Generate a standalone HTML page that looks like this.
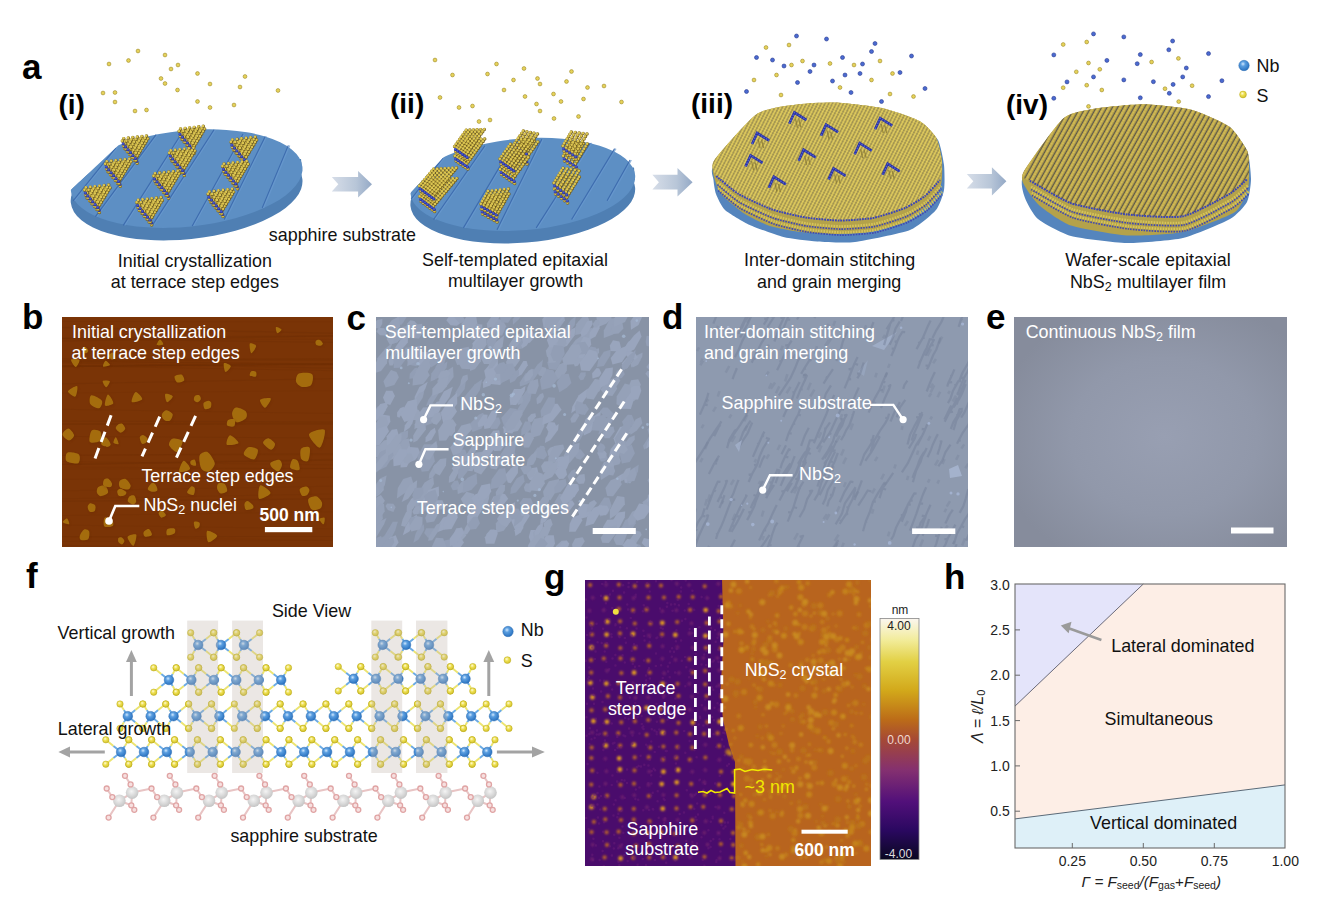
<!DOCTYPE html>
<html><head><meta charset="utf-8"><title>figure</title>
<style>html,body{margin:0;padding:0;background:#fff;width:1340px;height:910px;overflow:hidden}svg{display:block}text{font-family:"Liberation Sans",sans-serif}</style>
</head><body>
<svg width="1340" height="910" viewBox="0 0 1340 910" font-family="Liberation Sans"><defs>
<clipPath id="clipb"><rect x="62" y="317" width="271" height="230"/></clipPath>
<clipPath id="clipc"><rect x="376" y="317" width="273" height="230"/></clipPath>
<clipPath id="clipd"><rect x="696" y="317" width="272" height="230"/></clipPath>
<clipPath id="clipg"><rect x="585" y="580" width="286" height="286"/></clipPath>
<clipPath id="cliph"><rect x="1015" y="584" width="270" height="264"/></clipPath>
<filter id="soft" x="-20%" y="-20%" width="140%" height="140%"><feGaussianBlur stdDeviation="0.6"/></filter>
<filter id="soft2" x="-20%" y="-20%" width="140%" height="140%"><feGaussianBlur stdDeviation="1.0"/></filter>
<radialGradient id="eg" cx="0.55" cy="0.52" r="0.62">
<stop offset="0" stop-color="#989fb2"/><stop offset="0.55" stop-color="#9198aa"/><stop offset="1" stop-color="#868c9c"/>
</radialGradient><radialGradient id="nbg" cx="0.4" cy="0.35" r="0.65">
<stop offset="0" stop-color="#d0e8ff"/><stop offset="0.35" stop-color="#5a9ee0"/><stop offset="1" stop-color="#2a72c0"/>
</radialGradient>
<radialGradient id="sg" cx="0.4" cy="0.35" r="0.65">
<stop offset="0" stop-color="#fffbd8"/><stop offset="0.45" stop-color="#eee050"/><stop offset="1" stop-color="#d4c230"/>
</radialGradient>
<radialGradient id="alg" cx="0.45" cy="0.4" r="0.6">
<stop offset="0" stop-color="#f4f4f4"/><stop offset="0.6" stop-color="#d8d8d8"/><stop offset="1" stop-color="#c4c4c4"/>
</radialGradient>
<linearGradient id="cbar" x1="0" y1="0" x2="0" y2="1">
<stop offset="0" stop-color="#fbf6f0"/><stop offset="0.09" stop-color="#f2ec9a"/>
<stop offset="0.18" stop-color="#e2d044"/><stop offset="0.3" stop-color="#d2a81a"/>
<stop offset="0.42" stop-color="#bc6c18"/><stop offset="0.5" stop-color="#a64a34"/>
<stop offset="0.63" stop-color="#843070"/><stop offset="0.76" stop-color="#52107a"/>
<stop offset="0.88" stop-color="#2a0860"/><stop offset="1" stop-color="#0a0820"/>
</linearGradient>
<linearGradient id="arrowg" x1="0" y1="0" x2="1" y2="0">
<stop offset="0" stop-color="#d6dde8"/><stop offset="0.6" stop-color="#b8c6d8"/><stop offset="1" stop-color="#94a9c6"/>
</linearGradient>
<pattern id="film3" patternUnits="userSpaceOnUse" width="3.3" height="2.7" patternTransform="rotate(27)">
<rect width="3.3" height="2.7" fill="#6a6450"/>
<rect x="0.35" y="0" width="2.6" height="2.7" fill="#c4b04c"/>
<circle cx="1.65" cy="1.35" r="1.15" fill="#e0cc60"/>
</pattern>
<pattern id="film4" patternUnits="userSpaceOnUse" width="4.7" height="2.9" patternTransform="rotate(29)">
<rect width="4.7" height="2.9" fill="#4a4a50"/>
<rect x="0.8" y="0" width="3.7" height="2.9" fill="#b8a244"/>
<rect x="1.4" y="0.2" width="2.2" height="2.5" rx="1" fill="#d4be5a"/>
</pattern>
<pattern id="edgepat" patternUnits="userSpaceOnUse" width="3" height="4.2">
<rect width="3" height="4.2" fill="#b8a850"/>
<circle cx="1.5" cy="1.2" r="1.1" fill="#d8c860"/>
<circle cx="1.5" cy="3.2" r="0.9" fill="#4a54b8"/>
</pattern>
</defs>
<clipPath id="cd1"><path d="M29.3,229.1 L146.9,118.5 L146.9,0 L363.0,0 L363.0,300 L29.3,300Z"/></clipPath>
<g clip-path="url(#cd1)">
<ellipse cx="186.6" cy="191.1" rx="116.4" ry="48.1" transform="rotate(-5.8 186.6 191.1)" fill="#4f7fb3"/>
<rect x="70.8" y="170.6" width="231.6" height="12.5" fill="#4f7fb3" transform="rotate(-5.8 186.6 178.6)"/>
<ellipse cx="186.6" cy="178.6" rx="116.4" ry="48.1" transform="rotate(-5.8 186.6 178.6)" fill="#5d8fc4"/>
<line x1="74.39999999999999" y1="200.8" x2="117.3" y2="147.6" stroke="#6a9ad0" stroke-width="1.4" opacity="0.7"/>
<line x1="73.1" y1="200.8" x2="116" y2="147.6" stroke="#3a68ac" stroke-width="1.1" opacity="0.9"/>
<line x1="96.7" y1="216.7" x2="157.4" y2="134.6" stroke="#6a9ad0" stroke-width="1.4" opacity="0.7"/>
<line x1="95.4" y1="216.7" x2="156.1" y2="134.6" stroke="#3a68ac" stroke-width="1.1" opacity="0.9"/>
<line x1="124.6" y1="225.4" x2="183.9" y2="131.7" stroke="#6a9ad0" stroke-width="1.4" opacity="0.7"/>
<line x1="123.3" y1="225.4" x2="182.6" y2="131.7" stroke="#3a68ac" stroke-width="1.1" opacity="0.9"/>
<line x1="153.60000000000002" y1="225.4" x2="215.3" y2="129.8" stroke="#6a9ad0" stroke-width="1.4" opacity="0.7"/>
<line x1="152.3" y1="225.4" x2="214" y2="129.8" stroke="#3a68ac" stroke-width="1.1" opacity="0.9"/>
<line x1="193.5" y1="226" x2="244.3" y2="134" stroke="#6a9ad0" stroke-width="1.4" opacity="0.7"/>
<line x1="192.2" y1="226" x2="243" y2="134" stroke="#3a68ac" stroke-width="1.1" opacity="0.9"/>
<line x1="225.5" y1="219.5" x2="266.5" y2="136.5" stroke="#6a9ad0" stroke-width="1.4" opacity="0.7"/>
<line x1="224.2" y1="219.5" x2="265.2" y2="136.5" stroke="#3a68ac" stroke-width="1.1" opacity="0.9"/>
<line x1="263.5" y1="207.9" x2="289.6" y2="145.4" stroke="#6a9ad0" stroke-width="1.4" opacity="0.7"/>
<line x1="262.2" y1="207.9" x2="288.3" y2="145.4" stroke="#3a68ac" stroke-width="1.1" opacity="0.9"/>
</g>
<path d="M181.7 139.1h0M184.2 142.0h0M186.6 144.9h0M189.1 147.8h0M191.5 150.7h0M194.0 153.6h0" stroke="#7a6420" stroke-width="3.50" stroke-linecap="round" fill="none" />
<path d="M181.5 138.8h0M184.0 141.7h0M186.4 144.6h0M188.9 147.5h0M191.3 150.4h0M193.8 153.3h0" stroke="#d4be4c" stroke-width="2.60" stroke-linecap="round" fill="none" />
<path d="M180.5 134.1h0M181.9 131.8h0M183.0 137.0h0M184.7 134.1h0M186.5 131.2h0M185.4 139.9h0M186.8 137.6h0M188.2 135.3h0M189.6 133.0h0M191.0 130.7h0M187.9 142.8h0M189.4 140.3h0M190.9 137.7h0M192.5 135.2h0M194.0 132.7h0M195.5 130.2h0M190.3 145.7h0M191.7 143.4h0M193.1 141.1h0M194.5 138.8h0M195.9 136.5h0M197.3 134.2h0M198.7 131.9h0M200.1 129.6h0M192.8 148.6h0M194.3 146.2h0M195.8 143.7h0M197.2 141.3h0M198.7 138.9h0M200.2 136.4h0M201.7 134.0h0M203.1 131.5h0M204.6 129.1h0" stroke="#6e5a1c" stroke-width="3.50" stroke-linecap="round" fill="none" />
<path d="M180.2 133.8h0M181.7 131.4h0M182.7 136.7h0M184.5 133.8h0M186.2 130.9h0M185.2 139.6h0M186.6 137.2h0M188.0 134.9h0M189.3 132.6h0M190.7 130.3h0M187.6 142.5h0M189.2 139.9h0M190.7 137.4h0M192.2 134.9h0M193.7 132.3h0M195.3 129.8h0M190.1 145.4h0M191.5 143.1h0M192.9 140.8h0M194.3 138.5h0M195.6 136.2h0M197.0 133.9h0M198.4 131.6h0M199.8 129.3h0M192.6 148.3h0M194.0 145.8h0M195.5 143.4h0M197.0 140.9h0M198.5 138.5h0M199.9 136.1h0M201.4 133.6h0M202.9 131.2h0M204.4 128.8h0" stroke="#dcc652" stroke-width="2.60" stroke-linecap="round" fill="none" />
<path d="M181.4 137.1h0M183.9 140.0h0M186.3 142.9h0M188.8 145.8h0M191.2 148.7h0M193.7 151.6h0" stroke="#26309a" stroke-width="3.20" stroke-linecap="round" fill="none" />
<path d="M181.1 136.8h0M183.6 139.7h0M186.0 142.6h0M188.5 145.5h0M190.9 148.4h0M193.4 151.3h0" stroke="#4656cc" stroke-width="2.21" stroke-linecap="round" fill="none" />
<path d="M180.4 136.3h0M182.9 139.2h0M185.3 142.1h0M187.8 145.0h0M190.2 147.9h0M192.7 150.8h0" stroke="#7a6420" stroke-width="3.50" stroke-linecap="round" fill="none" />
<path d="M180.2 136.0h0M182.7 138.9h0M185.1 141.8h0M187.6 144.7h0M190.0 147.6h0M192.5 150.5h0" stroke="#d4be4c" stroke-width="2.60" stroke-linecap="round" fill="none" />
<path d="M179.2 131.3h0M180.6 129.0h0M181.7 134.2h0M183.4 131.3h0M185.2 128.4h0M184.1 137.1h0M185.5 134.8h0M186.9 132.5h0M188.3 130.2h0M189.7 127.9h0M186.6 140.0h0M188.1 137.5h0M189.6 134.9h0M191.2 132.4h0M192.7 129.9h0M194.2 127.4h0M189.0 142.9h0M190.4 140.6h0M191.8 138.3h0M193.2 136.0h0M194.6 133.7h0M196.0 131.4h0M197.4 129.1h0M198.8 126.8h0M191.5 145.8h0M193.0 143.4h0M194.4 140.9h0M195.9 138.5h0M197.4 136.1h0M198.9 133.6h0M200.4 131.2h0M201.8 128.7h0M203.3 126.3h0" stroke="#6e5a1c" stroke-width="3.50" stroke-linecap="round" fill="none" />
<path d="M178.9 131.0h0M180.4 128.6h0M181.4 133.9h0M183.2 131.0h0M184.9 128.1h0M183.9 136.8h0M185.3 134.4h0M186.7 132.1h0M188.0 129.8h0M189.4 127.5h0M186.3 139.7h0M187.9 137.1h0M189.4 134.6h0M190.9 132.1h0M192.4 129.5h0M194.0 127.0h0M188.8 142.6h0M190.2 140.3h0M191.6 138.0h0M193.0 135.7h0M194.3 133.4h0M195.7 131.1h0M197.1 128.8h0M198.5 126.5h0M191.2 145.5h0M192.7 143.0h0M194.2 140.6h0M195.7 138.1h0M197.2 135.7h0M198.6 133.3h0M200.1 130.8h0M201.6 128.4h0M203.1 126.0h0" stroke="#dcc652" stroke-width="2.60" stroke-linecap="round" fill="none" />
<path d="M180.1 134.3h0M182.6 137.2h0M185.0 140.1h0M187.5 143.0h0M189.9 145.9h0M192.4 148.8h0" stroke="#26309a" stroke-width="3.20" stroke-linecap="round" fill="none" />
<path d="M179.8 134.0h0M182.3 136.9h0M184.7 139.8h0M187.2 142.7h0M189.6 145.6h0M192.1 148.5h0" stroke="#4656cc" stroke-width="2.21" stroke-linecap="round" fill="none" />
<path d="M124.9 148.8h0M127.4 151.7h0M129.8 154.6h0M132.3 157.5h0M134.7 160.4h0M137.2 163.3h0" stroke="#7a6420" stroke-width="3.50" stroke-linecap="round" fill="none" />
<path d="M124.7 148.5h0M127.2 151.4h0M129.6 154.3h0M132.1 157.2h0M134.5 160.1h0M137.0 163.0h0" stroke="#d4be4c" stroke-width="2.60" stroke-linecap="round" fill="none" />
<path d="M123.7 143.8h0M125.1 141.5h0M126.2 146.7h0M127.9 143.8h0M129.7 140.9h0M128.6 149.6h0M130.0 147.3h0M131.4 145.0h0M132.8 142.7h0M134.2 140.4h0M131.1 152.5h0M132.6 150.0h0M134.1 147.4h0M135.7 144.9h0M137.2 142.4h0M138.7 139.9h0M133.5 155.4h0M134.9 153.1h0M136.3 150.8h0M137.7 148.5h0M139.1 146.2h0M140.5 143.9h0M141.9 141.6h0M143.3 139.3h0M136.0 158.3h0M137.5 155.9h0M138.9 153.4h0M140.4 151.0h0M141.9 148.6h0M143.4 146.1h0M144.9 143.7h0M146.3 141.2h0M147.8 138.8h0" stroke="#6e5a1c" stroke-width="3.50" stroke-linecap="round" fill="none" />
<path d="M123.4 143.5h0M124.9 141.1h0M125.9 146.4h0M127.7 143.5h0M129.4 140.6h0M128.4 149.3h0M129.8 146.9h0M131.2 144.6h0M132.5 142.3h0M133.9 140.0h0M130.8 152.2h0M132.4 149.6h0M133.9 147.1h0M135.4 144.6h0M136.9 142.0h0M138.5 139.5h0M133.3 155.1h0M134.7 152.8h0M136.1 150.5h0M137.5 148.2h0M138.8 145.9h0M140.2 143.6h0M141.6 141.3h0M143.0 139.0h0M135.8 158.0h0M137.2 155.5h0M138.7 153.1h0M140.2 150.6h0M141.7 148.2h0M143.1 145.8h0M144.6 143.3h0M146.1 140.9h0M147.6 138.5h0" stroke="#dcc652" stroke-width="2.60" stroke-linecap="round" fill="none" />
<path d="M124.6 146.8h0M127.1 149.7h0M129.5 152.6h0M132.0 155.5h0M134.4 158.4h0M136.9 161.3h0" stroke="#26309a" stroke-width="3.20" stroke-linecap="round" fill="none" />
<path d="M124.3 146.5h0M126.8 149.4h0M129.2 152.3h0M131.7 155.2h0M134.1 158.1h0M136.6 161.0h0" stroke="#4656cc" stroke-width="2.21" stroke-linecap="round" fill="none" />
<path d="M123.6 146.0h0M126.1 148.9h0M128.5 151.8h0M131.0 154.7h0M133.4 157.6h0M135.9 160.5h0" stroke="#7a6420" stroke-width="3.50" stroke-linecap="round" fill="none" />
<path d="M123.4 145.7h0M125.9 148.6h0M128.3 151.5h0M130.8 154.4h0M133.2 157.3h0M135.7 160.2h0" stroke="#d4be4c" stroke-width="2.60" stroke-linecap="round" fill="none" />
<path d="M122.4 141.0h0M123.8 138.7h0M124.9 143.9h0M126.6 141.0h0M128.4 138.1h0M127.3 146.8h0M128.7 144.5h0M130.1 142.2h0M131.5 139.9h0M132.9 137.6h0M129.8 149.7h0M131.3 147.2h0M132.8 144.6h0M134.4 142.1h0M135.9 139.6h0M137.4 137.1h0M132.2 152.6h0M133.6 150.3h0M135.0 148.0h0M136.4 145.7h0M137.8 143.4h0M139.2 141.1h0M140.6 138.8h0M142.0 136.5h0M134.7 155.5h0M136.2 153.1h0M137.6 150.6h0M139.1 148.2h0M140.6 145.8h0M142.1 143.3h0M143.6 140.9h0M145.0 138.4h0M146.5 136.0h0" stroke="#6e5a1c" stroke-width="3.50" stroke-linecap="round" fill="none" />
<path d="M122.1 140.7h0M123.6 138.3h0M124.6 143.6h0M126.4 140.7h0M128.1 137.8h0M127.1 146.5h0M128.5 144.1h0M129.9 141.8h0M131.2 139.5h0M132.6 137.2h0M129.5 149.3h0M131.1 146.8h0M132.6 144.3h0M134.1 141.8h0M135.6 139.2h0M137.2 136.7h0M132.0 152.2h0M133.4 150.0h0M134.8 147.7h0M136.2 145.4h0M137.5 143.1h0M138.9 140.8h0M140.3 138.5h0M141.7 136.2h0M134.4 155.2h0M135.9 152.7h0M137.4 150.3h0M138.9 147.8h0M140.3 145.4h0M141.8 143.0h0M143.3 140.5h0M144.8 138.1h0M146.2 135.7h0" stroke="#dcc652" stroke-width="2.60" stroke-linecap="round" fill="none" />
<path d="M123.3 144.0h0M125.8 146.9h0M128.2 149.8h0M130.7 152.7h0M133.1 155.6h0M135.6 158.5h0" stroke="#26309a" stroke-width="3.20" stroke-linecap="round" fill="none" />
<path d="M123.0 143.7h0M125.5 146.6h0M127.9 149.5h0M130.4 152.4h0M132.8 155.3h0M135.3 158.2h0" stroke="#4656cc" stroke-width="2.21" stroke-linecap="round" fill="none" />
<path d="M233.7 150.0h0M236.2 152.9h0M238.6 155.8h0M241.1 158.7h0M243.5 161.6h0M246.0 164.5h0" stroke="#7a6420" stroke-width="3.50" stroke-linecap="round" fill="none" />
<path d="M233.5 149.7h0M236.0 152.6h0M238.4 155.5h0M240.9 158.4h0M243.3 161.3h0M245.8 164.2h0" stroke="#d4be4c" stroke-width="2.60" stroke-linecap="round" fill="none" />
<path d="M232.5 145.0h0M233.9 142.7h0M235.0 147.9h0M236.7 145.0h0M238.5 142.1h0M237.4 150.8h0M238.8 148.5h0M240.2 146.2h0M241.6 143.9h0M243.0 141.6h0M239.9 153.7h0M241.4 151.2h0M242.9 148.6h0M244.5 146.1h0M246.0 143.6h0M247.5 141.1h0M242.3 156.6h0M243.7 154.3h0M245.1 152.0h0M246.5 149.7h0M247.9 147.4h0M249.3 145.1h0M250.7 142.8h0M252.1 140.5h0M244.8 159.5h0M246.3 157.1h0M247.8 154.6h0M249.2 152.2h0M250.7 149.8h0M252.2 147.3h0M253.7 144.9h0M255.1 142.4h0M256.6 140.0h0" stroke="#6e5a1c" stroke-width="3.50" stroke-linecap="round" fill="none" />
<path d="M232.2 144.7h0M233.7 142.3h0M234.7 147.6h0M236.5 144.7h0M238.2 141.8h0M237.2 150.5h0M238.6 148.1h0M240.0 145.8h0M241.3 143.5h0M242.7 141.2h0M239.6 153.3h0M241.2 150.8h0M242.7 148.3h0M244.2 145.8h0M245.7 143.2h0M247.3 140.7h0M242.1 156.2h0M243.5 154.0h0M244.9 151.7h0M246.3 149.4h0M247.6 147.1h0M249.0 144.8h0M250.4 142.5h0M251.8 140.2h0M244.6 159.2h0M246.0 156.7h0M247.5 154.3h0M249.0 151.8h0M250.5 149.4h0M251.9 147.0h0M253.4 144.5h0M254.9 142.1h0M256.4 139.7h0" stroke="#dcc652" stroke-width="2.60" stroke-linecap="round" fill="none" />
<path d="M233.4 148.0h0M235.9 150.9h0M238.3 153.8h0M240.8 156.7h0M243.2 159.6h0M245.7 162.5h0" stroke="#26309a" stroke-width="3.20" stroke-linecap="round" fill="none" />
<path d="M233.1 147.7h0M235.6 150.6h0M238.0 153.5h0M240.5 156.4h0M242.9 159.3h0M245.4 162.2h0" stroke="#4656cc" stroke-width="2.21" stroke-linecap="round" fill="none" />
<path d="M232.4 147.2h0M234.9 150.1h0M237.3 153.0h0M239.8 155.9h0M242.2 158.8h0M244.7 161.7h0" stroke="#7a6420" stroke-width="3.50" stroke-linecap="round" fill="none" />
<path d="M232.2 146.9h0M234.7 149.8h0M237.1 152.7h0M239.6 155.6h0M242.0 158.5h0M244.5 161.4h0" stroke="#d4be4c" stroke-width="2.60" stroke-linecap="round" fill="none" />
<path d="M231.2 142.2h0M232.6 139.9h0M233.7 145.1h0M235.4 142.2h0M237.2 139.3h0M236.1 148.0h0M237.5 145.7h0M238.9 143.4h0M240.3 141.1h0M241.7 138.8h0M238.6 150.9h0M240.1 148.4h0M241.6 145.8h0M243.2 143.3h0M244.7 140.8h0M246.2 138.3h0M241.0 153.8h0M242.4 151.5h0M243.8 149.2h0M245.2 146.9h0M246.6 144.6h0M248.0 142.3h0M249.4 140.0h0M250.8 137.7h0M243.5 156.7h0M245.0 154.3h0M246.4 151.8h0M247.9 149.4h0M249.4 146.9h0M250.9 144.5h0M252.4 142.1h0M253.8 139.6h0M255.3 137.2h0" stroke="#6e5a1c" stroke-width="3.50" stroke-linecap="round" fill="none" />
<path d="M230.9 141.8h0M232.4 139.5h0M233.4 144.8h0M235.2 141.9h0M236.9 139.0h0M235.9 147.7h0M237.3 145.3h0M238.7 143.0h0M240.0 140.7h0M241.4 138.4h0M238.3 150.5h0M239.9 148.0h0M241.4 145.5h0M242.9 143.0h0M244.4 140.4h0M246.0 137.9h0M240.8 153.4h0M242.2 151.2h0M243.6 148.9h0M245.0 146.6h0M246.3 144.3h0M247.7 142.0h0M249.1 139.7h0M250.5 137.4h0M243.2 156.3h0M244.7 153.9h0M246.2 151.5h0M247.7 149.0h0M249.2 146.6h0M250.6 144.2h0M252.1 141.7h0M253.6 139.3h0M255.1 136.8h0" stroke="#dcc652" stroke-width="2.60" stroke-linecap="round" fill="none" />
<path d="M232.1 145.2h0M234.6 148.1h0M237.0 151.0h0M239.5 153.9h0M241.9 156.8h0M244.4 159.7h0" stroke="#26309a" stroke-width="3.20" stroke-linecap="round" fill="none" />
<path d="M231.8 144.9h0M234.3 147.8h0M236.7 150.7h0M239.2 153.6h0M241.6 156.5h0M244.1 159.4h0" stroke="#4656cc" stroke-width="2.21" stroke-linecap="round" fill="none" />
<path d="M172.0 160.9h0M174.5 163.8h0M176.9 166.7h0M179.4 169.6h0M181.8 172.5h0M184.3 175.4h0" stroke="#7a6420" stroke-width="3.50" stroke-linecap="round" fill="none" />
<path d="M171.8 160.6h0M174.3 163.5h0M176.7 166.4h0M179.2 169.3h0M181.6 172.2h0M184.1 175.1h0" stroke="#d4be4c" stroke-width="2.60" stroke-linecap="round" fill="none" />
<path d="M170.8 155.9h0M172.2 153.6h0M173.3 158.8h0M175.0 155.9h0M176.8 153.0h0M175.7 161.7h0M177.1 159.4h0M178.5 157.1h0M179.9 154.8h0M181.3 152.5h0M178.2 164.6h0M179.7 162.1h0M181.2 159.5h0M182.8 157.0h0M184.3 154.5h0M185.8 152.0h0M180.6 167.5h0M182.0 165.2h0M183.4 162.9h0M184.8 160.6h0M186.2 158.3h0M187.6 156.0h0M189.0 153.7h0M190.4 151.4h0M183.1 170.4h0M184.6 168.0h0M186.1 165.5h0M187.5 163.1h0M189.0 160.7h0M190.5 158.2h0M192.0 155.8h0M193.4 153.3h0M194.9 150.9h0" stroke="#6e5a1c" stroke-width="3.50" stroke-linecap="round" fill="none" />
<path d="M170.6 155.6h0M172.0 153.2h0M173.0 158.5h0M174.8 155.6h0M176.5 152.7h0M175.5 161.4h0M176.9 159.0h0M178.3 156.7h0M179.6 154.4h0M181.0 152.1h0M177.9 164.2h0M179.5 161.7h0M181.0 159.2h0M182.5 156.7h0M184.0 154.1h0M185.6 151.6h0M180.4 167.2h0M181.8 164.9h0M183.2 162.6h0M184.6 160.3h0M185.9 158.0h0M187.3 155.7h0M188.7 153.4h0M190.1 151.1h0M182.9 170.1h0M184.3 167.6h0M185.8 165.2h0M187.3 162.7h0M188.8 160.3h0M190.2 157.9h0M191.7 155.4h0M193.2 153.0h0M194.7 150.6h0" stroke="#dcc652" stroke-width="2.60" stroke-linecap="round" fill="none" />
<path d="M171.7 158.9h0M174.2 161.8h0M176.6 164.7h0M179.1 167.6h0M181.5 170.5h0M184.0 173.4h0" stroke="#26309a" stroke-width="3.20" stroke-linecap="round" fill="none" />
<path d="M171.4 158.6h0M173.9 161.5h0M176.3 164.4h0M178.8 167.3h0M181.2 170.2h0M183.7 173.1h0" stroke="#4656cc" stroke-width="2.21" stroke-linecap="round" fill="none" />
<path d="M170.7 158.1h0M173.2 161.0h0M175.6 163.9h0M178.1 166.8h0M180.5 169.7h0M183.0 172.6h0" stroke="#7a6420" stroke-width="3.50" stroke-linecap="round" fill="none" />
<path d="M170.5 157.8h0M173.0 160.7h0M175.4 163.6h0M177.9 166.5h0M180.3 169.4h0M182.8 172.3h0" stroke="#d4be4c" stroke-width="2.60" stroke-linecap="round" fill="none" />
<path d="M169.5 153.1h0M170.9 150.8h0M172.0 156.0h0M173.7 153.1h0M175.5 150.2h0M174.4 158.9h0M175.8 156.6h0M177.2 154.3h0M178.6 152.0h0M180.0 149.7h0M176.9 161.8h0M178.4 159.3h0M179.9 156.7h0M181.5 154.2h0M183.0 151.7h0M184.5 149.2h0M179.3 164.7h0M180.7 162.4h0M182.1 160.1h0M183.5 157.8h0M184.9 155.5h0M186.3 153.2h0M187.7 150.9h0M189.1 148.6h0M181.8 167.6h0M183.3 165.2h0M184.8 162.7h0M186.2 160.3h0M187.7 157.8h0M189.2 155.4h0M190.7 153.0h0M192.1 150.5h0M193.6 148.1h0" stroke="#6e5a1c" stroke-width="3.50" stroke-linecap="round" fill="none" />
<path d="M169.2 152.8h0M170.7 150.4h0M171.7 155.7h0M173.5 152.8h0M175.2 149.9h0M174.2 158.6h0M175.6 156.2h0M177.0 153.9h0M178.3 151.6h0M179.7 149.3h0M176.6 161.4h0M178.2 158.9h0M179.7 156.4h0M181.2 153.9h0M182.7 151.3h0M184.3 148.8h0M179.1 164.3h0M180.5 162.1h0M181.9 159.8h0M183.3 157.5h0M184.6 155.2h0M186.0 152.9h0M187.4 150.6h0M188.8 148.3h0M181.6 167.2h0M183.0 164.8h0M184.5 162.4h0M186.0 159.9h0M187.5 157.5h0M188.9 155.1h0M190.4 152.6h0M191.9 150.2h0M193.4 147.8h0" stroke="#dcc652" stroke-width="2.60" stroke-linecap="round" fill="none" />
<path d="M170.4 156.1h0M172.9 159.0h0M175.3 161.9h0M177.8 164.8h0M180.2 167.7h0M182.7 170.6h0" stroke="#26309a" stroke-width="3.20" stroke-linecap="round" fill="none" />
<path d="M170.1 155.8h0M172.6 158.7h0M175.0 161.6h0M177.5 164.5h0M179.9 167.4h0M182.4 170.3h0" stroke="#4656cc" stroke-width="2.21" stroke-linecap="round" fill="none" />
<path d="M108.0 171.8h0M110.5 174.7h0M112.9 177.6h0M115.4 180.5h0M117.8 183.4h0M120.3 186.3h0" stroke="#7a6420" stroke-width="3.50" stroke-linecap="round" fill="none" />
<path d="M107.8 171.5h0M110.3 174.4h0M112.7 177.3h0M115.2 180.2h0M117.6 183.1h0M120.1 186.0h0" stroke="#d4be4c" stroke-width="2.60" stroke-linecap="round" fill="none" />
<path d="M106.8 166.8h0M108.2 164.5h0M109.3 169.7h0M111.0 166.8h0M112.8 163.9h0M111.7 172.6h0M113.1 170.3h0M114.5 168.0h0M115.9 165.7h0M117.3 163.4h0M114.2 175.5h0M115.7 173.0h0M117.2 170.4h0M118.8 167.9h0M120.3 165.4h0M121.8 162.9h0M116.6 178.4h0M118.0 176.1h0M119.4 173.8h0M120.8 171.5h0M122.2 169.2h0M123.6 166.9h0M125.0 164.6h0M126.4 162.3h0M119.1 181.3h0M120.6 178.9h0M122.0 176.4h0M123.5 174.0h0M125.0 171.6h0M126.5 169.1h0M128.0 166.7h0M129.4 164.2h0M130.9 161.8h0" stroke="#6e5a1c" stroke-width="3.50" stroke-linecap="round" fill="none" />
<path d="M106.5 166.5h0M108.0 164.1h0M109.0 169.4h0M110.8 166.5h0M112.5 163.6h0M111.5 172.3h0M112.9 169.9h0M114.3 167.6h0M115.6 165.3h0M117.0 163.0h0M113.9 175.2h0M115.5 172.6h0M117.0 170.1h0M118.5 167.6h0M120.0 165.0h0M121.6 162.5h0M116.4 178.1h0M117.8 175.8h0M119.2 173.5h0M120.6 171.2h0M121.9 168.9h0M123.3 166.6h0M124.7 164.3h0M126.1 162.0h0M118.8 181.0h0M120.3 178.5h0M121.8 176.1h0M123.3 173.6h0M124.8 171.2h0M126.2 168.8h0M127.7 166.3h0M129.2 163.9h0M130.7 161.5h0" stroke="#dcc652" stroke-width="2.60" stroke-linecap="round" fill="none" />
<path d="M107.7 169.8h0M110.2 172.7h0M112.6 175.6h0M115.1 178.5h0M117.5 181.4h0M120.0 184.3h0" stroke="#26309a" stroke-width="3.20" stroke-linecap="round" fill="none" />
<path d="M107.4 169.5h0M109.9 172.4h0M112.3 175.3h0M114.8 178.2h0M117.2 181.1h0M119.7 184.0h0" stroke="#4656cc" stroke-width="2.21" stroke-linecap="round" fill="none" />
<path d="M106.7 169.0h0M109.2 171.9h0M111.6 174.8h0M114.1 177.7h0M116.5 180.6h0M119.0 183.5h0" stroke="#7a6420" stroke-width="3.50" stroke-linecap="round" fill="none" />
<path d="M106.5 168.7h0M109.0 171.6h0M111.4 174.5h0M113.9 177.4h0M116.3 180.3h0M118.8 183.2h0" stroke="#d4be4c" stroke-width="2.60" stroke-linecap="round" fill="none" />
<path d="M105.5 164.0h0M106.9 161.7h0M108.0 166.9h0M109.7 164.0h0M111.5 161.1h0M110.4 169.8h0M111.8 167.5h0M113.2 165.2h0M114.6 162.9h0M116.0 160.6h0M112.9 172.7h0M114.4 170.2h0M115.9 167.6h0M117.5 165.1h0M119.0 162.6h0M120.5 160.1h0M115.3 175.6h0M116.7 173.3h0M118.1 171.0h0M119.5 168.7h0M120.9 166.4h0M122.3 164.1h0M123.7 161.8h0M125.1 159.5h0M117.8 178.5h0M119.3 176.1h0M120.8 173.6h0M122.2 171.2h0M123.7 168.8h0M125.2 166.3h0M126.6 163.9h0M128.1 161.4h0M129.6 159.0h0" stroke="#6e5a1c" stroke-width="3.50" stroke-linecap="round" fill="none" />
<path d="M105.2 163.7h0M106.7 161.3h0M107.7 166.6h0M109.5 163.7h0M111.2 160.8h0M110.2 169.5h0M111.6 167.1h0M113.0 164.8h0M114.3 162.5h0M115.7 160.2h0M112.6 172.3h0M114.2 169.8h0M115.7 167.3h0M117.2 164.8h0M118.7 162.2h0M120.3 159.7h0M115.1 175.2h0M116.5 173.0h0M117.9 170.7h0M119.3 168.4h0M120.6 166.1h0M122.0 163.8h0M123.4 161.5h0M124.8 159.2h0M117.5 178.2h0M119.0 175.7h0M120.5 173.3h0M122.0 170.8h0M123.4 168.4h0M124.9 166.0h0M126.4 163.5h0M127.9 161.1h0M129.3 158.7h0" stroke="#dcc652" stroke-width="2.60" stroke-linecap="round" fill="none" />
<path d="M106.4 167.0h0M108.9 169.9h0M111.3 172.8h0M113.8 175.7h0M116.2 178.6h0M118.7 181.5h0" stroke="#26309a" stroke-width="3.20" stroke-linecap="round" fill="none" />
<path d="M106.1 166.7h0M108.6 169.6h0M111.0 172.5h0M113.5 175.4h0M115.9 178.3h0M118.4 181.2h0" stroke="#4656cc" stroke-width="2.21" stroke-linecap="round" fill="none" />
<path d="M225.2 174.2h0M227.7 177.1h0M230.1 180.0h0M232.6 182.9h0M235.0 185.8h0M237.5 188.7h0" stroke="#7a6420" stroke-width="3.50" stroke-linecap="round" fill="none" />
<path d="M225.0 173.9h0M227.5 176.8h0M229.9 179.7h0M232.4 182.6h0M234.8 185.5h0M237.3 188.4h0" stroke="#d4be4c" stroke-width="2.60" stroke-linecap="round" fill="none" />
<path d="M224.0 169.2h0M225.4 166.9h0M226.5 172.1h0M228.2 169.2h0M230.0 166.3h0M228.9 175.0h0M230.3 172.7h0M231.7 170.4h0M233.1 168.1h0M234.5 165.8h0M231.4 177.9h0M232.9 175.4h0M234.4 172.8h0M236.0 170.3h0M237.5 167.8h0M239.0 165.3h0M233.8 180.8h0M235.2 178.5h0M236.6 176.2h0M238.0 173.9h0M239.4 171.6h0M240.8 169.3h0M242.2 167.0h0M243.6 164.7h0M236.3 183.7h0M237.8 181.3h0M239.2 178.8h0M240.7 176.4h0M242.2 174.0h0M243.7 171.5h0M245.2 169.1h0M246.6 166.6h0M248.1 164.2h0" stroke="#6e5a1c" stroke-width="3.50" stroke-linecap="round" fill="none" />
<path d="M223.8 168.9h0M225.2 166.5h0M226.2 171.8h0M228.0 168.9h0M229.7 166.0h0M228.7 174.7h0M230.1 172.3h0M231.5 170.0h0M232.8 167.7h0M234.2 165.4h0M231.1 177.6h0M232.7 175.0h0M234.2 172.5h0M235.7 170.0h0M237.2 167.4h0M238.8 164.9h0M233.6 180.5h0M235.0 178.2h0M236.4 175.9h0M237.8 173.6h0M239.1 171.3h0M240.5 169.0h0M241.9 166.7h0M243.3 164.4h0M236.1 183.4h0M237.5 180.9h0M239.0 178.5h0M240.5 176.0h0M242.0 173.6h0M243.4 171.2h0M244.9 168.7h0M246.4 166.3h0M247.9 163.9h0" stroke="#dcc652" stroke-width="2.60" stroke-linecap="round" fill="none" />
<path d="M224.9 172.2h0M227.4 175.1h0M229.8 178.0h0M232.3 180.9h0M234.7 183.8h0M237.2 186.7h0" stroke="#26309a" stroke-width="3.20" stroke-linecap="round" fill="none" />
<path d="M224.6 171.9h0M227.1 174.8h0M229.5 177.7h0M232.0 180.6h0M234.4 183.5h0M236.9 186.4h0" stroke="#4656cc" stroke-width="2.21" stroke-linecap="round" fill="none" />
<path d="M223.9 171.4h0M226.4 174.3h0M228.8 177.2h0M231.3 180.1h0M233.7 183.0h0M236.2 185.9h0" stroke="#7a6420" stroke-width="3.50" stroke-linecap="round" fill="none" />
<path d="M223.7 171.1h0M226.2 174.0h0M228.6 176.9h0M231.1 179.8h0M233.5 182.7h0M236.0 185.6h0" stroke="#d4be4c" stroke-width="2.60" stroke-linecap="round" fill="none" />
<path d="M222.7 166.4h0M224.1 164.1h0M225.2 169.3h0M226.9 166.4h0M228.7 163.5h0M227.6 172.2h0M229.0 169.9h0M230.4 167.6h0M231.8 165.3h0M233.2 163.0h0M230.1 175.1h0M231.6 172.6h0M233.1 170.0h0M234.7 167.5h0M236.2 165.0h0M237.7 162.5h0M232.5 178.0h0M233.9 175.7h0M235.3 173.4h0M236.7 171.1h0M238.1 168.8h0M239.5 166.5h0M240.9 164.2h0M242.3 161.9h0M235.0 180.9h0M236.5 178.5h0M237.9 176.0h0M239.4 173.6h0M240.9 171.2h0M242.4 168.7h0M243.9 166.3h0M245.3 163.8h0M246.8 161.4h0" stroke="#6e5a1c" stroke-width="3.50" stroke-linecap="round" fill="none" />
<path d="M222.4 166.1h0M223.9 163.7h0M224.9 169.0h0M226.7 166.1h0M228.4 163.2h0M227.4 171.9h0M228.8 169.5h0M230.2 167.2h0M231.5 164.9h0M232.9 162.6h0M229.8 174.8h0M231.4 172.2h0M232.9 169.7h0M234.4 167.2h0M235.9 164.6h0M237.5 162.1h0M232.3 177.7h0M233.7 175.4h0M235.1 173.1h0M236.5 170.8h0M237.8 168.5h0M239.2 166.2h0M240.6 163.9h0M242.0 161.6h0M234.8 180.6h0M236.2 178.1h0M237.7 175.7h0M239.2 173.2h0M240.7 170.8h0M242.1 168.4h0M243.6 165.9h0M245.1 163.5h0M246.6 161.1h0" stroke="#dcc652" stroke-width="2.60" stroke-linecap="round" fill="none" />
<path d="M223.6 169.4h0M226.1 172.3h0M228.5 175.2h0M231.0 178.1h0M233.4 181.0h0M235.9 183.9h0" stroke="#26309a" stroke-width="3.20" stroke-linecap="round" fill="none" />
<path d="M223.3 169.1h0M225.8 172.0h0M228.2 174.9h0M230.7 177.8h0M233.1 180.7h0M235.6 183.6h0" stroke="#4656cc" stroke-width="2.21" stroke-linecap="round" fill="none" />
<path d="M156.3 183.8h0M158.8 186.7h0M161.2 189.6h0M163.7 192.5h0M166.1 195.4h0M168.6 198.3h0" stroke="#7a6420" stroke-width="3.50" stroke-linecap="round" fill="none" />
<path d="M156.1 183.5h0M158.6 186.4h0M161.0 189.3h0M163.5 192.2h0M165.9 195.1h0M168.4 198.0h0" stroke="#d4be4c" stroke-width="2.60" stroke-linecap="round" fill="none" />
<path d="M155.1 178.8h0M156.5 176.5h0M157.6 181.7h0M159.3 178.8h0M161.1 175.9h0M160.0 184.6h0M161.4 182.3h0M162.8 180.0h0M164.2 177.7h0M165.6 175.4h0M162.5 187.5h0M164.0 185.0h0M165.5 182.4h0M167.1 179.9h0M168.6 177.4h0M170.1 174.9h0M164.9 190.4h0M166.3 188.1h0M167.7 185.8h0M169.1 183.5h0M170.5 181.2h0M171.9 178.9h0M173.3 176.6h0M174.7 174.3h0M167.4 193.3h0M168.9 190.9h0M170.4 188.4h0M171.8 186.0h0M173.3 183.6h0M174.8 181.1h0M176.2 178.7h0M177.7 176.2h0M179.2 173.8h0" stroke="#6e5a1c" stroke-width="3.50" stroke-linecap="round" fill="none" />
<path d="M154.8 178.5h0M156.3 176.1h0M157.3 181.4h0M159.1 178.5h0M160.8 175.6h0M159.8 184.3h0M161.2 181.9h0M162.6 179.6h0M163.9 177.3h0M165.3 175.0h0M162.2 187.2h0M163.8 184.6h0M165.3 182.1h0M166.8 179.6h0M168.3 177.0h0M169.9 174.5h0M164.7 190.1h0M166.1 187.8h0M167.5 185.5h0M168.9 183.2h0M170.2 180.9h0M171.6 178.6h0M173.0 176.3h0M174.4 174.0h0M167.2 193.0h0M168.6 190.5h0M170.1 188.1h0M171.6 185.6h0M173.1 183.2h0M174.5 180.8h0M176.0 178.3h0M177.5 175.9h0M179.0 173.5h0" stroke="#dcc652" stroke-width="2.60" stroke-linecap="round" fill="none" />
<path d="M156.0 181.8h0M158.5 184.7h0M160.9 187.6h0M163.4 190.5h0M165.8 193.4h0M168.3 196.3h0" stroke="#26309a" stroke-width="3.20" stroke-linecap="round" fill="none" />
<path d="M155.7 181.5h0M158.2 184.4h0M160.6 187.3h0M163.1 190.2h0M165.5 193.1h0M168.0 196.0h0" stroke="#4656cc" stroke-width="2.21" stroke-linecap="round" fill="none" />
<path d="M155.0 181.0h0M157.5 183.9h0M159.9 186.8h0M162.4 189.7h0M164.8 192.6h0M167.3 195.5h0" stroke="#7a6420" stroke-width="3.50" stroke-linecap="round" fill="none" />
<path d="M154.8 180.7h0M157.3 183.6h0M159.7 186.5h0M162.2 189.4h0M164.6 192.3h0M167.1 195.2h0" stroke="#d4be4c" stroke-width="2.60" stroke-linecap="round" fill="none" />
<path d="M153.8 176.0h0M155.2 173.7h0M156.3 178.9h0M158.0 176.0h0M159.8 173.1h0M158.7 181.8h0M160.1 179.5h0M161.5 177.2h0M162.9 174.9h0M164.3 172.6h0M161.2 184.7h0M162.7 182.2h0M164.2 179.6h0M165.8 177.1h0M167.3 174.6h0M168.8 172.1h0M163.6 187.6h0M165.0 185.3h0M166.4 183.0h0M167.8 180.7h0M169.2 178.4h0M170.6 176.1h0M172.0 173.8h0M173.4 171.5h0M166.1 190.5h0M167.6 188.1h0M169.1 185.6h0M170.5 183.2h0M172.0 180.8h0M173.5 178.3h0M174.9 175.9h0M176.4 173.4h0M177.9 171.0h0" stroke="#6e5a1c" stroke-width="3.50" stroke-linecap="round" fill="none" />
<path d="M153.5 175.7h0M155.0 173.3h0M156.0 178.6h0M157.8 175.7h0M159.5 172.8h0M158.5 181.5h0M159.9 179.1h0M161.3 176.8h0M162.6 174.5h0M164.0 172.2h0M160.9 184.3h0M162.5 181.8h0M164.0 179.3h0M165.5 176.8h0M167.0 174.2h0M168.6 171.7h0M163.4 187.2h0M164.8 185.0h0M166.2 182.7h0M167.6 180.4h0M168.9 178.1h0M170.3 175.8h0M171.7 173.5h0M173.1 171.2h0M165.8 190.2h0M167.3 187.7h0M168.8 185.3h0M170.3 182.8h0M171.8 180.4h0M173.2 178.0h0M174.7 175.5h0M176.2 173.1h0M177.7 170.7h0" stroke="#dcc652" stroke-width="2.60" stroke-linecap="round" fill="none" />
<path d="M154.7 179.0h0M157.2 181.9h0M159.6 184.8h0M162.1 187.7h0M164.5 190.6h0M167.0 193.5h0" stroke="#26309a" stroke-width="3.20" stroke-linecap="round" fill="none" />
<path d="M154.4 178.7h0M156.9 181.6h0M159.3 184.5h0M161.8 187.4h0M164.2 190.3h0M166.7 193.2h0" stroke="#4656cc" stroke-width="2.21" stroke-linecap="round" fill="none" />
<path d="M87.1 197.9h0M89.6 200.8h0M92.0 203.7h0M94.5 206.6h0M96.9 209.5h0M99.4 212.4h0" stroke="#7a6420" stroke-width="3.50" stroke-linecap="round" fill="none" />
<path d="M86.9 197.6h0M89.4 200.5h0M91.8 203.4h0M94.3 206.3h0M96.7 209.2h0M99.2 212.1h0" stroke="#d4be4c" stroke-width="2.60" stroke-linecap="round" fill="none" />
<path d="M85.9 192.9h0M87.3 190.6h0M88.4 195.8h0M90.1 192.9h0M91.9 190.0h0M90.8 198.7h0M92.2 196.4h0M93.6 194.1h0M95.0 191.8h0M96.4 189.5h0M93.3 201.6h0M94.8 199.1h0M96.3 196.5h0M97.9 194.0h0M99.4 191.5h0M100.9 189.0h0M95.7 204.5h0M97.1 202.2h0M98.5 199.9h0M99.9 197.6h0M101.3 195.3h0M102.7 193.0h0M104.1 190.7h0M105.5 188.4h0M98.2 207.4h0M99.7 205.0h0M101.2 202.5h0M102.6 200.1h0M104.1 197.7h0M105.6 195.2h0M107.0 192.8h0M108.5 190.3h0M110.0 187.9h0" stroke="#6e5a1c" stroke-width="3.50" stroke-linecap="round" fill="none" />
<path d="M85.7 192.6h0M87.1 190.2h0M88.1 195.5h0M89.9 192.6h0M91.6 189.7h0M90.6 198.4h0M92.0 196.0h0M93.4 193.7h0M94.7 191.4h0M96.1 189.1h0M93.0 201.2h0M94.6 198.7h0M96.1 196.2h0M97.6 193.7h0M99.1 191.1h0M100.7 188.6h0M95.5 204.2h0M96.9 201.9h0M98.3 199.6h0M99.7 197.3h0M101.0 195.0h0M102.4 192.7h0M103.8 190.4h0M105.2 188.1h0M98.0 207.1h0M99.4 204.6h0M100.9 202.2h0M102.4 199.7h0M103.8 197.3h0M105.3 194.9h0M106.8 192.4h0M108.3 190.0h0M109.8 187.6h0" stroke="#dcc652" stroke-width="2.60" stroke-linecap="round" fill="none" />
<path d="M86.8 195.9h0M89.3 198.8h0M91.7 201.7h0M94.2 204.6h0M96.6 207.5h0M99.1 210.4h0" stroke="#26309a" stroke-width="3.20" stroke-linecap="round" fill="none" />
<path d="M86.5 195.6h0M89.0 198.5h0M91.4 201.4h0M93.9 204.3h0M96.3 207.2h0M98.8 210.1h0" stroke="#4656cc" stroke-width="2.21" stroke-linecap="round" fill="none" />
<path d="M85.8 195.1h0M88.3 198.0h0M90.7 200.9h0M93.2 203.8h0M95.6 206.7h0M98.1 209.6h0" stroke="#7a6420" stroke-width="3.50" stroke-linecap="round" fill="none" />
<path d="M85.6 194.8h0M88.1 197.7h0M90.5 200.6h0M93.0 203.5h0M95.4 206.4h0M97.9 209.3h0" stroke="#d4be4c" stroke-width="2.60" stroke-linecap="round" fill="none" />
<path d="M84.6 190.1h0M86.0 187.8h0M87.1 193.0h0M88.8 190.1h0M90.6 187.2h0M89.5 195.9h0M90.9 193.6h0M92.3 191.3h0M93.7 189.0h0M95.1 186.7h0M92.0 198.8h0M93.5 196.3h0M95.0 193.7h0M96.6 191.2h0M98.1 188.7h0M99.6 186.2h0M94.4 201.7h0M95.8 199.4h0M97.2 197.1h0M98.6 194.8h0M100.0 192.5h0M101.4 190.2h0M102.8 187.9h0M104.2 185.6h0M96.9 204.6h0M98.4 202.2h0M99.9 199.7h0M101.3 197.3h0M102.8 194.8h0M104.3 192.4h0M105.8 190.0h0M107.2 187.5h0M108.7 185.1h0" stroke="#6e5a1c" stroke-width="3.50" stroke-linecap="round" fill="none" />
<path d="M84.4 189.8h0M85.8 187.4h0M86.8 192.7h0M88.6 189.8h0M90.3 186.9h0M89.3 195.6h0M90.7 193.2h0M92.1 190.9h0M93.4 188.6h0M94.8 186.3h0M91.7 198.4h0M93.3 195.9h0M94.8 193.4h0M96.3 190.9h0M97.8 188.3h0M99.4 185.8h0M94.2 201.3h0M95.6 199.1h0M97.0 196.8h0M98.4 194.5h0M99.7 192.2h0M101.1 189.9h0M102.5 187.6h0M103.9 185.3h0M96.7 204.2h0M98.1 201.8h0M99.6 199.4h0M101.1 196.9h0M102.6 194.5h0M104.0 192.1h0M105.5 189.6h0M107.0 187.2h0M108.5 184.8h0" stroke="#dcc652" stroke-width="2.60" stroke-linecap="round" fill="none" />
<path d="M85.5 193.1h0M88.0 196.0h0M90.4 198.9h0M92.9 201.8h0M95.3 204.7h0M97.8 207.6h0" stroke="#26309a" stroke-width="3.20" stroke-linecap="round" fill="none" />
<path d="M85.2 192.8h0M87.7 195.7h0M90.1 198.6h0M92.6 201.5h0M95.0 204.4h0M97.5 207.3h0" stroke="#4656cc" stroke-width="2.21" stroke-linecap="round" fill="none" />
<path d="M210.7 202.0h0M213.2 204.9h0M215.6 207.8h0M218.1 210.7h0M220.5 213.6h0M223.0 216.5h0" stroke="#7a6420" stroke-width="3.50" stroke-linecap="round" fill="none" />
<path d="M210.5 201.7h0M213.0 204.6h0M215.4 207.5h0M217.9 210.4h0M220.3 213.3h0M222.8 216.2h0" stroke="#d4be4c" stroke-width="2.60" stroke-linecap="round" fill="none" />
<path d="M209.5 197.0h0M210.9 194.7h0M212.0 199.9h0M213.7 197.0h0M215.5 194.1h0M214.4 202.8h0M215.8 200.5h0M217.2 198.2h0M218.6 195.9h0M220.0 193.6h0M216.9 205.7h0M218.4 203.2h0M219.9 200.6h0M221.5 198.1h0M223.0 195.6h0M224.5 193.1h0M219.3 208.6h0M220.7 206.3h0M222.1 204.0h0M223.5 201.7h0M224.9 199.4h0M226.3 197.1h0M227.7 194.8h0M229.1 192.5h0M221.8 211.5h0M223.3 209.1h0M224.8 206.6h0M226.2 204.2h0M227.7 201.8h0M229.2 199.3h0M230.7 196.9h0M232.1 194.4h0M233.6 192.0h0" stroke="#6e5a1c" stroke-width="3.50" stroke-linecap="round" fill="none" />
<path d="M209.2 196.7h0M210.7 194.3h0M211.7 199.6h0M213.5 196.7h0M215.2 193.8h0M214.2 202.5h0M215.6 200.1h0M217.0 197.8h0M218.3 195.5h0M219.7 193.2h0M216.6 205.3h0M218.2 202.8h0M219.7 200.3h0M221.2 197.8h0M222.7 195.2h0M224.3 192.7h0M219.1 208.2h0M220.5 206.0h0M221.9 203.7h0M223.3 201.4h0M224.6 199.1h0M226.0 196.8h0M227.4 194.5h0M228.8 192.2h0M221.6 211.2h0M223.0 208.7h0M224.5 206.3h0M226.0 203.8h0M227.5 201.4h0M228.9 199.0h0M230.4 196.5h0M231.9 194.1h0M233.4 191.7h0" stroke="#dcc652" stroke-width="2.60" stroke-linecap="round" fill="none" />
<path d="M210.4 200.0h0M212.9 202.9h0M215.3 205.8h0M217.8 208.7h0M220.2 211.6h0M222.7 214.5h0" stroke="#26309a" stroke-width="3.20" stroke-linecap="round" fill="none" />
<path d="M210.1 199.7h0M212.6 202.6h0M215.0 205.5h0M217.5 208.4h0M219.9 211.3h0M222.4 214.2h0" stroke="#4656cc" stroke-width="2.21" stroke-linecap="round" fill="none" />
<path d="M209.4 199.2h0M211.9 202.1h0M214.3 205.0h0M216.8 207.9h0M219.2 210.8h0M221.7 213.7h0" stroke="#7a6420" stroke-width="3.50" stroke-linecap="round" fill="none" />
<path d="M209.2 198.9h0M211.7 201.8h0M214.1 204.7h0M216.6 207.6h0M219.0 210.5h0M221.5 213.4h0" stroke="#d4be4c" stroke-width="2.60" stroke-linecap="round" fill="none" />
<path d="M208.2 194.2h0M209.6 191.9h0M210.7 197.1h0M212.4 194.2h0M214.2 191.3h0M213.1 200.0h0M214.5 197.7h0M215.9 195.4h0M217.3 193.1h0M218.7 190.8h0M215.6 202.9h0M217.1 200.4h0M218.6 197.8h0M220.2 195.3h0M221.7 192.8h0M223.2 190.3h0M218.0 205.8h0M219.4 203.5h0M220.8 201.2h0M222.2 198.9h0M223.6 196.6h0M225.0 194.3h0M226.4 192.0h0M227.8 189.7h0M220.5 208.7h0M222.0 206.3h0M223.4 203.8h0M224.9 201.4h0M226.4 198.9h0M227.9 196.5h0M229.4 194.1h0M230.8 191.6h0M232.3 189.2h0" stroke="#6e5a1c" stroke-width="3.50" stroke-linecap="round" fill="none" />
<path d="M207.9 193.8h0M209.4 191.5h0M210.4 196.8h0M212.2 193.9h0M213.9 191.0h0M212.9 199.7h0M214.3 197.3h0M215.7 195.0h0M217.0 192.7h0M218.4 190.4h0M215.3 202.5h0M216.9 200.0h0M218.4 197.5h0M219.9 195.0h0M221.4 192.4h0M223.0 189.9h0M217.8 205.4h0M219.2 203.2h0M220.6 200.9h0M222.0 198.6h0M223.3 196.3h0M224.7 194.0h0M226.1 191.7h0M227.5 189.4h0M220.2 208.3h0M221.7 205.9h0M223.2 203.5h0M224.7 201.0h0M226.2 198.6h0M227.6 196.2h0M229.1 193.7h0M230.6 191.3h0M232.1 188.8h0" stroke="#dcc652" stroke-width="2.60" stroke-linecap="round" fill="none" />
<path d="M209.1 197.2h0M211.6 200.1h0M214.0 203.0h0M216.5 205.9h0M218.9 208.8h0M221.4 211.7h0" stroke="#26309a" stroke-width="3.20" stroke-linecap="round" fill="none" />
<path d="M208.8 196.9h0M211.3 199.8h0M213.7 202.7h0M216.2 205.6h0M218.6 208.5h0M221.1 211.4h0" stroke="#4656cc" stroke-width="2.21" stroke-linecap="round" fill="none" />
<path d="M139.4 210.4h0M141.9 213.3h0M144.3 216.2h0M146.8 219.1h0M149.2 222.0h0M151.7 224.9h0" stroke="#7a6420" stroke-width="3.50" stroke-linecap="round" fill="none" />
<path d="M139.2 210.1h0M141.7 213.0h0M144.1 215.9h0M146.6 218.8h0M149.0 221.7h0M151.5 224.6h0" stroke="#d4be4c" stroke-width="2.60" stroke-linecap="round" fill="none" />
<path d="M138.2 205.4h0M139.6 203.1h0M140.7 208.3h0M142.4 205.4h0M144.2 202.5h0M143.1 211.2h0M144.5 208.9h0M145.9 206.6h0M147.3 204.3h0M148.7 202.0h0M145.6 214.1h0M147.1 211.6h0M148.6 209.0h0M150.2 206.5h0M151.7 204.0h0M153.2 201.5h0M148.0 217.0h0M149.4 214.7h0M150.8 212.4h0M152.2 210.1h0M153.6 207.8h0M155.0 205.5h0M156.4 203.2h0M157.8 200.9h0M150.5 219.9h0M152.0 217.5h0M153.4 215.0h0M154.9 212.6h0M156.4 210.2h0M157.9 207.7h0M159.4 205.3h0M160.8 202.8h0M162.3 200.4h0" stroke="#6e5a1c" stroke-width="3.50" stroke-linecap="round" fill="none" />
<path d="M137.9 205.1h0M139.4 202.7h0M140.4 208.0h0M142.2 205.1h0M143.9 202.2h0M142.9 210.9h0M144.3 208.5h0M145.7 206.2h0M147.0 203.9h0M148.4 201.6h0M145.3 213.8h0M146.9 211.2h0M148.4 208.7h0M149.9 206.2h0M151.4 203.6h0M153.0 201.1h0M147.8 216.7h0M149.2 214.4h0M150.6 212.1h0M152.0 209.8h0M153.3 207.5h0M154.7 205.2h0M156.1 202.9h0M157.5 200.6h0M150.2 219.6h0M151.7 217.1h0M153.2 214.7h0M154.7 212.2h0M156.2 209.8h0M157.6 207.4h0M159.1 204.9h0M160.6 202.5h0M162.1 200.1h0" stroke="#dcc652" stroke-width="2.60" stroke-linecap="round" fill="none" />
<path d="M139.1 208.4h0M141.6 211.3h0M144.0 214.2h0M146.5 217.1h0M148.9 220.0h0M151.4 222.9h0" stroke="#26309a" stroke-width="3.20" stroke-linecap="round" fill="none" />
<path d="M138.8 208.1h0M141.3 211.0h0M143.7 213.9h0M146.2 216.8h0M148.6 219.7h0M151.1 222.6h0" stroke="#4656cc" stroke-width="2.21" stroke-linecap="round" fill="none" />
<path d="M138.1 207.6h0M140.6 210.5h0M143.0 213.4h0M145.5 216.3h0M147.9 219.2h0M150.4 222.1h0" stroke="#7a6420" stroke-width="3.50" stroke-linecap="round" fill="none" />
<path d="M137.9 207.3h0M140.4 210.2h0M142.8 213.1h0M145.3 216.0h0M147.7 218.9h0M150.2 221.8h0" stroke="#d4be4c" stroke-width="2.60" stroke-linecap="round" fill="none" />
<path d="M136.9 202.6h0M138.3 200.3h0M139.4 205.5h0M141.1 202.6h0M142.9 199.7h0M141.8 208.4h0M143.2 206.1h0M144.6 203.8h0M146.0 201.5h0M147.4 199.2h0M144.3 211.3h0M145.8 208.8h0M147.3 206.2h0M148.9 203.7h0M150.4 201.2h0M151.9 198.7h0M146.7 214.2h0M148.1 211.9h0M149.5 209.6h0M150.9 207.3h0M152.3 205.0h0M153.7 202.7h0M155.1 200.4h0M156.5 198.1h0M149.2 217.1h0M150.7 214.7h0M152.1 212.2h0M153.6 209.8h0M155.1 207.3h0M156.6 204.9h0M158.1 202.5h0M159.5 200.0h0M161.0 197.6h0" stroke="#6e5a1c" stroke-width="3.50" stroke-linecap="round" fill="none" />
<path d="M136.6 202.2h0M138.1 199.9h0M139.1 205.2h0M140.9 202.3h0M142.6 199.4h0M141.6 208.1h0M143.0 205.7h0M144.4 203.4h0M145.7 201.1h0M147.1 198.8h0M144.0 210.9h0M145.6 208.4h0M147.1 205.9h0M148.6 203.4h0M150.1 200.8h0M151.7 198.3h0M146.5 213.8h0M147.9 211.6h0M149.3 209.3h0M150.7 207.0h0M152.0 204.7h0M153.4 202.4h0M154.8 200.1h0M156.2 197.8h0M148.9 216.8h0M150.4 214.3h0M151.9 211.9h0M153.4 209.4h0M154.8 207.0h0M156.3 204.6h0M157.8 202.1h0M159.3 199.7h0M160.8 197.2h0" stroke="#dcc652" stroke-width="2.60" stroke-linecap="round" fill="none" />
<path d="M137.8 205.6h0M140.3 208.5h0M142.7 211.4h0M145.2 214.3h0M147.6 217.2h0M150.1 220.1h0" stroke="#26309a" stroke-width="3.20" stroke-linecap="round" fill="none" />
<path d="M137.5 205.3h0M140.0 208.2h0M142.4 211.1h0M144.9 214.0h0M147.3 216.9h0M149.8 219.8h0" stroke="#4656cc" stroke-width="2.21" stroke-linecap="round" fill="none" />
<clipPath id="cd2"><path d="M368.4,238.4 L472.9,125.5 L472.9,0 L695.5,0 L695.5,300 L368.4,300Z"/></clipPath>
<g clip-path="url(#cd2)">
<ellipse cx="522.8" cy="196.9" rx="112.7" ry="45.8" transform="rotate(-4.6 522.8 196.9)" fill="#4f7fb3"/>
<rect x="410.7" y="176.4" width="224.3" height="12.5" fill="#4f7fb3" transform="rotate(-4.6 522.8 184.4)"/>
<ellipse cx="522.8" cy="184.4" rx="112.7" ry="45.8" transform="rotate(-4.6 522.8 184.4)" fill="#5d8fc4"/>
<line x1="412.5" y1="199" x2="444.2" y2="157.9" stroke="#6a9ad0" stroke-width="1.4" opacity="0.7"/>
<line x1="411.2" y1="199" x2="442.9" y2="157.9" stroke="#3a68ac" stroke-width="1.1" opacity="0.9"/>
<line x1="434.90000000000003" y1="219.5" x2="486.2" y2="145.8" stroke="#6a9ad0" stroke-width="1.4" opacity="0.7"/>
<line x1="433.6" y1="219.5" x2="484.9" y2="145.8" stroke="#3a68ac" stroke-width="1.1" opacity="0.9"/>
<line x1="464.7" y1="227.9" x2="515.0999999999999" y2="143" stroke="#6a9ad0" stroke-width="1.4" opacity="0.7"/>
<line x1="463.4" y1="227.9" x2="513.8" y2="143" stroke="#3a68ac" stroke-width="1.1" opacity="0.9"/>
<line x1="498.3" y1="229.7" x2="543.0999999999999" y2="139.3" stroke="#6a9ad0" stroke-width="1.4" opacity="0.7"/>
<line x1="497" y1="229.7" x2="541.8" y2="139.3" stroke="#3a68ac" stroke-width="1.1" opacity="0.9"/>
<line x1="537.5" y1="227.9" x2="591.5999999999999" y2="143" stroke="#6a9ad0" stroke-width="1.4" opacity="0.7"/>
<line x1="536.2" y1="227.9" x2="590.3" y2="143" stroke="#3a68ac" stroke-width="1.1" opacity="0.9"/>
<line x1="572.9" y1="219.5" x2="615.9" y2="148.6" stroke="#6a9ad0" stroke-width="1.4" opacity="0.7"/>
<line x1="571.6" y1="219.5" x2="614.6" y2="148.6" stroke="#3a68ac" stroke-width="1.1" opacity="0.9"/>
<line x1="608.4" y1="200.8" x2="631.3" y2="160" stroke="#6a9ad0" stroke-width="1.4" opacity="0.7"/>
<line x1="607.1" y1="200.8" x2="630" y2="160" stroke="#3a68ac" stroke-width="1.1" opacity="0.9"/>
</g>
<path d="M456.2 161.1h0M458.5 162.7h0M460.9 164.3h0M463.2 165.9h0M465.6 167.5h0M467.9 169.1h0" stroke="#7a6420" stroke-width="3.50" stroke-linecap="round" fill="none" />
<path d="M456.0 160.8h0M458.3 162.4h0M460.7 164.0h0M463.0 165.6h0M465.4 167.2h0M467.7 168.8h0" stroke="#d4be4c" stroke-width="2.60" stroke-linecap="round" fill="none" />
<path d="M455.0 156.1h0M456.7 153.8h0M458.3 151.5h0M460.0 149.1h0M461.7 146.8h0M463.4 144.5h0M465.0 142.2h0M466.7 139.8h0M457.3 157.7h0M459.0 155.4h0M460.6 153.2h0M462.2 150.9h0M463.8 148.7h0M465.4 146.4h0M467.1 144.2h0M468.7 141.9h0M470.3 139.7h0M459.7 159.3h0M461.3 157.1h0M462.8 154.9h0M464.4 152.7h0M466.0 150.5h0M467.6 148.3h0M469.2 146.1h0M470.7 143.9h0M472.3 141.7h0M473.9 139.5h0M462.0 160.9h0M463.7 158.5h0M465.5 156.1h0M467.2 153.7h0M468.9 151.3h0M470.6 149.0h0M472.3 146.6h0M474.1 144.2h0M475.8 141.8h0M477.5 139.4h0M464.4 162.5h0M466.0 160.2h0M467.7 157.8h0M469.4 155.5h0M471.1 153.2h0M472.7 150.9h0M474.4 148.6h0M476.1 146.2h0M477.8 143.9h0M479.4 141.6h0M481.1 139.2h0M466.7 164.1h0M468.3 161.8h0M470.0 159.6h0M471.6 157.3h0M473.2 155.0h0M474.9 152.7h0M476.5 150.5h0M478.2 148.2h0M479.8 145.9h0M481.4 143.6h0M483.1 141.4h0M484.7 139.1h0" stroke="#6e5a1c" stroke-width="3.50" stroke-linecap="round" fill="none" />
<path d="M454.8 155.8h0M456.4 153.4h0M458.1 151.1h0M459.8 148.8h0M461.4 146.5h0M463.1 144.1h0M464.8 141.8h0M466.4 139.5h0M457.1 157.3h0M458.7 155.1h0M460.3 152.8h0M461.9 150.6h0M463.6 148.3h0M465.2 146.1h0M466.8 143.8h0M468.4 141.6h0M470.0 139.3h0M459.4 158.9h0M461.0 156.8h0M462.6 154.6h0M464.2 152.4h0M465.8 150.2h0M467.3 148.0h0M468.9 145.8h0M470.5 143.6h0M472.1 141.4h0M473.7 139.2h0M461.8 160.6h0M463.5 158.2h0M465.2 155.8h0M466.9 153.4h0M468.6 151.0h0M470.4 148.6h0M472.1 146.2h0M473.8 143.8h0M475.5 141.4h0M477.2 139.1h0M464.1 162.2h0M465.8 159.8h0M467.5 157.5h0M469.1 155.2h0M470.8 152.8h0M472.5 150.5h0M474.2 148.2h0M475.8 145.9h0M477.5 143.6h0M479.2 141.2h0M480.9 138.9h0M466.4 163.8h0M468.1 161.5h0M469.7 159.2h0M471.4 156.9h0M473.0 154.7h0M474.6 152.4h0M476.3 150.1h0M477.9 147.8h0M479.5 145.6h0M481.2 143.3h0M482.8 141.0h0M484.4 138.8h0" stroke="#dcc652" stroke-width="2.60" stroke-linecap="round" fill="none" />
<path d="M455.9 159.1h0M458.2 160.7h0M460.6 162.3h0M462.9 163.9h0M465.3 165.5h0M467.6 167.1h0" stroke="#26309a" stroke-width="3.20" stroke-linecap="round" fill="none" />
<path d="M455.6 158.8h0M457.9 160.4h0M460.3 162.0h0M462.6 163.6h0M465.0 165.2h0M467.3 166.8h0" stroke="#4656cc" stroke-width="2.21" stroke-linecap="round" fill="none" />
<path d="M455.8 151.5h0M458.1 153.1h0M460.5 154.7h0M462.8 156.3h0M465.2 157.9h0M467.5 159.5h0" stroke="#7a6420" stroke-width="3.50" stroke-linecap="round" fill="none" />
<path d="M455.6 151.2h0M457.9 152.8h0M460.3 154.4h0M462.6 156.0h0M465.0 157.6h0M467.3 159.2h0" stroke="#d4be4c" stroke-width="2.60" stroke-linecap="round" fill="none" />
<path d="M454.6 146.5h0M456.3 144.2h0M457.9 141.9h0M459.6 139.5h0M461.3 137.2h0M463.0 134.9h0M464.6 132.6h0M466.3 130.2h0M456.9 148.1h0M458.6 145.8h0M460.2 143.6h0M461.8 141.3h0M463.4 139.1h0M465.0 136.8h0M466.7 134.6h0M468.3 132.3h0M469.9 130.1h0M459.3 149.7h0M460.9 147.5h0M462.4 145.3h0M464.0 143.1h0M465.6 140.9h0M467.2 138.7h0M468.8 136.5h0M470.3 134.3h0M471.9 132.1h0M473.5 129.9h0M461.6 151.3h0M463.3 148.9h0M465.1 146.5h0M466.8 144.1h0M468.5 141.7h0M470.2 139.4h0M471.9 137.0h0M473.7 134.6h0M475.4 132.2h0M477.1 129.8h0M464.0 152.9h0M465.6 150.6h0M467.3 148.2h0M469.0 145.9h0M470.7 143.6h0M472.3 141.3h0M474.0 139.0h0M475.7 136.6h0M477.4 134.3h0M479.0 132.0h0M480.7 129.7h0M466.3 154.5h0M467.9 152.2h0M469.6 150.0h0M471.2 147.7h0M472.8 145.4h0M474.5 143.1h0M476.1 140.9h0M477.8 138.6h0M479.4 136.3h0M481.0 134.0h0M482.7 131.8h0M484.3 129.5h0" stroke="#6e5a1c" stroke-width="3.50" stroke-linecap="round" fill="none" />
<path d="M454.4 146.2h0M456.0 143.8h0M457.7 141.5h0M459.4 139.2h0M461.0 136.9h0M462.7 134.5h0M464.4 132.2h0M466.1 129.9h0M456.7 147.8h0M458.3 145.5h0M459.9 143.2h0M461.6 141.0h0M463.2 138.8h0M464.8 136.5h0M466.4 134.2h0M468.0 132.0h0M469.6 129.8h0M459.0 149.3h0M460.6 147.2h0M462.2 145.0h0M463.8 142.8h0M465.4 140.6h0M466.9 138.4h0M468.5 136.2h0M470.1 134.0h0M471.7 131.8h0M473.3 129.6h0M461.4 151.0h0M463.1 148.6h0M464.8 146.2h0M466.5 143.8h0M468.2 141.4h0M470.0 139.0h0M471.7 136.6h0M473.4 134.2h0M475.1 131.8h0M476.9 129.5h0M463.7 152.6h0M465.4 150.2h0M467.1 147.9h0M468.7 145.6h0M470.4 143.2h0M472.1 140.9h0M473.8 138.6h0M475.4 136.3h0M477.1 134.0h0M478.8 131.6h0M480.5 129.3h0M466.1 154.2h0M467.7 151.9h0M469.3 149.6h0M471.0 147.3h0M472.6 145.1h0M474.2 142.8h0M475.9 140.5h0M477.5 138.2h0M479.1 136.0h0M480.8 133.7h0M482.4 131.4h0M484.1 129.2h0" stroke="#dcc652" stroke-width="2.60" stroke-linecap="round" fill="none" />
<path d="M455.5 149.5h0M457.8 151.1h0M460.2 152.7h0M462.5 154.3h0M464.9 155.9h0M467.2 157.5h0" stroke="#26309a" stroke-width="3.20" stroke-linecap="round" fill="none" />
<path d="M455.2 149.2h0M457.5 150.8h0M459.9 152.4h0M462.2 154.0h0M464.6 155.6h0M466.9 157.2h0" stroke="#4656cc" stroke-width="2.21" stroke-linecap="round" fill="none" />
<path d="M516.6 156.0h0M519.2 158.0h0M521.9 160.0h0M524.5 162.0h0M527.1 164.0h0" stroke="#7a6420" stroke-width="3.50" stroke-linecap="round" fill="none" />
<path d="M516.4 155.7h0M519.0 157.7h0M521.6 159.7h0M524.3 161.7h0M526.9 163.7h0" stroke="#d4be4c" stroke-width="2.60" stroke-linecap="round" fill="none" />
<path d="M515.4 151.0h0M517.1 148.6h0M518.8 146.2h0M520.4 143.9h0M522.1 141.5h0M523.8 139.1h0M518.0 153.0h0M519.9 150.4h0M521.7 147.7h0M523.6 145.1h0M525.5 142.5h0M527.3 139.8h0M520.6 155.0h0M522.4 152.6h0M524.0 150.2h0M525.8 147.8h0M527.5 145.4h0M529.1 143.0h0M530.9 140.6h0M523.3 157.0h0M524.9 154.8h0M526.4 152.5h0M528.0 150.3h0M529.6 148.0h0M531.2 145.8h0M532.8 143.5h0M534.4 141.3h0M525.9 159.0h0M527.6 156.6h0M529.3 154.1h0M531.0 151.7h0M532.8 149.3h0M534.5 146.9h0M536.2 144.4h0M537.9 142.0h0" stroke="#6e5a1c" stroke-width="3.50" stroke-linecap="round" fill="none" />
<path d="M515.1 150.7h0M516.8 148.3h0M518.5 145.9h0M520.2 143.5h0M521.9 141.1h0M523.5 138.8h0M517.8 152.7h0M519.6 150.0h0M521.5 147.4h0M523.4 144.7h0M525.2 142.1h0M527.1 139.5h0M520.4 154.7h0M522.1 152.2h0M523.8 149.8h0M525.5 147.4h0M527.2 145.0h0M528.9 142.6h0M530.6 140.2h0M523.0 156.7h0M524.6 154.4h0M526.2 152.2h0M527.8 149.9h0M529.4 147.7h0M531.0 145.4h0M532.5 143.2h0M534.1 140.9h0M525.6 158.7h0M527.4 156.2h0M529.1 153.8h0M530.8 151.4h0M532.5 148.9h0M534.2 146.5h0M535.9 144.1h0M537.6 141.7h0" stroke="#dcc652" stroke-width="2.60" stroke-linecap="round" fill="none" />
<path d="M516.3 154.0h0M518.9 156.0h0M521.5 158.0h0M524.2 160.0h0M526.8 162.0h0" stroke="#26309a" stroke-width="3.20" stroke-linecap="round" fill="none" />
<path d="M516.0 153.7h0M518.6 155.7h0M521.2 157.7h0M523.9 159.7h0M526.5 161.7h0" stroke="#4656cc" stroke-width="2.21" stroke-linecap="round" fill="none" />
<path d="M516.2 148.0h0M518.8 150.0h0M521.5 152.0h0M524.1 154.0h0M526.7 156.0h0" stroke="#7a6420" stroke-width="3.50" stroke-linecap="round" fill="none" />
<path d="M516.0 147.7h0M518.6 149.7h0M521.2 151.7h0M523.9 153.7h0M526.5 155.7h0" stroke="#d4be4c" stroke-width="2.60" stroke-linecap="round" fill="none" />
<path d="M515.0 143.0h0M516.7 140.6h0M518.4 138.2h0M520.0 135.9h0M521.7 133.5h0M523.4 131.1h0M517.6 145.0h0M519.5 142.4h0M521.3 139.7h0M523.2 137.1h0M525.1 134.5h0M526.9 131.8h0M520.2 147.0h0M522.0 144.6h0M523.6 142.2h0M525.4 139.8h0M527.1 137.4h0M528.8 135.0h0M530.5 132.6h0M522.9 149.0h0M524.5 146.8h0M526.0 144.5h0M527.6 142.3h0M529.2 140.0h0M530.8 137.8h0M532.4 135.5h0M534.0 133.3h0M525.5 151.0h0M527.2 148.6h0M528.9 146.1h0M530.6 143.7h0M532.4 141.3h0M534.1 138.9h0M535.8 136.4h0M537.5 134.0h0" stroke="#6e5a1c" stroke-width="3.50" stroke-linecap="round" fill="none" />
<path d="M514.8 142.7h0M516.4 140.3h0M518.1 137.9h0M519.8 135.5h0M521.5 133.1h0M523.1 130.8h0M517.4 144.7h0M519.2 142.0h0M521.1 139.4h0M523.0 136.7h0M524.8 134.1h0M526.7 131.5h0M520.0 146.7h0M521.7 144.2h0M523.4 141.8h0M525.1 139.4h0M526.8 137.0h0M528.5 134.6h0M530.2 132.2h0M522.6 148.7h0M524.2 146.4h0M525.8 144.2h0M527.4 141.9h0M529.0 139.7h0M530.6 137.4h0M532.1 135.2h0M533.7 132.9h0M525.2 150.7h0M527.0 148.2h0M528.7 145.8h0M530.4 143.4h0M532.1 140.9h0M533.8 138.5h0M535.5 136.1h0M537.2 133.7h0" stroke="#dcc652" stroke-width="2.60" stroke-linecap="round" fill="none" />
<path d="M515.9 146.0h0M518.5 148.0h0M521.1 150.0h0M523.8 152.0h0M526.4 154.0h0" stroke="#26309a" stroke-width="3.20" stroke-linecap="round" fill="none" />
<path d="M515.6 145.7h0M518.2 147.7h0M520.9 149.7h0M523.5 151.7h0M526.1 153.7h0" stroke="#4656cc" stroke-width="2.21" stroke-linecap="round" fill="none" />
<path d="M564.6 161.0h0M567.6 163.0h0M570.6 165.0h0M573.6 167.0h0M576.6 169.0h0" stroke="#7a6420" stroke-width="3.50" stroke-linecap="round" fill="none" />
<path d="M564.4 160.7h0M567.4 162.7h0M570.4 164.7h0M573.4 166.7h0M576.4 168.7h0" stroke="#d4be4c" stroke-width="2.60" stroke-linecap="round" fill="none" />
<path d="M563.4 156.0h0M564.8 153.7h0M566.2 151.3h0M567.6 149.0h0M569.0 146.7h0M570.4 144.3h0M571.8 142.0h0M566.4 158.0h0M567.9 155.4h0M569.5 152.8h0M571.0 150.2h0M572.6 147.7h0M574.1 145.1h0M575.7 142.5h0M569.4 160.0h0M570.9 157.6h0M572.3 155.1h0M573.8 152.7h0M575.2 150.3h0M576.7 147.9h0M578.1 145.4h0M579.6 143.0h0M572.4 162.0h0M574.0 159.4h0M575.6 156.7h0M577.2 154.1h0M578.7 151.4h0M580.3 148.8h0M581.9 146.1h0M583.5 143.5h0M575.4 164.0h0M576.9 161.5h0M578.4 159.0h0M579.9 156.5h0M581.4 154.0h0M582.9 151.5h0M584.4 149.0h0M585.9 146.5h0M587.4 144.0h0" stroke="#6e5a1c" stroke-width="3.50" stroke-linecap="round" fill="none" />
<path d="M563.1 155.7h0M564.5 153.3h0M565.9 151.0h0M567.3 148.7h0M568.8 146.3h0M570.1 144.0h0M571.5 141.7h0M566.1 157.7h0M567.7 155.1h0M569.2 152.5h0M570.8 149.9h0M572.3 147.3h0M573.9 144.7h0M575.4 142.2h0M569.1 159.7h0M570.6 157.2h0M572.1 154.8h0M573.5 152.4h0M575.0 149.9h0M576.4 147.5h0M577.9 145.1h0M579.4 142.7h0M572.1 161.7h0M573.7 159.0h0M575.3 156.4h0M576.9 153.7h0M578.5 151.1h0M580.1 148.4h0M581.7 145.8h0M583.2 143.2h0M575.1 163.7h0M576.6 161.2h0M578.1 158.7h0M579.6 156.2h0M581.1 153.7h0M582.6 151.2h0M584.1 148.7h0M585.6 146.2h0M587.1 143.7h0" stroke="#dcc652" stroke-width="2.60" stroke-linecap="round" fill="none" />
<path d="M564.3 159.0h0M567.3 161.0h0M570.3 163.0h0M573.3 165.0h0M576.3 167.0h0" stroke="#26309a" stroke-width="3.20" stroke-linecap="round" fill="none" />
<path d="M564.0 158.7h0M567.0 160.7h0M570.0 162.7h0M573.0 164.7h0M576.0 166.7h0" stroke="#4656cc" stroke-width="2.21" stroke-linecap="round" fill="none" />
<path d="M564.2 151.0h0M567.2 153.0h0M570.2 155.0h0M573.2 157.0h0M576.2 159.0h0" stroke="#7a6420" stroke-width="3.50" stroke-linecap="round" fill="none" />
<path d="M564.0 150.7h0M567.0 152.7h0M570.0 154.7h0M573.0 156.7h0M576.0 158.7h0" stroke="#d4be4c" stroke-width="2.60" stroke-linecap="round" fill="none" />
<path d="M563.0 146.0h0M564.4 143.7h0M565.8 141.3h0M567.2 139.0h0M568.6 136.7h0M570.0 134.3h0M571.4 132.0h0M566.0 148.0h0M567.5 145.4h0M569.1 142.8h0M570.6 140.2h0M572.2 137.7h0M573.8 135.1h0M575.3 132.5h0M569.0 150.0h0M570.5 147.6h0M571.9 145.1h0M573.4 142.7h0M574.8 140.3h0M576.3 137.9h0M577.7 135.4h0M579.2 133.0h0M572.0 152.0h0M573.6 149.4h0M575.2 146.7h0M576.8 144.1h0M578.3 141.4h0M579.9 138.8h0M581.5 136.1h0M583.1 133.5h0M575.0 154.0h0M576.5 151.5h0M578.0 149.0h0M579.5 146.5h0M581.0 144.0h0M582.5 141.5h0M584.0 139.0h0M585.5 136.5h0M587.0 134.0h0" stroke="#6e5a1c" stroke-width="3.50" stroke-linecap="round" fill="none" />
<path d="M562.8 145.7h0M564.1 143.3h0M565.5 141.0h0M567.0 138.7h0M568.4 136.3h0M569.8 134.0h0M571.1 131.7h0M565.8 147.7h0M567.3 145.1h0M568.9 142.5h0M570.4 139.9h0M571.9 137.3h0M573.5 134.7h0M575.0 132.2h0M568.8 149.7h0M570.2 147.2h0M571.7 144.8h0M573.1 142.4h0M574.6 139.9h0M576.0 137.5h0M577.5 135.1h0M579.0 132.7h0M571.8 151.7h0M573.3 149.0h0M574.9 146.4h0M576.5 143.7h0M578.1 141.1h0M579.7 138.4h0M581.3 135.8h0M582.9 133.2h0M574.8 153.7h0M576.2 151.2h0M577.8 148.7h0M579.2 146.2h0M580.8 143.7h0M582.2 141.2h0M583.8 138.7h0M585.2 136.2h0M586.8 133.7h0" stroke="#dcc652" stroke-width="2.60" stroke-linecap="round" fill="none" />
<path d="M563.9 149.0h0M566.9 151.0h0M569.9 153.0h0M572.9 155.0h0M575.9 157.0h0" stroke="#26309a" stroke-width="3.20" stroke-linecap="round" fill="none" />
<path d="M563.6 148.7h0M566.6 150.7h0M569.6 152.7h0M572.6 154.7h0M575.6 156.7h0" stroke="#4656cc" stroke-width="2.21" stroke-linecap="round" fill="none" />
<path d="M421.1 201.5h0M423.3 203.2h0M425.6 204.8h0M427.8 206.5h0M430.1 208.2h0M432.3 209.8h0M434.6 211.5h0" stroke="#7a6420" stroke-width="3.50" stroke-linecap="round" fill="none" />
<path d="M420.9 201.2h0M423.1 202.9h0M425.4 204.5h0M427.6 206.2h0M429.9 207.9h0M432.1 209.5h0M434.4 211.2h0" stroke="#d4be4c" stroke-width="2.60" stroke-linecap="round" fill="none" />
<path d="M419.9 196.5h0M421.7 194.4h0M423.4 192.3h0M425.2 190.2h0M426.9 188.1h0M428.7 186.0h0M430.5 183.9h0M432.2 181.8h0M434.0 179.7h0M422.1 198.2h0M423.9 196.1h0M425.6 194.0h0M427.4 191.9h0M429.1 189.9h0M430.9 187.8h0M432.6 185.7h0M434.3 183.6h0M436.1 181.6h0M437.8 179.5h0M424.4 199.8h0M426.3 197.6h0M428.2 195.3h0M430.1 193.0h0M432.1 190.7h0M434.0 188.4h0M435.9 186.1h0M437.8 183.9h0M439.7 181.6h0M441.6 179.3h0M426.6 201.5h0M428.5 199.3h0M430.4 197.0h0M432.3 194.8h0M434.2 192.5h0M436.0 190.3h0M437.9 188.1h0M439.8 185.8h0M441.7 183.6h0M443.6 181.3h0M445.4 179.1h0M428.9 203.2h0M430.8 201.0h0M432.6 198.8h0M434.5 196.5h0M436.3 194.3h0M438.2 192.1h0M440.0 189.9h0M441.9 187.7h0M443.7 185.5h0M445.6 183.3h0M447.4 181.1h0M449.3 178.9h0M431.1 204.8h0M433.0 202.7h0M434.8 200.5h0M436.6 198.3h0M438.5 196.1h0M440.3 193.9h0M442.1 191.8h0M443.9 189.6h0M445.8 187.4h0M447.6 185.2h0M449.4 183.1h0M451.3 180.9h0M453.1 178.7h0M433.4 206.5h0M435.2 204.3h0M437.0 202.2h0M438.8 200.0h0M440.6 197.9h0M442.4 195.7h0M444.2 193.6h0M446.1 191.4h0M447.9 189.3h0M449.7 187.1h0M451.5 185.0h0M453.3 182.8h0M455.1 180.7h0M456.9 178.5h0" stroke="#6e5a1c" stroke-width="3.50" stroke-linecap="round" fill="none" />
<path d="M419.6 196.2h0M421.4 194.1h0M423.2 192.0h0M424.9 189.8h0M426.7 187.8h0M428.5 185.7h0M430.2 183.5h0M432.0 181.4h0M433.8 179.3h0M421.9 197.8h0M423.6 195.7h0M425.4 193.7h0M427.1 191.6h0M428.9 189.5h0M430.6 187.4h0M432.3 185.4h0M434.1 183.3h0M435.8 181.2h0M437.6 179.2h0M424.1 199.5h0M426.1 197.2h0M428.0 194.9h0M429.9 192.6h0M431.8 190.4h0M433.7 188.1h0M435.6 185.8h0M437.6 183.5h0M439.5 181.2h0M441.4 179.0h0M426.4 201.2h0M428.3 198.9h0M430.2 196.7h0M432.0 194.4h0M433.9 192.2h0M435.8 190.0h0M437.7 187.7h0M439.6 185.5h0M441.4 183.2h0M443.3 181.0h0M445.2 178.8h0M428.6 202.8h0M430.5 200.6h0M432.4 198.4h0M434.2 196.2h0M436.1 194.0h0M437.9 191.8h0M439.8 189.6h0M441.6 187.4h0M443.5 185.2h0M445.3 183.0h0M447.2 180.8h0M449.0 178.5h0M430.9 204.5h0M432.7 202.3h0M434.6 200.1h0M436.4 198.0h0M438.2 195.8h0M440.0 193.6h0M441.9 191.4h0M443.7 189.2h0M445.5 187.1h0M447.3 184.9h0M449.2 182.7h0M451.0 180.5h0M452.8 178.4h0M433.1 206.2h0M435.0 204.0h0M436.8 201.8h0M438.6 199.7h0M440.4 197.5h0M442.2 195.4h0M444.0 193.2h0M445.8 191.1h0M447.6 188.9h0M449.4 186.8h0M451.2 184.6h0M453.0 182.5h0M454.8 180.3h0M456.6 178.2h0" stroke="#dcc652" stroke-width="2.60" stroke-linecap="round" fill="none" />
<path d="M420.8 199.5h0M423.0 201.2h0M425.3 202.8h0M427.5 204.5h0M429.8 206.2h0M432.0 207.8h0M434.3 209.5h0" stroke="#26309a" stroke-width="3.20" stroke-linecap="round" fill="none" />
<path d="M420.5 199.2h0M422.7 200.9h0M425.0 202.5h0M427.2 204.2h0M429.5 205.9h0M431.7 207.5h0M434.0 209.2h0" stroke="#4656cc" stroke-width="2.21" stroke-linecap="round" fill="none" />
<path d="M420.7 191.0h0M422.9 192.7h0M425.2 194.3h0M427.4 196.0h0M429.7 197.7h0M431.9 199.3h0M434.2 201.0h0" stroke="#7a6420" stroke-width="3.50" stroke-linecap="round" fill="none" />
<path d="M420.5 190.7h0M422.8 192.4h0M425.0 194.0h0M427.2 195.7h0M429.5 197.4h0M431.8 199.0h0M434.0 200.7h0" stroke="#d4be4c" stroke-width="2.60" stroke-linecap="round" fill="none" />
<path d="M419.5 186.0h0M421.3 183.9h0M423.0 181.8h0M424.8 179.7h0M426.6 177.6h0M428.3 175.5h0M430.1 173.4h0M431.8 171.3h0M433.6 169.2h0M421.8 187.7h0M423.5 185.6h0M425.2 183.5h0M427.0 181.4h0M428.7 179.4h0M430.5 177.3h0M432.2 175.2h0M433.9 173.1h0M435.7 171.1h0M437.4 169.0h0M424.0 189.3h0M425.9 187.1h0M427.8 184.8h0M429.7 182.5h0M431.7 180.2h0M433.6 177.9h0M435.5 175.6h0M437.4 173.4h0M439.3 171.1h0M441.2 168.8h0M426.2 191.0h0M428.1 188.8h0M430.0 186.5h0M431.9 184.3h0M433.8 182.0h0M435.6 179.8h0M437.5 177.6h0M439.4 175.3h0M441.3 173.1h0M443.2 170.8h0M445.1 168.6h0M428.5 192.7h0M430.4 190.5h0M432.2 188.3h0M434.1 186.0h0M435.9 183.8h0M437.8 181.6h0M439.6 179.4h0M441.5 177.2h0M443.3 175.0h0M445.2 172.8h0M447.0 170.6h0M448.9 168.4h0M430.8 194.3h0M432.6 192.2h0M434.4 190.0h0M436.2 187.8h0M438.1 185.6h0M439.9 183.4h0M441.7 181.3h0M443.5 179.1h0M445.4 176.9h0M447.2 174.7h0M449.0 172.6h0M450.9 170.4h0M452.7 168.2h0M433.0 196.0h0M434.8 193.8h0M436.6 191.7h0M438.4 189.5h0M440.2 187.4h0M442.0 185.2h0M443.8 183.1h0M445.7 180.9h0M447.5 178.8h0M449.3 176.6h0M451.1 174.5h0M452.9 172.3h0M454.7 170.2h0M456.5 168.0h0" stroke="#6e5a1c" stroke-width="3.50" stroke-linecap="round" fill="none" />
<path d="M419.2 185.7h0M421.0 183.6h0M422.8 181.5h0M424.5 179.3h0M426.3 177.2h0M428.1 175.2h0M429.8 173.0h0M431.6 170.9h0M433.4 168.8h0M421.5 187.3h0M423.2 185.2h0M425.0 183.2h0M426.7 181.1h0M428.5 179.0h0M430.2 176.9h0M431.9 174.9h0M433.7 172.8h0M435.4 170.7h0M437.2 168.7h0M423.8 189.0h0M425.7 186.7h0M427.6 184.4h0M429.5 182.1h0M431.4 179.9h0M433.3 177.6h0M435.2 175.3h0M437.2 173.0h0M439.1 170.7h0M441.0 168.5h0M426.0 190.7h0M427.9 188.4h0M429.8 186.2h0M431.6 183.9h0M433.5 181.7h0M435.4 179.5h0M437.3 177.2h0M439.2 175.0h0M441.0 172.7h0M442.9 170.5h0M444.8 168.2h0M428.2 192.3h0M430.1 190.1h0M432.0 187.9h0M433.8 185.7h0M435.7 183.5h0M437.5 181.3h0M439.4 179.1h0M441.2 176.9h0M443.1 174.7h0M444.9 172.5h0M446.8 170.3h0M448.6 168.0h0M430.5 194.0h0M432.3 191.8h0M434.2 189.6h0M436.0 187.5h0M437.8 185.3h0M439.6 183.1h0M441.5 180.9h0M443.3 178.7h0M445.1 176.6h0M446.9 174.4h0M448.8 172.2h0M450.6 170.0h0M452.4 167.9h0M432.8 195.7h0M434.6 193.5h0M436.4 191.3h0M438.2 189.2h0M440.0 187.0h0M441.8 184.9h0M443.6 182.7h0M445.4 180.6h0M447.2 178.4h0M449.0 176.3h0M450.8 174.1h0M452.6 172.0h0M454.4 169.8h0M456.2 167.7h0" stroke="#dcc652" stroke-width="2.60" stroke-linecap="round" fill="none" />
<path d="M420.4 189.0h0M422.6 190.7h0M424.9 192.3h0M427.1 194.0h0M429.4 195.7h0M431.6 197.3h0M433.9 199.0h0" stroke="#26309a" stroke-width="3.20" stroke-linecap="round" fill="none" />
<path d="M420.1 188.7h0M422.3 190.4h0M424.6 192.0h0M426.8 193.7h0M429.1 195.4h0M431.3 197.0h0M433.6 198.7h0" stroke="#4656cc" stroke-width="2.21" stroke-linecap="round" fill="none" />
<path d="M501.6 174.5h0M504.2 176.3h0M506.8 178.1h0M509.4 179.9h0M512.0 181.7h0M514.6 183.5h0" stroke="#7a6420" stroke-width="3.50" stroke-linecap="round" fill="none" />
<path d="M501.4 174.2h0M504.0 176.0h0M506.6 177.8h0M509.2 179.6h0M511.8 181.4h0M514.4 183.2h0" stroke="#d4be4c" stroke-width="2.60" stroke-linecap="round" fill="none" />
<path d="M500.4 169.5h0M502.1 167.1h0M503.9 164.6h0M505.6 162.2h0M507.4 159.7h0M509.1 157.2h0M510.9 154.8h0M503.0 171.3h0M504.6 169.0h0M506.3 166.7h0M507.9 164.5h0M509.5 162.2h0M511.1 159.9h0M512.8 157.6h0M514.4 155.3h0M505.6 173.1h0M507.4 170.6h0M509.1 168.2h0M510.9 165.7h0M512.6 163.3h0M514.4 160.8h0M516.1 158.3h0M517.9 155.9h0M508.2 174.9h0M509.8 172.6h0M511.5 170.3h0M513.1 168.0h0M514.8 165.7h0M516.4 163.4h0M518.1 161.0h0M519.8 158.7h0M521.4 156.4h0M510.8 176.7h0M512.6 174.2h0M514.3 171.8h0M516.1 169.3h0M517.8 166.8h0M519.6 164.4h0M521.4 161.9h0M523.1 159.4h0M524.9 157.0h0M513.4 178.5h0M515.1 176.2h0M516.7 173.8h0M518.4 171.5h0M520.1 169.2h0M521.7 166.8h0M523.4 164.5h0M525.1 162.2h0M526.7 159.8h0M528.4 157.5h0" stroke="#6e5a1c" stroke-width="3.50" stroke-linecap="round" fill="none" />
<path d="M500.1 169.2h0M501.9 166.7h0M503.6 164.2h0M505.4 161.8h0M507.1 159.4h0M508.9 156.9h0M510.6 154.5h0M502.8 171.0h0M504.4 168.7h0M506.0 166.4h0M507.6 164.1h0M509.3 161.8h0M510.9 159.6h0M512.5 157.3h0M514.1 155.0h0M505.3 172.8h0M507.1 170.3h0M508.9 167.8h0M510.6 165.4h0M512.4 162.9h0M514.1 160.4h0M515.9 158.0h0M517.6 155.5h0M507.9 174.6h0M509.6 172.2h0M511.2 169.9h0M512.9 167.6h0M514.5 165.3h0M516.2 163.0h0M517.9 160.7h0M519.5 158.4h0M521.1 156.1h0M510.5 176.3h0M512.3 173.9h0M514.1 171.4h0M515.8 168.9h0M517.6 166.5h0M519.4 164.0h0M521.1 161.5h0M522.9 159.1h0M524.6 156.6h0M513.1 178.2h0M514.8 175.8h0M516.5 173.5h0M518.1 171.2h0M519.8 168.8h0M521.5 166.5h0M523.1 164.2h0M524.8 161.8h0M526.5 159.5h0M528.1 157.2h0" stroke="#dcc652" stroke-width="2.60" stroke-linecap="round" fill="none" />
<path d="M501.3 172.5h0M503.9 174.3h0M506.5 176.1h0M509.1 177.9h0M511.7 179.7h0M514.3 181.5h0" stroke="#26309a" stroke-width="3.20" stroke-linecap="round" fill="none" />
<path d="M501.0 172.2h0M503.6 174.0h0M506.2 175.8h0M508.8 177.6h0M511.4 179.4h0M514.0 181.2h0" stroke="#4656cc" stroke-width="2.21" stroke-linecap="round" fill="none" />
<path d="M501.2 164.0h0M503.8 165.8h0M506.4 167.6h0M509.0 169.4h0M511.6 171.2h0M514.2 173.0h0" stroke="#7a6420" stroke-width="3.50" stroke-linecap="round" fill="none" />
<path d="M501.0 163.7h0M503.6 165.5h0M506.2 167.3h0M508.8 169.1h0M511.4 170.9h0M514.0 172.7h0" stroke="#d4be4c" stroke-width="2.60" stroke-linecap="round" fill="none" />
<path d="M500.0 159.0h0M501.8 156.6h0M503.5 154.1h0M505.2 151.7h0M507.0 149.2h0M508.8 146.8h0M510.5 144.3h0M502.6 160.8h0M504.2 158.5h0M505.9 156.2h0M507.5 154.0h0M509.1 151.7h0M510.7 149.4h0M512.4 147.1h0M514.0 144.8h0M505.2 162.6h0M507.0 160.1h0M508.7 157.7h0M510.5 155.2h0M512.2 152.8h0M514.0 150.3h0M515.7 147.8h0M517.5 145.4h0M507.8 164.4h0M509.4 162.1h0M511.1 159.8h0M512.8 157.5h0M514.4 155.2h0M516.0 152.9h0M517.7 150.5h0M519.4 148.2h0M521.0 145.9h0M510.4 166.2h0M512.2 163.7h0M513.9 161.3h0M515.7 158.8h0M517.5 156.3h0M519.2 153.9h0M521.0 151.4h0M522.7 148.9h0M524.5 146.5h0M513.0 168.0h0M514.7 165.7h0M516.3 163.3h0M518.0 161.0h0M519.7 158.7h0M521.3 156.3h0M523.0 154.0h0M524.7 151.7h0M526.3 149.3h0M528.0 147.0h0" stroke="#6e5a1c" stroke-width="3.50" stroke-linecap="round" fill="none" />
<path d="M499.8 158.7h0M501.5 156.2h0M503.2 153.8h0M505.0 151.3h0M506.8 148.9h0M508.5 146.4h0M510.2 144.0h0M502.4 160.5h0M504.0 158.2h0M505.6 155.9h0M507.2 153.6h0M508.9 151.3h0M510.5 149.1h0M512.1 146.8h0M513.8 144.5h0M504.9 162.2h0M506.7 159.8h0M508.5 157.3h0M510.2 154.9h0M512.0 152.4h0M513.7 149.9h0M515.5 147.5h0M517.2 145.0h0M507.6 164.1h0M509.2 161.7h0M510.9 159.4h0M512.5 157.1h0M514.1 154.8h0M515.8 152.5h0M517.5 150.2h0M519.1 147.9h0M520.8 145.6h0M510.1 165.8h0M511.9 163.4h0M513.7 160.9h0M515.4 158.4h0M517.2 156.0h0M519.0 153.5h0M520.7 151.0h0M522.5 148.6h0M524.2 146.1h0M512.8 167.7h0M514.4 165.3h0M516.1 163.0h0M517.8 160.7h0M519.4 158.3h0M521.1 156.0h0M522.8 153.7h0M524.4 151.3h0M526.1 149.0h0M527.8 146.7h0" stroke="#dcc652" stroke-width="2.60" stroke-linecap="round" fill="none" />
<path d="M500.9 162.0h0M503.5 163.8h0M506.1 165.6h0M508.7 167.4h0M511.3 169.2h0M513.9 171.0h0" stroke="#26309a" stroke-width="3.20" stroke-linecap="round" fill="none" />
<path d="M500.6 161.7h0M503.2 163.5h0M505.8 165.3h0M508.4 167.1h0M511.0 168.9h0M513.6 170.7h0" stroke="#4656cc" stroke-width="2.21" stroke-linecap="round" fill="none" />
<path d="M555.6 194.0h0M558.6 196.2h0M561.6 198.5h0M564.6 200.8h0M567.6 203.0h0" stroke="#7a6420" stroke-width="3.50" stroke-linecap="round" fill="none" />
<path d="M555.4 193.7h0M558.4 195.9h0M561.4 198.2h0M564.4 200.4h0M567.4 202.7h0" stroke="#d4be4c" stroke-width="2.60" stroke-linecap="round" fill="none" />
<path d="M554.4 189.0h0M555.9 186.6h0M557.4 184.1h0M559.0 181.7h0M560.5 179.2h0M562.0 176.8h0M563.5 174.3h0M557.4 191.2h0M558.8 188.9h0M560.3 186.6h0M561.7 184.3h0M563.2 181.9h0M564.6 179.6h0M566.0 177.3h0M567.5 175.0h0M560.4 193.5h0M562.0 190.9h0M563.6 188.4h0M565.1 185.8h0M566.7 183.3h0M568.3 180.8h0M569.9 178.2h0M571.4 175.7h0M563.4 195.8h0M564.9 193.3h0M566.4 190.9h0M567.9 188.5h0M569.4 186.0h0M570.9 183.6h0M572.4 181.2h0M573.9 178.8h0M575.4 176.3h0M566.4 198.0h0M567.8 195.7h0M569.3 193.3h0M570.7 191.0h0M572.2 188.7h0M573.6 186.3h0M575.1 184.0h0M576.5 181.7h0M578.0 179.3h0M579.4 177.0h0" stroke="#6e5a1c" stroke-width="3.50" stroke-linecap="round" fill="none" />
<path d="M554.1 188.7h0M555.7 186.2h0M557.2 183.8h0M558.7 181.3h0M560.2 178.9h0M561.7 176.4h0M563.2 174.0h0M557.1 190.9h0M558.6 188.6h0M560.0 186.2h0M561.5 183.9h0M562.9 181.6h0M564.3 179.3h0M565.8 176.9h0M567.2 174.6h0M560.1 193.2h0M561.7 190.6h0M563.3 188.1h0M564.9 185.5h0M566.5 183.0h0M568.0 180.4h0M569.6 177.9h0M571.2 175.3h0M563.1 195.4h0M564.7 193.0h0M566.2 190.5h0M567.7 188.1h0M569.2 185.7h0M570.7 183.3h0M572.2 180.8h0M573.7 178.4h0M575.2 176.0h0M566.1 197.7h0M567.6 195.3h0M569.0 193.0h0M570.5 190.7h0M571.9 188.3h0M573.4 186.0h0M574.8 183.7h0M576.3 181.3h0M577.7 179.0h0M579.1 176.7h0" stroke="#dcc652" stroke-width="2.60" stroke-linecap="round" fill="none" />
<path d="M555.3 192.0h0M558.3 194.2h0M561.3 196.5h0M564.3 198.8h0M567.3 201.0h0" stroke="#26309a" stroke-width="3.20" stroke-linecap="round" fill="none" />
<path d="M555.0 191.7h0M558.0 193.9h0M561.0 196.2h0M564.0 198.4h0M567.0 200.7h0" stroke="#4656cc" stroke-width="2.21" stroke-linecap="round" fill="none" />
<path d="M555.2 188.0h0M558.2 190.2h0M561.2 192.5h0M564.2 194.8h0M567.2 197.0h0" stroke="#7a6420" stroke-width="3.50" stroke-linecap="round" fill="none" />
<path d="M555.0 187.7h0M558.0 189.9h0M561.0 192.2h0M564.0 194.4h0M567.0 196.7h0" stroke="#d4be4c" stroke-width="2.60" stroke-linecap="round" fill="none" />
<path d="M554.0 183.0h0M555.5 180.6h0M557.0 178.1h0M558.5 175.7h0M560.1 173.2h0M561.6 170.8h0M563.1 168.3h0M557.0 185.2h0M558.4 182.9h0M559.9 180.6h0M561.3 178.3h0M562.8 175.9h0M564.2 173.6h0M565.6 171.3h0M567.1 169.0h0M560.0 187.5h0M561.6 184.9h0M563.2 182.4h0M564.7 179.8h0M566.3 177.3h0M567.9 174.8h0M569.5 172.2h0M571.0 169.7h0M563.0 189.8h0M564.5 187.3h0M566.0 184.9h0M567.5 182.5h0M569.0 180.0h0M570.5 177.6h0M572.0 175.2h0M573.5 172.8h0M575.0 170.3h0M566.0 192.0h0M567.4 189.7h0M568.9 187.3h0M570.3 185.0h0M571.8 182.7h0M573.2 180.3h0M574.7 178.0h0M576.1 175.7h0M577.6 173.3h0M579.0 171.0h0" stroke="#6e5a1c" stroke-width="3.50" stroke-linecap="round" fill="none" />
<path d="M553.8 182.7h0M555.3 180.2h0M556.8 177.8h0M558.3 175.3h0M559.8 172.9h0M561.3 170.4h0M562.9 168.0h0M556.8 184.9h0M558.2 182.6h0M559.6 180.2h0M561.1 177.9h0M562.5 175.6h0M563.9 173.3h0M565.4 170.9h0M566.8 168.6h0M559.8 187.2h0M561.3 184.6h0M562.9 182.1h0M564.5 179.5h0M566.1 177.0h0M567.6 174.4h0M569.2 171.9h0M570.8 169.3h0M562.8 189.4h0M564.3 187.0h0M565.8 184.5h0M567.3 182.1h0M568.8 179.7h0M570.3 177.3h0M571.8 174.8h0M573.3 172.4h0M574.8 170.0h0M565.8 191.7h0M567.2 189.3h0M568.6 187.0h0M570.1 184.7h0M571.5 182.3h0M573.0 180.0h0M574.4 177.7h0M575.9 175.3h0M577.3 173.0h0M578.8 170.7h0" stroke="#dcc652" stroke-width="2.60" stroke-linecap="round" fill="none" />
<path d="M554.9 186.0h0M557.9 188.2h0M560.9 190.5h0M563.9 192.8h0M566.9 195.0h0" stroke="#26309a" stroke-width="3.20" stroke-linecap="round" fill="none" />
<path d="M554.6 185.7h0M557.6 187.9h0M560.6 190.2h0M563.6 192.4h0M566.6 194.7h0" stroke="#4656cc" stroke-width="2.21" stroke-linecap="round" fill="none" />
<path d="M482.6 214.0h0M485.5 215.6h0M488.4 217.2h0M491.3 218.8h0M494.2 220.4h0M497.1 222.0h0" stroke="#7a6420" stroke-width="3.50" stroke-linecap="round" fill="none" />
<path d="M482.4 213.7h0M485.3 215.3h0M488.2 216.9h0M491.1 218.5h0M494.0 220.1h0M496.9 221.7h0" stroke="#d4be4c" stroke-width="2.60" stroke-linecap="round" fill="none" />
<path d="M481.4 209.0h0M482.8 206.5h0M484.3 203.9h0M485.7 201.4h0M487.1 198.9h0M488.5 196.3h0M484.3 210.6h0M485.7 208.1h0M487.1 205.7h0M488.5 203.2h0M489.8 200.8h0M491.2 198.3h0M492.6 195.9h0M487.2 212.2h0M488.6 209.8h0M489.9 207.4h0M491.3 205.0h0M492.6 202.6h0M494.0 200.2h0M495.3 197.8h0M496.7 195.4h0M490.1 213.8h0M491.4 211.4h0M492.8 209.1h0M494.1 206.7h0M495.4 204.4h0M496.8 202.0h0M498.1 199.7h0M499.4 197.3h0M500.8 194.9h0M493.0 215.4h0M494.5 212.8h0M496.0 210.2h0M497.4 207.6h0M498.9 204.9h0M500.4 202.3h0M501.9 199.7h0M503.4 197.1h0M504.8 194.5h0M495.9 217.0h0M497.3 214.4h0M498.8 211.9h0M500.2 209.3h0M501.7 206.8h0M503.1 204.2h0M504.6 201.7h0M506.0 199.1h0M507.5 196.6h0M508.9 194.0h0" stroke="#6e5a1c" stroke-width="3.50" stroke-linecap="round" fill="none" />
<path d="M481.1 208.7h0M482.6 206.1h0M484.0 203.6h0M485.4 201.1h0M486.9 198.5h0M488.3 196.0h0M484.0 210.2h0M485.4 207.8h0M486.8 205.3h0M488.2 202.9h0M489.6 200.4h0M491.0 198.0h0M492.4 195.5h0M486.9 211.8h0M488.3 209.5h0M489.7 207.1h0M491.0 204.7h0M492.4 202.3h0M493.7 199.9h0M495.1 197.5h0M496.4 195.1h0M489.8 213.5h0M491.2 211.1h0M492.5 208.7h0M493.8 206.4h0M495.2 204.0h0M496.5 201.7h0M497.8 199.3h0M499.2 196.9h0M500.5 194.6h0M492.8 215.1h0M494.2 212.4h0M495.7 209.8h0M497.2 207.2h0M498.7 204.6h0M500.1 202.0h0M501.6 199.4h0M503.1 196.7h0M504.6 194.1h0M495.6 216.7h0M497.1 214.1h0M498.5 211.5h0M500.0 209.0h0M501.4 206.4h0M502.9 203.9h0M504.3 201.3h0M505.8 198.8h0M507.2 196.2h0M508.6 193.7h0" stroke="#dcc652" stroke-width="2.60" stroke-linecap="round" fill="none" />
<path d="M482.3 212.0h0M485.2 213.6h0M488.1 215.2h0M491.0 216.8h0M493.9 218.4h0M496.8 220.0h0" stroke="#26309a" stroke-width="3.20" stroke-linecap="round" fill="none" />
<path d="M482.0 211.7h0M484.9 213.3h0M487.8 214.9h0M490.7 216.5h0M493.6 218.1h0M496.5 219.7h0" stroke="#4656cc" stroke-width="2.21" stroke-linecap="round" fill="none" />
<path d="M482.2 209.0h0M485.1 210.6h0M488.0 212.2h0M490.9 213.8h0M493.8 215.4h0M496.7 217.0h0" stroke="#7a6420" stroke-width="3.50" stroke-linecap="round" fill="none" />
<path d="M482.0 208.7h0M484.9 210.3h0M487.8 211.9h0M490.7 213.5h0M493.6 215.1h0M496.5 216.7h0" stroke="#d4be4c" stroke-width="2.60" stroke-linecap="round" fill="none" />
<path d="M481.0 204.0h0M482.4 201.5h0M483.9 198.9h0M485.3 196.4h0M486.7 193.9h0M488.1 191.3h0M483.9 205.6h0M485.3 203.1h0M486.7 200.7h0M488.1 198.2h0M489.4 195.8h0M490.8 193.3h0M492.2 190.9h0M486.8 207.2h0M488.2 204.8h0M489.5 202.4h0M490.9 200.0h0M492.2 197.6h0M493.6 195.2h0M494.9 192.8h0M496.3 190.4h0M489.7 208.8h0M491.0 206.4h0M492.4 204.1h0M493.7 201.7h0M495.0 199.4h0M496.4 197.0h0M497.7 194.7h0M499.0 192.3h0M500.4 189.9h0M492.6 210.4h0M494.1 207.8h0M495.6 205.2h0M497.0 202.6h0M498.5 199.9h0M500.0 197.3h0M501.5 194.7h0M503.0 192.1h0M504.4 189.5h0M495.5 212.0h0M496.9 209.4h0M498.4 206.9h0M499.8 204.3h0M501.3 201.8h0M502.7 199.2h0M504.2 196.7h0M505.6 194.1h0M507.1 191.6h0M508.5 189.0h0" stroke="#6e5a1c" stroke-width="3.50" stroke-linecap="round" fill="none" />
<path d="M480.8 203.7h0M482.2 201.1h0M483.6 198.6h0M485.0 196.1h0M486.5 193.5h0M487.9 191.0h0M483.6 205.2h0M485.0 202.8h0M486.4 200.3h0M487.8 197.9h0M489.2 195.4h0M490.6 193.0h0M492.0 190.5h0M486.6 206.8h0M487.9 204.5h0M489.3 202.1h0M490.6 199.7h0M492.0 197.3h0M493.3 194.9h0M494.7 192.5h0M496.0 190.1h0M489.4 208.5h0M490.8 206.1h0M492.1 203.7h0M493.4 201.4h0M494.8 199.0h0M496.1 196.7h0M497.4 194.3h0M498.8 191.9h0M500.1 189.6h0M492.4 210.1h0M493.8 207.4h0M495.3 204.8h0M496.8 202.2h0M498.3 199.6h0M499.7 197.0h0M501.2 194.4h0M502.7 191.7h0M504.2 189.1h0M495.2 211.7h0M496.7 209.1h0M498.1 206.5h0M499.6 204.0h0M501.0 201.4h0M502.5 198.9h0M503.9 196.3h0M505.4 193.8h0M506.8 191.2h0M508.2 188.7h0" stroke="#dcc652" stroke-width="2.60" stroke-linecap="round" fill="none" />
<path d="M481.9 207.0h0M484.8 208.6h0M487.7 210.2h0M490.6 211.8h0M493.5 213.4h0M496.4 215.0h0" stroke="#26309a" stroke-width="3.20" stroke-linecap="round" fill="none" />
<path d="M481.6 206.7h0M484.5 208.3h0M487.4 209.9h0M490.3 211.5h0M493.2 213.1h0M496.1 214.7h0" stroke="#4656cc" stroke-width="2.21" stroke-linecap="round" fill="none" />
<path d="M714.0,165.0 C718.4,158.8 748.6,123.7 757.0,118.0 C765.4,112.3 790.1,109.2 798.0,108.0 C805.9,106.8 827.6,105.7 836.0,106.0 C844.4,106.3 873.6,109.2 882.0,111.0 C890.4,112.8 914.4,121.1 920.0,124.0 C925.6,126.9 935.6,135.9 938.0,140.0 C940.4,144.1 943.4,160.0 944.0,165.0 C944.6,170.0 944.8,185.5 944.0,190.0 C943.2,194.5 939.4,206.0 936.0,210.0 C932.6,214.0 918.1,226.8 910.0,230.0 C901.9,233.2 864.3,240.8 855.0,242.0 C845.7,243.2 824.2,242.0 817.0,241.5 C809.8,241.0 790.1,238.7 783.4,237.0 C776.7,235.3 755.6,227.7 749.8,225.0 C744.0,222.3 728.4,213.1 725.0,210.0 C721.6,206.9 717.1,197.0 716.0,194.0 C714.9,191.0 713.7,182.9 713.5,180.0 C713.3,177.1 709.6,171.2 714.0,165.0Z" fill="#5585bd"/>
<path d="M714.3,160.3 C718.5,153.7 748.8,119.3 757.2,113.7 C765.6,108.1 790.5,105.4 798.3,104.3 C806.1,103.2 827.2,102.1 835.6,102.5 C844.0,102.9 873.8,106.2 882.2,108.1 C890.6,110.0 914.2,118.1 919.6,121.1 C925.0,124.1 934.1,134.0 936.3,137.9 C938.5,141.8 941.4,155.9 941.9,160.3 C942.4,164.7 942.3,178.0 941.5,182.0 C940.7,186.0 937.6,196.0 934.0,200.0 C930.4,204.0 911.4,218.8 905.0,222.0 C898.6,225.2 877.0,230.8 870.0,232.0 C863.0,233.2 842.0,234.0 835.0,234.0 C828.0,234.0 806.5,232.8 800.0,232.0 C793.5,231.2 775.5,227.8 770.0,226.0 C764.5,224.2 749.8,217.1 745.0,214.0 C740.2,210.9 725.0,198.4 722.0,195.0 C719.0,191.6 715.8,183.5 715.0,180.0 C714.2,176.5 710.1,166.9 714.3,160.3Z" fill="#b4a24a"/>
<path d="M716.2,176.0 C718.4,177.8 733.0,190.7 738.6,194.0 C744.2,197.3 765.5,207.2 772.2,209.5 C778.9,211.8 799.0,216.4 805.7,217.5 C812.4,218.6 832.6,220.4 839.3,220.5 C846.0,220.6 866.3,219.2 872.9,218.0 C879.5,216.8 899.8,210.2 905.0,208.0 C910.2,205.8 921.5,198.8 925.0,196.0 C928.5,193.2 938.5,181.6 940.0,180.0" transform="translate(2,12)" fill="none" stroke="#d6c45a" stroke-width="2.6" stroke-dasharray="1.6 1.1"/>
<path d="M716.2,176.0 C718.4,177.8 733.0,190.7 738.6,194.0 C744.2,197.3 765.5,207.2 772.2,209.5 C778.9,211.8 799.0,216.4 805.7,217.5 C812.4,218.6 832.6,220.4 839.3,220.5 C846.0,220.6 866.3,219.2 872.9,218.0 C879.5,216.8 899.8,210.2 905.0,208.0 C910.2,205.8 921.5,198.8 925.0,196.0 C928.5,193.2 938.5,181.6 940.0,180.0" transform="translate(2,14.6)" fill="none" stroke="#4048b0" stroke-width="1.7" stroke-dasharray="1.6 1.1"/>
<path d="M716.2,176.0 C718.4,177.8 733.0,190.7 738.6,194.0 C744.2,197.3 765.5,207.2 772.2,209.5 C778.9,211.8 799.0,216.4 805.7,217.5 C812.4,218.6 832.6,220.4 839.3,220.5 C846.0,220.6 866.3,219.2 872.9,218.0 C879.5,216.8 899.8,210.2 905.0,208.0 C910.2,205.8 921.5,198.8 925.0,196.0 C928.5,193.2 938.5,181.6 940.0,180.0" transform="translate(1.2,6)" fill="none" stroke="#d6c45a" stroke-width="2.6" stroke-dasharray="1.6 1.1"/>
<path d="M716.2,176.0 C718.4,177.8 733.0,190.7 738.6,194.0 C744.2,197.3 765.5,207.2 772.2,209.5 C778.9,211.8 799.0,216.4 805.7,217.5 C812.4,218.6 832.6,220.4 839.3,220.5 C846.0,220.6 866.3,219.2 872.9,218.0 C879.5,216.8 899.8,210.2 905.0,208.0 C910.2,205.8 921.5,198.8 925.0,196.0 C928.5,193.2 938.5,181.6 940.0,180.0" transform="translate(1.2,8.6)" fill="none" stroke="#4048b0" stroke-width="1.7" stroke-dasharray="1.6 1.1"/>
<path d="M714.3,160.3 C718.4,154.1 748.8,119.3 757.2,113.7 C765.6,108.1 790.5,105.4 798.3,104.3 C806.1,103.2 827.2,102.1 835.6,102.5 C844.0,102.9 873.8,106.2 882.2,108.1 C890.6,110.0 914.2,118.1 919.6,121.1 C925.0,124.1 934.1,134.0 936.3,137.9 C938.5,141.8 941.5,156.1 941.9,160.3 C942.3,164.5 941.7,176.4 940.0,180.0 C938.3,183.6 928.5,193.2 925.0,196.0 C921.5,198.8 910.2,205.8 905.0,208.0 C899.8,210.2 879.5,216.8 872.9,218.0 C866.3,219.2 846.0,220.6 839.3,220.5 C832.6,220.4 812.4,218.6 805.7,217.5 C799.0,216.4 778.9,211.8 772.2,209.5 C765.5,207.2 744.2,197.3 738.6,194.0 C733.0,190.7 718.6,179.4 716.2,176.0 C713.8,172.6 710.2,166.5 714.3,160.3Z" fill="url(#film3)"/>
<path d="M716.2,176.0 C718.4,177.8 733.0,190.7 738.6,194.0 C744.2,197.3 765.5,207.2 772.2,209.5 C778.9,211.8 799.0,216.4 805.7,217.5 C812.4,218.6 832.6,220.4 839.3,220.5 C846.0,220.6 866.3,219.2 872.9,218.0 C879.5,216.8 899.8,210.2 905.0,208.0 C910.2,205.8 921.5,198.8 925.0,196.0 C928.5,193.2 938.5,181.6 940.0,180.0" fill="none" stroke="#3a44b8" stroke-width="2" stroke-dasharray="1.8 0.9"/>
<path d="M795.4,118.5 L797.4,127.5 M798.9,119.5 L800.9,127.5" stroke="#8a7a30" stroke-width="1.2" opacity="0.8"/>
<path d="M789.4,123.5 L794.4,112.5 L806.4,120.0" fill="none" stroke="#2a32a0" stroke-width="2.7"/>
<path d="M789.4,123.5 L794.4,112.5 L806.4,120.0" fill="none" stroke="#5060d0" stroke-width="1.4" stroke-dasharray="1.6 1.2"/>
<path d="M827.1,130.6 L829.1,139.6 M830.6,131.6 L832.6,139.6" stroke="#8a7a30" stroke-width="1.2" opacity="0.8"/>
<path d="M821.1,135.6 L826.1,124.6 L838.1,132.1" fill="none" stroke="#2a32a0" stroke-width="2.7"/>
<path d="M821.1,135.6 L826.1,124.6 L838.1,132.1" fill="none" stroke="#5060d0" stroke-width="1.4" stroke-dasharray="1.6 1.2"/>
<path d="M758.1,139.0 L760.1,148.0 M761.6,140.0 L763.6,148.0" stroke="#8a7a30" stroke-width="1.2" opacity="0.8"/>
<path d="M752.1,144.0 L757.1,133.0 L769.1,140.5" fill="none" stroke="#2a32a0" stroke-width="2.7"/>
<path d="M752.1,144.0 L757.1,133.0 L769.1,140.5" fill="none" stroke="#5060d0" stroke-width="1.4" stroke-dasharray="1.6 1.2"/>
<path d="M881.2,124.1 L883.2,133.1 M884.7,125.1 L886.7,133.1" stroke="#8a7a30" stroke-width="1.2" opacity="0.8"/>
<path d="M875.2,129.1 L880.2,118.1 L892.2,125.6" fill="none" stroke="#2a32a0" stroke-width="2.7"/>
<path d="M875.2,129.1 L880.2,118.1 L892.2,125.6" fill="none" stroke="#5060d0" stroke-width="1.4" stroke-dasharray="1.6 1.2"/>
<path d="M860.7,149.2 L862.7,158.2 M864.2,150.2 L866.2,158.2" stroke="#8a7a30" stroke-width="1.2" opacity="0.8"/>
<path d="M854.7,154.2 L859.7,143.2 L871.7,150.7" fill="none" stroke="#2a32a0" stroke-width="2.7"/>
<path d="M854.7,154.2 L859.7,143.2 L871.7,150.7" fill="none" stroke="#5060d0" stroke-width="1.4" stroke-dasharray="1.6 1.2"/>
<path d="M804.7,155.8 L806.7,164.8 M808.2,156.8 L810.2,164.8" stroke="#8a7a30" stroke-width="1.2" opacity="0.8"/>
<path d="M798.7,160.8 L803.7,149.8 L815.7,157.3" fill="none" stroke="#2a32a0" stroke-width="2.7"/>
<path d="M798.7,160.8 L803.7,149.8 L815.7,157.3" fill="none" stroke="#5060d0" stroke-width="1.4" stroke-dasharray="1.6 1.2"/>
<path d="M751.6,161.4 L753.6,170.4 M755.1,162.4 L757.1,170.4" stroke="#8a7a30" stroke-width="1.2" opacity="0.8"/>
<path d="M745.6,166.4 L750.6,155.4 L762.6,162.9" fill="none" stroke="#2a32a0" stroke-width="2.7"/>
<path d="M745.6,166.4 L750.6,155.4 L762.6,162.9" fill="none" stroke="#5060d0" stroke-width="1.4" stroke-dasharray="1.6 1.2"/>
<path d="M774.9,182.8 L776.9,191.8 M778.4,183.8 L780.4,191.8" stroke="#8a7a30" stroke-width="1.2" opacity="0.8"/>
<path d="M768.9,187.8 L773.9,176.8 L785.9,184.3" fill="none" stroke="#2a32a0" stroke-width="2.7"/>
<path d="M768.9,187.8 L773.9,176.8 L785.9,184.3" fill="none" stroke="#5060d0" stroke-width="1.4" stroke-dasharray="1.6 1.2"/>
<path d="M834.6,174.4 L836.6,183.4 M838.1,175.4 L840.1,183.4" stroke="#8a7a30" stroke-width="1.2" opacity="0.8"/>
<path d="M828.6,179.4 L833.6,168.4 L845.6,175.9" fill="none" stroke="#2a32a0" stroke-width="2.7"/>
<path d="M828.6,179.4 L833.6,168.4 L845.6,175.9" fill="none" stroke="#5060d0" stroke-width="1.4" stroke-dasharray="1.6 1.2"/>
<path d="M888.7,169.8 L890.7,178.8 M892.2,170.8 L894.2,178.8" stroke="#8a7a30" stroke-width="1.2" opacity="0.8"/>
<path d="M882.7,174.8 L887.7,163.8 L899.7,171.3" fill="none" stroke="#2a32a0" stroke-width="2.7"/>
<path d="M882.7,174.8 L887.7,163.8 L899.7,171.3" fill="none" stroke="#5060d0" stroke-width="1.4" stroke-dasharray="1.6 1.2"/>
<path d="M1023.4,175.0 C1027.2,167.3 1055.9,127.4 1063.5,121.0 C1071.1,114.6 1090.8,112.4 1099.0,111.0 C1107.2,109.6 1136.3,106.8 1145.6,107.0 C1154.9,107.2 1183.8,110.8 1192.2,113.0 C1200.6,115.2 1224.1,125.2 1229.6,129.0 C1235.1,132.8 1245.2,146.0 1247.3,151.0 C1249.4,156.0 1251.0,173.9 1251.0,179.0 C1251.0,184.1 1249.1,198.0 1247.0,202.0 C1244.9,206.0 1236.4,215.4 1230.0,219.0 C1223.6,222.6 1193.2,235.6 1182.9,238.0 C1172.6,240.4 1138.1,243.2 1126.9,243.0 C1115.7,242.8 1079.9,238.4 1071.0,236.0 C1062.1,233.6 1042.6,222.8 1038.0,219.0 C1033.4,215.2 1026.5,202.4 1025.0,198.0 C1023.5,193.6 1019.5,182.7 1023.4,175.0Z" fill="#5585bd"/>
<path d="M1023.4,172.4 C1027.2,165.4 1055.9,124.7 1063.5,118.3 C1071.1,111.9 1090.8,109.5 1099.0,108.1 C1107.2,106.7 1136.3,104.1 1145.6,104.3 C1154.9,104.5 1183.8,107.7 1192.2,109.9 C1200.6,112.1 1224.1,122.6 1229.6,126.7 C1235.1,130.8 1245.3,146.7 1247.3,151.0 C1249.2,155.3 1249.0,165.9 1249.1,169.6 C1249.2,173.3 1249.4,183.8 1248.0,188.0 C1246.6,192.2 1241.5,207.6 1235.0,212.0 C1228.5,216.4 1193.7,229.7 1182.9,232.0 C1172.1,234.3 1138.1,236.1 1126.9,235.5 C1115.7,234.9 1079.7,228.5 1071.0,225.6 C1062.3,222.7 1044.5,209.8 1040.0,206.0 C1035.5,202.2 1027.7,191.4 1026.0,188.0 C1024.3,184.6 1019.6,179.4 1023.4,172.4Z" fill="#b4a24a"/>
<path d="M1029.9,180.8 C1034.0,183.0 1061.3,199.8 1071.0,203.2 C1080.7,206.6 1115.7,213.1 1126.9,214.4 C1138.1,215.7 1172.6,218.4 1182.9,216.3 C1193.2,214.2 1223.2,197.6 1229.6,193.9 C1236.0,190.2 1245.5,180.5 1247.3,179.0" transform="translate(2,12)" fill="none" stroke="#d6c45a" stroke-width="2.6" stroke-dasharray="1.6 1.1"/>
<path d="M1029.9,180.8 C1034.0,183.0 1061.3,199.8 1071.0,203.2 C1080.7,206.6 1115.7,213.1 1126.9,214.4 C1138.1,215.7 1172.6,218.4 1182.9,216.3 C1193.2,214.2 1223.2,197.6 1229.6,193.9 C1236.0,190.2 1245.5,180.5 1247.3,179.0" transform="translate(2,14.6)" fill="none" stroke="#4048b0" stroke-width="1.7" stroke-dasharray="1.6 1.1"/>
<path d="M1029.9,180.8 C1034.0,183.0 1061.3,199.8 1071.0,203.2 C1080.7,206.6 1115.7,213.1 1126.9,214.4 C1138.1,215.7 1172.6,218.4 1182.9,216.3 C1193.2,214.2 1223.2,197.6 1229.6,193.9 C1236.0,190.2 1245.5,180.5 1247.3,179.0" transform="translate(1.2,6)" fill="none" stroke="#d6c45a" stroke-width="2.6" stroke-dasharray="1.6 1.1"/>
<path d="M1029.9,180.8 C1034.0,183.0 1061.3,199.8 1071.0,203.2 C1080.7,206.6 1115.7,213.1 1126.9,214.4 C1138.1,215.7 1172.6,218.4 1182.9,216.3 C1193.2,214.2 1223.2,197.6 1229.6,193.9 C1236.0,190.2 1245.5,180.5 1247.3,179.0" transform="translate(1.2,8.6)" fill="none" stroke="#4048b0" stroke-width="1.7" stroke-dasharray="1.6 1.1"/>
<path d="M1023.4,172.4 C1026.8,166.2 1055.9,124.7 1063.5,118.3 C1071.1,111.9 1090.8,109.5 1099.0,108.1 C1107.2,106.7 1136.3,104.1 1145.6,104.3 C1154.9,104.5 1183.8,107.7 1192.2,109.9 C1200.6,112.1 1224.1,122.6 1229.6,126.7 C1235.1,130.8 1245.3,146.7 1247.3,151.0 C1249.2,155.3 1249.1,166.8 1249.1,169.6 C1249.1,172.4 1249.2,176.6 1247.3,179.0 C1245.3,181.4 1236.0,190.2 1229.6,193.9 C1223.2,197.6 1193.2,214.2 1182.9,216.3 C1172.6,218.4 1138.1,215.7 1126.9,214.4 C1115.7,213.1 1080.7,206.6 1071.0,203.2 C1061.3,199.8 1034.7,183.9 1029.9,180.8 C1025.1,177.7 1020.0,178.7 1023.4,172.4Z" fill="url(#film4)"/>
<path d="M1029.9,180.8 C1034.0,183.0 1061.3,199.8 1071.0,203.2 C1080.7,206.6 1115.7,213.1 1126.9,214.4 C1138.1,215.7 1172.6,218.4 1182.9,216.3 C1193.2,214.2 1223.2,197.6 1229.6,193.9 C1236.0,190.2 1245.5,180.5 1247.3,179.0" fill="none" stroke="#3a44b8" stroke-width="2" stroke-dasharray="1.8 0.9"/>
<circle cx="109" cy="64" r="1.9" fill="#e6d25a" stroke="#9c8a2a" stroke-width="0.6"/>
<circle cx="128.5" cy="60.5" r="1.9" fill="#e6d25a" stroke="#9c8a2a" stroke-width="0.6"/>
<circle cx="138" cy="51" r="1.9" fill="#e6d25a" stroke="#9c8a2a" stroke-width="0.6"/>
<circle cx="165" cy="55" r="1.9" fill="#e6d25a" stroke="#9c8a2a" stroke-width="0.6"/>
<circle cx="171" cy="69" r="1.9" fill="#e6d25a" stroke="#9c8a2a" stroke-width="0.6"/>
<circle cx="178" cy="65" r="1.9" fill="#e6d25a" stroke="#9c8a2a" stroke-width="0.6"/>
<circle cx="161" cy="78.5" r="1.9" fill="#e6d25a" stroke="#9c8a2a" stroke-width="0.6"/>
<circle cx="165" cy="83.5" r="1.9" fill="#e6d25a" stroke="#9c8a2a" stroke-width="0.6"/>
<circle cx="197.5" cy="73.5" r="1.9" fill="#e6d25a" stroke="#9c8a2a" stroke-width="0.6"/>
<circle cx="210" cy="84" r="1.9" fill="#e6d25a" stroke="#9c8a2a" stroke-width="0.6"/>
<circle cx="245" cy="76.5" r="1.9" fill="#e6d25a" stroke="#9c8a2a" stroke-width="0.6"/>
<circle cx="240" cy="87" r="1.9" fill="#e6d25a" stroke="#9c8a2a" stroke-width="0.6"/>
<circle cx="278" cy="90.5" r="1.9" fill="#e6d25a" stroke="#9c8a2a" stroke-width="0.6"/>
<circle cx="177.5" cy="90" r="1.9" fill="#e6d25a" stroke="#9c8a2a" stroke-width="0.6"/>
<circle cx="103" cy="93" r="1.9" fill="#e6d25a" stroke="#9c8a2a" stroke-width="0.6"/>
<circle cx="115" cy="92.5" r="1.9" fill="#e6d25a" stroke="#9c8a2a" stroke-width="0.6"/>
<circle cx="115" cy="102" r="1.9" fill="#e6d25a" stroke="#9c8a2a" stroke-width="0.6"/>
<circle cx="135" cy="111" r="1.9" fill="#e6d25a" stroke="#9c8a2a" stroke-width="0.6"/>
<circle cx="146.5" cy="110" r="1.9" fill="#e6d25a" stroke="#9c8a2a" stroke-width="0.6"/>
<circle cx="197.5" cy="101.5" r="1.9" fill="#e6d25a" stroke="#9c8a2a" stroke-width="0.6"/>
<circle cx="210" cy="107.5" r="1.9" fill="#e6d25a" stroke="#9c8a2a" stroke-width="0.6"/>
<circle cx="234" cy="105" r="1.9" fill="#e6d25a" stroke="#9c8a2a" stroke-width="0.6"/>
<circle cx="435" cy="60" r="1.9" fill="#e6d25a" stroke="#9c8a2a" stroke-width="0.6"/>
<circle cx="452.5" cy="75" r="1.9" fill="#e6d25a" stroke="#9c8a2a" stroke-width="0.6"/>
<circle cx="487.5" cy="74" r="1.9" fill="#e6d25a" stroke="#9c8a2a" stroke-width="0.6"/>
<circle cx="496.5" cy="64" r="1.9" fill="#e6d25a" stroke="#9c8a2a" stroke-width="0.6"/>
<circle cx="524" cy="68.5" r="1.9" fill="#e6d25a" stroke="#9c8a2a" stroke-width="0.6"/>
<circle cx="537.5" cy="78.5" r="1.9" fill="#e6d25a" stroke="#9c8a2a" stroke-width="0.6"/>
<circle cx="513.5" cy="80" r="1.9" fill="#e6d25a" stroke="#9c8a2a" stroke-width="0.6"/>
<circle cx="504" cy="90" r="1.9" fill="#e6d25a" stroke="#9c8a2a" stroke-width="0.6"/>
<circle cx="540" cy="84" r="1.9" fill="#e6d25a" stroke="#9c8a2a" stroke-width="0.6"/>
<circle cx="571.5" cy="71.5" r="1.9" fill="#e6d25a" stroke="#9c8a2a" stroke-width="0.6"/>
<circle cx="566.5" cy="81.5" r="1.9" fill="#e6d25a" stroke="#9c8a2a" stroke-width="0.6"/>
<circle cx="587.5" cy="87.5" r="1.9" fill="#e6d25a" stroke="#9c8a2a" stroke-width="0.6"/>
<circle cx="604" cy="86" r="1.9" fill="#e6d25a" stroke="#9c8a2a" stroke-width="0.6"/>
<circle cx="553.5" cy="94" r="1.9" fill="#e6d25a" stroke="#9c8a2a" stroke-width="0.6"/>
<circle cx="561" cy="101.5" r="1.9" fill="#e6d25a" stroke="#9c8a2a" stroke-width="0.6"/>
<circle cx="583.5" cy="99" r="1.9" fill="#e6d25a" stroke="#9c8a2a" stroke-width="0.6"/>
<circle cx="621.5" cy="102" r="1.9" fill="#e6d25a" stroke="#9c8a2a" stroke-width="0.6"/>
<circle cx="525" cy="96.5" r="1.9" fill="#e6d25a" stroke="#9c8a2a" stroke-width="0.6"/>
<circle cx="536.5" cy="104" r="1.9" fill="#e6d25a" stroke="#9c8a2a" stroke-width="0.6"/>
<circle cx="540" cy="111" r="1.9" fill="#e6d25a" stroke="#9c8a2a" stroke-width="0.6"/>
<circle cx="554" cy="118.5" r="1.9" fill="#e6d25a" stroke="#9c8a2a" stroke-width="0.6"/>
<circle cx="578.5" cy="116.5" r="1.9" fill="#e6d25a" stroke="#9c8a2a" stroke-width="0.6"/>
<circle cx="440" cy="97.5" r="1.9" fill="#e6d25a" stroke="#9c8a2a" stroke-width="0.6"/>
<circle cx="459" cy="107.5" r="1.9" fill="#e6d25a" stroke="#9c8a2a" stroke-width="0.6"/>
<circle cx="472.5" cy="106" r="1.9" fill="#e6d25a" stroke="#9c8a2a" stroke-width="0.6"/>
<circle cx="479" cy="121.5" r="1.9" fill="#e6d25a" stroke="#9c8a2a" stroke-width="0.6"/>
<circle cx="490" cy="120" r="1.9" fill="#e6d25a" stroke="#9c8a2a" stroke-width="0.6"/>
<circle cx="796.5" cy="36" r="2.0" fill="#4a6ad0" stroke="#2a3a90" stroke-width="0.6"/>
<circle cx="826.5" cy="39" r="2.0" fill="#4a6ad0" stroke="#2a3a90" stroke-width="0.6"/>
<circle cx="875" cy="43.5" r="2.0" fill="#4a6ad0" stroke="#2a3a90" stroke-width="0.6"/>
<circle cx="766" cy="47.5" r="1.9" fill="#e6d25a" stroke="#9c8a2a" stroke-width="0.6"/>
<circle cx="789" cy="45" r="1.9" fill="#e6d25a" stroke="#9c8a2a" stroke-width="0.6"/>
<circle cx="756.5" cy="57.5" r="2.0" fill="#4a6ad0" stroke="#2a3a90" stroke-width="0.6"/>
<circle cx="772.5" cy="60" r="2.0" fill="#4a6ad0" stroke="#2a3a90" stroke-width="0.6"/>
<circle cx="784" cy="66" r="2.0" fill="#4a6ad0" stroke="#2a3a90" stroke-width="0.6"/>
<circle cx="791.5" cy="65" r="1.9" fill="#e6d25a" stroke="#9c8a2a" stroke-width="0.6"/>
<circle cx="802.5" cy="61" r="1.9" fill="#e6d25a" stroke="#9c8a2a" stroke-width="0.6"/>
<circle cx="814" cy="65" r="2.0" fill="#4a6ad0" stroke="#2a3a90" stroke-width="0.6"/>
<circle cx="810" cy="71.5" r="2.0" fill="#4a6ad0" stroke="#2a3a90" stroke-width="0.6"/>
<circle cx="830" cy="63.5" r="1.9" fill="#e6d25a" stroke="#9c8a2a" stroke-width="0.6"/>
<circle cx="842.5" cy="57.5" r="2.0" fill="#4a6ad0" stroke="#2a3a90" stroke-width="0.6"/>
<circle cx="854" cy="65" r="1.9" fill="#e6d25a" stroke="#9c8a2a" stroke-width="0.6"/>
<circle cx="862.5" cy="64" r="2.0" fill="#4a6ad0" stroke="#2a3a90" stroke-width="0.6"/>
<circle cx="871.5" cy="51.5" r="2.0" fill="#4a6ad0" stroke="#2a3a90" stroke-width="0.6"/>
<circle cx="880" cy="61" r="1.9" fill="#e6d25a" stroke="#9c8a2a" stroke-width="0.6"/>
<circle cx="911.5" cy="56" r="2.0" fill="#4a6ad0" stroke="#2a3a90" stroke-width="0.6"/>
<circle cx="892.5" cy="73.5" r="1.9" fill="#e6d25a" stroke="#9c8a2a" stroke-width="0.6"/>
<circle cx="900" cy="72.5" r="2.0" fill="#4a6ad0" stroke="#2a3a90" stroke-width="0.6"/>
<circle cx="776.5" cy="75" r="1.9" fill="#e6d25a" stroke="#9c8a2a" stroke-width="0.6"/>
<circle cx="754" cy="80" r="1.9" fill="#e6d25a" stroke="#9c8a2a" stroke-width="0.6"/>
<circle cx="797.5" cy="82.5" r="2.0" fill="#4a6ad0" stroke="#2a3a90" stroke-width="0.6"/>
<circle cx="832.5" cy="81" r="2.0" fill="#4a6ad0" stroke="#2a3a90" stroke-width="0.6"/>
<circle cx="845" cy="75" r="2.0" fill="#4a6ad0" stroke="#2a3a90" stroke-width="0.6"/>
<circle cx="860" cy="73.5" r="2.0" fill="#4a6ad0" stroke="#2a3a90" stroke-width="0.6"/>
<circle cx="871.5" cy="80" r="1.9" fill="#e6d25a" stroke="#9c8a2a" stroke-width="0.6"/>
<circle cx="840" cy="87.5" r="1.9" fill="#e6d25a" stroke="#9c8a2a" stroke-width="0.6"/>
<circle cx="851" cy="92.5" r="2.0" fill="#4a6ad0" stroke="#2a3a90" stroke-width="0.6"/>
<circle cx="746.5" cy="91.5" r="2.0" fill="#4a6ad0" stroke="#2a3a90" stroke-width="0.6"/>
<circle cx="781" cy="95" r="1.9" fill="#e6d25a" stroke="#9c8a2a" stroke-width="0.6"/>
<circle cx="913.5" cy="96.5" r="1.9" fill="#e6d25a" stroke="#9c8a2a" stroke-width="0.6"/>
<circle cx="890" cy="94" r="1.9" fill="#e6d25a" stroke="#9c8a2a" stroke-width="0.6"/>
<circle cx="925" cy="88.5" r="2.0" fill="#4a6ad0" stroke="#2a3a90" stroke-width="0.6"/>
<circle cx="881.5" cy="101.5" r="2.0" fill="#4a6ad0" stroke="#2a3a90" stroke-width="0.6"/>
<circle cx="1093.5" cy="33.9" r="2.0" fill="#4a6ad0" stroke="#2a3a90" stroke-width="0.6"/>
<circle cx="1123.8" cy="36.9" r="2.0" fill="#4a6ad0" stroke="#2a3a90" stroke-width="0.6"/>
<circle cx="1172.6" cy="41" r="2.0" fill="#4a6ad0" stroke="#2a3a90" stroke-width="0.6"/>
<circle cx="1063.2" cy="44.5" r="1.9" fill="#e6d25a" stroke="#9c8a2a" stroke-width="0.6"/>
<circle cx="1086.7" cy="42" r="1.9" fill="#e6d25a" stroke="#9c8a2a" stroke-width="0.6"/>
<circle cx="1053.8" cy="54.9" r="2.0" fill="#4a6ad0" stroke="#2a3a90" stroke-width="0.6"/>
<circle cx="1140.3" cy="54.6" r="2.0" fill="#4a6ad0" stroke="#2a3a90" stroke-width="0.6"/>
<circle cx="1168.8" cy="49.8" r="2.0" fill="#4a6ad0" stroke="#2a3a90" stroke-width="0.6"/>
<circle cx="1208.5" cy="53.6" r="2.0" fill="#4a6ad0" stroke="#2a3a90" stroke-width="0.6"/>
<circle cx="1178.4" cy="58.4" r="1.9" fill="#e6d25a" stroke="#9c8a2a" stroke-width="0.6"/>
<circle cx="1088.5" cy="63" r="1.9" fill="#e6d25a" stroke="#9c8a2a" stroke-width="0.6"/>
<circle cx="1106.9" cy="60.4" r="2.0" fill="#4a6ad0" stroke="#2a3a90" stroke-width="0.6"/>
<circle cx="1137.2" cy="63.7" r="2.0" fill="#4a6ad0" stroke="#2a3a90" stroke-width="0.6"/>
<circle cx="1151.6" cy="62" r="1.9" fill="#e6d25a" stroke="#9c8a2a" stroke-width="0.6"/>
<circle cx="1186.3" cy="68" r="2.0" fill="#4a6ad0" stroke="#2a3a90" stroke-width="0.6"/>
<circle cx="1076.3" cy="71.8" r="1.9" fill="#e6d25a" stroke="#9c8a2a" stroke-width="0.6"/>
<circle cx="1099.8" cy="69.3" r="1.9" fill="#e6d25a" stroke="#9c8a2a" stroke-width="0.6"/>
<circle cx="1093.5" cy="76.9" r="2.0" fill="#4a6ad0" stroke="#2a3a90" stroke-width="0.6"/>
<circle cx="1123.8" cy="79.9" r="2.0" fill="#4a6ad0" stroke="#2a3a90" stroke-width="0.6"/>
<circle cx="1067" cy="81.9" r="2.0" fill="#4a6ad0" stroke="#2a3a90" stroke-width="0.6"/>
<circle cx="1153.4" cy="81.7" r="2.0" fill="#4a6ad0" stroke="#2a3a90" stroke-width="0.6"/>
<circle cx="1182.7" cy="76.9" r="2.0" fill="#4a6ad0" stroke="#2a3a90" stroke-width="0.6"/>
<circle cx="1221.9" cy="80.7" r="2.0" fill="#4a6ad0" stroke="#2a3a90" stroke-width="0.6"/>
<circle cx="1063.2" cy="87.7" r="1.9" fill="#e6d25a" stroke="#9c8a2a" stroke-width="0.6"/>
<circle cx="1086.7" cy="85.2" r="1.9" fill="#e6d25a" stroke="#9c8a2a" stroke-width="0.6"/>
<circle cx="1101.8" cy="90" r="1.9" fill="#e6d25a" stroke="#9c8a2a" stroke-width="0.6"/>
<circle cx="1165" cy="88.7" r="1.9" fill="#e6d25a" stroke="#9c8a2a" stroke-width="0.6"/>
<circle cx="1173.1" cy="84.4" r="2.0" fill="#4a6ad0" stroke="#2a3a90" stroke-width="0.6"/>
<circle cx="1192.1" cy="85.7" r="1.9" fill="#e6d25a" stroke="#9c8a2a" stroke-width="0.6"/>
<circle cx="1169.3" cy="93.3" r="2.0" fill="#4a6ad0" stroke="#2a3a90" stroke-width="0.6"/>
<circle cx="1053.8" cy="98.3" r="2.0" fill="#4a6ad0" stroke="#2a3a90" stroke-width="0.6"/>
<circle cx="1140.3" cy="97.8" r="2.0" fill="#4a6ad0" stroke="#2a3a90" stroke-width="0.6"/>
<circle cx="1208.5" cy="96.6" r="2.0" fill="#4a6ad0" stroke="#2a3a90" stroke-width="0.6"/>
<circle cx="1088.5" cy="106.4" r="1.9" fill="#e6d25a" stroke="#9c8a2a" stroke-width="0.6"/>
<circle cx="1178.7" cy="101.6" r="1.9" fill="#e6d25a" stroke="#9c8a2a" stroke-width="0.6"/>
<path d="M331.8,177.1 L358.1,177.1 L358.1,171.0 L372.0,184.3 L358.1,197.6 L358.1,191.5 L331.8,191.5 L338.3,184.3Z" fill="url(#arrowg)"/>
<path d="M652.4,174.8 L677.5,174.8 L677.5,167.9 L692.6,182.2 L677.5,196.5 L677.5,189.6 L652.4,189.6 L658.9,182.2Z" fill="url(#arrowg)"/>
<path d="M966.8,174.1 L991.9,174.1 L991.9,167.2 L1006.4,181.3 L991.9,195.4 L991.9,188.5 L966.8,188.5 L973.3,181.3Z" fill="url(#arrowg)"/>
<rect x="62" y="317" width="271" height="230" fill="#7a3406"/>
<rect x="376" y="317" width="273" height="230" fill="#8a97ad"/>
<rect x="696" y="317" width="272" height="230" fill="#8e9bb1"/>
<rect x="1014" y="317" width="273" height="230" fill="url(#eg)"/>
<rect x="880" y="618.4" width="39" height="241" fill="url(#cbar)" stroke="#888" stroke-width="0.8"/>
<g clip-path="url(#clipb)">
<line x1="62" y1="421.1" x2="333" y2="421.9" stroke="#6e2e04" stroke-width="1.4" opacity="0.35"/>
<line x1="62" y1="424.2" x2="333" y2="424.3" stroke="#6e2e04" stroke-width="1.1" opacity="0.35"/>
<line x1="62" y1="360.1" x2="333" y2="360.2" stroke="#6e2e04" stroke-width="1.1" opacity="0.35"/>
<line x1="62" y1="498.8" x2="333" y2="493.9" stroke="#6e2e04" stroke-width="0.8" opacity="0.35"/>
<line x1="62" y1="338.7" x2="333" y2="342.4" stroke="#6e2e04" stroke-width="1.2" opacity="0.35"/>
<line x1="62" y1="327.5" x2="333" y2="333.3" stroke="#6e2e04" stroke-width="1.5" opacity="0.35"/>
<line x1="62" y1="467.1" x2="333" y2="468.5" stroke="#6e2e04" stroke-width="0.7" opacity="0.35"/>
<line x1="62" y1="321.4" x2="333" y2="321.8" stroke="#6e2e04" stroke-width="0.6" opacity="0.35"/>
<line x1="62" y1="361.4" x2="333" y2="358.3" stroke="#6e2e04" stroke-width="0.5" opacity="0.35"/>
<line x1="62" y1="423.8" x2="333" y2="423.1" stroke="#6e2e04" stroke-width="1.3" opacity="0.35"/>
<line x1="62" y1="436.4" x2="333" y2="438.0" stroke="#6e2e04" stroke-width="1.0" opacity="0.35"/>
<line x1="62" y1="469.0" x2="333" y2="468.5" stroke="#6e2e04" stroke-width="0.8" opacity="0.35"/>
<line x1="62" y1="545.5" x2="333" y2="551.4" stroke="#6e2e04" stroke-width="1.3" opacity="0.35"/>
<line x1="62" y1="479.4" x2="333" y2="477.2" stroke="#6e2e04" stroke-width="0.7" opacity="0.35"/>
<line x1="62" y1="383.9" x2="333" y2="378.7" stroke="#6e2e04" stroke-width="1.3" opacity="0.35"/>
<line x1="62" y1="409.3" x2="333" y2="413.5" stroke="#6e2e04" stroke-width="0.9" opacity="0.35"/>
<line x1="62" y1="536.4" x2="333" y2="540.6" stroke="#6e2e04" stroke-width="0.5" opacity="0.35"/>
<line x1="62" y1="365.8" x2="333" y2="370.7" stroke="#6e2e04" stroke-width="1.0" opacity="0.35"/>
<line x1="62" y1="541.5" x2="333" y2="540.3" stroke="#6e2e04" stroke-width="0.6" opacity="0.35"/>
<line x1="62" y1="461.5" x2="333" y2="464.9" stroke="#6e2e04" stroke-width="0.8" opacity="0.35"/>
<line x1="62" y1="337.9" x2="333" y2="335.9" stroke="#6e2e04" stroke-width="1.5" opacity="0.35"/>
<line x1="62" y1="490.8" x2="333" y2="486.2" stroke="#6e2e04" stroke-width="0.7" opacity="0.35"/>
<line x1="62" y1="341.0" x2="333" y2="335.8" stroke="#6e2e04" stroke-width="1.3" opacity="0.35"/>
<line x1="62" y1="358.5" x2="333" y2="359.2" stroke="#6e2e04" stroke-width="0.9" opacity="0.35"/>
<line x1="62" y1="361.5" x2="333" y2="364.3" stroke="#6e2e04" stroke-width="0.6" opacity="0.35"/>
<line x1="62" y1="464.8" x2="333" y2="460.2" stroke="#6e2e04" stroke-width="0.9" opacity="0.35"/>
<line x1="62" y1="366.5" x2="333" y2="363.8" stroke="#6e2e04" stroke-width="1.5" opacity="0.35"/>
<line x1="62" y1="501.2" x2="333" y2="498.8" stroke="#6e2e04" stroke-width="1.4" opacity="0.35"/>
<line x1="62" y1="366.0" x2="333" y2="364.8" stroke="#6e2e04" stroke-width="1.4" opacity="0.35"/>
<line x1="62" y1="464.3" x2="333" y2="459.5" stroke="#6e2e04" stroke-width="1.5" opacity="0.35"/>
<line x1="62" y1="366.6" x2="333" y2="363.7" stroke="#6e2e04" stroke-width="1.3" opacity="0.35"/>
<line x1="62" y1="393.0" x2="333" y2="390.6" stroke="#6e2e04" stroke-width="0.6" opacity="0.35"/>
<line x1="62" y1="338.5" x2="333" y2="339.5" stroke="#6e2e04" stroke-width="0.7" opacity="0.35"/>
<line x1="62" y1="455.1" x2="333" y2="453.6" stroke="#6e2e04" stroke-width="1.0" opacity="0.35"/>
<line x1="62" y1="536.7" x2="333" y2="536.5" stroke="#6e2e04" stroke-width="1.1" opacity="0.35"/>
<line x1="62" y1="515.6" x2="333" y2="511.8" stroke="#6e2e04" stroke-width="0.7" opacity="0.35"/>
<line x1="62" y1="525.1" x2="333" y2="528.9" stroke="#6e2e04" stroke-width="0.7" opacity="0.35"/>
<line x1="62" y1="361.3" x2="333" y2="364.1" stroke="#6e2e04" stroke-width="1.4" opacity="0.35"/>
<line x1="62" y1="362.8" x2="333" y2="368.2" stroke="#6e2e04" stroke-width="1.4" opacity="0.35"/>
<line x1="62" y1="455.6" x2="333" y2="454.7" stroke="#6e2e04" stroke-width="0.6" opacity="0.35"/>
<path d="M68.0,391.3 C68.2,389.8 76.0,385.3 77.1,386.0 C78.2,386.8 76.7,395.8 75.4,396.6 C74.0,397.4 67.7,392.9 68.0,391.3Z" fill="#5e2602" opacity="0.3" transform="translate(0.8,1)" filter="url(#soft2)"/>
<path d="M68.0,391.3 C68.2,389.8 76.0,385.3 77.1,386.0 C78.2,386.8 76.7,395.8 75.4,396.6 C74.0,397.4 67.7,392.9 68.0,391.3Z" fill="#a46c0e" filter="url(#soft)"/>
<path d="M101.9,400.7 C103.1,402.7 100.9,407.8 99.1,408.3 C97.4,408.7 91.5,405.9 90.3,403.9 C89.1,401.9 89.6,395.7 91.3,395.3 C93.1,394.8 100.8,398.8 101.9,400.7Z" fill="#5e2602" opacity="0.3" transform="translate(0.8,1)" filter="url(#soft2)"/>
<path d="M101.9,400.7 C103.1,402.7 100.9,407.8 99.1,408.3 C97.4,408.7 91.5,405.9 90.3,403.9 C89.1,401.9 89.6,395.7 91.3,395.3 C93.1,394.8 100.8,398.8 101.9,400.7Z" fill="#a46c0e" filter="url(#soft)"/>
<path d="M113.3,403.3 C112.9,404.9 105.8,406.8 105.0,405.5 C104.2,404.2 106.7,394.9 107.9,394.6 C109.2,394.3 113.8,401.7 113.3,403.3Z" fill="#5e2602" opacity="0.3" transform="translate(0.8,1)" filter="url(#soft2)"/>
<path d="M113.3,403.3 C112.9,404.9 105.8,406.8 105.0,405.5 C104.2,404.2 106.7,394.9 107.9,394.6 C109.2,394.3 113.8,401.7 113.3,403.3Z" fill="#a46c0e" filter="url(#soft)"/>
<path d="M131.8,402.0 C130.8,400.9 134.1,392.4 135.7,392.0 C137.2,391.6 142.8,397.7 142.2,399.2 C141.6,400.7 132.8,403.0 131.8,402.0Z" fill="#5e2602" opacity="0.3" transform="translate(0.8,1)" filter="url(#soft2)"/>
<path d="M131.8,402.0 C130.8,400.9 134.1,392.4 135.7,392.0 C137.2,391.6 142.8,397.7 142.2,399.2 C141.6,400.7 132.8,403.0 131.8,402.0Z" fill="#a46c0e" filter="url(#soft)"/>
<path d="M109.8,381.3 C110.3,382.2 107.2,387.4 106.2,387.3 C105.1,387.3 102.1,382.0 102.7,381.1 C103.2,380.2 109.3,380.4 109.8,381.3Z" fill="#5e2602" opacity="0.3" transform="translate(0.8,1)" filter="url(#soft2)"/>
<path d="M109.8,381.3 C110.3,382.2 107.2,387.4 106.2,387.3 C105.1,387.3 102.1,382.0 102.7,381.1 C103.2,380.2 109.3,380.4 109.8,381.3Z" fill="#a46c0e" filter="url(#soft)"/>
<path d="M105.6,360.7 C106.6,360.5 110.4,364.2 110.0,365.1 C109.6,366.0 103.7,367.2 103.1,366.5 C102.4,365.8 104.5,360.9 105.6,360.7Z" fill="#5e2602" opacity="0.3" transform="translate(0.8,1)" filter="url(#soft2)"/>
<path d="M105.6,360.7 C106.6,360.5 110.4,364.2 110.0,365.1 C109.6,366.0 103.7,367.2 103.1,366.5 C102.4,365.8 104.5,360.9 105.6,360.7Z" fill="#a46c0e" filter="url(#soft)"/>
<path d="M181.5,374.6 C182.9,375.2 184.8,379.2 184.2,380.4 C183.5,381.5 178.6,383.0 177.2,382.4 C175.7,381.7 174.0,377.3 174.6,376.2 C175.3,375.0 180.1,373.9 181.5,374.6Z" fill="#5e2602" opacity="0.3" transform="translate(0.8,1)" filter="url(#soft2)"/>
<path d="M181.5,374.6 C182.9,375.2 184.8,379.2 184.2,380.4 C183.5,381.5 178.6,383.0 177.2,382.4 C175.7,381.7 174.0,377.3 174.6,376.2 C175.3,375.0 180.1,373.9 181.5,374.6Z" fill="#a46c0e" filter="url(#soft)"/>
<path d="M165.3,394.0 C166.2,393.1 172.6,395.1 172.8,396.3 C173.1,397.5 168.2,402.5 167.1,402.2 C165.9,401.8 164.4,394.9 165.3,394.0Z" fill="#5e2602" opacity="0.3" transform="translate(0.8,1)" filter="url(#soft2)"/>
<path d="M165.3,394.0 C166.2,393.1 172.6,395.1 172.8,396.3 C173.1,397.5 168.2,402.5 167.1,402.2 C165.9,401.8 164.4,394.9 165.3,394.0Z" fill="#a46c0e" filter="url(#soft)"/>
<path d="M166.1,410.2 C167.8,410.0 172.0,412.5 172.6,414.1 C173.2,415.6 171.3,419.6 170.1,420.5 C168.8,421.5 165.7,421.1 164.5,420.2 C163.2,419.4 161.5,416.4 161.8,414.9 C162.0,413.4 164.5,410.3 166.1,410.2Z" fill="#5e2602" opacity="0.3" transform="translate(0.8,1)" filter="url(#soft2)"/>
<path d="M166.1,410.2 C167.8,410.0 172.0,412.5 172.6,414.1 C173.2,415.6 171.3,419.6 170.1,420.5 C168.8,421.5 165.7,421.1 164.5,420.2 C163.2,419.4 161.5,416.4 161.8,414.9 C162.0,413.4 164.5,410.3 166.1,410.2Z" fill="#a46c0e" filter="url(#soft)"/>
<path d="M182.5,441.5 C183.1,443.4 179.0,451.4 177.0,451.9 C175.0,452.5 169.8,447.3 169.1,445.3 C168.5,443.3 170.5,439.3 172.5,438.7 C174.5,438.1 181.8,439.5 182.5,441.5Z" fill="#5e2602" opacity="0.3" transform="translate(0.8,1)" filter="url(#soft2)"/>
<path d="M182.5,441.5 C183.1,443.4 179.0,451.4 177.0,451.9 C175.0,452.5 169.8,447.3 169.1,445.3 C168.5,443.3 170.5,439.3 172.5,438.7 C174.5,438.1 181.8,439.5 182.5,441.5Z" fill="#a46c0e" filter="url(#soft)"/>
<path d="M68.3,428.5 C70.1,428.6 74.0,433.4 74.1,435.2 C74.2,437.0 70.7,440.5 69.0,440.4 C67.2,440.3 62.6,436.2 62.5,434.4 C62.4,432.6 66.6,428.4 68.3,428.5Z" fill="#5e2602" opacity="0.3" transform="translate(0.8,1)" filter="url(#soft2)"/>
<path d="M68.3,428.5 C70.1,428.6 74.0,433.4 74.1,435.2 C74.2,437.0 70.7,440.5 69.0,440.4 C67.2,440.3 62.6,436.2 62.5,434.4 C62.4,432.6 66.6,428.4 68.3,428.5Z" fill="#a46c0e" filter="url(#soft)"/>
<path d="M100.4,431.6 C101.6,433.1 101.7,439.2 100.2,440.8 C98.6,442.4 91.1,443.6 89.9,442.1 C88.6,440.5 90.1,432.0 91.7,430.4 C93.2,428.8 99.1,430.0 100.4,431.6Z" fill="#5e2602" opacity="0.3" transform="translate(0.8,1)" filter="url(#soft2)"/>
<path d="M100.4,431.6 C101.6,433.1 101.7,439.2 100.2,440.8 C98.6,442.4 91.1,443.6 89.9,442.1 C88.6,440.5 90.1,432.0 91.7,430.4 C93.2,428.8 99.1,430.0 100.4,431.6Z" fill="#a46c0e" filter="url(#soft)"/>
<path d="M106.9,437.9 C108.0,438.8 110.6,443.0 110.7,444.4 C110.7,445.7 108.4,446.9 107.0,446.9 C105.6,446.9 101.9,445.6 101.3,444.3 C100.7,443.0 102.3,439.4 103.2,438.4 C104.0,437.5 105.8,437.0 106.9,437.9Z" fill="#5e2602" opacity="0.3" transform="translate(0.8,1)" filter="url(#soft2)"/>
<path d="M106.9,437.9 C108.0,438.8 110.6,443.0 110.7,444.4 C110.7,445.7 108.4,446.9 107.0,446.9 C105.6,446.9 101.9,445.6 101.3,444.3 C100.7,443.0 102.3,439.4 103.2,438.4 C104.0,437.5 105.8,437.0 106.9,437.9Z" fill="#a46c0e" filter="url(#soft)"/>
<path d="M125.2,428.8 C124.9,430.1 122.1,432.8 120.7,432.7 C119.3,432.7 116.0,429.6 115.8,428.3 C115.5,427.0 117.9,424.7 118.9,424.1 C120.0,423.4 121.6,423.2 122.5,423.9 C123.5,424.6 125.5,427.5 125.2,428.8Z" fill="#5e2602" opacity="0.3" transform="translate(0.8,1)" filter="url(#soft2)"/>
<path d="M125.2,428.8 C124.9,430.1 122.1,432.8 120.7,432.7 C119.3,432.7 116.0,429.6 115.8,428.3 C115.5,427.0 117.9,424.7 118.9,424.1 C120.0,423.4 121.6,423.2 122.5,423.9 C123.5,424.6 125.5,427.5 125.2,428.8Z" fill="#a46c0e" filter="url(#soft)"/>
<path d="M115.8,437.2 C116.6,437.4 119.0,443.1 118.6,444.0 C118.3,444.8 113.9,443.8 113.5,442.8 C113.0,441.8 115.0,437.0 115.8,437.2Z" fill="#5e2602" opacity="0.3" transform="translate(0.8,1)" filter="url(#soft2)"/>
<path d="M115.8,437.2 C116.6,437.4 119.0,443.1 118.6,444.0 C118.3,444.8 113.9,443.8 113.5,442.8 C113.0,441.8 115.0,437.0 115.8,437.2Z" fill="#a46c0e" filter="url(#soft)"/>
<path d="M147.6,438.7 C148.0,439.9 146.7,442.0 145.8,442.8 C144.9,443.5 142.7,444.4 141.8,443.6 C140.9,442.7 139.6,438.6 139.8,437.3 C140.0,436.0 142.0,434.7 143.1,434.9 C144.3,435.1 147.2,437.5 147.6,438.7Z" fill="#5e2602" opacity="0.3" transform="translate(0.8,1)" filter="url(#soft2)"/>
<path d="M147.6,438.7 C148.0,439.9 146.7,442.0 145.8,442.8 C144.9,443.5 142.7,444.4 141.8,443.6 C140.9,442.7 139.6,438.6 139.8,437.3 C140.0,436.0 142.0,434.7 143.1,434.9 C144.3,435.1 147.2,437.5 147.6,438.7Z" fill="#a46c0e" filter="url(#soft)"/>
<path d="M66.7,461.3 C65.0,459.8 65.5,453.8 67.3,452.8 C69.1,451.7 77.2,452.9 78.9,454.5 C80.5,456.0 80.1,462.1 78.3,463.2 C76.4,464.2 68.3,462.9 66.7,461.3Z" fill="#5e2602" opacity="0.3" transform="translate(0.8,1)" filter="url(#soft2)"/>
<path d="M66.7,461.3 C65.0,459.8 65.5,453.8 67.3,452.8 C69.1,451.7 77.2,452.9 78.9,454.5 C80.5,456.0 80.1,462.1 78.3,463.2 C76.4,464.2 68.3,462.9 66.7,461.3Z" fill="#a46c0e" filter="url(#soft)"/>
<path d="M179.3,471.8 C178.3,470.5 182.0,461.2 183.6,460.8 C185.2,460.3 190.7,467.3 190.0,468.9 C189.3,470.6 180.2,473.0 179.3,471.8Z" fill="#5e2602" opacity="0.3" transform="translate(0.8,1)" filter="url(#soft2)"/>
<path d="M179.3,471.8 C178.3,470.5 182.0,461.2 183.6,460.8 C185.2,460.3 190.7,467.3 190.0,468.9 C189.3,470.6 180.2,473.0 179.3,471.8Z" fill="#a46c0e" filter="url(#soft)"/>
<path d="M196.0,465.5 C195.5,466.3 192.0,465.3 191.2,464.7 C190.3,464.0 190.0,461.9 190.5,461.2 C191.0,460.4 193.9,459.0 194.7,459.7 C195.5,460.3 196.6,464.8 196.0,465.5Z" fill="#5e2602" opacity="0.3" transform="translate(0.8,1)" filter="url(#soft2)"/>
<path d="M196.0,465.5 C195.5,466.3 192.0,465.3 191.2,464.7 C190.3,464.0 190.0,461.9 190.5,461.2 C191.0,460.4 193.9,459.0 194.7,459.7 C195.5,460.3 196.6,464.8 196.0,465.5Z" fill="#a46c0e" filter="url(#soft)"/>
<path d="M100.7,496.2 C99.0,496.1 97.3,494.0 96.9,492.6 C96.5,491.2 97.0,487.9 98.3,486.9 C99.5,485.9 103.8,484.9 105.3,485.8 C106.7,486.7 108.7,491.3 108.0,492.8 C107.4,494.4 102.4,496.2 100.7,496.2Z" fill="#5e2602" opacity="0.3" transform="translate(0.8,1)" filter="url(#soft2)"/>
<path d="M100.7,496.2 C99.0,496.1 97.3,494.0 96.9,492.6 C96.5,491.2 97.0,487.9 98.3,486.9 C99.5,485.9 103.8,484.9 105.3,485.8 C106.7,486.7 108.7,491.3 108.0,492.8 C107.4,494.4 102.4,496.2 100.7,496.2Z" fill="#a46c0e" filter="url(#soft)"/>
<path d="M108.5,478.7 C109.7,479.4 111.8,482.5 112.0,483.8 C112.3,485.1 111.6,486.9 110.3,487.1 C109.1,487.4 104.4,486.7 103.5,485.6 C102.5,484.4 103.3,480.5 104.1,479.5 C104.8,478.5 107.3,478.1 108.5,478.7Z" fill="#5e2602" opacity="0.3" transform="translate(0.8,1)" filter="url(#soft2)"/>
<path d="M108.5,478.7 C109.7,479.4 111.8,482.5 112.0,483.8 C112.3,485.1 111.6,486.9 110.3,487.1 C109.1,487.4 104.4,486.7 103.5,485.6 C102.5,484.4 103.3,480.5 104.1,479.5 C104.8,478.5 107.3,478.1 108.5,478.7Z" fill="#a46c0e" filter="url(#soft)"/>
<path d="M119.5,481.2 C120.4,479.9 123.9,478.3 125.6,478.9 C127.2,479.5 130.2,483.6 130.6,485.2 C131.0,486.8 129.8,489.1 128.2,489.5 C126.6,489.8 121.4,488.7 120.1,487.4 C118.7,486.2 118.7,482.5 119.5,481.2Z" fill="#5e2602" opacity="0.3" transform="translate(0.8,1)" filter="url(#soft2)"/>
<path d="M119.5,481.2 C120.4,479.9 123.9,478.3 125.6,478.9 C127.2,479.5 130.2,483.6 130.6,485.2 C131.0,486.8 129.8,489.1 128.2,489.5 C126.6,489.8 121.4,488.7 120.1,487.4 C118.7,486.2 118.7,482.5 119.5,481.2Z" fill="#a46c0e" filter="url(#soft)"/>
<path d="M126.3,492.2 C126.8,493.2 125.3,495.1 124.2,495.6 C123.1,496.1 119.8,496.5 118.8,495.8 C117.7,495.1 117.0,492.1 117.3,491.0 C117.5,489.9 119.4,488.5 120.7,488.7 C122.1,488.9 125.8,491.2 126.3,492.2Z" fill="#5e2602" opacity="0.3" transform="translate(0.8,1)" filter="url(#soft2)"/>
<path d="M126.3,492.2 C126.8,493.2 125.3,495.1 124.2,495.6 C123.1,496.1 119.8,496.5 118.8,495.8 C117.7,495.1 117.0,492.1 117.3,491.0 C117.5,489.9 119.4,488.5 120.7,488.7 C122.1,488.9 125.8,491.2 126.3,492.2Z" fill="#a46c0e" filter="url(#soft)"/>
<path d="M136.2,501.5 C136.0,502.8 134.3,504.4 133.0,504.4 C131.7,504.4 128.3,502.5 127.8,501.3 C127.2,500.0 128.6,497.1 129.6,496.2 C130.5,495.4 133.2,494.7 134.2,495.5 C135.2,496.2 136.4,500.1 136.2,501.5Z" fill="#5e2602" opacity="0.3" transform="translate(0.8,1)" filter="url(#soft2)"/>
<path d="M136.2,501.5 C136.0,502.8 134.3,504.4 133.0,504.4 C131.7,504.4 128.3,502.5 127.8,501.3 C127.2,500.0 128.6,497.1 129.6,496.2 C130.5,495.4 133.2,494.7 134.2,495.5 C135.2,496.2 136.4,500.1 136.2,501.5Z" fill="#a46c0e" filter="url(#soft)"/>
<path d="M152.4,491.8 C150.9,491.6 147.9,490.2 147.8,488.9 C147.7,487.6 150.5,483.9 151.6,483.3 C152.7,482.6 154.4,483.3 155.3,484.3 C156.2,485.4 157.9,489.1 157.4,490.3 C157.0,491.4 153.8,492.0 152.4,491.8Z" fill="#5e2602" opacity="0.3" transform="translate(0.8,1)" filter="url(#soft2)"/>
<path d="M152.4,491.8 C150.9,491.6 147.9,490.2 147.8,488.9 C147.7,487.6 150.5,483.9 151.6,483.3 C152.7,482.6 154.4,483.3 155.3,484.3 C156.2,485.4 157.9,489.1 157.4,490.3 C157.0,491.4 153.8,492.0 152.4,491.8Z" fill="#a46c0e" filter="url(#soft)"/>
<path d="M191.3,486.5 C192.5,485.9 194.5,487.2 194.8,488.5 C195.1,489.8 194.6,494.3 193.5,494.9 C192.3,495.5 187.5,493.7 187.2,492.4 C186.9,491.2 190.2,487.0 191.3,486.5Z" fill="#5e2602" opacity="0.3" transform="translate(0.8,1)" filter="url(#soft2)"/>
<path d="M191.3,486.5 C192.5,485.9 194.5,487.2 194.8,488.5 C195.1,489.8 194.6,494.3 193.5,494.9 C192.3,495.5 187.5,493.7 187.2,492.4 C186.9,491.2 190.2,487.0 191.3,486.5Z" fill="#a46c0e" filter="url(#soft)"/>
<path d="M90.1,503.3 C91.2,503.1 94.5,504.2 95.2,505.4 C95.9,506.6 95.5,510.1 94.7,511.1 C93.9,512.0 90.9,512.4 89.8,511.8 C88.7,511.2 87.6,508.1 87.7,506.8 C87.7,505.6 89.0,503.5 90.1,503.3Z" fill="#5e2602" opacity="0.3" transform="translate(0.8,1)" filter="url(#soft2)"/>
<path d="M90.1,503.3 C91.2,503.1 94.5,504.2 95.2,505.4 C95.9,506.6 95.5,510.1 94.7,511.1 C93.9,512.0 90.9,512.4 89.8,511.8 C88.7,511.2 87.6,508.1 87.7,506.8 C87.7,505.6 89.0,503.5 90.1,503.3Z" fill="#a46c0e" filter="url(#soft)"/>
<path d="M111.5,518.8 C112.8,520.0 114.1,524.6 113.0,525.8 C112.0,526.9 105.7,527.6 104.4,526.4 C103.2,525.2 103.5,518.9 104.6,517.7 C105.6,516.6 110.3,517.6 111.5,518.8Z" fill="#5e2602" opacity="0.3" transform="translate(0.8,1)" filter="url(#soft2)"/>
<path d="M111.5,518.8 C112.8,520.0 114.1,524.6 113.0,525.8 C112.0,526.9 105.7,527.6 104.4,526.4 C103.2,525.2 103.5,518.9 104.6,517.7 C105.6,516.6 110.3,517.6 111.5,518.8Z" fill="#a46c0e" filter="url(#soft)"/>
<path d="M89.1,531.2 C89.7,532.6 89.5,537.6 88.3,538.9 C87.1,540.3 82.4,540.5 81.1,540.1 C79.9,539.6 79.3,537.5 79.8,535.9 C80.2,534.3 82.7,530.2 84.1,529.5 C85.5,528.8 88.5,529.8 89.1,531.2Z" fill="#5e2602" opacity="0.3" transform="translate(0.8,1)" filter="url(#soft2)"/>
<path d="M89.1,531.2 C89.7,532.6 89.5,537.6 88.3,538.9 C87.1,540.3 82.4,540.5 81.1,540.1 C79.9,539.6 79.3,537.5 79.8,535.9 C80.2,534.3 82.7,530.2 84.1,529.5 C85.5,528.8 88.5,529.8 89.1,531.2Z" fill="#a46c0e" filter="url(#soft)"/>
<path d="M62.8,522.2 C62.5,521.4 66.1,518.3 67.0,518.6 C68.0,518.9 69.8,523.7 69.2,524.2 C68.6,524.7 63.1,523.0 62.8,522.2Z" fill="#5e2602" opacity="0.3" transform="translate(0.8,1)" filter="url(#soft2)"/>
<path d="M62.8,522.2 C62.5,521.4 66.1,518.3 67.0,518.6 C68.0,518.9 69.8,523.7 69.2,524.2 C68.6,524.7 63.1,523.0 62.8,522.2Z" fill="#a46c0e" filter="url(#soft)"/>
<path d="M133.3,545.9 C132.0,546.2 127.1,538.6 127.5,537.0 C128.0,535.3 135.4,533.4 136.3,534.8 C137.1,536.1 134.6,545.5 133.3,545.9Z" fill="#5e2602" opacity="0.3" transform="translate(0.8,1)" filter="url(#soft2)"/>
<path d="M133.3,545.9 C132.0,546.2 127.1,538.6 127.5,537.0 C128.0,535.3 135.4,533.4 136.3,534.8 C137.1,536.1 134.6,545.5 133.3,545.9Z" fill="#a46c0e" filter="url(#soft)"/>
<path d="M148.8,529.1 C150.1,529.5 152.4,533.9 151.9,535.1 C151.3,536.2 146.3,537.1 145.1,536.7 C143.8,536.2 143.0,533.3 143.6,532.2 C144.1,531.1 147.6,528.6 148.8,529.1Z" fill="#5e2602" opacity="0.3" transform="translate(0.8,1)" filter="url(#soft2)"/>
<path d="M148.8,529.1 C150.1,529.5 152.4,533.9 151.9,535.1 C151.3,536.2 146.3,537.1 145.1,536.7 C143.8,536.2 143.0,533.3 143.6,532.2 C144.1,531.1 147.6,528.6 148.8,529.1Z" fill="#a46c0e" filter="url(#soft)"/>
<path d="M174.6,528.7 C175.7,529.3 175.5,532.4 174.4,533.4 C173.3,534.3 168.2,535.8 167.2,535.2 C166.1,534.5 166.2,530.2 167.3,529.2 C168.4,528.2 173.6,528.0 174.6,528.7Z" fill="#5e2602" opacity="0.3" transform="translate(0.8,1)" filter="url(#soft2)"/>
<path d="M174.6,528.7 C175.7,529.3 175.5,532.4 174.4,533.4 C173.3,534.3 168.2,535.8 167.2,535.2 C166.1,534.5 166.2,530.2 167.3,529.2 C168.4,528.2 173.6,528.0 174.6,528.7Z" fill="#a46c0e" filter="url(#soft)"/>
<path d="M118.4,542.1 C117.9,541.2 117.9,538.8 118.4,538.1 C118.9,537.4 120.8,537.0 121.7,537.4 C122.6,537.8 124.4,539.8 124.4,540.9 C124.4,541.9 122.9,544.2 122.0,544.4 C121.1,544.6 119.0,543.1 118.4,542.1Z" fill="#5e2602" opacity="0.3" transform="translate(0.8,1)" filter="url(#soft2)"/>
<path d="M118.4,542.1 C117.9,541.2 117.9,538.8 118.4,538.1 C118.9,537.4 120.8,537.0 121.7,537.4 C122.6,537.8 124.4,539.8 124.4,540.9 C124.4,541.9 122.9,544.2 122.0,544.4 C121.1,544.6 119.0,543.1 118.4,542.1Z" fill="#a46c0e" filter="url(#soft)"/>
<path d="M199.1,527.1 C198.5,528.0 196.1,529.2 195.4,528.4 C194.6,527.7 193.4,522.8 194.0,521.9 C194.6,521.0 198.6,521.7 199.4,522.5 C200.2,523.3 199.7,526.2 199.1,527.1Z" fill="#5e2602" opacity="0.3" transform="translate(0.8,1)" filter="url(#soft2)"/>
<path d="M199.1,527.1 C198.5,528.0 196.1,529.2 195.4,528.4 C194.6,527.7 193.4,522.8 194.0,521.9 C194.6,521.0 198.6,521.7 199.4,522.5 C200.2,523.3 199.7,526.2 199.1,527.1Z" fill="#a46c0e" filter="url(#soft)"/>
<path d="M158.6,513.2 C158.6,512.1 160.6,510.2 161.7,510.5 C162.8,510.8 166.0,514.0 165.9,515.1 C165.9,516.1 162.6,518.0 161.5,517.7 C160.4,517.4 158.5,514.3 158.6,513.2Z" fill="#5e2602" opacity="0.3" transform="translate(0.8,1)" filter="url(#soft2)"/>
<path d="M158.6,513.2 C158.6,512.1 160.6,510.2 161.7,510.5 C162.8,510.8 166.0,514.0 165.9,515.1 C165.9,516.1 162.6,518.0 161.5,517.7 C160.4,517.4 158.5,514.3 158.6,513.2Z" fill="#a46c0e" filter="url(#soft)"/>
<path d="M312.1,374.2 C313.9,375.9 312.7,383.1 311.2,385.0 C309.7,386.9 304.4,387.4 302.1,386.9 C299.9,386.4 296.6,383.7 296.1,381.7 C295.6,379.7 296.5,374.8 298.9,373.6 C301.3,372.5 310.3,372.5 312.1,374.2Z" fill="#5e2602" opacity="0.3" transform="translate(0.8,1)" filter="url(#soft2)"/>
<path d="M312.1,374.2 C313.9,375.9 312.7,383.1 311.2,385.0 C309.7,386.9 304.4,387.4 302.1,386.9 C299.9,386.4 296.6,383.7 296.1,381.7 C295.6,379.7 296.5,374.8 298.9,373.6 C301.3,372.5 310.3,372.5 312.1,374.2Z" fill="#a46c0e" filter="url(#soft)"/>
<path d="M265.0,407.7 C263.4,408.0 259.2,401.2 260.1,399.8 C261.0,398.4 270.0,397.2 270.8,398.4 C271.5,399.6 266.6,407.5 265.0,407.7Z" fill="#5e2602" opacity="0.3" transform="translate(0.8,1)" filter="url(#soft2)"/>
<path d="M265.0,407.7 C263.4,408.0 259.2,401.2 260.1,399.8 C261.0,398.4 270.0,397.2 270.8,398.4 C271.5,399.6 266.6,407.5 265.0,407.7Z" fill="#a46c0e" filter="url(#soft)"/>
<path d="M232.1,414.0 C232.0,411.8 233.9,408.0 236.0,407.6 C238.0,407.2 244.2,409.8 245.7,411.3 C247.2,412.9 247.4,416.5 246.0,418.2 C244.6,419.8 238.5,422.9 236.4,422.3 C234.3,421.7 232.1,416.2 232.1,414.0Z" fill="#5e2602" opacity="0.3" transform="translate(0.8,1)" filter="url(#soft2)"/>
<path d="M232.1,414.0 C232.0,411.8 233.9,408.0 236.0,407.6 C238.0,407.2 244.2,409.8 245.7,411.3 C247.2,412.9 247.4,416.5 246.0,418.2 C244.6,419.8 238.5,422.9 236.4,422.3 C234.3,421.7 232.1,416.2 232.1,414.0Z" fill="#a46c0e" filter="url(#soft)"/>
<path d="M228.1,420.1 C229.2,419.1 233.7,418.6 234.6,419.5 C235.6,420.5 235.2,425.4 234.1,426.3 C233.0,427.2 228.2,426.6 227.3,425.6 C226.4,424.7 227.0,421.0 228.1,420.1Z" fill="#5e2602" opacity="0.3" transform="translate(0.8,1)" filter="url(#soft2)"/>
<path d="M228.1,420.1 C229.2,419.1 233.7,418.6 234.6,419.5 C235.6,420.5 235.2,425.4 234.1,426.3 C233.0,427.2 228.2,426.6 227.3,425.6 C226.4,424.7 227.0,421.0 228.1,420.1Z" fill="#a46c0e" filter="url(#soft)"/>
<path d="M223.9,363.2 C224.7,362.3 230.7,364.8 230.9,366.1 C231.1,367.4 226.6,372.4 225.5,372.0 C224.5,371.6 223.1,364.1 223.9,363.2Z" fill="#5e2602" opacity="0.3" transform="translate(0.8,1)" filter="url(#soft2)"/>
<path d="M223.9,363.2 C224.7,362.3 230.7,364.8 230.9,366.1 C231.1,367.4 226.6,372.4 225.5,372.0 C224.5,371.6 223.1,364.1 223.9,363.2Z" fill="#a46c0e" filter="url(#soft)"/>
<path d="M249.9,375.8 C249.2,375.1 250.2,372.0 251.1,371.4 C252.0,370.8 255.2,371.1 255.9,371.8 C256.6,372.6 256.8,375.8 255.9,376.4 C255.0,377.0 250.6,376.6 249.9,375.8Z" fill="#5e2602" opacity="0.3" transform="translate(0.8,1)" filter="url(#soft2)"/>
<path d="M249.9,375.8 C249.2,375.1 250.2,372.0 251.1,371.4 C252.0,370.8 255.2,371.1 255.9,371.8 C256.6,372.6 256.8,375.8 255.9,376.4 C255.0,377.0 250.6,376.6 249.9,375.8Z" fill="#a46c0e" filter="url(#soft)"/>
<path d="M204.8,408.9 C203.7,408.2 203.1,404.3 203.6,403.0 C204.2,401.8 207.3,400.7 208.5,400.7 C209.6,400.6 210.9,401.8 211.2,402.8 C211.5,403.9 211.4,406.8 210.5,407.8 C209.5,408.7 205.8,409.6 204.8,408.9Z" fill="#5e2602" opacity="0.3" transform="translate(0.8,1)" filter="url(#soft2)"/>
<path d="M204.8,408.9 C203.7,408.2 203.1,404.3 203.6,403.0 C204.2,401.8 207.3,400.7 208.5,400.7 C209.6,400.6 210.9,401.8 211.2,402.8 C211.5,403.9 211.4,406.8 210.5,407.8 C209.5,408.7 205.8,409.6 204.8,408.9Z" fill="#a46c0e" filter="url(#soft)"/>
<path d="M200.8,399.3 C200.5,400.4 198.3,402.2 197.3,402.3 C196.2,402.4 194.3,401.1 194.0,400.1 C193.6,399.1 194.1,396.7 194.9,395.9 C195.7,395.2 198.4,394.8 199.3,395.3 C200.2,395.8 201.1,398.3 200.8,399.3Z" fill="#5e2602" opacity="0.3" transform="translate(0.8,1)" filter="url(#soft2)"/>
<path d="M200.8,399.3 C200.5,400.4 198.3,402.2 197.3,402.3 C196.2,402.4 194.3,401.1 194.0,400.1 C193.6,399.1 194.1,396.7 194.9,395.9 C195.7,395.2 198.4,394.8 199.3,395.3 C200.2,395.8 201.1,398.3 200.8,399.3Z" fill="#a46c0e" filter="url(#soft)"/>
<path d="M309.0,434.2 C309.7,431.5 323.0,427.7 324.6,429.7 C326.2,431.7 322.2,446.9 319.9,447.6 C317.5,448.3 308.3,436.9 309.0,434.2Z" fill="#5e2602" opacity="0.3" transform="translate(0.8,1)" filter="url(#soft2)"/>
<path d="M309.0,434.2 C309.7,431.5 323.0,427.7 324.6,429.7 C326.2,431.7 322.2,446.9 319.9,447.6 C317.5,448.3 308.3,436.9 309.0,434.2Z" fill="#a46c0e" filter="url(#soft)"/>
<path d="M238.5,443.0 C238.0,444.4 228.1,445.8 226.8,444.7 C225.5,443.5 228.2,435.6 229.9,435.3 C231.7,435.1 238.9,441.6 238.5,443.0Z" fill="#5e2602" opacity="0.3" transform="translate(0.8,1)" filter="url(#soft2)"/>
<path d="M238.5,443.0 C238.0,444.4 228.1,445.8 226.8,444.7 C225.5,443.5 228.2,435.6 229.9,435.3 C231.7,435.1 238.9,441.6 238.5,443.0Z" fill="#a46c0e" filter="url(#soft)"/>
<path d="M248.4,447.3 C250.5,446.6 256.9,447.9 257.8,449.7 C258.6,451.6 256.2,458.7 254.1,459.4 C252.0,460.1 244.8,456.3 243.9,454.5 C243.0,452.7 246.3,448.0 248.4,447.3Z" fill="#5e2602" opacity="0.3" transform="translate(0.8,1)" filter="url(#soft2)"/>
<path d="M248.4,447.3 C250.5,446.6 256.9,447.9 257.8,449.7 C258.6,451.6 256.2,458.7 254.1,459.4 C252.0,460.1 244.8,456.3 243.9,454.5 C243.0,452.7 246.3,448.0 248.4,447.3Z" fill="#a46c0e" filter="url(#soft)"/>
<path d="M271.1,449.7 C269.3,449.6 263.5,444.6 263.1,442.9 C262.7,441.2 266.5,438.1 268.3,438.2 C270.0,438.3 274.6,442.0 275.0,443.7 C275.4,445.5 272.9,449.9 271.1,449.7Z" fill="#5e2602" opacity="0.3" transform="translate(0.8,1)" filter="url(#soft2)"/>
<path d="M271.1,449.7 C269.3,449.6 263.5,444.6 263.1,442.9 C262.7,441.2 266.5,438.1 268.3,438.2 C270.0,438.3 274.6,442.0 275.0,443.7 C275.4,445.5 272.9,449.9 271.1,449.7Z" fill="#a46c0e" filter="url(#soft)"/>
<path d="M301.1,448.7 C302.3,447.0 308.5,445.8 309.6,447.7 C310.7,449.5 309.4,459.1 308.1,460.8 C306.9,462.5 302.4,460.8 301.3,459.0 C300.3,457.1 299.8,450.4 301.1,448.7Z" fill="#5e2602" opacity="0.3" transform="translate(0.8,1)" filter="url(#soft2)"/>
<path d="M301.1,448.7 C302.3,447.0 308.5,445.8 309.6,447.7 C310.7,449.5 309.4,459.1 308.1,460.8 C306.9,462.5 302.4,460.8 301.3,459.0 C300.3,457.1 299.8,450.4 301.1,448.7Z" fill="#a46c0e" filter="url(#soft)"/>
<path d="M296.2,470.2 C294.8,470.0 290.7,469.2 290.2,467.6 C289.6,466.0 291.3,460.4 292.4,459.4 C293.6,458.3 296.5,459.3 297.6,460.7 C298.7,462.1 299.9,467.5 299.7,469.0 C299.4,470.4 297.6,470.4 296.2,470.2Z" fill="#5e2602" opacity="0.3" transform="translate(0.8,1)" filter="url(#soft2)"/>
<path d="M296.2,470.2 C294.8,470.0 290.7,469.2 290.2,467.6 C289.6,466.0 291.3,460.4 292.4,459.4 C293.6,458.3 296.5,459.3 297.6,460.7 C298.7,462.1 299.9,467.5 299.7,469.0 C299.4,470.4 297.6,470.4 296.2,470.2Z" fill="#a46c0e" filter="url(#soft)"/>
<path d="M278.5,471.3 C276.9,471.7 272.9,468.5 271.7,467.2 C270.5,465.8 269.6,463.6 270.7,462.5 C271.8,461.4 277.5,459.4 279.2,459.7 C280.9,460.1 282.1,463.1 282.0,464.8 C281.9,466.5 280.0,471.0 278.5,471.3Z" fill="#5e2602" opacity="0.3" transform="translate(0.8,1)" filter="url(#soft2)"/>
<path d="M278.5,471.3 C276.9,471.7 272.9,468.5 271.7,467.2 C270.5,465.8 269.6,463.6 270.7,462.5 C271.8,461.4 277.5,459.4 279.2,459.7 C280.9,460.1 282.1,463.1 282.0,464.8 C281.9,466.5 280.0,471.0 278.5,471.3Z" fill="#a46c0e" filter="url(#soft)"/>
<path d="M201.4,468.7 C199.9,466.3 198.7,458.0 199.6,455.5 C200.6,453.1 205.5,451.0 207.8,452.2 C210.0,453.4 214.5,460.4 214.8,463.3 C215.0,466.2 211.2,470.5 209.2,471.4 C207.2,472.2 202.8,471.0 201.4,468.7Z" fill="#5e2602" opacity="0.3" transform="translate(0.8,1)" filter="url(#soft2)"/>
<path d="M201.4,468.7 C199.9,466.3 198.7,458.0 199.6,455.5 C200.6,453.1 205.5,451.0 207.8,452.2 C210.0,453.4 214.5,460.4 214.8,463.3 C215.0,466.2 211.2,470.5 209.2,471.4 C207.2,472.2 202.8,471.0 201.4,468.7Z" fill="#a46c0e" filter="url(#soft)"/>
<path d="M224.7,484.0 C226.0,485.1 227.7,489.7 227.1,491.1 C226.5,492.6 222.2,494.0 220.7,493.5 C219.1,493.1 217.4,489.8 217.1,488.3 C216.8,486.7 217.3,484.0 218.4,483.4 C219.6,482.8 223.3,482.8 224.7,484.0Z" fill="#5e2602" opacity="0.3" transform="translate(0.8,1)" filter="url(#soft2)"/>
<path d="M224.7,484.0 C226.0,485.1 227.7,489.7 227.1,491.1 C226.5,492.6 222.2,494.0 220.7,493.5 C219.1,493.1 217.4,489.8 217.1,488.3 C216.8,486.7 217.3,484.0 218.4,483.4 C219.6,482.8 223.3,482.8 224.7,484.0Z" fill="#a46c0e" filter="url(#soft)"/>
<path d="M260.2,485.4 C261.9,484.5 270.8,491.1 270.6,493.1 C270.4,495.1 260.6,500.0 259.1,498.8 C257.5,497.6 258.5,486.2 260.2,485.4Z" fill="#5e2602" opacity="0.3" transform="translate(0.8,1)" filter="url(#soft2)"/>
<path d="M260.2,485.4 C261.9,484.5 270.8,491.1 270.6,493.1 C270.4,495.1 260.6,500.0 259.1,498.8 C257.5,497.6 258.5,486.2 260.2,485.4Z" fill="#a46c0e" filter="url(#soft)"/>
<path d="M302.1,495.7 C301.0,494.9 299.1,490.5 299.8,489.1 C300.4,487.7 304.9,486.3 306.4,486.5 C307.8,486.6 309.3,488.9 309.4,490.1 C309.6,491.4 308.2,494.1 307.1,494.9 C306.0,495.7 303.2,496.6 302.1,495.7Z" fill="#5e2602" opacity="0.3" transform="translate(0.8,1)" filter="url(#soft2)"/>
<path d="M302.1,495.7 C301.0,494.9 299.1,490.5 299.8,489.1 C300.4,487.7 304.9,486.3 306.4,486.5 C307.8,486.6 309.3,488.9 309.4,490.1 C309.6,491.4 308.2,494.1 307.1,494.9 C306.0,495.7 303.2,496.6 302.1,495.7Z" fill="#a46c0e" filter="url(#soft)"/>
<path d="M322.0,502.4 C322.5,504.2 321.9,507.4 320.3,508.5 C318.8,509.5 313.6,510.9 311.8,509.5 C309.9,508.2 307.5,501.4 308.2,499.4 C309.0,497.4 314.6,496.0 316.7,496.4 C318.7,496.9 321.4,500.6 322.0,502.4Z" fill="#5e2602" opacity="0.3" transform="translate(0.8,1)" filter="url(#soft2)"/>
<path d="M322.0,502.4 C322.5,504.2 321.9,507.4 320.3,508.5 C318.8,509.5 313.6,510.9 311.8,509.5 C309.9,508.2 307.5,501.4 308.2,499.4 C309.0,497.4 314.6,496.0 316.7,496.4 C318.7,496.9 321.4,500.6 322.0,502.4Z" fill="#a46c0e" filter="url(#soft)"/>
<path d="M244.5,503.9 C244.8,502.6 246.3,500.9 247.5,501.1 C248.8,501.3 252.3,504.3 253.1,505.4 C253.8,506.5 253.7,507.9 252.7,508.6 C251.6,509.3 247.4,510.6 246.1,509.9 C244.9,509.2 244.3,505.2 244.5,503.9Z" fill="#5e2602" opacity="0.3" transform="translate(0.8,1)" filter="url(#soft2)"/>
<path d="M244.5,503.9 C244.8,502.6 246.3,500.9 247.5,501.1 C248.8,501.3 252.3,504.3 253.1,505.4 C253.8,506.5 253.7,507.9 252.7,508.6 C251.6,509.3 247.4,510.6 246.1,509.9 C244.9,509.2 244.3,505.2 244.5,503.9Z" fill="#a46c0e" filter="url(#soft)"/>
<path d="M207.1,530.9 C208.4,529.9 217.0,534.1 217.2,535.8 C217.4,537.5 210.1,543.0 208.5,542.2 C207.0,541.5 205.8,531.9 207.1,530.9Z" fill="#5e2602" opacity="0.3" transform="translate(0.8,1)" filter="url(#soft2)"/>
<path d="M207.1,530.9 C208.4,529.9 217.0,534.1 217.2,535.8 C217.4,537.5 210.1,543.0 208.5,542.2 C207.0,541.5 205.8,531.9 207.1,530.9Z" fill="#a46c0e" filter="url(#soft)"/>
<path d="M324.6,517.9 C325.2,518.7 324.3,524.1 323.5,524.3 C322.7,524.5 319.3,520.1 319.5,519.2 C319.7,518.2 324.0,517.1 324.6,517.9Z" fill="#5e2602" opacity="0.3" transform="translate(0.8,1)" filter="url(#soft2)"/>
<path d="M324.6,517.9 C325.2,518.7 324.3,524.1 323.5,524.3 C322.7,524.5 319.3,520.1 319.5,519.2 C319.7,518.2 324.0,517.1 324.6,517.9Z" fill="#a46c0e" filter="url(#soft)"/>
<path d="M81.8,349.4 C81.6,348.4 83.7,346.6 84.7,346.7 C85.7,346.8 88.1,349.4 88.3,350.4 C88.5,351.4 87.0,353.5 86.0,353.3 C85.0,353.2 81.9,350.4 81.8,349.4Z" fill="#5e2602" opacity="0.3" transform="translate(0.8,1)" filter="url(#soft2)"/>
<path d="M81.8,349.4 C81.6,348.4 83.7,346.6 84.7,346.7 C85.7,346.8 88.1,349.4 88.3,350.4 C88.5,351.4 87.0,353.5 86.0,353.3 C85.0,353.2 81.9,350.4 81.8,349.4Z" fill="#a46c0e" filter="url(#soft)"/>
<path d="M160.0,339.6 C160.9,339.5 163.8,343.8 163.3,344.6 C162.8,345.4 157.3,345.8 156.8,345.1 C156.3,344.3 159.0,339.7 160.0,339.6Z" fill="#5e2602" opacity="0.3" transform="translate(0.8,1)" filter="url(#soft2)"/>
<path d="M160.0,339.6 C160.9,339.5 163.8,343.8 163.3,344.6 C162.8,345.4 157.3,345.8 156.8,345.1 C156.3,344.3 159.0,339.7 160.0,339.6Z" fill="#a46c0e" filter="url(#soft)"/>
<path d="M79.4,360.0 C80.1,361.1 77.0,366.9 75.8,366.9 C74.5,366.9 70.5,360.8 71.1,359.7 C71.6,358.7 78.7,358.9 79.4,360.0Z" fill="#5e2602" opacity="0.3" transform="translate(0.8,1)" filter="url(#soft2)"/>
<path d="M79.4,360.0 C80.1,361.1 77.0,366.9 75.8,366.9 C74.5,366.9 70.5,360.8 71.1,359.7 C71.6,358.7 78.7,358.9 79.4,360.0Z" fill="#a46c0e" filter="url(#soft)"/>
<path d="M114.4,354.0 C114.8,355.0 115.1,357.9 114.6,358.7 C114.0,359.4 111.9,359.7 111.0,359.2 C110.1,358.7 108.6,356.6 108.8,355.6 C109.0,354.6 111.2,352.8 112.1,352.5 C112.9,352.3 114.0,353.1 114.4,354.0Z" fill="#5e2602" opacity="0.3" transform="translate(0.8,1)" filter="url(#soft2)"/>
<path d="M114.4,354.0 C114.8,355.0 115.1,357.9 114.6,358.7 C114.0,359.4 111.9,359.7 111.0,359.2 C110.1,358.7 108.6,356.6 108.8,355.6 C109.0,354.6 111.2,352.8 112.1,352.5 C112.9,352.3 114.0,353.1 114.4,354.0Z" fill="#a46c0e" filter="url(#soft)"/>
<path d="M251.3,353.2 C250.4,352.9 249.0,344.6 249.8,343.5 C250.5,342.4 255.9,344.4 256.1,345.9 C256.3,347.3 252.3,353.6 251.3,353.2Z" fill="#5e2602" opacity="0.3" transform="translate(0.8,1)" filter="url(#soft2)"/>
<path d="M251.3,353.2 C250.4,352.9 249.0,344.6 249.8,343.5 C250.5,342.4 255.9,344.4 256.1,345.9 C256.3,347.3 252.3,353.6 251.3,353.2Z" fill="#a46c0e" filter="url(#soft)"/>
<path d="M277.3,333.2 C276.5,332.9 275.3,327.6 276.0,327.0 C276.6,326.5 281.3,328.6 281.5,329.5 C281.7,330.4 278.1,333.6 277.3,333.2Z" fill="#5e2602" opacity="0.3" transform="translate(0.8,1)" filter="url(#soft2)"/>
<path d="M277.3,333.2 C276.5,332.9 275.3,327.6 276.0,327.0 C276.6,326.5 281.3,328.6 281.5,329.5 C281.7,330.4 278.1,333.6 277.3,333.2Z" fill="#a46c0e" filter="url(#soft)"/>
<path d="M320.6,345.7 C319.6,345.9 317.0,345.5 316.2,344.8 C315.5,344.1 315.2,341.7 315.8,340.9 C316.3,340.2 318.6,339.5 319.7,339.9 C320.7,340.2 322.8,342.7 322.9,343.5 C323.1,344.4 321.6,345.5 320.6,345.7Z" fill="#5e2602" opacity="0.3" transform="translate(0.8,1)" filter="url(#soft2)"/>
<path d="M320.6,345.7 C319.6,345.9 317.0,345.5 316.2,344.8 C315.5,344.1 315.2,341.7 315.8,340.9 C316.3,340.2 318.6,339.5 319.7,339.9 C320.7,340.2 322.8,342.7 322.9,343.5 C323.1,344.4 321.6,345.5 320.6,345.7Z" fill="#a46c0e" filter="url(#soft)"/>
</g>
<line x1="111.1" y1="415.3" x2="94.4" y2="460.1" stroke="#fff" stroke-width="3" stroke-dasharray="11 6.5"/>
<line x1="159.7" y1="416.7" x2="142" y2="456.4" stroke="#fff" stroke-width="3" stroke-dasharray="11 6.5"/>
<line x1="195.6" y1="415.9" x2="175.8" y2="459.1" stroke="#fff" stroke-width="3" stroke-dasharray="11 6.5"/>
<path d="M109,521 L115.3,506 L139.3,506" fill="none" stroke="#fff" stroke-width="2.6"/>
<circle cx="109" cy="521" r="3.8" fill="#fff"/>
<g clip-path="url(#clipc)">
<rect x="376" y="317" width="273" height="230" fill="#8893a6"/>
<g filter="url(#soft)">
<path d="M559.1,479.1 L559.4,486.0 L550.5,500.2 L544.1,497.7 L543.0,491.6 L548.9,481.2Z" fill="#95a1b8"/>
<path d="M585.5,403.9 L588.9,409.1 L584.9,414.9 L578.2,413.4 L574.3,408.2 L578.5,405.3Z" fill="#929eb5"/>
<path d="M655.8,432.4 L654.2,440.7 L649.2,446.7 L644.2,449.5 L643.0,445.7 L649.4,436.0Z" fill="#929eb5"/>
<path d="M392.4,390.7 L395.0,396.0 L390.2,405.1 L385.5,403.5 L383.0,397.4 L386.1,390.8Z" fill="#99a5bd"/>
<path d="M392.5,342.8 L388.4,354.1 L383.1,362.2 L376.9,364.7 L377.2,358.2 L385.6,348.2Z" fill="#95a1b8"/>
<path d="M434.8,427.7 L435.9,431.9 L431.4,440.1 L425.5,442.2 L425.6,437.4 L430.7,430.5Z" fill="#99a5bd"/>
<path d="M383.2,484.2 L383.8,490.0 L379.1,495.1 L374.8,497.7 L375.0,490.7 L379.6,484.0Z" fill="#97a3ba"/>
<path d="M504.1,335.4 L502.6,346.2 L495.8,354.8 L488.9,357.8 L489.5,351.9 L495.1,342.4Z" fill="#97a3ba"/>
<path d="M556.2,424.5 L555.5,431.4 L551.2,437.8 L547.0,438.5 L547.9,432.7 L552.1,427.1Z" fill="#99a5bd"/>
<path d="M451.8,538.9 L454.5,547.9 L447.7,555.7 L441.8,556.4 L438.0,548.8 L444.3,540.4Z" fill="#929eb5"/>
<path d="M589.6,504.6 L591.7,512.7 L586.6,517.3 L580.2,518.8 L577.4,509.2 L581.8,503.4Z" fill="#99a5bd"/>
<path d="M425.4,490.4 L426.8,499.1 L420.4,505.5 L415.3,507.9 L413.8,499.9 L419.0,491.5Z" fill="#95a1b8"/>
<path d="M658.7,540.3 L662.9,547.8 L659.4,552.6 L652.9,551.2 L648.9,547.4 L652.6,541.8Z" fill="#929eb5"/>
<path d="M625.2,511.5 L624.8,517.2 L619.1,528.3 L613.0,528.8 L611.1,523.6 L617.6,512.5Z" fill="#99a5bd"/>
<path d="M418.1,447.7 L420.4,453.5 L414.9,460.2 L405.4,463.5 L402.7,457.4 L410.3,447.0Z" fill="#99a5bd"/>
<path d="M658.5,421.6 L660.6,428.1 L654.2,437.1 L649.7,436.9 L647.4,429.6 L652.9,423.9Z" fill="#95a1b8"/>
<path d="M411.2,453.5 L411.2,457.7 L406.8,467.0 L400.6,467.4 L400.5,463.4 L406.1,455.0Z" fill="#99a5bd"/>
<path d="M525.0,509.6 L529.8,515.7 L521.3,529.1 L515.1,529.9 L511.1,520.4 L517.8,513.4Z" fill="#99a5bd"/>
<path d="M575.5,327.5 L574.7,335.2 L566.9,346.0 L561.5,347.6 L562.8,341.0 L570.1,329.7Z" fill="#99a5bd"/>
<path d="M616.8,318.3 L619.0,326.9 L613.1,334.4 L603.8,338.1 L603.8,330.6 L610.1,318.6Z" fill="#95a1b8"/>
<path d="M585.7,372.3 L585.6,375.3 L583.4,379.7 L580.4,380.2 L578.4,376.7 L580.8,372.6Z" fill="#929eb5"/>
<path d="M577.9,413.0 L579.3,415.4 L575.2,422.2 L571.5,422.7 L570.3,419.0 L574.2,413.4Z" fill="#95a1b8"/>
<path d="M465.1,449.5 L467.7,456.4 L463.4,463.6 L455.0,462.9 L454.3,456.0 L459.0,449.4Z" fill="#929eb5"/>
<path d="M523.6,339.4 L525.2,344.1 L522.5,348.5 L517.4,349.3 L515.4,344.5 L519.5,338.6Z" fill="#929eb5"/>
<path d="M408.1,430.6 L407.9,437.0 L401.1,445.1 L395.2,446.7 L394.4,442.6 L400.0,432.8Z" fill="#929eb5"/>
<path d="M470.7,451.5 L472.6,458.6 L468.1,465.3 L462.1,466.1 L460.8,460.2 L465.4,454.9Z" fill="#95a1b8"/>
<path d="M429.2,352.1 L431.2,358.3 L425.2,368.3 L419.6,366.8 L415.8,360.8 L419.3,352.0Z" fill="#99a5bd"/>
<path d="M417.4,367.4 L417.9,371.8 L413.7,378.2 L409.3,378.8 L409.8,373.8 L414.6,368.3Z" fill="#929eb5"/>
<path d="M459.1,465.9 L459.6,470.3 L454.1,481.0 L448.8,482.8 L449.1,476.8 L455.9,466.0Z" fill="#97a3ba"/>
<path d="M599.0,348.3 L599.1,352.2 L595.5,358.5 L592.4,358.8 L590.9,354.6 L594.8,349.2Z" fill="#95a1b8"/>
<path d="M442.3,500.2 L444.4,504.8 L442.2,509.2 L435.7,509.7 L433.0,503.5 L435.8,500.3Z" fill="#99a5bd"/>
<path d="M431.6,354.5 L431.9,364.5 L424.5,377.9 L417.8,378.6 L415.3,371.3 L423.7,360.6Z" fill="#95a1b8"/>
<path d="M638.2,379.2 L640.9,384.7 L636.3,394.1 L631.1,392.4 L628.2,387.8 L631.1,380.3Z" fill="#97a3ba"/>
<path d="M455.2,424.3 L455.0,431.3 L451.6,436.1 L446.4,434.5 L442.6,431.1 L447.1,426.1Z" fill="#97a3ba"/>
<path d="M614.1,459.4 L614.0,468.5 L608.9,475.1 L601.0,479.9 L599.7,470.9 L603.9,462.1Z" fill="#95a1b8"/>
<path d="M382.4,319.1 L382.2,324.1 L379.6,328.4 L375.6,328.3 L372.6,324.3 L377.1,320.0Z" fill="#97a3ba"/>
<path d="M558.8,337.3 L558.9,344.0 L552.8,353.1 L547.1,357.3 L545.8,350.7 L552.6,340.8Z" fill="#97a3ba"/>
<path d="M607.5,407.4 L613.8,414.1 L609.8,417.6 L604.3,416.8 L599.8,411.2 L603.3,407.5Z" fill="#929eb5"/>
<path d="M609.1,497.8 L611.6,505.8 L607.5,514.1 L600.1,516.6 L597.5,507.4 L604.2,497.6Z" fill="#929eb5"/>
<path d="M513.5,416.1 L514.1,420.7 L507.6,431.4 L503.6,433.6 L503.6,426.9 L508.7,419.2Z" fill="#99a5bd"/>
<path d="M505.1,494.2 L508.2,498.7 L500.9,508.0 L494.9,507.9 L493.8,502.5 L499.1,492.5Z" fill="#99a5bd"/>
<path d="M462.0,527.8 L466.3,535.6 L460.3,541.9 L453.8,540.8 L453.4,534.7 L456.2,528.2Z" fill="#97a3ba"/>
<path d="M474.1,494.1 L476.7,501.5 L473.3,507.3 L465.3,507.5 L460.8,499.1 L466.5,491.8Z" fill="#97a3ba"/>
<path d="M632.1,356.1 L632.6,360.7 L627.3,368.0 L623.8,369.8 L621.9,363.2 L626.9,357.7Z" fill="#99a5bd"/>
<path d="M513.5,448.0 L515.4,454.0 L512.4,459.1 L506.2,460.9 L505.2,455.9 L507.3,450.3Z" fill="#929eb5"/>
<path d="M587.1,320.6 L588.7,327.6 L582.0,333.7 L575.1,334.9 L575.2,327.4 L578.5,321.4Z" fill="#95a1b8"/>
<path d="M473.2,391.1 L473.2,399.4 L466.5,409.1 L459.9,411.2 L461.3,400.6 L467.8,392.8Z" fill="#929eb5"/>
<path d="M483.2,412.8 L485.7,420.8 L481.6,428.5 L472.5,432.0 L469.8,424.0 L478.8,414.8Z" fill="#929eb5"/>
<path d="M380.9,495.0 L384.9,500.7 L374.6,516.6 L369.1,516.6 L364.7,510.2 L372.0,499.7Z" fill="#97a3ba"/>
<path d="M496.8,361.3 L498.2,365.4 L491.2,374.9 L486.6,376.2 L485.9,373.1 L491.0,364.6Z" fill="#929eb5"/>
<path d="M610.5,310.9 L611.5,318.4 L606.2,323.8 L598.7,326.7 L596.3,317.4 L602.9,311.0Z" fill="#97a3ba"/>
<path d="M489.8,492.0 L489.0,498.5 L487.3,504.3 L478.7,507.2 L477.0,498.5 L481.5,491.8Z" fill="#97a3ba"/>
<path d="M637.2,336.9 L635.5,343.6 L629.6,353.8 L622.2,358.3 L622.3,351.5 L628.3,341.7Z" fill="#99a5bd"/>
<path d="M384.3,405.7 L386.2,410.0 L382.6,414.7 L377.3,415.8 L374.0,411.6 L377.4,406.4Z" fill="#929eb5"/>
<path d="M472.1,358.1 L472.9,363.0 L470.0,369.2 L461.7,368.8 L458.9,363.5 L465.7,357.5Z" fill="#95a1b8"/>
<path d="M531.1,483.8 L533.1,488.2 L530.2,492.6 L525.0,491.2 L523.8,487.6 L526.0,483.2Z" fill="#95a1b8"/>
<path d="M535.4,413.2 L535.9,416.2 L532.4,421.4 L528.5,422.9 L527.6,418.0 L531.3,414.1Z" fill="#97a3ba"/>
<path d="M531.6,393.0 L530.3,400.2 L522.7,412.9 L516.8,416.3 L517.0,410.2 L523.3,399.4Z" fill="#929eb5"/>
<path d="M453.0,366.7 L453.6,376.9 L447.0,385.7 L439.6,389.9 L437.3,380.8 L444.2,372.4Z" fill="#95a1b8"/>
<path d="M635.2,392.5 L636.8,397.6 L634.4,401.0 L628.5,402.2 L626.2,397.5 L629.5,392.1Z" fill="#95a1b8"/>
<path d="M580.8,449.5 L585.1,455.0 L580.5,459.7 L576.5,458.4 L572.9,453.7 L574.6,448.6Z" fill="#929eb5"/>
<path d="M523.6,521.5 L523.3,528.1 L520.7,532.4 L515.5,535.9 L514.5,530.2 L518.7,524.6Z" fill="#99a5bd"/>
<path d="M425.3,421.5 L425.9,429.4 L417.2,440.8 L413.3,442.4 L413.2,435.4 L419.0,425.4Z" fill="#97a3ba"/>
<path d="M452.8,386.7 L449.7,396.9 L443.6,405.6 L438.6,409.3 L439.4,399.5 L443.9,391.6Z" fill="#99a5bd"/>
<path d="M427.7,381.7 L425.4,388.4 L419.6,399.2 L414.7,400.6 L414.7,396.7 L419.4,387.1Z" fill="#99a5bd"/>
<path d="M403.7,406.8 L404.5,409.4 L399.4,417.7 L397.1,416.7 L397.1,412.4 L400.1,408.3Z" fill="#99a5bd"/>
<path d="M501.4,370.0 L506.0,376.7 L500.1,384.9 L490.8,384.0 L489.2,376.5 L493.6,371.9Z" fill="#99a5bd"/>
<path d="M464.1,435.7 L465.9,443.1 L460.2,452.7 L453.1,455.5 L450.1,447.6 L459.1,436.3Z" fill="#97a3ba"/>
<path d="M412.4,347.3 L414.1,351.3 L411.6,356.4 L406.3,356.8 L403.3,353.5 L405.6,347.8Z" fill="#929eb5"/>
<path d="M544.7,416.8 L544.3,426.4 L540.0,435.2 L531.6,437.7 L530.3,427.9 L534.2,419.0Z" fill="#95a1b8"/>
<path d="M374.7,532.7 L377.4,539.8 L373.9,545.0 L365.8,545.2 L362.7,537.9 L366.5,532.8Z" fill="#95a1b8"/>
<path d="M529.9,421.6 L531.8,428.1 L527.9,432.2 L521.1,435.8 L521.4,429.5 L525.1,421.4Z" fill="#929eb5"/>
<path d="M640.8,356.3 L640.4,360.2 L638.1,364.7 L632.6,367.5 L632.7,361.8 L637.4,356.1Z" fill="#95a1b8"/>
<path d="M414.3,321.1 L419.3,326.6 L416.1,330.7 L411.3,330.8 L406.6,323.9 L410.3,320.2Z" fill="#97a3ba"/>
<path d="M382.2,513.3 L382.9,518.5 L376.4,529.2 L369.5,535.6 L368.3,529.8 L376.5,518.2Z" fill="#95a1b8"/>
<path d="M632.8,472.0 L634.6,475.5 L630.3,483.2 L624.8,482.8 L623.7,477.1 L628.9,471.2Z" fill="#99a5bd"/>
<path d="M615.5,519.5 L616.9,525.6 L610.4,536.8 L604.4,537.8 L603.0,526.9 L607.3,519.8Z" fill="#99a5bd"/>
<path d="M478.5,340.4 L478.7,344.2 L475.0,351.8 L471.0,351.9 L472.2,346.9 L474.4,343.7Z" fill="#95a1b8"/>
<path d="M587.9,388.5 L587.6,395.6 L579.4,407.3 L571.2,413.3 L572.4,406.5 L578.8,395.2Z" fill="#99a5bd"/>
<path d="M439.3,463.7 L439.8,467.8 L432.5,477.8 L428.7,478.7 L429.4,473.8 L434.7,464.5Z" fill="#95a1b8"/>
<path d="M385.6,428.0 L386.8,433.8 L382.2,441.0 L378.0,441.7 L374.6,437.7 L380.4,430.5Z" fill="#929eb5"/>
<path d="M557.6,403.8 L561.6,409.8 L552.5,421.1 L542.2,424.9 L543.5,413.7 L552.2,404.1Z" fill="#99a5bd"/>
<path d="M613.5,426.5 L614.6,431.5 L609.5,438.3 L604.8,438.3 L601.6,433.8 L606.4,427.6Z" fill="#95a1b8"/>
<path d="M427.1,408.4 L424.5,417.8 L421.3,423.7 L414.5,429.2 L414.8,424.3 L420.7,414.5Z" fill="#99a5bd"/>
<path d="M620.4,450.9 L619.0,458.2 L612.0,468.6 L605.7,472.4 L609.4,461.8 L616.6,450.9Z" fill="#97a3ba"/>
<path d="M417.4,494.2 L418.7,500.0 L412.9,509.0 L406.6,513.7 L406.9,505.7 L411.1,499.0Z" fill="#97a3ba"/>
<path d="M567.0,361.6 L566.8,370.4 L563.1,376.8 L556.2,379.9 L554.3,373.6 L558.9,364.6Z" fill="#95a1b8"/>
<path d="M640.4,544.9 L642.6,549.6 L639.3,554.8 L633.2,558.0 L631.6,551.0 L637.3,544.0Z" fill="#929eb5"/>
<path d="M599.2,368.4 L601.4,373.2 L599.1,376.5 L592.5,378.5 L592.1,373.2 L596.7,368.0Z" fill="#99a5bd"/>
<path d="M566.0,328.2 L570.5,335.3 L565.1,340.8 L558.6,341.3 L557.5,335.4 L562.6,327.7Z" fill="#929eb5"/>
<path d="M467.4,454.9 L470.9,459.4 L463.9,470.1 L456.3,473.9 L453.0,468.2 L461.2,456.4Z" fill="#97a3ba"/>
<path d="M433.8,528.3 L436.2,533.3 L432.1,538.6 L428.0,537.8 L424.2,533.0 L426.2,528.3Z" fill="#929eb5"/>
<path d="M540.5,528.7 L542.0,531.9 L533.2,546.2 L526.4,550.3 L529.1,543.4 L536.6,531.1Z" fill="#95a1b8"/>
<path d="M553.5,504.5 L552.3,511.8 L545.1,521.9 L540.2,524.1 L540.8,519.3 L548.7,505.3Z" fill="#99a5bd"/>
<path d="M502.7,365.4 L504.0,373.3 L499.3,380.7 L492.2,380.9 L491.7,377.0 L497.6,367.7Z" fill="#97a3ba"/>
<path d="M483.8,451.6 L484.0,459.4 L479.2,466.5 L471.7,466.9 L470.6,460.3 L475.2,452.8Z" fill="#97a3ba"/>
<path d="M600.8,411.3 L600.0,419.8 L590.2,432.4 L583.7,435.6 L584.1,427.7 L593.4,416.4Z" fill="#99a5bd"/>
<path d="M575.2,469.3 L576.0,475.1 L573.6,478.0 L569.6,480.9 L567.6,476.3 L571.6,470.6Z" fill="#929eb5"/>
<path d="M582.6,537.3 L584.8,541.2 L578.8,550.7 L573.6,552.1 L572.0,544.6 L575.1,538.6Z" fill="#97a3ba"/>
<path d="M502.7,320.1 L506.1,326.3 L502.2,335.4 L494.7,335.5 L489.6,329.9 L496.7,318.8Z" fill="#95a1b8"/>
<path d="M554.7,422.5 L556.8,427.6 L555.0,432.1 L548.7,432.3 L546.2,427.4 L548.7,422.1Z" fill="#99a5bd"/>
<path d="M486.6,330.6 L488.3,335.1 L481.2,346.2 L473.5,349.9 L472.4,343.4 L482.1,331.3Z" fill="#99a5bd"/>
<path d="M499.2,430.3 L500.0,434.3 L495.1,441.8 L490.1,443.9 L488.8,436.7 L493.2,430.8Z" fill="#99a5bd"/>
<path d="M523.9,395.0 L525.5,397.5 L521.9,403.2 L518.1,405.1 L516.7,402.1 L520.8,396.8Z" fill="#95a1b8"/>
<path d="M553.8,535.2 L555.0,543.4 L551.8,549.9 L542.2,553.2 L540.6,546.0 L546.2,535.2Z" fill="#99a5bd"/>
<path d="M430.4,407.0 L433.1,414.1 L422.4,428.8 L415.1,428.0 L415.6,418.3 L423.1,407.6Z" fill="#97a3ba"/>
<path d="M396.5,372.0 L398.9,377.3 L394.3,385.1 L385.6,387.6 L383.4,381.3 L391.0,369.9Z" fill="#95a1b8"/>
<path d="M475.5,312.6 L477.3,323.2 L473.2,330.8 L463.3,332.4 L461.3,323.9 L466.8,315.9Z" fill="#97a3ba"/>
<path d="M496.2,367.2 L494.6,378.6 L490.1,385.4 L483.2,388.1 L482.9,382.2 L489.6,371.2Z" fill="#99a5bd"/>
<path d="M595.7,347.6 L597.5,351.7 L594.7,356.2 L588.6,356.3 L586.8,351.6 L590.7,346.5Z" fill="#929eb5"/>
<path d="M601.7,505.1 L598.9,514.9 L593.7,523.8 L585.4,526.2 L587.5,515.5 L593.7,507.8Z" fill="#99a5bd"/>
<path d="M583.5,334.2 L582.0,341.5 L576.2,352.8 L568.9,355.2 L569.3,348.3 L575.5,340.1Z" fill="#95a1b8"/>
<path d="M397.6,329.9 L401.8,334.5 L397.6,342.2 L389.8,344.7 L386.7,338.9 L393.9,329.1Z" fill="#97a3ba"/>
<path d="M543.9,446.0 L545.3,448.4 L541.1,455.1 L538.1,454.4 L537.3,450.4 L540.1,445.7Z" fill="#929eb5"/>
<path d="M592.6,327.7 L592.8,333.9 L587.0,341.7 L583.0,343.0 L581.8,338.1 L587.3,329.0Z" fill="#95a1b8"/>
<path d="M563.5,456.2 L563.7,459.9 L559.8,468.1 L553.9,469.5 L554.3,463.1 L557.7,457.2Z" fill="#99a5bd"/>
<path d="M411.2,476.5 L413.3,483.6 L405.7,492.5 L396.9,498.4 L397.8,488.0 L403.3,479.0Z" fill="#95a1b8"/>
<path d="M575.7,316.5 L574.8,325.0 L567.9,334.5 L560.4,341.3 L560.7,334.7 L570.8,320.1Z" fill="#929eb5"/>
<path d="M386.9,402.5 L387.7,406.4 L382.0,416.4 L373.4,423.0 L373.2,413.5 L380.2,404.1Z" fill="#99a5bd"/>
<path d="M537.0,467.2 L538.6,473.8 L534.2,480.7 L529.6,479.9 L525.9,473.3 L528.6,468.8Z" fill="#99a5bd"/>
<path d="M623.4,473.3 L622.5,478.5 L618.9,485.6 L614.3,486.3 L613.7,480.4 L617.4,476.7Z" fill="#99a5bd"/>
<path d="M557.0,307.1 L561.3,310.8 L551.0,324.5 L543.7,328.2 L542.2,319.6 L550.6,307.3Z" fill="#97a3ba"/>
<path d="M481.5,501.1 L482.8,508.4 L476.1,519.5 L467.0,523.8 L467.3,516.3 L473.1,506.7Z" fill="#99a5bd"/>
<path d="M653.3,337.0 L657.8,341.7 L652.6,347.4 L646.4,345.8 L645.7,341.5 L646.7,335.8Z" fill="#929eb5"/>
<path d="M559.8,351.4 L562.7,358.3 L556.3,369.9 L548.9,369.0 L547.3,362.3 L555.0,352.8Z" fill="#929eb5"/>
<path d="M604.5,414.6 L607.4,421.1 L602.2,430.9 L591.6,430.2 L593.2,421.2 L595.3,416.7Z" fill="#929eb5"/>
<path d="M534.0,369.3 L535.6,373.8 L534.0,377.4 L529.2,379.2 L527.0,373.7 L531.0,368.7Z" fill="#929eb5"/>
<path d="M557.0,334.8 L561.7,342.8 L558.8,347.2 L549.5,347.4 L546.9,339.9 L549.4,334.8Z" fill="#99a5bd"/>
<path d="M549.7,372.1 L552.8,376.3 L546.9,386.1 L542.0,384.9 L540.4,379.4 L543.8,373.7Z" fill="#99a5bd"/>
<path d="M522.2,309.3 L521.9,315.3 L518.9,319.3 L513.0,324.8 L512.8,319.2 L519.2,310.6Z" fill="#929eb5"/>
<path d="M447.4,361.5 L446.6,367.4 L440.5,376.5 L434.3,379.7 L433.1,377.4 L441.2,365.4Z" fill="#929eb5"/>
<path d="M661.8,353.1 L660.6,361.2 L656.2,367.2 L649.0,369.7 L646.4,367.0 L656.0,353.2Z" fill="#95a1b8"/>
<path d="M530.9,498.2 L533.0,503.3 L530.0,508.4 L522.8,507.0 L519.4,503.4 L523.2,497.9Z" fill="#929eb5"/>
<path d="M499.0,417.5 L500.6,423.0 L497.2,428.7 L491.0,429.0 L487.4,421.2 L490.2,417.6Z" fill="#929eb5"/>
<path d="M477.1,514.9 L476.1,521.0 L467.1,534.3 L463.0,534.9 L465.1,527.7 L470.2,519.2Z" fill="#97a3ba"/>
<path d="M642.6,352.4 L642.2,357.1 L637.2,364.1 L631.4,367.5 L630.6,363.8 L637.1,355.2Z" fill="#95a1b8"/>
<path d="M482.5,493.2 L485.1,498.7 L480.5,508.1 L475.2,505.8 L471.5,498.2 L475.9,493.9Z" fill="#99a5bd"/>
<path d="M663.7,429.5 L663.6,436.9 L657.2,444.8 L651.3,449.0 L650.4,439.5 L656.4,431.3Z" fill="#95a1b8"/>
<path d="M578.5,484.9 L578.4,489.8 L574.6,497.0 L569.6,497.9 L569.6,495.0 L572.9,487.7Z" fill="#99a5bd"/>
<path d="M532.6,370.4 L533.0,375.7 L527.2,384.2 L519.9,386.6 L519.7,382.6 L525.4,373.5Z" fill="#929eb5"/>
<path d="M417.1,480.2 L416.7,487.3 L408.2,498.8 L401.7,502.1 L405.4,491.8 L409.3,485.6Z" fill="#97a3ba"/>
<path d="M446.4,458.2 L445.9,465.4 L439.7,475.4 L434.8,473.0 L432.9,466.9 L440.2,459.0Z" fill="#97a3ba"/>
<path d="M634.7,435.2 L634.7,439.7 L629.7,446.1 L626.2,447.7 L624.7,443.7 L628.9,437.8Z" fill="#95a1b8"/>
<path d="M583.7,350.1 L584.9,356.1 L577.8,365.7 L574.8,366.4 L572.8,360.8 L577.6,353.9Z" fill="#97a3ba"/>
<path d="M497.8,360.4 L498.2,369.5 L492.5,379.7 L486.2,380.2 L484.2,370.7 L490.5,363.2Z" fill="#99a5bd"/>
<path d="M436.6,406.3 L436.3,414.6 L432.1,423.2 L425.0,426.1 L423.4,420.9 L431.7,407.9Z" fill="#929eb5"/>
<path d="M457.8,480.5 L459.6,485.0 L457.2,489.7 L452.8,490.2 L450.6,486.1 L454.2,480.9Z" fill="#929eb5"/>
<path d="M495.5,333.2 L497.6,338.2 L492.5,348.3 L487.9,348.2 L486.6,340.4 L489.5,336.4Z" fill="#929eb5"/>
<path d="M418.6,409.9 L422.3,415.2 L418.4,420.0 L412.7,420.1 L408.4,414.9 L412.8,407.9Z" fill="#97a3ba"/>
<path d="M610.6,349.8 L610.3,355.6 L603.8,366.0 L596.9,367.1 L598.4,359.8 L603.9,351.7Z" fill="#929eb5"/>
<path d="M473.8,460.8 L476.4,463.8 L472.3,471.3 L466.3,470.6 L466.5,464.2 L468.6,461.4Z" fill="#97a3ba"/>
<path d="M468.2,479.9 L469.5,485.6 L463.8,491.7 L457.8,494.0 L457.2,487.5 L462.0,481.2Z" fill="#95a1b8"/>
<path d="M538.0,530.0 L542.2,537.8 L538.6,543.6 L530.6,541.8 L528.8,537.1 L530.7,530.0Z" fill="#99a5bd"/>
<path d="M563.3,313.4 L565.0,320.3 L557.8,330.2 L548.4,336.8 L548.1,326.7 L554.7,314.5Z" fill="#97a3ba"/>
<path d="M542.8,527.5 L543.1,532.6 L540.5,538.0 L534.1,538.1 L533.3,532.6 L537.0,528.5Z" fill="#95a1b8"/>
<path d="M582.4,402.8 L586.4,407.4 L582.4,414.7 L576.0,413.0 L574.6,406.6 L576.8,401.1Z" fill="#929eb5"/>
<path d="M408.5,440.3 L410.9,450.6 L403.8,456.9 L396.5,460.5 L396.0,450.3 L403.0,443.4Z" fill="#99a5bd"/>
<path d="M408.0,334.2 L407.8,342.6 L400.6,350.7 L393.9,356.0 L395.5,347.1 L401.5,338.4Z" fill="#99a5bd"/>
<path d="M634.6,352.6 L637.9,357.4 L635.0,359.7 L628.3,358.6 L626.0,353.9 L627.7,350.0Z" fill="#99a5bd"/>
<path d="M396.6,351.6 L396.7,358.8 L392.6,365.5 L389.5,365.4 L388.5,361.1 L391.8,353.0Z" fill="#97a3ba"/>
<path d="M657.3,346.7 L659.7,350.5 L656.2,355.9 L650.6,359.2 L649.4,352.0 L653.8,347.7Z" fill="#95a1b8"/>
<path d="M563.4,344.2 L563.0,352.0 L555.1,362.4 L548.6,363.1 L547.9,356.0 L556.9,342.6Z" fill="#97a3ba"/>
<path d="M526.6,361.1 L527.8,365.3 L521.7,374.4 L514.9,378.2 L515.2,373.9 L523.4,360.9Z" fill="#99a5bd"/>
<path d="M534.2,383.8 L532.7,391.4 L527.4,398.7 L523.3,400.4 L522.2,396.6 L528.6,387.6Z" fill="#929eb5"/>
<path d="M437.7,507.5 L439.0,512.2 L434.1,521.5 L426.6,522.7 L425.2,517.9 L430.5,506.6Z" fill="#95a1b8"/>
<path d="M623.4,436.3 L623.2,443.7 L615.7,454.1 L608.5,459.1 L610.7,449.0 L617.4,441.1Z" fill="#99a5bd"/>
<path d="M572.3,500.5 L574.7,504.0 L567.7,512.9 L562.5,513.8 L560.0,508.5 L564.9,500.2Z" fill="#99a5bd"/>
<path d="M566.3,307.9 L567.0,313.9 L560.5,322.4 L557.2,323.7 L556.1,318.4 L563.1,308.9Z" fill="#99a5bd"/>
<path d="M482.2,379.3 L479.7,390.6 L475.0,397.2 L466.8,403.6 L467.8,392.7 L474.9,384.3Z" fill="#929eb5"/>
<path d="M490.3,483.6 L491.2,491.5 L487.2,497.7 L479.9,501.7 L477.2,494.0 L481.4,485.2Z" fill="#99a5bd"/>
<path d="M579.5,442.8 L578.9,451.8 L570.0,462.4 L564.9,464.7 L563.9,455.2 L568.8,445.8Z" fill="#95a1b8"/>
<path d="M505.1,468.2 L507.3,479.8 L500.7,487.0 L490.3,489.3 L491.7,479.3 L499.3,468.8Z" fill="#929eb5"/>
<path d="M411.6,454.1 L413.5,458.9 L408.7,463.6 L404.6,462.9 L403.0,459.8 L407.9,453.8Z" fill="#97a3ba"/>
<path d="M613.0,379.6 L617.2,388.4 L612.4,395.9 L604.8,395.1 L600.6,389.4 L607.8,379.5Z" fill="#95a1b8"/>
<path d="M587.7,315.9 L590.5,324.1 L584.0,332.9 L579.4,331.1 L575.9,324.6 L582.8,316.5Z" fill="#95a1b8"/>
<path d="M631.8,415.1 L634.7,421.6 L632.0,425.9 L624.5,427.6 L622.0,421.7 L627.8,414.7Z" fill="#929eb5"/>
<path d="M650.7,539.6 L653.3,544.9 L651.3,548.9 L645.1,546.6 L641.7,543.0 L643.9,537.9Z" fill="#99a5bd"/>
<path d="M386.6,475.5 L384.9,484.9 L380.7,492.2 L371.8,497.9 L370.5,492.1 L380.0,478.4Z" fill="#95a1b8"/>
<path d="M439.1,386.3 L438.9,393.0 L432.4,403.4 L426.1,406.0 L428.5,399.4 L435.3,390.1Z" fill="#929eb5"/>
<path d="M400.5,443.5 L401.4,447.1 L395.7,457.5 L388.7,461.1 L391.3,452.3 L396.1,444.7Z" fill="#97a3ba"/>
<path d="M426.9,501.4 L428.3,507.9 L422.5,513.0 L418.0,513.9 L417.1,507.2 L419.8,503.3Z" fill="#929eb5"/>
<path d="M384.0,503.8 L384.7,511.2 L378.0,521.8 L373.5,522.8 L371.4,515.0 L380.1,503.7Z" fill="#95a1b8"/>
<path d="M406.9,326.0 L407.3,330.6 L401.5,339.2 L393.3,343.8 L394.1,336.2 L402.2,327.1Z" fill="#95a1b8"/>
<path d="M498.4,409.0 L495.7,419.1 L489.8,427.9 L484.4,428.9 L483.7,424.4 L491.7,410.9Z" fill="#99a5bd"/>
<path d="M545.7,367.8 L548.8,373.1 L546.7,377.4 L539.1,375.6 L536.9,371.4 L539.8,366.2Z" fill="#95a1b8"/>
<path d="M622.9,369.5 L624.8,374.3 L621.7,378.0 L616.4,378.9 L615.2,374.2 L617.0,370.4Z" fill="#929eb5"/>
<path d="M393.3,503.7 L395.6,507.0 L393.4,512.1 L387.8,510.1 L385.5,506.1 L387.2,503.4Z" fill="#95a1b8"/>
<path d="M389.7,415.7 L390.4,421.7 L383.2,432.8 L377.6,433.1 L374.9,425.6 L381.8,414.4Z" fill="#99a5bd"/>
<path d="M605.6,452.9 L607.8,458.8 L604.1,461.5 L600.8,461.5 L598.7,457.0 L602.3,453.7Z" fill="#929eb5"/>
<path d="M543.0,393.1 L544.0,396.8 L540.8,402.4 L537.0,404.3 L536.4,398.8 L539.8,394.2Z" fill="#95a1b8"/>
<path d="M616.9,525.2 L616.8,532.7 L608.8,543.1 L602.3,542.8 L600.6,537.8 L608.9,526.8Z" fill="#97a3ba"/>
<path d="M484.2,460.1 L488.1,465.2 L481.1,474.4 L474.4,471.8 L472.7,465.4 L477.4,458.6Z" fill="#97a3ba"/>
<path d="M628.0,425.2 L630.0,432.8 L621.7,444.1 L615.1,443.0 L613.6,438.2 L620.0,426.9Z" fill="#99a5bd"/>
<path d="M553.6,446.6 L556.2,452.9 L553.7,455.7 L548.3,455.7 L547.4,451.0 L550.0,447.7Z" fill="#97a3ba"/>
<path d="M634.2,514.8 L635.9,523.3 L630.9,531.3 L622.2,535.0 L621.3,528.2 L625.1,520.2Z" fill="#929eb5"/>
<path d="M498.8,495.9 L500.4,501.9 L498.1,505.7 L491.6,506.3 L491.4,500.8 L493.5,496.5Z" fill="#97a3ba"/>
<path d="M447.8,351.1 L447.8,355.6 L439.8,368.7 L433.6,375.1 L435.6,366.8 L442.6,355.6Z" fill="#929eb5"/>
<path d="M505.1,485.1 L504.8,490.6 L501.0,495.9 L496.1,499.4 L495.8,492.0 L500.3,485.1Z" fill="#95a1b8"/>
<path d="M509.9,510.6 L511.6,519.5 L503.7,530.8 L496.2,532.8 L495.8,523.6 L502.8,514.7Z" fill="#95a1b8"/>
<path d="M389.2,439.3 L393.9,449.0 L387.5,455.0 L380.4,453.6 L377.6,447.2 L383.8,440.5Z" fill="#97a3ba"/>
<path d="M532.4,433.0 L533.9,438.2 L529.1,447.6 L524.2,447.5 L521.6,440.7 L526.0,431.9Z" fill="#95a1b8"/>
<path d="M436.6,493.9 L437.5,499.6 L434.4,504.5 L429.0,504.7 L424.1,497.7 L425.7,492.6Z" fill="#95a1b8"/>
<path d="M565.0,337.1 L566.6,343.3 L564.1,347.4 L558.3,346.2 L557.3,342.6 L559.4,338.3Z" fill="#95a1b8"/>
<path d="M516.6,440.2 L515.0,450.8 L506.2,463.6 L500.8,465.7 L498.6,457.4 L508.1,442.7Z" fill="#929eb5"/>
<path d="M638.7,464.7 L638.0,471.6 L633.0,480.5 L626.9,483.7 L628.1,477.2 L632.4,468.7Z" fill="#929eb5"/>
<path d="M594.2,500.1 L597.0,503.0 L591.1,510.9 L586.5,512.5 L587.8,506.2 L589.7,502.2Z" fill="#97a3ba"/>
<path d="M437.9,404.2 L440.7,408.8 L436.6,416.2 L427.7,417.7 L427.4,412.8 L431.4,403.3Z" fill="#99a5bd"/>
<path d="M658.9,473.6 L661.9,479.6 L658.2,487.3 L651.7,488.1 L647.5,480.3 L653.6,471.7Z" fill="#95a1b8"/>
<path d="M603.7,379.3 L603.0,385.2 L599.6,391.2 L595.4,392.7 L593.6,388.9 L599.2,381.5Z" fill="#95a1b8"/>
<path d="M403.8,351.6 L405.8,359.3 L399.5,367.7 L393.8,368.0 L393.4,358.9 L397.9,352.7Z" fill="#929eb5"/>
<path d="M382.4,422.3 L381.3,427.2 L372.1,440.9 L366.6,445.9 L369.6,438.1 L377.3,425.1Z" fill="#95a1b8"/>
<path d="M498.0,354.7 L498.1,360.3 L492.4,368.1 L488.7,368.7 L489.1,362.7 L494.9,354.6Z" fill="#95a1b8"/>
<path d="M412.0,509.8 L411.4,516.9 L405.2,526.8 L401.1,525.8 L402.6,519.4 L406.0,512.3Z" fill="#97a3ba"/>
<path d="M454.1,406.6 L457.0,411.6 L448.9,423.1 L443.7,424.6 L441.0,414.6 L445.5,409.3Z" fill="#99a5bd"/>
<path d="M422.1,323.8 L422.9,332.8 L419.0,338.5 L411.3,337.9 L407.8,335.1 L412.5,325.3Z" fill="#95a1b8"/>
<path d="M495.2,434.5 L495.1,437.6 L493.4,442.0 L489.5,442.6 L488.5,438.7 L490.2,435.5Z" fill="#929eb5"/>
<path d="M563.2,444.4 L564.3,448.4 L555.0,462.3 L547.9,464.9 L548.4,457.4 L553.9,446.1Z" fill="#95a1b8"/>
<path d="M468.7,346.8 L471.3,355.4 L465.2,363.7 L457.1,365.1 L454.1,357.1 L460.4,348.6Z" fill="#95a1b8"/>
<path d="M448.7,516.0 L451.0,520.4 L444.9,529.3 L437.3,532.3 L436.8,527.2 L443.2,517.4Z" fill="#99a5bd"/>
<path d="M599.5,325.1 L599.6,328.2 L595.5,336.6 L589.0,340.1 L589.7,332.8 L594.4,326.1Z" fill="#99a5bd"/>
<path d="M433.2,477.0 L434.0,483.9 L426.5,497.3 L418.3,501.7 L419.9,490.4 L424.4,482.7Z" fill="#95a1b8"/>
<path d="M569.1,455.0 L569.3,462.5 L566.6,468.7 L560.0,469.8 L557.6,466.3 L561.7,457.3Z" fill="#99a5bd"/>
<path d="M630.3,425.8 L631.7,428.7 L625.9,437.3 L621.7,439.2 L621.7,431.9 L626.6,427.1Z" fill="#929eb5"/>
<path d="M618.4,477.3 L621.9,484.2 L613.1,496.2 L607.2,496.1 L605.4,487.9 L610.7,480.2Z" fill="#95a1b8"/>
<path d="M438.8,486.5 L439.0,495.6 L430.8,506.6 L425.2,504.9 L422.3,501.3 L428.5,489.9Z" fill="#99a5bd"/>
<path d="M416.9,514.5 L416.4,522.3 L409.1,531.8 L402.8,535.2 L405.7,525.9 L410.1,519.2Z" fill="#99a5bd"/>
<path d="M580.1,514.5 L582.3,520.6 L575.5,531.8 L569.1,531.7 L569.7,524.1 L572.6,517.6Z" fill="#99a5bd"/>
<path d="M632.0,395.6 L633.5,400.4 L630.9,409.1 L621.1,408.8 L619.1,402.4 L623.5,394.7Z" fill="#99a5bd"/>
<path d="M592.1,320.6 L592.6,324.0 L587.1,333.8 L581.6,337.5 L580.6,332.2 L587.1,321.3Z" fill="#99a5bd"/>
<path d="M604.8,450.9 L606.8,453.6 L605.3,457.9 L600.1,458.7 L597.2,452.9 L599.5,449.0Z" fill="#97a3ba"/>
<path d="M632.2,420.2 L629.9,430.0 L621.8,440.6 L616.3,443.9 L614.8,438.3 L625.2,422.3Z" fill="#929eb5"/>
<path d="M470.0,423.2 L472.2,429.0 L464.2,438.1 L454.9,443.0 L455.8,434.2 L461.3,425.5Z" fill="#97a3ba"/>
<path d="M520.1,333.8 L521.3,340.7 L513.6,350.2 L510.6,350.0 L508.6,345.4 L514.9,335.7Z" fill="#97a3ba"/>
<path d="M544.9,449.6 L547.5,455.2 L543.7,459.5 L536.0,457.5 L534.0,452.6 L537.8,447.2Z" fill="#929eb5"/>
<path d="M543.0,521.9 L542.8,527.4 L538.1,535.7 L534.6,537.4 L534.3,531.9 L538.0,526.1Z" fill="#99a5bd"/>
<path d="M631.7,444.7 L634.9,453.3 L629.7,462.1 L621.9,463.4 L619.5,453.6 L624.5,447.6Z" fill="#929eb5"/>
<path d="M555.0,397.8 L554.7,404.8 L550.3,413.1 L541.2,417.1 L540.5,410.8 L548.3,397.2Z" fill="#929eb5"/>
<path d="M460.6,312.0 L465.1,320.6 L461.0,323.3 L454.5,322.1 L451.9,319.1 L455.9,310.9Z" fill="#95a1b8"/>
<path d="M386.1,416.5 L388.7,424.3 L384.4,429.5 L378.2,431.5 L374.7,426.6 L379.3,416.6Z" fill="#97a3ba"/>
<path d="M423.1,487.4 L423.4,493.0 L420.1,498.3 L413.8,500.5 L412.3,495.5 L414.7,488.1Z" fill="#929eb5"/>
<path d="M566.5,540.6 L569.0,544.9 L565.4,551.4 L557.2,552.8 L555.8,546.2 L561.7,540.8Z" fill="#97a3ba"/>
<path d="M625.3,526.5 L627.2,533.8 L622.6,545.2 L616.1,544.8 L613.4,538.7 L620.1,527.8Z" fill="#95a1b8"/>
<path d="M543.9,532.8 L545.3,542.4 L539.6,550.9 L529.8,554.2 L528.1,545.6 L535.8,535.1Z" fill="#97a3ba"/>
<path d="M639.3,508.4 L639.4,514.7 L633.8,524.3 L628.8,525.4 L627.5,519.8 L632.1,511.8Z" fill="#95a1b8"/>
<path d="M654.9,370.9 L658.4,375.5 L655.5,381.5 L649.7,378.9 L645.4,373.7 L647.4,370.9Z" fill="#95a1b8"/>
<path d="M634.7,467.8 L636.7,474.8 L634.4,481.1 L627.3,481.4 L625.7,476.8 L630.2,470.2Z" fill="#95a1b8"/>
<path d="M639.9,386.1 L641.3,390.8 L638.1,399.4 L629.9,399.7 L626.3,391.3 L633.8,385.7Z" fill="#99a5bd"/>
<path d="M384.3,328.2 L386.8,332.7 L385.3,335.6 L380.1,335.2 L376.3,331.5 L378.8,327.7Z" fill="#97a3ba"/>
<path d="M501.5,437.1 L505.5,444.6 L500.6,450.8 L494.4,451.1 L490.4,446.8 L495.1,439.4Z" fill="#99a5bd"/>
<path d="M440.7,523.3 L438.0,531.7 L432.2,540.3 L428.1,540.7 L429.0,536.5 L436.6,524.5Z" fill="#95a1b8"/>
<path d="M499.4,312.4 L499.8,316.7 L493.4,326.3 L487.3,328.2 L486.8,323.6 L493.9,312.9Z" fill="#97a3ba"/>
<path d="M443.1,538.3 L446.9,548.1 L438.9,555.0 L432.2,557.4 L429.9,551.0 L436.0,537.8Z" fill="#95a1b8"/>
<path d="M635.7,350.1 L634.3,357.6 L627.5,368.1 L622.7,370.3 L621.6,365.5 L629.1,355.5Z" fill="#929eb5"/>
<path d="M640.8,417.1 L642.4,423.2 L636.8,430.5 L630.6,434.8 L629.2,429.9 L635.8,419.2Z" fill="#95a1b8"/>
<path d="M544.1,539.1 L547.8,543.8 L541.1,551.9 L537.0,551.9 L534.9,546.0 L540.7,538.1Z" fill="#929eb5"/>
<path d="M499.9,457.1 L500.6,462.4 L496.5,469.5 L490.6,468.4 L489.1,464.4 L493.7,457.2Z" fill="#95a1b8"/>
<path d="M424.8,365.8 L429.7,375.3 L423.2,384.0 L412.5,385.6 L413.0,377.6 L419.7,365.3Z" fill="#95a1b8"/>
<path d="M465.8,381.2 L464.7,389.0 L458.9,396.6 L455.0,397.8 L455.6,392.2 L460.6,384.1Z" fill="#929eb5"/>
<path d="M543.0,359.8 L541.5,368.7 L532.3,381.4 L527.6,383.5 L529.3,376.2 L537.6,364.6Z" fill="#929eb5"/>
<path d="M447.0,369.8 L450.5,372.9 L445.7,381.6 L439.1,380.5 L438.1,377.1 L440.8,371.6Z" fill="#97a3ba"/>
<path d="M500.2,494.2 L500.2,498.4 L493.2,508.5 L488.7,511.9 L488.9,505.8 L494.8,496.0Z" fill="#929eb5"/>
<path d="M515.1,502.3 L514.9,507.8 L512.0,514.5 L505.6,516.3 L504.7,511.4 L509.1,505.0Z" fill="#99a5bd"/>
<path d="M552.0,460.9 L555.2,465.6 L549.5,472.9 L543.2,472.3 L541.0,466.1 L544.4,461.5Z" fill="#97a3ba"/>
<path d="M519.4,418.5 L522.3,423.7 L517.8,431.1 L509.6,432.4 L510.0,427.0 L514.4,418.6Z" fill="#97a3ba"/>
<path d="M389.7,448.1 L389.8,454.5 L382.6,466.5 L376.4,467.3 L374.2,461.4 L380.6,451.4Z" fill="#929eb5"/>
<path d="M386.5,517.9 L384.1,524.3 L375.7,538.3 L370.6,541.3 L371.3,533.5 L380.7,521.1Z" fill="#95a1b8"/>
<path d="M431.7,444.2 L432.2,451.1 L425.2,462.4 L417.7,463.7 L417.5,455.9 L424.1,444.2Z" fill="#929eb5"/>
<path d="M494.3,529.5 L496.3,533.1 L493.2,539.7 L487.9,540.3 L486.3,534.3 L490.7,529.7Z" fill="#99a5bd"/>
<path d="M435.3,489.4 L438.1,498.0 L433.7,503.8 L426.7,507.0 L424.0,496.2 L428.5,492.0Z" fill="#929eb5"/>
<path d="M566.6,540.4 L569.3,543.4 L561.1,555.3 L557.9,554.8 L557.1,549.4 L561.8,542.5Z" fill="#99a5bd"/>
<path d="M590.4,338.2 L591.2,344.4 L583.0,358.5 L575.5,357.2 L574.9,351.2 L583.7,336.8Z" fill="#99a5bd"/>
<path d="M518.8,369.7 L519.1,374.6 L514.9,380.8 L510.2,383.1 L509.3,378.0 L514.6,371.3Z" fill="#929eb5"/>
<path d="M532.8,333.1 L531.9,337.6 L526.7,345.4 L522.4,348.2 L521.1,345.6 L527.7,335.7Z" fill="#99a5bd"/>
<path d="M433.3,453.8 L434.9,461.2 L428.6,471.0 L421.8,471.8 L420.1,466.9 L426.1,457.9Z" fill="#929eb5"/>
<path d="M585.1,341.8 L589.9,349.4 L585.2,354.1 L576.9,354.7 L574.5,347.9 L577.3,342.7Z" fill="#929eb5"/>
<path d="M496.9,530.0 L497.7,533.7 L494.3,543.7 L485.9,543.8 L484.9,537.2 L490.1,529.7Z" fill="#99a5bd"/>
<path d="M392.3,448.8 L393.5,455.2 L386.3,466.7 L379.5,469.9 L380.0,461.2 L387.3,451.3Z" fill="#929eb5"/>
<path d="M467.5,374.4 L468.0,379.4 L464.6,383.1 L460.1,386.4 L461.0,380.0 L462.9,376.1Z" fill="#95a1b8"/>
<path d="M415.0,414.3 L412.4,423.2 L409.6,427.8 L403.8,432.0 L404.9,425.2 L410.4,417.4Z" fill="#99a5bd"/>
<path d="M397.8,521.7 L395.3,530.2 L391.4,537.9 L384.7,540.7 L384.0,536.4 L392.8,521.8Z" fill="#929eb5"/>
<path d="M412.5,324.1 L414.9,329.8 L410.6,336.9 L406.4,335.8 L404.0,329.8 L407.2,324.5Z" fill="#95a1b8"/>
<path d="M457.0,512.9 L457.7,517.5 L451.6,529.0 L443.8,529.7 L443.5,523.3 L448.1,514.0Z" fill="#99a5bd"/>
<path d="M512.9,423.1 L514.7,429.4 L512.3,433.4 L506.7,432.8 L502.6,427.6 L506.5,422.7Z" fill="#99a5bd"/>
<path d="M436.3,441.0 L437.5,447.1 L429.9,459.7 L426.0,459.5 L424.0,454.6 L431.6,444.9Z" fill="#97a3ba"/>
<path d="M440.5,412.2 L441.4,419.0 L436.7,424.8 L433.1,423.7 L430.8,420.4 L434.8,413.5Z" fill="#97a3ba"/>
<path d="M408.8,438.5 L409.5,444.4 L406.7,449.5 L401.9,450.8 L400.7,444.0 L403.0,439.8Z" fill="#95a1b8"/>
<path d="M530.8,466.2 L532.7,471.6 L529.0,474.0 L523.9,474.2 L520.2,467.8 L524.2,465.6Z" fill="#95a1b8"/>
<path d="M507.1,512.4 L512.4,519.0 L506.6,527.0 L500.6,524.4 L496.9,519.0 L501.7,511.9Z" fill="#97a3ba"/>
<path d="M618.0,376.7 L620.4,380.5 L613.7,390.6 L608.0,391.5 L607.1,385.2 L611.5,378.9Z" fill="#95a1b8"/>
<path d="M630.2,544.6 L630.7,548.5 L624.4,557.7 L621.4,557.8 L621.0,551.6 L626.2,544.7Z" fill="#97a3ba"/>
<path d="M639.6,330.6 L641.5,336.4 L634.2,349.5 L627.7,352.4 L626.3,345.2 L634.0,335.6Z" fill="#99a5bd"/>
<path d="M624.4,497.0 L624.9,504.2 L616.4,514.8 L609.8,518.9 L609.8,510.0 L617.2,496.1Z" fill="#97a3ba"/>
<path d="M477.1,442.6 L476.4,449.9 L473.4,455.0 L467.5,459.7 L465.6,456.0 L473.4,444.1Z" fill="#95a1b8"/>
<path d="M439.5,354.9 L441.3,357.0 L436.5,364.1 L430.9,367.6 L429.4,362.1 L435.1,353.3Z" fill="#929eb5"/>
<path d="M477.4,517.1 L480.0,523.2 L476.1,528.9 L470.9,529.6 L467.4,525.1 L473.4,516.8Z" fill="#929eb5"/>
<path d="M630.4,385.1 L630.9,392.5 L620.8,406.3 L616.5,404.3 L616.7,396.4 L624.8,383.4Z" fill="#95a1b8"/>
<path d="M406.2,449.6 L406.8,454.2 L400.3,465.0 L393.6,466.2 L393.2,459.0 L399.4,449.1Z" fill="#99a5bd"/>
<path d="M494.5,443.7 L494.0,449.0 L487.9,457.7 L483.2,460.0 L481.1,453.6 L487.2,445.5Z" fill="#99a5bd"/>
<path d="M482.0,355.2 L480.9,361.3 L475.1,369.1 L470.0,370.9 L469.9,363.6 L476.0,356.1Z" fill="#95a1b8"/>
<path d="M619.2,323.5 L620.2,326.9 L615.9,333.2 L611.3,333.9 L610.6,328.9 L613.9,323.3Z" fill="#95a1b8"/>
<path d="M550.8,518.8 L552.7,524.4 L549.5,529.0 L544.9,529.2 L543.4,523.5 L547.1,520.0Z" fill="#97a3ba"/>
<path d="M584.5,474.0 L585.2,480.0 L583.9,483.5 L578.9,484.0 L575.4,480.0 L579.3,474.7Z" fill="#97a3ba"/>
<path d="M596.5,351.5 L598.5,358.5 L589.6,371.0 L581.2,370.5 L579.6,362.6 L589.2,349.6Z" fill="#99a5bd"/>
<path d="M482.3,324.5 L482.3,328.0 L475.3,340.0 L470.9,339.3 L470.5,334.8 L476.8,324.2Z" fill="#97a3ba"/>
<path d="M655.8,496.5 L657.7,502.0 L652.0,512.2 L646.4,511.5 L642.3,502.2 L647.1,498.5Z" fill="#95a1b8"/>
<path d="M420.3,352.4 L421.8,355.8 L416.6,366.2 L409.0,364.8 L406.3,358.8 L411.5,350.2Z" fill="#929eb5"/>
<path d="M405.4,313.0 L406.8,316.7 L401.9,324.4 L396.3,325.6 L394.4,322.1 L400.5,312.3Z" fill="#929eb5"/>
<path d="M453.9,317.0 L460.0,323.5 L456.8,325.8 L450.6,325.2 L446.3,320.2 L449.3,316.0Z" fill="#99a5bd"/>
<path d="M568.6,373.8 L571.4,382.9 L567.1,387.6 L559.4,392.3 L556.6,382.5 L561.7,374.5Z" fill="#929eb5"/>
<path d="M607.2,505.8 L609.2,509.8 L606.0,515.3 L599.8,515.2 L596.5,508.9 L599.4,505.2Z" fill="#99a5bd"/>
<path d="M614.9,413.0 L613.3,419.9 L608.0,428.6 L598.2,434.6 L601.0,426.6 L606.5,417.7Z" fill="#929eb5"/>
<path d="M600.1,379.7 L600.7,388.0 L593.7,399.5 L586.5,398.4 L586.2,391.5 L594.9,378.9Z" fill="#97a3ba"/>
<path d="M558.7,424.0 L558.0,429.9 L550.5,439.9 L544.9,443.0 L545.5,438.0 L551.8,428.6Z" fill="#99a5bd"/>
<path d="M379.9,445.8 L380.9,450.7 L377.7,457.0 L369.9,457.4 L368.9,451.4 L371.4,446.3Z" fill="#97a3ba"/>
<path d="M460.7,537.6 L464.0,542.6 L459.4,548.7 L454.1,549.4 L450.8,542.6 L456.6,537.3Z" fill="#99a5bd"/>
<path d="M399.0,316.5 L400.1,326.2 L394.8,332.9 L389.4,335.3 L387.4,326.6 L391.7,320.2Z" fill="#95a1b8"/>
<path d="M630.8,467.4 L629.3,474.0 L626.0,478.8 L621.3,481.2 L621.6,476.0 L626.3,468.7Z" fill="#97a3ba"/>
<path d="M523.4,516.0 L523.6,520.0 L520.4,527.0 L515.5,528.1 L516.0,523.2 L518.6,519.0Z" fill="#99a5bd"/>
<path d="M585.7,425.8 L586.3,429.0 L579.4,440.9 L572.7,444.4 L573.7,438.7 L580.3,428.2Z" fill="#929eb5"/>
<path d="M532.7,369.2 L533.1,374.9 L529.7,380.0 L524.7,381.9 L524.3,377.1 L528.8,370.4Z" fill="#97a3ba"/>
<path d="M520.9,389.1 L522.8,393.4 L518.0,402.5 L510.4,405.3 L509.6,397.7 L514.1,389.1Z" fill="#99a5bd"/>
<path d="M542.6,473.8 L544.9,483.4 L539.6,491.2 L529.5,490.3 L529.2,483.5 L536.5,471.7Z" fill="#97a3ba"/>
<path d="M537.8,378.9 L538.7,385.7 L535.7,393.9 L527.7,393.5 L527.2,388.0 L530.5,381.1Z" fill="#95a1b8"/>
<path d="M604.1,444.7 L605.4,447.4 L603.0,452.4 L598.4,452.4 L596.9,447.5 L600.5,443.1Z" fill="#929eb5"/>
<path d="M461.5,527.5 L463.8,533.3 L458.0,541.8 L449.9,546.5 L449.8,538.5 L457.0,528.8Z" fill="#99a5bd"/>
<path d="M476.6,473.2 L477.2,483.6 L471.3,490.0 L462.7,493.1 L463.4,482.8 L467.6,477.8Z" fill="#929eb5"/>
<path d="M622.0,321.1 L623.5,328.5 L618.6,333.5 L612.5,334.1 L611.4,326.5 L615.9,319.4Z" fill="#95a1b8"/>
<path d="M619.4,341.5 L620.9,347.2 L619.1,351.6 L610.6,350.9 L609.9,345.5 L613.0,340.3Z" fill="#99a5bd"/>
<path d="M488.3,353.4 L493.5,358.3 L489.8,364.0 L484.0,363.9 L479.9,356.3 L482.4,351.6Z" fill="#97a3ba"/>
<path d="M462.6,459.7 L466.2,467.1 L461.2,472.4 L456.0,473.4 L451.7,468.4 L456.5,462.4Z" fill="#97a3ba"/>
<path d="M663.1,382.6 L667.3,387.3 L663.1,392.2 L657.3,393.2 L653.2,386.3 L655.4,380.3Z" fill="#99a5bd"/>
<path d="M532.6,331.0 L534.4,337.8 L529.8,342.8 L523.5,343.1 L521.3,337.1 L525.3,329.5Z" fill="#99a5bd"/>
<path d="M424.2,391.5 L422.7,397.8 L416.7,407.1 L410.9,411.2 L413.4,402.0 L419.3,392.8Z" fill="#95a1b8"/>
<path d="M565.6,479.1 L566.7,484.8 L560.4,491.9 L554.8,493.4 L554.3,487.4 L559.3,480.4Z" fill="#929eb5"/>
<path d="M536.9,450.7 L536.0,459.5 L533.4,464.4 L526.4,466.7 L527.6,459.4 L531.2,454.9Z" fill="#95a1b8"/>
<path d="M445.8,357.2 L443.9,365.3 L435.0,379.8 L430.5,381.6 L431.4,373.3 L439.4,363.0Z" fill="#929eb5"/>
<path d="M419.5,505.3 L420.2,509.5 L418.2,514.0 L413.8,514.6 L412.4,511.8 L414.6,507.4Z" fill="#97a3ba"/>
<path d="M535.6,468.4 L535.1,473.5 L532.7,476.8 L528.1,478.5 L527.0,473.9 L531.9,468.8Z" fill="#97a3ba"/>
<path d="M565.4,494.7 L569.6,501.7 L566.0,505.6 L559.4,507.6 L554.2,502.6 L559.5,493.8Z" fill="#929eb5"/>
<path d="M618.7,456.1 L620.8,460.8 L619.4,464.3 L614.0,465.4 L611.7,460.1 L614.9,455.7Z" fill="#95a1b8"/>
<path d="M386.6,425.8 L389.0,431.2 L379.2,445.6 L371.9,446.2 L369.8,439.8 L377.1,428.7Z" fill="#99a5bd"/>
<path d="M423.8,524.2 L424.2,529.7 L418.6,539.4 L413.4,542.7 L415.5,533.9 L418.1,528.8Z" fill="#929eb5"/>
<path d="M550.2,525.5 L550.3,529.4 L547.3,536.2 L540.9,537.2 L539.7,533.8 L543.3,526.8Z" fill="#97a3ba"/>
<path d="M565.5,467.4 L567.1,474.7 L563.6,478.7 L559.0,479.0 L554.2,472.0 L559.1,466.4Z" fill="#99a5bd"/>
<path d="M381.0,535.9 L384.4,542.9 L380.4,547.8 L373.0,548.6 L371.4,544.4 L376.2,538.0Z" fill="#929eb5"/>
<path d="M523.4,474.4 L524.6,481.4 L516.0,492.6 L510.3,494.1 L510.9,487.9 L516.6,478.4Z" fill="#929eb5"/>
<path d="M516.7,408.9 L517.8,415.6 L514.0,424.2 L504.8,428.5 L501.2,418.0 L510.1,408.0Z" fill="#929eb5"/>
<path d="M469.4,459.8 L469.9,468.2 L461.7,478.7 L458.0,478.6 L458.2,470.2 L464.8,461.5Z" fill="#929eb5"/>
<path d="M557.9,460.7 L556.4,471.0 L552.1,477.1 L542.4,481.6 L542.1,476.3 L550.8,464.6Z" fill="#97a3ba"/>
<path d="M525.5,385.9 L524.5,391.8 L516.2,405.0 L512.3,404.9 L512.9,397.7 L518.3,390.6Z" fill="#99a5bd"/>
<path d="M395.7,535.3 L398.6,542.5 L393.7,549.4 L387.1,551.6 L386.2,542.3 L389.2,538.1Z" fill="#99a5bd"/>
<path d="M643.0,308.2 L642.5,316.0 L638.5,325.1 L631.0,329.7 L630.5,321.0 L638.2,310.4Z" fill="#99a5bd"/>
<path d="M416.7,516.8 L418.3,520.2 L413.8,524.9 L409.8,525.2 L408.9,520.3 L411.2,517.1Z" fill="#929eb5"/>
<path d="M419.5,345.7 L422.2,349.4 L415.6,362.1 L407.1,366.3 L408.8,354.4 L413.4,346.8Z" fill="#95a1b8"/>
<path d="M612.9,367.5 L612.4,374.9 L607.8,384.1 L599.9,388.1 L599.3,378.5 L605.7,368.6Z" fill="#99a5bd"/>
<path d="M517.1,353.1 L520.0,359.9 L515.3,366.4 L507.2,369.6 L506.1,361.8 L511.4,352.0Z" fill="#97a3ba"/>
<path d="M509.2,307.4 L514.6,313.1 L508.1,322.8 L501.6,322.6 L499.5,315.4 L502.4,309.1Z" fill="#929eb5"/>
<path d="M629.9,305.8 L631.3,309.9 L625.0,322.0 L613.9,327.0 L614.2,318.5 L624.1,303.9Z" fill="#97a3ba"/>
<path d="M422.6,517.3 L422.4,524.6 L419.7,529.4 L411.3,531.6 L409.4,526.2 L416.1,516.1Z" fill="#97a3ba"/>
<path d="M625.5,440.7 L626.2,445.1 L622.7,449.6 L618.9,451.5 L618.9,445.9 L621.5,441.9Z" fill="#95a1b8"/>
<path d="M374.1,320.6 L376.1,326.1 L373.1,333.8 L365.4,332.7 L363.9,327.9 L368.5,318.9Z" fill="#99a5bd"/>
<path d="M518.6,508.7 L521.5,514.3 L516.4,519.9 L510.9,518.4 L507.3,511.5 L510.7,508.2Z" fill="#929eb5"/>
<path d="M656.3,488.3 L658.0,493.2 L652.2,500.2 L646.9,502.1 L648.1,495.3 L651.9,490.0Z" fill="#99a5bd"/>
<path d="M486.0,336.3 L486.7,344.4 L479.4,355.2 L473.4,355.4 L470.7,350.7 L478.4,339.0Z" fill="#97a3ba"/>
<path d="M522.5,409.7 L522.5,414.8 L513.9,429.1 L506.1,431.7 L505.1,424.3 L513.8,411.3Z" fill="#95a1b8"/>
<path d="M391.4,531.3 L387.9,542.6 L380.8,552.6 L375.1,554.5 L376.7,545.5 L381.2,538.1Z" fill="#929eb5"/>
<path d="M628.1,345.6 L626.4,355.1 L622.0,361.9 L612.5,364.4 L610.7,357.9 L617.7,349.3Z" fill="#99a5bd"/>
<path d="M577.5,484.1 L579.1,489.9 L571.6,499.7 L563.8,505.4 L560.0,498.1 L568.0,483.8Z" fill="#99a5bd"/>
<path d="M397.0,428.9 L399.3,437.7 L393.4,444.3 L386.7,444.9 L386.7,436.3 L391.9,429.7Z" fill="#99a5bd"/>
<path d="M442.2,400.2 L443.6,402.9 L437.1,411.5 L434.1,412.2 L432.9,406.6 L436.7,401.9Z" fill="#99a5bd"/>
<path d="M457.1,392.6 L457.2,403.7 L448.7,415.6 L442.7,418.5 L440.8,412.4 L449.2,400.0Z" fill="#99a5bd"/>
<path d="M563.5,346.2 L564.7,353.9 L560.7,360.6 L553.5,361.0 L550.6,354.5 L553.8,345.1Z" fill="#929eb5"/>
<path d="M388.0,355.2 L386.9,363.3 L381.1,371.0 L375.9,372.7 L374.8,364.7 L378.3,358.3Z" fill="#97a3ba"/>
<path d="M598.6,319.6 L599.8,322.9 L597.1,327.6 L593.9,327.6 L592.7,323.9 L595.5,320.1Z" fill="#95a1b8"/>
<path d="M512.8,363.6 L515.6,371.1 L510.5,378.6 L500.6,383.5 L500.2,373.9 L505.3,364.0Z" fill="#929eb5"/>
<path d="M401.6,433.3 L401.4,440.3 L393.7,451.9 L386.1,456.9 L385.7,449.5 L395.8,435.3Z" fill="#97a3ba"/>
<path d="M646.3,504.4 L651.4,508.6 L644.3,518.6 L637.2,520.7 L632.8,515.3 L639.1,503.4Z" fill="#99a5bd"/>
<path d="M640.3,531.8 L641.7,534.7 L635.6,544.1 L631.0,545.5 L628.8,541.2 L636.1,530.4Z" fill="#97a3ba"/>
<path d="M633.8,539.8 L637.9,545.6 L632.4,550.8 L627.6,550.6 L622.3,545.3 L627.3,539.0Z" fill="#99a5bd"/>
<path d="M591.9,416.4 L592.9,421.1 L587.4,430.6 L580.7,434.5 L580.8,428.1 L585.2,420.9Z" fill="#97a3ba"/>
<path d="M452.8,419.2 L456.6,424.7 L446.1,440.5 L439.2,440.8 L438.1,430.2 L444.7,420.5Z" fill="#97a3ba"/>
<path d="M378.0,512.7 L378.3,518.6 L373.5,524.9 L368.8,527.8 L368.6,523.6 L373.0,515.7Z" fill="#95a1b8"/>
<path d="M553.2,370.3 L557.9,378.6 L551.4,387.2 L541.6,389.9 L540.1,381.0 L546.9,369.0Z" fill="#929eb5"/>
<path d="M593.1,415.5 L595.2,419.5 L590.5,425.2 L585.7,425.7 L585.0,420.0 L588.6,415.4Z" fill="#97a3ba"/>
<path d="M579.2,344.2 L581.7,351.6 L573.8,364.2 L564.0,365.0 L562.1,359.0 L571.9,344.8Z" fill="#97a3ba"/>
<path d="M487.6,414.8 L487.1,420.2 L484.4,425.2 L478.4,427.2 L477.6,422.9 L483.4,414.6Z" fill="#99a5bd"/>
<path d="M529.8,503.7 L527.3,509.7 L521.4,521.1 L513.8,526.8 L514.6,520.4 L522.9,507.1Z" fill="#929eb5"/>
<path d="M559.6,309.9 L562.6,316.2 L554.9,326.4 L545.0,328.4 L545.1,320.6 L551.0,309.3Z" fill="#95a1b8"/>
<path d="M613.7,466.9 L615.2,471.0 L613.2,475.5 L607.9,474.8 L606.7,472.2 L608.9,466.6Z" fill="#95a1b8"/>
<path d="M388.3,450.9 L387.9,459.7 L380.8,468.7 L373.7,474.6 L373.8,467.0 L381.1,457.0Z" fill="#97a3ba"/>
<path d="M624.9,444.6 L628.0,449.7 L623.8,454.0 L620.3,453.0 L617.6,449.3 L620.0,445.0Z" fill="#97a3ba"/>
<path d="M448.7,376.2 L446.9,386.2 L442.2,392.1 L432.3,396.1 L432.4,388.5 L440.9,379.0Z" fill="#97a3ba"/>
<path d="M393.4,537.3 L394.2,542.5 L385.5,556.3 L376.7,561.1 L379.2,550.8 L386.1,540.3Z" fill="#929eb5"/>
<path d="M518.0,463.2 L517.9,473.0 L510.8,483.2 L507.7,482.4 L505.6,474.5 L511.0,468.3Z" fill="#99a5bd"/>
<path d="M527.7,507.8 L530.0,511.3 L525.8,515.5 L521.6,516.1 L520.8,513.2 L525.5,506.4Z" fill="#99a5bd"/>
<path d="M662.9,424.3 L662.6,429.4 L653.8,443.5 L646.0,448.7 L647.3,442.5 L657.4,426.8Z" fill="#99a5bd"/>
<path d="M504.0,361.9 L507.7,367.7 L503.0,373.5 L496.5,373.9 L493.8,369.3 L499.3,363.2Z" fill="#929eb5"/>
<path d="M375.6,484.0 L380.1,491.2 L377.1,494.8 L370.2,494.3 L366.1,487.3 L370.0,482.2Z" fill="#97a3ba"/>
<path d="M416.7,399.0 L417.4,410.4 L412.8,419.2 L404.4,422.0 L400.3,414.3 L407.8,401.2Z" fill="#99a5bd"/>
<path d="M548.8,495.5 L549.1,501.0 L543.8,510.4 L538.5,509.6 L536.4,506.6 L542.5,497.3Z" fill="#95a1b8"/>
</g>
<circle cx="462.3" cy="479.4" r="1.8" fill="#a6bad6" opacity="0.7"/>
<circle cx="391.3" cy="507.4" r="0.8" fill="#a6bad6" opacity="0.7"/>
<circle cx="475.8" cy="418.0" r="1.6" fill="#a6bad6" opacity="0.7"/>
<circle cx="443.3" cy="491.6" r="0.8" fill="#a6bad6" opacity="0.7"/>
<circle cx="490.1" cy="347.4" r="1.5" fill="#a6bad6" opacity="0.7"/>
<circle cx="598.1" cy="358.3" r="0.9" fill="#a6bad6" opacity="0.7"/>
<circle cx="534.9" cy="495.4" r="1.6" fill="#a6bad6" opacity="0.7"/>
<circle cx="495.4" cy="379.1" r="1.7" fill="#a6bad6" opacity="0.7"/>
<circle cx="483.3" cy="394.7" r="1.7" fill="#a6bad6" opacity="0.7"/>
<circle cx="517.8" cy="500.6" r="1.1" fill="#a6bad6" opacity="0.7"/>
<circle cx="401.2" cy="367.9" r="1.4" fill="#a6bad6" opacity="0.7"/>
<circle cx="554.1" cy="504.8" r="1.1" fill="#a6bad6" opacity="0.7"/>
<circle cx="642.8" cy="427.6" r="1.3" fill="#a6bad6" opacity="0.7"/>
<circle cx="646.2" cy="529.3" r="0.9" fill="#a6bad6" opacity="0.7"/>
<circle cx="380.7" cy="480.6" r="1.5" fill="#a6bad6" opacity="0.7"/>
<circle cx="647.5" cy="424.5" r="1.4" fill="#a6bad6" opacity="0.7"/>
<circle cx="486.3" cy="382.3" r="0.8" fill="#a6bad6" opacity="0.7"/>
<circle cx="555.8" cy="458.3" r="1.0" fill="#a6bad6" opacity="0.7"/>
<circle cx="408.8" cy="383.3" r="1.0" fill="#a6bad6" opacity="0.7"/>
<circle cx="579.9" cy="501.3" r="1.3" fill="#a6bad6" opacity="0.7"/>
<circle cx="623.7" cy="336.3" r="1.8" fill="#a6bad6" opacity="0.7"/>
<circle cx="411.0" cy="440.1" r="1.7" fill="#a6bad6" opacity="0.7"/>
<circle cx="513.4" cy="394.0" r="1.6" fill="#a6bad6" opacity="0.7"/>
<circle cx="564.6" cy="414.4" r="1.5" fill="#a6bad6" opacity="0.7"/>
<circle cx="636.8" cy="320.6" r="1.3" fill="#a6bad6" opacity="0.7"/>
<circle cx="511.6" cy="395.4" r="2.0" fill="#a6bad6" opacity="0.7"/>
<circle cx="554.1" cy="385.9" r="1.8" fill="#a6bad6" opacity="0.7"/>
<circle cx="418.0" cy="363.8" r="1.8" fill="#a6bad6" opacity="0.7"/>
<circle cx="539.4" cy="489.4" r="1.5" fill="#a6bad6" opacity="0.7"/>
<circle cx="617.4" cy="478.7" r="1.3" fill="#a6bad6" opacity="0.7"/>
</g>
<line x1="621.6" y1="369.2" x2="564.8" y2="455.8" stroke="#fff" stroke-width="3" stroke-dasharray="8.5 4.5"/>
<line x1="624.2" y1="401.5" x2="567.3" y2="488.1" stroke="#fff" stroke-width="3" stroke-dasharray="8.5 4.5"/>
<line x1="626.8" y1="433.3" x2="569.9" y2="520.4" stroke="#fff" stroke-width="3" stroke-dasharray="8.5 4.5"/>
<path d="M423.6,419.6 L430.5,405.4 L453,405.4" fill="none" stroke="#fff" stroke-width="2.4"/>
<circle cx="423.6" cy="419.6" r="3.6" fill="#fff"/>
<path d="M418.9,464.3 L425.4,449.3 L448.6,449.3" fill="none" stroke="#fff" stroke-width="2.4"/>
<circle cx="418.9" cy="464.3" r="3.6" fill="#fff"/>
<g clip-path="url(#clipd)">
<rect x="696" y="317" width="272" height="230" fill="#8e9aaf"/>
<path d="M872,346 L897,332 L884,350Z" fill="#a2b0ca" opacity="0.8"/>
<path d="M858,372 L868,360 L864,376Z" fill="#9aa8c2" opacity="0.7"/>
<path d="M822.0 405.3L824.0 400.2l-0.3 0.5m0.3 -0.5L825.8 393.8L831.0 385.4M961.1 417.6L964.3 412.7L968.8 402.2L971.2 395.6l-1.7 0.7m1.7 -0.7M896.8 417.4L899.8 407.7l-1.3 -0.9m1.3 0.9L905.3 399.8M945.3 523.5L947.2 519.7L949.1 515.2l0.6 1.2m-0.6 -1.2L952.3 510.6l0.3 -1.0m-0.3 1.0M714.2 436.2L717.5 429.6L719.4 425.3l0.9 1.4m-0.9 -1.4L721.2 421.2M732.6 379.1L734.3 374.4L736.6 369.0l-1.1 0.7m1.1 -0.7M858.2 505.7L864.1 496.5L867.7 490.5l3.6 0.9m-3.6 -0.9M798.0 463.9L801.8 457.5L805.4 452.0M719.4 508.0L722.2 501.6L724.5 495.2M708.9 474.0L714.2 463.5l2.9 -0.1m-2.9 0.1L719.1 455.6M763.8 324.6L767.0 319.4l-2.8 -0.9m2.8 0.9L769.5 312.3l-3.9 1.0m3.9 -1.0L772.2 306.6l3.7 0.9m-3.7 -0.9M774.4 341.5L777.1 334.4L779.2 327.6l1.7 0.9m-1.7 -0.9L783.9 317.6l-3.6 0.3m3.6 -0.3L785.9 312.6l2.2 -0.4m-2.2 0.4L788.1 309.1M849.4 409.1L852.7 401.4l-3.5 0.6m3.5 -0.6L856.1 393.4L858.8 387.5M916.9 531.4L919.2 527.5l-3.2 0.2m3.2 -0.2L920.5 523.2L925.8 515.4l-0.3 -0.1m0.3 0.1L930.5 504.7M759.3 467.6L762.5 459.3L764.9 455.4M741.7 328.2L745.3 320.0L750.7 312.0l-1.4 0.2m1.4 -0.2L754.7 305.5l-0.2 -0.7m0.2 0.7L758.8 295.2M726.9 554.2L729.5 550.1L735.0 539.6M823.2 442.5L829.3 433.3l2.1 0.7m-2.1 -0.7L831.3 429.7L836.2 419.1L841.0 409.0l3.0 0.6m-3.0 -0.6M884.1 345.1L886.9 335.0L890.1 324.3M952.2 553.9L954.1 550.1L956.7 544.1M944.4 419.5L947.1 413.9L950.8 406.3l-0.8 -0.2m0.8 0.2M738.6 448.0L741.3 442.9L747.6 433.3L752.2 422.5M881.0 408.2L882.7 403.9L884.7 398.5L889.1 389.1L890.3 385.2l-2.2 1.5m2.2 -1.5M779.7 334.9L782.6 330.4L787.1 319.3l3.1 0.3m-3.1 -0.3L788.9 314.6l-1.8 -0.2m1.8 0.2L792.6 308.6M937.5 454.7L939.4 448.5l0.2 0.9m-0.2 -0.9L941.4 441.4l-1.7 0.3m1.7 -0.3M826.5 560.5L828.7 554.3l0.8 0.4m-0.8 -0.4L835.2 544.8l2.2 0.7m-2.2 -0.7L837.8 540.8l0.3 1.3m-0.3 -1.3M751.7 362.7L753.4 359.0l2.2 -0.1m-2.2 0.1L756.6 352.8L761.5 342.8L764.5 338.2l0.7 1.2m-0.7 -1.2L767.6 332.9M839.8 502.2L844.5 491.8L850.6 481.7l2.8 0.5m-2.8 -0.5M747.1 520.1L751.7 511.6l-3.4 1.1m3.4 -1.1L754.3 506.2L756.3 500.0L760.0 491.1M953.5 407.4L959.5 398.6L961.8 394.0L965.7 384.1M836.0 436.6L838.4 431.0L842.2 425.5l-3.5 0.3m3.5 -0.3L844.2 419.3l-3.9 0.2m3.9 -0.2L846.6 414.9l-2.6 0.6m2.6 -0.6M956.8 404.5L958.7 398.2L960.2 394.2l-3.6 -1.0m3.6 1.0L964.0 384.2l0.5 0.8m-0.5 -0.8L965.6 379.9M958.6 326.8L961.1 319.1l1.3 1.2m-1.3 -1.2L963.9 312.9L965.1 308.8l-0.3 -0.3m0.3 0.3M917.3 445.2L919.4 441.2L923.6 432.9l-1.0 1.5m1.0 -1.5M919.9 439.1L922.4 435.3L925.1 429.4l-3.4 -0.4m3.4 0.4L927.3 424.2M824.2 464.0L827.8 458.8l0.6 -0.5m-0.6 0.5L831.9 450.9l3.8 -0.5m-3.8 0.5L836.5 440.8M731.0 498.2L733.5 493.2L736.1 485.9L738.5 479.8M822.1 459.6L827.9 450.8L833.0 441.3L834.4 436.2L839.5 425.4L843.8 418.7M890.5 421.5L894.8 411.5l0.5 -0.3m-0.5 0.3L899.9 402.1M941.9 550.3L945.4 544.6L947.7 538.5l-3.3 1.0m3.3 -1.0L953.3 528.6l0.5 -0.2m-0.5 0.2L955.4 524.6M777.1 370.2L781.7 360.7l-2.3 1.1m2.3 -1.1L786.1 350.6l2.2 1.2m-2.2 -1.2L788.8 344.9l-3.6 0.8m3.6 -0.8L791.7 340.5M717.5 501.9L720.2 496.6l1.7 1.4m-1.7 -1.4L724.5 487.6L727.0 480.8l-2.0 0.7m2.0 -0.7M762.7 559.1L766.5 549.9l-0.4 -0.7m0.4 0.7L768.4 545.4l3.2 -0.2m-3.2 0.2L770.3 539.9l0.4 0.6m-0.4 -0.6M720.7 312.1L725.1 301.4L728.2 293.7l-0.4 0.7m0.4 -0.7L731.3 287.7l-2.3 0.5m2.3 -0.5L733.6 280.8l0.5 1.0m-0.5 -1.0L735.1 277.0M868.7 412.6L872.2 403.6L875.7 396.6l1.2 -0.6m-1.2 0.6L879.6 389.8l3.1 0.4m-3.1 -0.4L883.0 381.3l2.3 1.2m-2.3 -1.2L887.2 372.2M959.1 381.2L962.6 372.5L968.1 363.2L971.5 354.2l2.9 0.7m-2.9 -0.7M901.7 521.7L905.7 512.1L907.7 504.9l3.2 -0.5m-3.2 0.5L910.1 500.8l2.6 -0.5m-2.6 0.5L914.3 493.3l2.3 0.4m-2.3 -0.4M766.1 498.3L768.2 494.3l-2.8 -0.2m2.8 0.2L770.3 490.7L773.6 485.8l-4.0 0.6m4.0 -0.6M889.7 344.8L893.4 336.3L895.4 328.9L899.8 321.4M767.4 327.4L770.1 323.0l-1.0 -0.5m1.0 0.5L774.3 316.5l-3.5 -0.1m3.5 0.1L779.2 305.9l0.0 0.1m-0.0 -0.1M750.7 508.3L752.9 503.0L756.8 495.9l-3.4 -0.9m3.4 0.9L758.3 491.8L759.6 487.4L763.0 481.0M879.6 498.3L882.4 488.6l3.7 0.9m-3.7 -0.9L886.8 482.3L893.2 472.8M782.5 475.1L786.5 468.9L790.4 463.4M734.9 357.1L738.4 350.5L742.1 341.4L746.7 332.8L748.9 329.3l-0.9 -0.1m0.9 0.1M800.9 470.2L803.6 463.4L805.3 458.0L807.7 452.6l3.2 1.4m-3.2 -1.4L809.5 448.4l0.6 -0.5m-0.6 0.5M748.6 482.0L752.1 474.0l-3.5 0.9m3.5 -0.9L757.2 464.6l-3.2 0.6m3.2 -0.6L759.6 456.4L763.0 448.5L768.9 438.8l-3.0 -1.0m3.0 1.0M932.7 552.8L936.4 543.4L938.3 536.5l-3.2 -0.9m3.2 0.9L941.8 526.8M917.8 368.6L920.2 362.0l-1.4 -0.8m1.4 0.8L924.5 351.9L926.8 347.7L930.1 338.4M901.9 472.4L907.7 463.4L910.2 457.9L914.1 449.4L915.9 445.4L920.7 437.8M713.3 323.6L717.6 313.0L721.4 305.5M857.3 378.3L860.3 373.3l-3.3 0.4m3.3 -0.4L863.7 362.5M814.3 318.1L816.7 314.6L819.0 308.5l1.9 1.2m-1.9 -1.2M695.0 462.7L700.5 454.1L705.8 445.6L710.4 437.9L716.4 428.8L721.4 421.7M957.3 395.2L959.8 388.3l1.5 -0.1m-1.5 0.1L961.6 383.7L963.9 377.8l-2.8 0.1m2.8 -0.1L967.4 372.0L969.3 367.8l0.3 1.1m-0.3 -1.1M797.0 319.5L801.5 311.8l3.1 0.9m-3.1 -0.9L805.9 302.7l2.2 1.4m-2.2 -1.4M780.5 468.4L781.8 463.8l-0.0 0.6m0.0 -0.6L785.1 456.6l3.3 0.8m-3.3 -0.8L788.9 449.3l1.8 0.8m-1.8 -0.8M727.8 443.8L733.7 434.4L740.2 424.8L746.1 415.3L747.4 411.3L750.4 406.4M841.0 440.1L843.8 435.5L846.2 430.1L849.3 425.5L852.9 415.1l-1.3 0.1m1.3 -0.1L854.1 411.0M966.2 540.8L968.6 534.9L970.8 531.5M716.0 539.0L717.6 533.8l-1.4 1.0m1.4 -1.0L721.1 526.6L723.7 520.4L727.8 509.4L731.5 499.9l3.7 -0.2m-3.7 0.2M731.5 532.0L737.1 522.1l0.6 0.4m-0.6 -0.4L740.2 516.2l-3.3 0.1m3.3 -0.1L743.9 508.8M814.3 500.4L818.2 493.8L821.1 483.2L825.8 472.4L830.1 461.4l2.8 0.5m-2.8 -0.5L835.0 451.7M860.1 465.6L862.7 458.9L864.2 454.5L868.4 448.2L871.2 443.7L873.7 435.0M908.8 448.5L914.8 438.5l-2.1 0.9m2.1 -0.9L916.2 433.9M932.5 337.9L935.7 331.4L941.6 321.6L945.1 313.1L946.7 308.5l-2.0 -0.4m2.0 0.4L948.0 303.8M836.3 361.0L840.5 350.2L842.8 341.6L845.3 335.4l-0.6 1.4m0.6 -1.4L847.6 330.8l0.9 1.1m-0.9 -1.1M781.5 454.2L784.0 449.2L786.0 445.2M801.1 445.9L804.7 435.8L808.8 427.7M794.8 488.1L797.2 481.1L799.9 472.1L803.6 464.9L805.4 460.0l-0.9 0.8m0.9 -0.8M824.5 458.4L828.2 452.4L832.7 445.6M953.5 430.2L956.5 420.1L962.4 410.0M727.1 448.1L729.5 439.4l-0.6 1.3m0.6 -1.3L734.9 430.5l2.2 -0.9m-2.2 0.9M922.5 535.7L927.2 525.1L929.1 519.0M769.8 543.5L772.4 533.8L775.1 526.4L777.5 522.7M791.0 492.8L796.0 485.1L798.5 478.8l-3.2 0.0m3.2 -0.0L802.0 469.0l-2.0 0.4m2.0 -0.4L805.8 462.5l-3.6 -0.8m3.6 0.8M911.5 550.8L915.4 539.7L919.6 532.8L922.0 527.3L923.5 522.1L925.6 516.5l-3.9 -0.8m3.9 0.8M796.5 473.1L799.6 465.1L801.0 459.8L806.8 450.5L809.9 440.3l3.9 0.1m-3.9 -0.1M796.9 398.7L800.6 389.2l2.1 0.1m-2.1 -0.1L804.7 380.6l0.4 0.8m-0.4 -0.8L806.8 375.7l-3.9 -0.9m3.9 0.9M801.2 373.9L803.9 369.0l2.0 -0.7m-2.0 0.7L809.2 360.7l2.3 -0.8m-2.3 0.8L811.1 354.4M740.1 337.5L743.0 332.4L748.0 323.3l-0.0 0.4m0.0 -0.4L752.3 313.4M912.5 477.8L914.0 474.0L917.4 466.3L919.0 461.3l2.6 1.1m-2.6 -1.1L920.8 457.4L924.2 451.8M752.9 560.5L758.5 551.9l1.2 -0.5m-1.2 0.5L760.9 547.7l-3.1 1.5m3.1 -1.5L764.6 542.4L769.6 534.8M779.5 500.5L784.6 490.8l-3.3 0.7m3.3 -0.7L789.5 483.2L795.8 474.0L799.3 464.4l-1.0 -0.8m1.0 0.8M752.9 456.9L756.9 447.8L759.0 443.2l-1.5 1.1m1.5 -1.1L762.3 435.6l1.5 1.0m-1.5 -1.0L764.4 431.6M787.7 521.7L791.3 512.6l-3.2 -0.5m3.2 0.5L793.5 507.2l3.6 0.8m-3.6 -0.8L796.4 497.7l1.2 0.4m-1.2 -0.4L799.6 487.9l0.5 1.4m-0.5 -1.4L803.5 481.5M822.7 504.6L825.3 499.1L827.8 489.8L833.9 479.9M799.5 517.3L804.2 509.0L807.2 499.2L812.2 490.7l-3.2 0.6m3.2 -0.6M947.9 403.1L950.5 398.7L953.0 390.7L956.3 384.9l-2.0 0.3m2.0 -0.3L958.3 381.1l2.8 -0.1m-2.8 0.1M792.1 558.9L795.4 553.4L797.9 546.2l2.0 0.4m-2.0 -0.4L803.0 535.9l-3.4 1.0m3.4 -1.0M910.2 316.2L914.7 307.8l-1.0 0.5m1.0 -0.5L917.7 300.5l-0.3 -0.0m0.3 0.0L921.3 289.9M819.6 495.1L824.7 485.2L828.3 478.2l-3.3 -0.2m3.3 0.2L830.6 470.0l3.1 1.0m-3.1 -1.0L834.9 461.0L837.8 452.8M693.0 534.6L695.0 529.2l2.4 1.0m-2.4 -1.0L698.0 522.1l0.4 -0.7m-0.4 0.7L702.3 515.9l3.2 0.5m-3.2 -0.5L704.6 508.3M839.7 524.0L842.2 519.9l-2.3 1.3m2.3 -1.3L846.6 513.5l1.3 1.3m-1.3 -1.3L848.5 507.1l-2.0 0.8m2.0 -0.8L852.5 499.3l0.2 -0.4m-0.2 0.4L855.5 488.5M866.3 338.4L870.2 330.8l-1.7 0.9m1.7 -0.9L873.5 322.0M926.7 391.5L929.7 383.6L931.6 379.0L934.9 372.0M911.6 440.7L913.6 434.2L917.6 425.6L920.4 418.4L922.1 414.8l-3.4 -0.9m3.4 0.9M901.0 321.0L905.4 310.5L911.8 300.8l0.3 0.3m-0.3 -0.3M854.4 500.0L858.2 490.1l0.1 0.7m-0.1 -0.7L861.9 480.3M912.9 482.3L916.1 470.7l1.0 0.2m-1.0 -0.2L920.7 461.6L921.9 457.3l-0.2 1.0m0.2 -1.0L924.7 452.3L926.7 448.1M766.8 493.8L769.8 488.9L772.1 482.6l-2.6 -0.1m2.6 0.1L773.6 478.5L775.3 474.5L777.3 470.0M891.1 539.6L893.4 535.9L896.0 527.8L898.9 522.0L902.8 515.2l-2.0 -0.1m2.0 0.1L906.8 506.9l0.8 1.3m-0.8 -1.3M959.6 512.8L963.3 506.4L965.8 498.3L968.3 489.1M907.5 444.5L910.2 434.4L914.0 426.9l1.0 0.5m-1.0 -0.5L916.1 423.0l3.2 1.0m-3.2 -1.0L919.1 417.5l-3.0 -0.4m3.0 0.4L922.3 412.2M706.5 509.6L710.4 499.4l0.2 0.9m-0.2 -0.9L713.9 490.2l1.9 1.2m-1.9 -1.2L717.8 481.6l2.7 0.3m-2.7 -0.3M886.5 329.2L892.5 320.0l1.9 0.8m-1.9 -0.8L897.2 310.2L902.4 300.8l-3.6 0.3m3.6 -0.3M870.7 451.8L874.1 440.9l-3.7 -0.7m3.7 0.7L879.9 430.9L885.1 423.4L887.7 418.5l-2.4 -1.0m2.4 1.0L888.9 414.3l0.1 -0.7m-0.1 0.7M827.2 506.5L828.8 500.7L832.3 495.3l-2.3 -0.7m2.3 0.7L834.9 486.8M909.9 530.6L913.2 522.2L916.4 513.6L919.7 503.7l3.4 -0.0m-3.4 0.0L922.7 495.0l1.0 0.7m-1.0 -0.7L926.2 487.3M813.9 443.3L818.2 432.5L821.7 424.4L826.2 414.6l-0.8 -0.2m0.8 0.2L829.9 404.5L834.3 395.0M699.9 414.6L704.4 404.5l3.3 0.5m-3.3 -0.5L707.2 397.5L708.4 392.9M903.2 388.8L904.5 384.8L907.4 380.6M947.2 386.6L948.4 382.7l3.8 -0.5m-3.8 0.5L951.8 375.6l-1.6 0.5m1.6 -0.5L954.4 369.4M823.5 383.6L827.1 377.9l-1.3 -0.8m1.3 0.8L833.0 369.2M835.6 524.4L839.4 518.0L841.9 513.7L844.9 503.3L849.6 496.3L855.6 487.1M926.9 369.4L929.1 365.4l-3.6 0.2m3.6 -0.2L933.2 355.0L936.2 349.8L940.2 338.5l-0.0 0.7m0.0 -0.7M863.0 531.2L865.8 521.5l0.6 1.4m-0.6 -1.4L869.7 512.2L873.1 501.7l2.7 -0.2m-2.7 0.2L878.3 492.6L884.5 482.6M738.3 334.0L742.4 324.4L747.3 314.5M957.0 443.8L958.8 440.2l1.9 0.7m-1.9 -0.7L962.2 433.7l-0.3 -0.9m0.3 0.9L968.5 424.3L971.9 416.3l-0.5 -0.0m0.5 0.0M780.6 485.9L785.2 475.2l2.1 -0.5m-2.1 0.5L790.4 467.1L794.7 456.1M759.1 540.6L764.0 530.3l2.2 0.0m-2.2 -0.0L768.1 523.7L772.4 513.9L776.7 504.9M786.0 441.1L788.7 433.0l3.0 0.7m-3.0 -0.7L793.2 424.1l2.0 -0.6m-2.0 0.6L796.0 418.4L798.3 414.5l2.6 1.0m-2.6 -1.0L801.6 404.2M950.8 429.0L953.4 422.1L957.8 415.2l-1.6 -0.1m1.6 0.1L959.6 409.1l3.2 -0.2m-3.2 0.2M944.7 421.8L949.3 412.5l3.7 -0.8m-3.7 0.8L952.9 406.7L957.0 398.6l2.4 -0.5m-2.4 0.5M775.6 483.2L777.7 477.0L779.5 470.3l-3.3 -0.6m3.3 0.6M953.0 544.0L955.0 540.2L957.0 533.7L961.2 526.2l3.0 0.9m-3.0 -0.9L965.0 519.1L968.9 513.4l3.7 1.2m-3.7 -1.2M817.4 486.7L819.7 479.6L823.7 468.6l0.8 -0.3m-0.8 0.3L826.0 461.9M927.5 457.2L931.0 449.7L932.6 445.0L935.4 438.9l-0.1 -0.6m0.1 0.6L937.9 434.1M891.3 356.0L894.7 348.3l-3.0 0.3m3.0 -0.3L897.4 341.1l-2.8 0.7m2.8 -0.7L899.3 336.9L902.4 331.8l2.8 0.4m-2.8 -0.4M694.9 547.1L697.2 540.4l-2.1 -0.4m2.1 0.4L699.1 535.4L704.0 524.8L707.0 519.3L708.1 515.5l-2.0 0.4m2.0 -0.4M916.5 349.1L920.2 342.4l-2.1 0.7m2.1 -0.7L922.7 338.2l1.9 -0.8m-1.9 0.8L927.0 328.1L930.6 320.4M925.2 355.7L930.7 345.3l3.0 -0.2m-3.0 0.2L933.9 340.0l-3.5 -0.9m3.5 0.9M938.3 466.4L942.4 460.3L945.4 452.4l-0.9 0.1m0.9 -0.1L950.5 444.7M844.6 388.4L848.3 379.4l2.8 -0.4m-2.8 0.4L852.5 368.4l-3.9 1.0m3.9 -1.0L854.5 363.5l3.5 1.3m-3.5 -1.3L857.6 357.0M816.9 448.8L822.4 439.7L825.7 428.7l-1.6 -0.1m1.6 0.1L830.0 422.4M729.2 531.8L731.7 525.8l3.2 0.2m-3.2 -0.2L734.8 519.0l-1.9 1.4m1.9 -1.4L739.0 509.4l0.9 1.2m-0.9 -1.2L741.0 505.7L746.6 495.7l-1.6 -0.2m1.6 0.2M739.5 442.2L743.0 432.6L745.3 428.3L750.6 420.7M865.3 460.8L871.1 452.4L874.1 447.1L879.5 437.3l-1.6 -1.0m1.6 1.0M778.9 395.5L784.6 386.8L790.4 378.2l0.7 -0.1m-0.7 0.1L795.0 368.3L798.0 360.7l0.6 -0.1m-0.6 0.1L801.5 354.3M783.3 417.0L786.1 410.7l0.6 -1.0m-0.6 1.0L791.0 402.4l0.4 0.6m-0.4 -0.6L794.5 392.1l-2.1 0.3m2.1 -0.3L799.6 382.0M786.9 491.4L789.4 487.0L791.5 483.5l0.2 -0.7m-0.2 0.7" stroke="#76829a" stroke-width="2.3" opacity="0.5" fill="none" stroke-linejoin="round" filter="url(#soft)"/>
<path d="M765.7 376.1l3.1 -4.6M762.7 358.0l2.6 -6.0M803.3 378.0l2.7 -4.5M930.4 419.4l1.6 -2.9M729.2 418.0l2.2 -3.5M792.7 358.4l2.8 -4.2M731.8 442.0l3.2 -6.0M946.7 506.7l3.3 -5.5M716.3 329.6l1.7 -3.8M781.0 350.3l1.7 -4.5M700.3 365.2l2.9 -4.6M705.1 505.6l1.9 -6.4M836.0 442.3l3.9 -6.7M969.7 317.3l3.2 -6.9M884.6 484.9l1.0 -3.1M713.1 411.7l2.8 -4.9M883.0 338.3l2.1 -3.3M967.0 551.8l3.6 -6.3M948.1 393.8l1.8 -2.8M761.8 516.7l1.7 -6.1M942.5 463.9l2.0 -4.9M937.5 397.2l2.7 -5.5M744.2 421.4l3.2 -6.7M840.6 419.1l1.5 -4.9M815.8 409.5l2.0 -3.4M758.7 484.2l1.7 -3.2M786.5 393.3l4.0 -6.4M850.6 429.9l2.3 -6.4M832.2 469.4l1.6 -3.2M818.8 452.3l2.7 -6.7M725.7 372.7l3.6 -6.7M953.5 544.2l1.4 -3.1M794.2 539.6l3.7 -6.4M741.3 408.4l3.4 -6.2M843.8 487.1l2.0 -4.8M904.8 525.9l3.2 -4.9M794.1 493.4l3.5 -6.7M872.0 493.4l2.9 -4.9M834.3 549.2l3.4 -6.7M807.0 473.8l2.0 -4.4M956.1 459.9l2.5 -4.9M841.1 455.6l2.7 -6.4M930.7 392.4l3.5 -7.2M917.0 454.9l1.2 -4.4M817.6 480.2l2.7 -4.3M834.7 541.0l3.9 -6.4M707.7 501.4l2.3 -6.9M888.1 367.9l1.5 -4.0M730.8 484.9l3.1 -5.1M907.0 480.1l1.2 -4.3M706.4 402.1l2.0 -2.9M945.0 529.6l2.7 -4.0M882.4 392.9l2.2 -7.4M732.5 520.3l2.8 -6.5M969.9 518.3l1.2 -3.1M700.3 462.1l2.3 -3.9M825.7 329.3l3.1 -5.5M911.5 314.0l2.1 -3.2M846.8 330.5l1.5 -4.1M928.0 440.7l2.3 -4.5M937.4 483.6l1.7 -3.6M930.5 388.0l2.4 -4.4M770.9 388.8l4.2 -6.2M933.1 363.3l2.9 -4.3M700.9 363.0l1.4 -4.3M754.6 462.4l1.6 -3.2M836.4 512.7l3.1 -6.3M928.9 396.9l2.3 -3.7M874.0 404.9l1.4 -3.1M927.9 482.6l1.7 -3.4M843.2 463.9l3.0 -6.3M826.9 344.9l4.3 -6.3M854.6 497.2l3.9 -5.7M962.1 545.4l3.0 -7.2M721.8 503.7l1.4 -3.1M762.3 539.9l1.6 -3.9M851.2 403.1l0.8 -3.0M717.8 396.6l1.7 -5.5M697.1 351.2l2.0 -3.8M818.5 438.0l2.8 -5.8M745.1 430.7l2.1 -5.0M920.2 546.4l2.8 -7.0M944.5 512.3l1.7 -3.6M872.0 513.6l1.4 -4.6M767.4 348.2l1.5 -3.6M766.3 458.8l2.8 -4.4M716.4 461.9l1.2 -3.3M746.8 322.7l2.4 -5.3M864.5 329.5l1.7 -4.3M707.2 550.2l2.0 -4.3M965.3 468.3l2.9 -4.7M825.1 346.0l3.7 -6.1M807.7 390.1l3.1 -7.3M973.6 462.4l1.9 -3.7M938.8 343.5l3.4 -6.9M927.4 355.9l3.6 -6.8M972.1 425.8l4.4 -6.5M810.3 396.5l4.1 -6.8M785.1 381.5l2.3 -7.3M961.4 448.6l2.8 -4.2M875.3 377.3l1.4 -4.4M833.3 325.8l1.8 -4.9M705.0 449.3l2.8 -7.3M901.6 429.8l1.0 -3.6M768.9 388.7l2.6 -5.6M885.4 377.2l1.4 -4.1M777.5 450.0l2.6 -5.3M881.2 479.4l2.8 -5.6M894.3 468.5l1.4 -4.1M952.6 401.5l3.4 -5.8M841.3 549.1l2.4 -6.3M874.9 461.1l2.5 -4.2M823.5 519.3l3.4 -5.2M814.9 353.8l2.1 -7.6M826.4 519.8l3.1 -5.7M888.0 536.3l1.4 -4.7M935.0 465.5l3.2 -5.7M701.6 428.2l2.0 -3.7M694.1 514.8l1.8 -6.4M775.9 393.3l3.4 -6.9" stroke="#76829a" stroke-width="2.6" opacity="0.35" fill="none" filter="url(#soft)"/>
<circle cx="823.6" cy="521.9" r="1.0" fill="#a8b8d8" opacity="0.75"/>
<circle cx="829.2" cy="437.2" r="1.0" fill="#a8b8d8" opacity="0.75"/>
<circle cx="706.2" cy="361.1" r="0.9" fill="#a8b8d8" opacity="0.75"/>
<circle cx="951.0" cy="493.0" r="1.5" fill="#a8b8d8" opacity="0.75"/>
<circle cx="741.7" cy="505.2" r="0.8" fill="#a8b8d8" opacity="0.75"/>
<circle cx="728.2" cy="327.2" r="1.3" fill="#a8b8d8" opacity="0.75"/>
<circle cx="747.3" cy="503.7" r="1.1" fill="#a8b8d8" opacity="0.75"/>
<circle cx="707.8" cy="524.1" r="1.9" fill="#a8b8d8" opacity="0.75"/>
<circle cx="772.2" cy="521.5" r="1.9" fill="#a8b8d8" opacity="0.75"/>
<circle cx="731.2" cy="499.6" r="1.7" fill="#a8b8d8" opacity="0.75"/>
<circle cx="835.9" cy="513.0" r="1.4" fill="#a8b8d8" opacity="0.75"/>
<circle cx="962.6" cy="324.0" r="1.6" fill="#a8b8d8" opacity="0.75"/>
<circle cx="768.3" cy="442.8" r="1.0" fill="#a8b8d8" opacity="0.75"/>
<circle cx="958.0" cy="493.9" r="1.7" fill="#a8b8d8" opacity="0.75"/>
<circle cx="752.8" cy="524.6" r="1.8" fill="#a8b8d8" opacity="0.75"/>
<circle cx="928.9" cy="423.4" r="1.4" fill="#a8b8d8" opacity="0.75"/>
<circle cx="837.7" cy="415.5" r="1.9" fill="#a8b8d8" opacity="0.75"/>
<circle cx="854.6" cy="544.5" r="1.2" fill="#a8b8d8" opacity="0.75"/>
<circle cx="781.2" cy="420.7" r="1.0" fill="#a8b8d8" opacity="0.75"/>
<circle cx="766.4" cy="375.4" r="0.9" fill="#a8b8d8" opacity="0.75"/>
<circle cx="901.1" cy="327.8" r="1.3" fill="#a8b8d8" opacity="0.75"/>
<circle cx="889.7" cy="542.9" r="1.9" fill="#a8b8d8" opacity="0.75"/>
<path d="M949,469 L958,465 L962,476 L950,478Z" fill="#a4b2cc"/>
<path d="M735,445 L742,440 L739,452Z" fill="#a4b2cc" opacity="0.8"/>
</g>
<path d="M870,404.9 L893.3,404.9 L903.1,419.6" fill="none" stroke="#fff" stroke-width="2.4"/>
<circle cx="903.1" cy="419.6" r="3.6" fill="#fff"/>
<path d="M762.7,490.1 L769.9,475.2 L792.6,475.2" fill="none" stroke="#fff" stroke-width="2.4"/>
<circle cx="762.7" cy="490.1" r="3.6" fill="#fff"/>
<line x1="125.0" y1="775.8" x2="130.6" y2="784.4" stroke="#e8c4c4" stroke-width="2"/>
<line x1="130.6" y1="784.4" x2="132.1" y2="792.6" stroke="#e8c4c4" stroke-width="2"/>
<line x1="106.7" y1="788.5" x2="112.3" y2="797.1" stroke="#e8c4c4" stroke-width="2"/>
<line x1="112.3" y1="797.1" x2="119.4" y2="800.8" stroke="#e8c4c4" stroke-width="2"/>
<line x1="119.4" y1="800.8" x2="132.1" y2="792.6" stroke="#e8c4c4" stroke-width="2"/>
<line x1="119.4" y1="800.8" x2="108.6" y2="817.6" stroke="#e8c4c4" stroke-width="2"/>
<line x1="132.1" y1="792.6" x2="131.3" y2="805.3" stroke="#e8c4c4" stroke-width="2"/>
<line x1="131.3" y1="805.3" x2="134.3" y2="809.8" stroke="#e8c4c4" stroke-width="2"/>
<line x1="119.4" y1="800.8" x2="131.3" y2="805.3" stroke="#e8c4c4" stroke-width="2"/>
<line x1="132.1" y1="792.6" x2="151.5" y2="788.5" stroke="#e8c4c4" stroke-width="2"/>
<circle cx="119.4" cy="800.8" r="6.3" fill="url(#alg)"/>
<circle cx="132.1" cy="792.6" r="6.3" fill="url(#alg)"/>
<circle cx="125.0" cy="775.8" r="2.5" fill="#f6e0e0" stroke="#e0a4a4" stroke-width="1.3"/>
<circle cx="130.6" cy="784.4" r="2.5" fill="#f6e0e0" stroke="#e0a4a4" stroke-width="1.3"/>
<circle cx="106.7" cy="788.5" r="2.5" fill="#f6e0e0" stroke="#e0a4a4" stroke-width="1.3"/>
<circle cx="112.3" cy="797.1" r="2.5" fill="#f6e0e0" stroke="#e0a4a4" stroke-width="1.3"/>
<circle cx="131.3" cy="805.3" r="2.5" fill="#f6e0e0" stroke="#e0a4a4" stroke-width="1.3"/>
<circle cx="134.3" cy="809.8" r="2.5" fill="#f6e0e0" stroke="#e0a4a4" stroke-width="1.3"/>
<circle cx="108.6" cy="817.6" r="2.5" fill="#f6e0e0" stroke="#e0a4a4" stroke-width="1.3"/>
<line x1="169.8" y1="775.8" x2="175.4" y2="784.4" stroke="#e8c4c4" stroke-width="2"/>
<line x1="175.4" y1="784.4" x2="176.9" y2="792.6" stroke="#e8c4c4" stroke-width="2"/>
<line x1="151.5" y1="788.5" x2="157.1" y2="797.1" stroke="#e8c4c4" stroke-width="2"/>
<line x1="157.1" y1="797.1" x2="164.2" y2="800.8" stroke="#e8c4c4" stroke-width="2"/>
<line x1="164.2" y1="800.8" x2="176.9" y2="792.6" stroke="#e8c4c4" stroke-width="2"/>
<line x1="164.2" y1="800.8" x2="153.4" y2="817.6" stroke="#e8c4c4" stroke-width="2"/>
<line x1="176.9" y1="792.6" x2="176.1" y2="805.3" stroke="#e8c4c4" stroke-width="2"/>
<line x1="176.1" y1="805.3" x2="179.1" y2="809.8" stroke="#e8c4c4" stroke-width="2"/>
<line x1="164.2" y1="800.8" x2="176.1" y2="805.3" stroke="#e8c4c4" stroke-width="2"/>
<line x1="176.9" y1="792.6" x2="196.3" y2="788.5" stroke="#e8c4c4" stroke-width="2"/>
<circle cx="164.2" cy="800.8" r="6.3" fill="url(#alg)"/>
<circle cx="176.9" cy="792.6" r="6.3" fill="url(#alg)"/>
<circle cx="169.8" cy="775.8" r="2.5" fill="#f6e0e0" stroke="#e0a4a4" stroke-width="1.3"/>
<circle cx="175.4" cy="784.4" r="2.5" fill="#f6e0e0" stroke="#e0a4a4" stroke-width="1.3"/>
<circle cx="151.5" cy="788.5" r="2.5" fill="#f6e0e0" stroke="#e0a4a4" stroke-width="1.3"/>
<circle cx="157.1" cy="797.1" r="2.5" fill="#f6e0e0" stroke="#e0a4a4" stroke-width="1.3"/>
<circle cx="176.1" cy="805.3" r="2.5" fill="#f6e0e0" stroke="#e0a4a4" stroke-width="1.3"/>
<circle cx="179.1" cy="809.8" r="2.5" fill="#f6e0e0" stroke="#e0a4a4" stroke-width="1.3"/>
<circle cx="153.4" cy="817.6" r="2.5" fill="#f6e0e0" stroke="#e0a4a4" stroke-width="1.3"/>
<line x1="214.6" y1="775.8" x2="220.2" y2="784.4" stroke="#e8c4c4" stroke-width="2"/>
<line x1="220.2" y1="784.4" x2="221.7" y2="792.6" stroke="#e8c4c4" stroke-width="2"/>
<line x1="196.3" y1="788.5" x2="201.9" y2="797.1" stroke="#e8c4c4" stroke-width="2"/>
<line x1="201.9" y1="797.1" x2="209.0" y2="800.8" stroke="#e8c4c4" stroke-width="2"/>
<line x1="209.0" y1="800.8" x2="221.7" y2="792.6" stroke="#e8c4c4" stroke-width="2"/>
<line x1="209.0" y1="800.8" x2="198.2" y2="817.6" stroke="#e8c4c4" stroke-width="2"/>
<line x1="221.7" y1="792.6" x2="220.9" y2="805.3" stroke="#e8c4c4" stroke-width="2"/>
<line x1="220.9" y1="805.3" x2="223.9" y2="809.8" stroke="#e8c4c4" stroke-width="2"/>
<line x1="209.0" y1="800.8" x2="220.9" y2="805.3" stroke="#e8c4c4" stroke-width="2"/>
<line x1="221.7" y1="792.6" x2="241.1" y2="788.5" stroke="#e8c4c4" stroke-width="2"/>
<circle cx="209.0" cy="800.8" r="6.3" fill="url(#alg)"/>
<circle cx="221.7" cy="792.6" r="6.3" fill="url(#alg)"/>
<circle cx="214.6" cy="775.8" r="2.5" fill="#f6e0e0" stroke="#e0a4a4" stroke-width="1.3"/>
<circle cx="220.2" cy="784.4" r="2.5" fill="#f6e0e0" stroke="#e0a4a4" stroke-width="1.3"/>
<circle cx="196.3" cy="788.5" r="2.5" fill="#f6e0e0" stroke="#e0a4a4" stroke-width="1.3"/>
<circle cx="201.9" cy="797.1" r="2.5" fill="#f6e0e0" stroke="#e0a4a4" stroke-width="1.3"/>
<circle cx="220.9" cy="805.3" r="2.5" fill="#f6e0e0" stroke="#e0a4a4" stroke-width="1.3"/>
<circle cx="223.9" cy="809.8" r="2.5" fill="#f6e0e0" stroke="#e0a4a4" stroke-width="1.3"/>
<circle cx="198.2" cy="817.6" r="2.5" fill="#f6e0e0" stroke="#e0a4a4" stroke-width="1.3"/>
<line x1="259.4" y1="775.8" x2="265.0" y2="784.4" stroke="#e8c4c4" stroke-width="2"/>
<line x1="265.0" y1="784.4" x2="266.5" y2="792.6" stroke="#e8c4c4" stroke-width="2"/>
<line x1="241.1" y1="788.5" x2="246.7" y2="797.1" stroke="#e8c4c4" stroke-width="2"/>
<line x1="246.7" y1="797.1" x2="253.8" y2="800.8" stroke="#e8c4c4" stroke-width="2"/>
<line x1="253.8" y1="800.8" x2="266.5" y2="792.6" stroke="#e8c4c4" stroke-width="2"/>
<line x1="253.8" y1="800.8" x2="243.0" y2="817.6" stroke="#e8c4c4" stroke-width="2"/>
<line x1="266.5" y1="792.6" x2="265.7" y2="805.3" stroke="#e8c4c4" stroke-width="2"/>
<line x1="265.7" y1="805.3" x2="268.7" y2="809.8" stroke="#e8c4c4" stroke-width="2"/>
<line x1="253.8" y1="800.8" x2="265.7" y2="805.3" stroke="#e8c4c4" stroke-width="2"/>
<line x1="266.5" y1="792.6" x2="285.9" y2="788.5" stroke="#e8c4c4" stroke-width="2"/>
<circle cx="253.8" cy="800.8" r="6.3" fill="url(#alg)"/>
<circle cx="266.5" cy="792.6" r="6.3" fill="url(#alg)"/>
<circle cx="259.4" cy="775.8" r="2.5" fill="#f6e0e0" stroke="#e0a4a4" stroke-width="1.3"/>
<circle cx="265.0" cy="784.4" r="2.5" fill="#f6e0e0" stroke="#e0a4a4" stroke-width="1.3"/>
<circle cx="241.1" cy="788.5" r="2.5" fill="#f6e0e0" stroke="#e0a4a4" stroke-width="1.3"/>
<circle cx="246.7" cy="797.1" r="2.5" fill="#f6e0e0" stroke="#e0a4a4" stroke-width="1.3"/>
<circle cx="265.7" cy="805.3" r="2.5" fill="#f6e0e0" stroke="#e0a4a4" stroke-width="1.3"/>
<circle cx="268.7" cy="809.8" r="2.5" fill="#f6e0e0" stroke="#e0a4a4" stroke-width="1.3"/>
<circle cx="243.0" cy="817.6" r="2.5" fill="#f6e0e0" stroke="#e0a4a4" stroke-width="1.3"/>
<line x1="304.2" y1="775.8" x2="309.8" y2="784.4" stroke="#e8c4c4" stroke-width="2"/>
<line x1="309.8" y1="784.4" x2="311.3" y2="792.6" stroke="#e8c4c4" stroke-width="2"/>
<line x1="285.9" y1="788.5" x2="291.5" y2="797.1" stroke="#e8c4c4" stroke-width="2"/>
<line x1="291.5" y1="797.1" x2="298.6" y2="800.8" stroke="#e8c4c4" stroke-width="2"/>
<line x1="298.6" y1="800.8" x2="311.3" y2="792.6" stroke="#e8c4c4" stroke-width="2"/>
<line x1="298.6" y1="800.8" x2="287.8" y2="817.6" stroke="#e8c4c4" stroke-width="2"/>
<line x1="311.3" y1="792.6" x2="310.5" y2="805.3" stroke="#e8c4c4" stroke-width="2"/>
<line x1="310.5" y1="805.3" x2="313.5" y2="809.8" stroke="#e8c4c4" stroke-width="2"/>
<line x1="298.6" y1="800.8" x2="310.5" y2="805.3" stroke="#e8c4c4" stroke-width="2"/>
<line x1="311.3" y1="792.6" x2="330.7" y2="788.5" stroke="#e8c4c4" stroke-width="2"/>
<circle cx="298.6" cy="800.8" r="6.3" fill="url(#alg)"/>
<circle cx="311.3" cy="792.6" r="6.3" fill="url(#alg)"/>
<circle cx="304.2" cy="775.8" r="2.5" fill="#f6e0e0" stroke="#e0a4a4" stroke-width="1.3"/>
<circle cx="309.8" cy="784.4" r="2.5" fill="#f6e0e0" stroke="#e0a4a4" stroke-width="1.3"/>
<circle cx="285.9" cy="788.5" r="2.5" fill="#f6e0e0" stroke="#e0a4a4" stroke-width="1.3"/>
<circle cx="291.5" cy="797.1" r="2.5" fill="#f6e0e0" stroke="#e0a4a4" stroke-width="1.3"/>
<circle cx="310.5" cy="805.3" r="2.5" fill="#f6e0e0" stroke="#e0a4a4" stroke-width="1.3"/>
<circle cx="313.5" cy="809.8" r="2.5" fill="#f6e0e0" stroke="#e0a4a4" stroke-width="1.3"/>
<circle cx="287.8" cy="817.6" r="2.5" fill="#f6e0e0" stroke="#e0a4a4" stroke-width="1.3"/>
<line x1="349.0" y1="775.8" x2="354.6" y2="784.4" stroke="#e8c4c4" stroke-width="2"/>
<line x1="354.6" y1="784.4" x2="356.1" y2="792.6" stroke="#e8c4c4" stroke-width="2"/>
<line x1="330.7" y1="788.5" x2="336.3" y2="797.1" stroke="#e8c4c4" stroke-width="2"/>
<line x1="336.3" y1="797.1" x2="343.4" y2="800.8" stroke="#e8c4c4" stroke-width="2"/>
<line x1="343.4" y1="800.8" x2="356.1" y2="792.6" stroke="#e8c4c4" stroke-width="2"/>
<line x1="343.4" y1="800.8" x2="332.6" y2="817.6" stroke="#e8c4c4" stroke-width="2"/>
<line x1="356.1" y1="792.6" x2="355.3" y2="805.3" stroke="#e8c4c4" stroke-width="2"/>
<line x1="355.3" y1="805.3" x2="358.3" y2="809.8" stroke="#e8c4c4" stroke-width="2"/>
<line x1="343.4" y1="800.8" x2="355.3" y2="805.3" stroke="#e8c4c4" stroke-width="2"/>
<line x1="356.1" y1="792.6" x2="375.5" y2="788.5" stroke="#e8c4c4" stroke-width="2"/>
<circle cx="343.4" cy="800.8" r="6.3" fill="url(#alg)"/>
<circle cx="356.1" cy="792.6" r="6.3" fill="url(#alg)"/>
<circle cx="349.0" cy="775.8" r="2.5" fill="#f6e0e0" stroke="#e0a4a4" stroke-width="1.3"/>
<circle cx="354.6" cy="784.4" r="2.5" fill="#f6e0e0" stroke="#e0a4a4" stroke-width="1.3"/>
<circle cx="330.7" cy="788.5" r="2.5" fill="#f6e0e0" stroke="#e0a4a4" stroke-width="1.3"/>
<circle cx="336.3" cy="797.1" r="2.5" fill="#f6e0e0" stroke="#e0a4a4" stroke-width="1.3"/>
<circle cx="355.3" cy="805.3" r="2.5" fill="#f6e0e0" stroke="#e0a4a4" stroke-width="1.3"/>
<circle cx="358.3" cy="809.8" r="2.5" fill="#f6e0e0" stroke="#e0a4a4" stroke-width="1.3"/>
<circle cx="332.6" cy="817.6" r="2.5" fill="#f6e0e0" stroke="#e0a4a4" stroke-width="1.3"/>
<line x1="393.8" y1="775.8" x2="399.4" y2="784.4" stroke="#e8c4c4" stroke-width="2"/>
<line x1="399.4" y1="784.4" x2="400.9" y2="792.6" stroke="#e8c4c4" stroke-width="2"/>
<line x1="375.5" y1="788.5" x2="381.1" y2="797.1" stroke="#e8c4c4" stroke-width="2"/>
<line x1="381.1" y1="797.1" x2="388.2" y2="800.8" stroke="#e8c4c4" stroke-width="2"/>
<line x1="388.2" y1="800.8" x2="400.9" y2="792.6" stroke="#e8c4c4" stroke-width="2"/>
<line x1="388.2" y1="800.8" x2="377.4" y2="817.6" stroke="#e8c4c4" stroke-width="2"/>
<line x1="400.9" y1="792.6" x2="400.1" y2="805.3" stroke="#e8c4c4" stroke-width="2"/>
<line x1="400.1" y1="805.3" x2="403.1" y2="809.8" stroke="#e8c4c4" stroke-width="2"/>
<line x1="388.2" y1="800.8" x2="400.1" y2="805.3" stroke="#e8c4c4" stroke-width="2"/>
<line x1="400.9" y1="792.6" x2="420.3" y2="788.5" stroke="#e8c4c4" stroke-width="2"/>
<circle cx="388.2" cy="800.8" r="6.3" fill="url(#alg)"/>
<circle cx="400.9" cy="792.6" r="6.3" fill="url(#alg)"/>
<circle cx="393.8" cy="775.8" r="2.5" fill="#f6e0e0" stroke="#e0a4a4" stroke-width="1.3"/>
<circle cx="399.4" cy="784.4" r="2.5" fill="#f6e0e0" stroke="#e0a4a4" stroke-width="1.3"/>
<circle cx="375.5" cy="788.5" r="2.5" fill="#f6e0e0" stroke="#e0a4a4" stroke-width="1.3"/>
<circle cx="381.1" cy="797.1" r="2.5" fill="#f6e0e0" stroke="#e0a4a4" stroke-width="1.3"/>
<circle cx="400.1" cy="805.3" r="2.5" fill="#f6e0e0" stroke="#e0a4a4" stroke-width="1.3"/>
<circle cx="403.1" cy="809.8" r="2.5" fill="#f6e0e0" stroke="#e0a4a4" stroke-width="1.3"/>
<circle cx="377.4" cy="817.6" r="2.5" fill="#f6e0e0" stroke="#e0a4a4" stroke-width="1.3"/>
<line x1="438.6" y1="775.8" x2="444.2" y2="784.4" stroke="#e8c4c4" stroke-width="2"/>
<line x1="444.2" y1="784.4" x2="445.7" y2="792.6" stroke="#e8c4c4" stroke-width="2"/>
<line x1="420.3" y1="788.5" x2="425.9" y2="797.1" stroke="#e8c4c4" stroke-width="2"/>
<line x1="425.9" y1="797.1" x2="433.0" y2="800.8" stroke="#e8c4c4" stroke-width="2"/>
<line x1="433.0" y1="800.8" x2="445.7" y2="792.6" stroke="#e8c4c4" stroke-width="2"/>
<line x1="433.0" y1="800.8" x2="422.2" y2="817.6" stroke="#e8c4c4" stroke-width="2"/>
<line x1="445.7" y1="792.6" x2="444.9" y2="805.3" stroke="#e8c4c4" stroke-width="2"/>
<line x1="444.9" y1="805.3" x2="447.9" y2="809.8" stroke="#e8c4c4" stroke-width="2"/>
<line x1="433.0" y1="800.8" x2="444.9" y2="805.3" stroke="#e8c4c4" stroke-width="2"/>
<line x1="445.7" y1="792.6" x2="465.1" y2="788.5" stroke="#e8c4c4" stroke-width="2"/>
<circle cx="433.0" cy="800.8" r="6.3" fill="url(#alg)"/>
<circle cx="445.7" cy="792.6" r="6.3" fill="url(#alg)"/>
<circle cx="438.6" cy="775.8" r="2.5" fill="#f6e0e0" stroke="#e0a4a4" stroke-width="1.3"/>
<circle cx="444.2" cy="784.4" r="2.5" fill="#f6e0e0" stroke="#e0a4a4" stroke-width="1.3"/>
<circle cx="420.3" cy="788.5" r="2.5" fill="#f6e0e0" stroke="#e0a4a4" stroke-width="1.3"/>
<circle cx="425.9" cy="797.1" r="2.5" fill="#f6e0e0" stroke="#e0a4a4" stroke-width="1.3"/>
<circle cx="444.9" cy="805.3" r="2.5" fill="#f6e0e0" stroke="#e0a4a4" stroke-width="1.3"/>
<circle cx="447.9" cy="809.8" r="2.5" fill="#f6e0e0" stroke="#e0a4a4" stroke-width="1.3"/>
<circle cx="422.2" cy="817.6" r="2.5" fill="#f6e0e0" stroke="#e0a4a4" stroke-width="1.3"/>
<line x1="483.4" y1="775.8" x2="489.0" y2="784.4" stroke="#e8c4c4" stroke-width="2"/>
<line x1="489.0" y1="784.4" x2="490.5" y2="792.6" stroke="#e8c4c4" stroke-width="2"/>
<line x1="465.1" y1="788.5" x2="470.7" y2="797.1" stroke="#e8c4c4" stroke-width="2"/>
<line x1="470.7" y1="797.1" x2="477.8" y2="800.8" stroke="#e8c4c4" stroke-width="2"/>
<line x1="477.8" y1="800.8" x2="490.5" y2="792.6" stroke="#e8c4c4" stroke-width="2"/>
<line x1="477.8" y1="800.8" x2="467.0" y2="817.6" stroke="#e8c4c4" stroke-width="2"/>
<line x1="490.5" y1="792.6" x2="489.7" y2="805.3" stroke="#e8c4c4" stroke-width="2"/>
<line x1="489.7" y1="805.3" x2="492.7" y2="809.8" stroke="#e8c4c4" stroke-width="2"/>
<line x1="477.8" y1="800.8" x2="489.7" y2="805.3" stroke="#e8c4c4" stroke-width="2"/>
<circle cx="477.8" cy="800.8" r="6.3" fill="url(#alg)"/>
<circle cx="490.5" cy="792.6" r="6.3" fill="url(#alg)"/>
<circle cx="483.4" cy="775.8" r="2.5" fill="#f6e0e0" stroke="#e0a4a4" stroke-width="1.3"/>
<circle cx="489.0" cy="784.4" r="2.5" fill="#f6e0e0" stroke="#e0a4a4" stroke-width="1.3"/>
<circle cx="465.1" cy="788.5" r="2.5" fill="#f6e0e0" stroke="#e0a4a4" stroke-width="1.3"/>
<circle cx="470.7" cy="797.1" r="2.5" fill="#f6e0e0" stroke="#e0a4a4" stroke-width="1.3"/>
<circle cx="489.7" cy="805.3" r="2.5" fill="#f6e0e0" stroke="#e0a4a4" stroke-width="1.3"/>
<circle cx="492.7" cy="809.8" r="2.5" fill="#f6e0e0" stroke="#e0a4a4" stroke-width="1.3"/>
<circle cx="467.0" cy="817.6" r="2.5" fill="#f6e0e0" stroke="#e0a4a4" stroke-width="1.3"/>
<line x1="121.1" y1="752.0" x2="113.4" y2="745.9" stroke="#6aaae4" stroke-width="1.9"/>
<line x1="113.4" y1="745.9" x2="105.8" y2="739.8" stroke="#ece470" stroke-width="1.9"/>
<line x1="121.1" y1="752.0" x2="113.4" y2="758.1" stroke="#6aaae4" stroke-width="1.9"/>
<line x1="113.4" y1="758.1" x2="105.8" y2="764.2" stroke="#ece470" stroke-width="1.9"/>
<line x1="121.1" y1="752.0" x2="124.9" y2="745.9" stroke="#6aaae4" stroke-width="1.9"/>
<line x1="124.9" y1="745.9" x2="128.8" y2="739.8" stroke="#ece470" stroke-width="1.9"/>
<line x1="121.1" y1="752.0" x2="124.9" y2="758.1" stroke="#6aaae4" stroke-width="1.9"/>
<line x1="124.9" y1="758.1" x2="128.8" y2="764.2" stroke="#ece470" stroke-width="1.9"/>
<line x1="144.0" y1="752.0" x2="136.3" y2="745.9" stroke="#6aaae4" stroke-width="1.9"/>
<line x1="136.3" y1="745.9" x2="128.7" y2="739.8" stroke="#ece470" stroke-width="1.9"/>
<line x1="144.0" y1="752.0" x2="136.3" y2="758.1" stroke="#6aaae4" stroke-width="1.9"/>
<line x1="136.3" y1="758.1" x2="128.7" y2="764.2" stroke="#ece470" stroke-width="1.9"/>
<line x1="144.0" y1="752.0" x2="147.8" y2="745.9" stroke="#6aaae4" stroke-width="1.9"/>
<line x1="147.8" y1="745.9" x2="151.7" y2="739.8" stroke="#ece470" stroke-width="1.9"/>
<line x1="144.0" y1="752.0" x2="147.8" y2="758.1" stroke="#6aaae4" stroke-width="1.9"/>
<line x1="147.8" y1="758.1" x2="151.7" y2="764.2" stroke="#ece470" stroke-width="1.9"/>
<line x1="166.9" y1="752.0" x2="159.2" y2="745.9" stroke="#6aaae4" stroke-width="1.9"/>
<line x1="159.2" y1="745.9" x2="151.6" y2="739.8" stroke="#ece470" stroke-width="1.9"/>
<line x1="166.9" y1="752.0" x2="159.2" y2="758.1" stroke="#6aaae4" stroke-width="1.9"/>
<line x1="159.2" y1="758.1" x2="151.6" y2="764.2" stroke="#ece470" stroke-width="1.9"/>
<line x1="166.9" y1="752.0" x2="170.7" y2="745.9" stroke="#6aaae4" stroke-width="1.9"/>
<line x1="170.7" y1="745.9" x2="174.6" y2="739.8" stroke="#ece470" stroke-width="1.9"/>
<line x1="166.9" y1="752.0" x2="170.7" y2="758.1" stroke="#6aaae4" stroke-width="1.9"/>
<line x1="170.7" y1="758.1" x2="174.6" y2="764.2" stroke="#ece470" stroke-width="1.9"/>
<line x1="189.8" y1="752.0" x2="182.1" y2="745.9" stroke="#6aaae4" stroke-width="1.9"/>
<line x1="182.1" y1="745.9" x2="174.5" y2="739.8" stroke="#ece470" stroke-width="1.9"/>
<line x1="189.8" y1="752.0" x2="182.1" y2="758.1" stroke="#6aaae4" stroke-width="1.9"/>
<line x1="182.1" y1="758.1" x2="174.5" y2="764.2" stroke="#ece470" stroke-width="1.9"/>
<line x1="189.8" y1="752.0" x2="193.6" y2="745.9" stroke="#6aaae4" stroke-width="1.9"/>
<line x1="193.6" y1="745.9" x2="197.5" y2="739.8" stroke="#ece470" stroke-width="1.9"/>
<line x1="189.8" y1="752.0" x2="193.6" y2="758.1" stroke="#6aaae4" stroke-width="1.9"/>
<line x1="193.6" y1="758.1" x2="197.5" y2="764.2" stroke="#ece470" stroke-width="1.9"/>
<line x1="212.7" y1="752.0" x2="205.0" y2="745.9" stroke="#6aaae4" stroke-width="1.9"/>
<line x1="205.0" y1="745.9" x2="197.4" y2="739.8" stroke="#ece470" stroke-width="1.9"/>
<line x1="212.7" y1="752.0" x2="205.0" y2="758.1" stroke="#6aaae4" stroke-width="1.9"/>
<line x1="205.0" y1="758.1" x2="197.4" y2="764.2" stroke="#ece470" stroke-width="1.9"/>
<line x1="212.7" y1="752.0" x2="216.5" y2="745.9" stroke="#6aaae4" stroke-width="1.9"/>
<line x1="216.5" y1="745.9" x2="220.4" y2="739.8" stroke="#ece470" stroke-width="1.9"/>
<line x1="212.7" y1="752.0" x2="216.5" y2="758.1" stroke="#6aaae4" stroke-width="1.9"/>
<line x1="216.5" y1="758.1" x2="220.4" y2="764.2" stroke="#ece470" stroke-width="1.9"/>
<line x1="235.6" y1="752.0" x2="227.9" y2="745.9" stroke="#6aaae4" stroke-width="1.9"/>
<line x1="227.9" y1="745.9" x2="220.2" y2="739.8" stroke="#ece470" stroke-width="1.9"/>
<line x1="235.6" y1="752.0" x2="227.9" y2="758.1" stroke="#6aaae4" stroke-width="1.9"/>
<line x1="227.9" y1="758.1" x2="220.2" y2="764.2" stroke="#ece470" stroke-width="1.9"/>
<line x1="235.6" y1="752.0" x2="239.4" y2="745.9" stroke="#6aaae4" stroke-width="1.9"/>
<line x1="239.4" y1="745.9" x2="243.2" y2="739.8" stroke="#ece470" stroke-width="1.9"/>
<line x1="235.6" y1="752.0" x2="239.4" y2="758.1" stroke="#6aaae4" stroke-width="1.9"/>
<line x1="239.4" y1="758.1" x2="243.2" y2="764.2" stroke="#ece470" stroke-width="1.9"/>
<line x1="258.4" y1="752.0" x2="250.8" y2="745.9" stroke="#6aaae4" stroke-width="1.9"/>
<line x1="250.8" y1="745.9" x2="243.1" y2="739.8" stroke="#ece470" stroke-width="1.9"/>
<line x1="258.4" y1="752.0" x2="250.8" y2="758.1" stroke="#6aaae4" stroke-width="1.9"/>
<line x1="250.8" y1="758.1" x2="243.1" y2="764.2" stroke="#ece470" stroke-width="1.9"/>
<line x1="258.4" y1="752.0" x2="262.3" y2="745.9" stroke="#6aaae4" stroke-width="1.9"/>
<line x1="262.3" y1="745.9" x2="266.1" y2="739.8" stroke="#ece470" stroke-width="1.9"/>
<line x1="258.4" y1="752.0" x2="262.3" y2="758.1" stroke="#6aaae4" stroke-width="1.9"/>
<line x1="262.3" y1="758.1" x2="266.1" y2="764.2" stroke="#ece470" stroke-width="1.9"/>
<line x1="281.3" y1="752.0" x2="273.7" y2="745.9" stroke="#6aaae4" stroke-width="1.9"/>
<line x1="273.7" y1="745.9" x2="266.0" y2="739.8" stroke="#ece470" stroke-width="1.9"/>
<line x1="281.3" y1="752.0" x2="273.7" y2="758.1" stroke="#6aaae4" stroke-width="1.9"/>
<line x1="273.7" y1="758.1" x2="266.0" y2="764.2" stroke="#ece470" stroke-width="1.9"/>
<line x1="281.3" y1="752.0" x2="285.2" y2="745.9" stroke="#6aaae4" stroke-width="1.9"/>
<line x1="285.2" y1="745.9" x2="289.0" y2="739.8" stroke="#ece470" stroke-width="1.9"/>
<line x1="281.3" y1="752.0" x2="285.2" y2="758.1" stroke="#6aaae4" stroke-width="1.9"/>
<line x1="285.2" y1="758.1" x2="289.0" y2="764.2" stroke="#ece470" stroke-width="1.9"/>
<line x1="304.2" y1="752.0" x2="296.6" y2="745.9" stroke="#6aaae4" stroke-width="1.9"/>
<line x1="296.6" y1="745.9" x2="288.9" y2="739.8" stroke="#ece470" stroke-width="1.9"/>
<line x1="304.2" y1="752.0" x2="296.6" y2="758.1" stroke="#6aaae4" stroke-width="1.9"/>
<line x1="296.6" y1="758.1" x2="288.9" y2="764.2" stroke="#ece470" stroke-width="1.9"/>
<line x1="304.2" y1="752.0" x2="308.1" y2="745.9" stroke="#6aaae4" stroke-width="1.9"/>
<line x1="308.1" y1="745.9" x2="311.9" y2="739.8" stroke="#ece470" stroke-width="1.9"/>
<line x1="304.2" y1="752.0" x2="308.1" y2="758.1" stroke="#6aaae4" stroke-width="1.9"/>
<line x1="308.1" y1="758.1" x2="311.9" y2="764.2" stroke="#ece470" stroke-width="1.9"/>
<line x1="327.1" y1="752.0" x2="319.5" y2="745.9" stroke="#6aaae4" stroke-width="1.9"/>
<line x1="319.5" y1="745.9" x2="311.8" y2="739.8" stroke="#ece470" stroke-width="1.9"/>
<line x1="327.1" y1="752.0" x2="319.5" y2="758.1" stroke="#6aaae4" stroke-width="1.9"/>
<line x1="319.5" y1="758.1" x2="311.8" y2="764.2" stroke="#ece470" stroke-width="1.9"/>
<line x1="327.1" y1="752.0" x2="331.0" y2="745.9" stroke="#6aaae4" stroke-width="1.9"/>
<line x1="331.0" y1="745.9" x2="334.8" y2="739.8" stroke="#ece470" stroke-width="1.9"/>
<line x1="327.1" y1="752.0" x2="331.0" y2="758.1" stroke="#6aaae4" stroke-width="1.9"/>
<line x1="331.0" y1="758.1" x2="334.8" y2="764.2" stroke="#ece470" stroke-width="1.9"/>
<line x1="350.0" y1="752.0" x2="342.4" y2="745.9" stroke="#6aaae4" stroke-width="1.9"/>
<line x1="342.4" y1="745.9" x2="334.7" y2="739.8" stroke="#ece470" stroke-width="1.9"/>
<line x1="350.0" y1="752.0" x2="342.4" y2="758.1" stroke="#6aaae4" stroke-width="1.9"/>
<line x1="342.4" y1="758.1" x2="334.7" y2="764.2" stroke="#ece470" stroke-width="1.9"/>
<line x1="350.0" y1="752.0" x2="353.9" y2="745.9" stroke="#6aaae4" stroke-width="1.9"/>
<line x1="353.9" y1="745.9" x2="357.7" y2="739.8" stroke="#ece470" stroke-width="1.9"/>
<line x1="350.0" y1="752.0" x2="353.9" y2="758.1" stroke="#6aaae4" stroke-width="1.9"/>
<line x1="353.9" y1="758.1" x2="357.7" y2="764.2" stroke="#ece470" stroke-width="1.9"/>
<line x1="372.9" y1="752.0" x2="365.2" y2="745.9" stroke="#6aaae4" stroke-width="1.9"/>
<line x1="365.2" y1="745.9" x2="357.6" y2="739.8" stroke="#ece470" stroke-width="1.9"/>
<line x1="372.9" y1="752.0" x2="365.2" y2="758.1" stroke="#6aaae4" stroke-width="1.9"/>
<line x1="365.2" y1="758.1" x2="357.6" y2="764.2" stroke="#ece470" stroke-width="1.9"/>
<line x1="372.9" y1="752.0" x2="376.7" y2="745.9" stroke="#6aaae4" stroke-width="1.9"/>
<line x1="376.7" y1="745.9" x2="380.6" y2="739.8" stroke="#ece470" stroke-width="1.9"/>
<line x1="372.9" y1="752.0" x2="376.7" y2="758.1" stroke="#6aaae4" stroke-width="1.9"/>
<line x1="376.7" y1="758.1" x2="380.6" y2="764.2" stroke="#ece470" stroke-width="1.9"/>
<line x1="395.8" y1="752.0" x2="388.1" y2="745.9" stroke="#6aaae4" stroke-width="1.9"/>
<line x1="388.1" y1="745.9" x2="380.5" y2="739.8" stroke="#ece470" stroke-width="1.9"/>
<line x1="395.8" y1="752.0" x2="388.1" y2="758.1" stroke="#6aaae4" stroke-width="1.9"/>
<line x1="388.1" y1="758.1" x2="380.5" y2="764.2" stroke="#ece470" stroke-width="1.9"/>
<line x1="395.8" y1="752.0" x2="399.6" y2="745.9" stroke="#6aaae4" stroke-width="1.9"/>
<line x1="399.6" y1="745.9" x2="403.5" y2="739.8" stroke="#ece470" stroke-width="1.9"/>
<line x1="395.8" y1="752.0" x2="399.6" y2="758.1" stroke="#6aaae4" stroke-width="1.9"/>
<line x1="399.6" y1="758.1" x2="403.5" y2="764.2" stroke="#ece470" stroke-width="1.9"/>
<line x1="418.7" y1="752.0" x2="411.0" y2="745.9" stroke="#6aaae4" stroke-width="1.9"/>
<line x1="411.0" y1="745.9" x2="403.4" y2="739.8" stroke="#ece470" stroke-width="1.9"/>
<line x1="418.7" y1="752.0" x2="411.0" y2="758.1" stroke="#6aaae4" stroke-width="1.9"/>
<line x1="411.0" y1="758.1" x2="403.4" y2="764.2" stroke="#ece470" stroke-width="1.9"/>
<line x1="418.7" y1="752.0" x2="422.5" y2="745.9" stroke="#6aaae4" stroke-width="1.9"/>
<line x1="422.5" y1="745.9" x2="426.4" y2="739.8" stroke="#ece470" stroke-width="1.9"/>
<line x1="418.7" y1="752.0" x2="422.5" y2="758.1" stroke="#6aaae4" stroke-width="1.9"/>
<line x1="422.5" y1="758.1" x2="426.4" y2="764.2" stroke="#ece470" stroke-width="1.9"/>
<line x1="441.6" y1="752.0" x2="433.9" y2="745.9" stroke="#6aaae4" stroke-width="1.9"/>
<line x1="433.9" y1="745.9" x2="426.3" y2="739.8" stroke="#ece470" stroke-width="1.9"/>
<line x1="441.6" y1="752.0" x2="433.9" y2="758.1" stroke="#6aaae4" stroke-width="1.9"/>
<line x1="433.9" y1="758.1" x2="426.3" y2="764.2" stroke="#ece470" stroke-width="1.9"/>
<line x1="441.6" y1="752.0" x2="445.4" y2="745.9" stroke="#6aaae4" stroke-width="1.9"/>
<line x1="445.4" y1="745.9" x2="449.3" y2="739.8" stroke="#ece470" stroke-width="1.9"/>
<line x1="441.6" y1="752.0" x2="445.4" y2="758.1" stroke="#6aaae4" stroke-width="1.9"/>
<line x1="445.4" y1="758.1" x2="449.3" y2="764.2" stroke="#ece470" stroke-width="1.9"/>
<line x1="464.5" y1="752.0" x2="456.8" y2="745.9" stroke="#6aaae4" stroke-width="1.9"/>
<line x1="456.8" y1="745.9" x2="449.2" y2="739.8" stroke="#ece470" stroke-width="1.9"/>
<line x1="464.5" y1="752.0" x2="456.8" y2="758.1" stroke="#6aaae4" stroke-width="1.9"/>
<line x1="456.8" y1="758.1" x2="449.2" y2="764.2" stroke="#ece470" stroke-width="1.9"/>
<line x1="464.5" y1="752.0" x2="468.3" y2="745.9" stroke="#6aaae4" stroke-width="1.9"/>
<line x1="468.3" y1="745.9" x2="472.2" y2="739.8" stroke="#ece470" stroke-width="1.9"/>
<line x1="464.5" y1="752.0" x2="468.3" y2="758.1" stroke="#6aaae4" stroke-width="1.9"/>
<line x1="468.3" y1="758.1" x2="472.2" y2="764.2" stroke="#ece470" stroke-width="1.9"/>
<line x1="487.3" y1="752.0" x2="479.7" y2="745.9" stroke="#6aaae4" stroke-width="1.9"/>
<line x1="479.7" y1="745.9" x2="472.0" y2="739.8" stroke="#ece470" stroke-width="1.9"/>
<line x1="487.3" y1="752.0" x2="479.7" y2="758.1" stroke="#6aaae4" stroke-width="1.9"/>
<line x1="479.7" y1="758.1" x2="472.0" y2="764.2" stroke="#ece470" stroke-width="1.9"/>
<line x1="487.3" y1="752.0" x2="491.2" y2="745.9" stroke="#6aaae4" stroke-width="1.9"/>
<line x1="491.2" y1="745.9" x2="495.0" y2="739.8" stroke="#ece470" stroke-width="1.9"/>
<line x1="487.3" y1="752.0" x2="491.2" y2="758.1" stroke="#6aaae4" stroke-width="1.9"/>
<line x1="491.2" y1="758.1" x2="495.0" y2="764.2" stroke="#ece470" stroke-width="1.9"/>
<circle cx="105.8" cy="739.8" r="3.2" fill="url(#sg)" stroke="#b8a818" stroke-width="0.5"/>
<circle cx="105.8" cy="764.2" r="3.2" fill="url(#sg)" stroke="#b8a818" stroke-width="0.5"/>
<circle cx="128.7" cy="739.8" r="3.2" fill="url(#sg)" stroke="#b8a818" stroke-width="0.5"/>
<circle cx="128.7" cy="764.2" r="3.2" fill="url(#sg)" stroke="#b8a818" stroke-width="0.5"/>
<circle cx="128.8" cy="739.8" r="3.2" fill="url(#sg)" stroke="#b8a818" stroke-width="0.5"/>
<circle cx="128.8" cy="764.2" r="3.2" fill="url(#sg)" stroke="#b8a818" stroke-width="0.5"/>
<circle cx="151.6" cy="739.8" r="3.2" fill="url(#sg)" stroke="#b8a818" stroke-width="0.5"/>
<circle cx="151.6" cy="764.2" r="3.2" fill="url(#sg)" stroke="#b8a818" stroke-width="0.5"/>
<circle cx="151.7" cy="739.8" r="3.2" fill="url(#sg)" stroke="#b8a818" stroke-width="0.5"/>
<circle cx="151.7" cy="764.2" r="3.2" fill="url(#sg)" stroke="#b8a818" stroke-width="0.5"/>
<circle cx="174.5" cy="739.8" r="3.2" fill="url(#sg)" stroke="#b8a818" stroke-width="0.5"/>
<circle cx="174.5" cy="764.2" r="3.2" fill="url(#sg)" stroke="#b8a818" stroke-width="0.5"/>
<circle cx="174.6" cy="739.8" r="3.2" fill="url(#sg)" stroke="#b8a818" stroke-width="0.5"/>
<circle cx="174.6" cy="764.2" r="3.2" fill="url(#sg)" stroke="#b8a818" stroke-width="0.5"/>
<circle cx="197.4" cy="739.8" r="3.2" fill="url(#sg)" stroke="#b8a818" stroke-width="0.5"/>
<circle cx="197.4" cy="764.2" r="3.2" fill="url(#sg)" stroke="#b8a818" stroke-width="0.5"/>
<circle cx="197.5" cy="739.8" r="3.2" fill="url(#sg)" stroke="#b8a818" stroke-width="0.5"/>
<circle cx="197.5" cy="764.2" r="3.2" fill="url(#sg)" stroke="#b8a818" stroke-width="0.5"/>
<circle cx="220.2" cy="739.8" r="3.2" fill="url(#sg)" stroke="#b8a818" stroke-width="0.5"/>
<circle cx="220.2" cy="764.2" r="3.2" fill="url(#sg)" stroke="#b8a818" stroke-width="0.5"/>
<circle cx="220.4" cy="739.8" r="3.2" fill="url(#sg)" stroke="#b8a818" stroke-width="0.5"/>
<circle cx="220.4" cy="764.2" r="3.2" fill="url(#sg)" stroke="#b8a818" stroke-width="0.5"/>
<circle cx="243.1" cy="739.8" r="3.2" fill="url(#sg)" stroke="#b8a818" stroke-width="0.5"/>
<circle cx="243.1" cy="764.2" r="3.2" fill="url(#sg)" stroke="#b8a818" stroke-width="0.5"/>
<circle cx="243.2" cy="739.8" r="3.2" fill="url(#sg)" stroke="#b8a818" stroke-width="0.5"/>
<circle cx="243.2" cy="764.2" r="3.2" fill="url(#sg)" stroke="#b8a818" stroke-width="0.5"/>
<circle cx="266.0" cy="739.8" r="3.2" fill="url(#sg)" stroke="#b8a818" stroke-width="0.5"/>
<circle cx="266.0" cy="764.2" r="3.2" fill="url(#sg)" stroke="#b8a818" stroke-width="0.5"/>
<circle cx="266.1" cy="739.8" r="3.2" fill="url(#sg)" stroke="#b8a818" stroke-width="0.5"/>
<circle cx="266.1" cy="764.2" r="3.2" fill="url(#sg)" stroke="#b8a818" stroke-width="0.5"/>
<circle cx="288.9" cy="739.8" r="3.2" fill="url(#sg)" stroke="#b8a818" stroke-width="0.5"/>
<circle cx="288.9" cy="764.2" r="3.2" fill="url(#sg)" stroke="#b8a818" stroke-width="0.5"/>
<circle cx="289.0" cy="739.8" r="3.2" fill="url(#sg)" stroke="#b8a818" stroke-width="0.5"/>
<circle cx="289.0" cy="764.2" r="3.2" fill="url(#sg)" stroke="#b8a818" stroke-width="0.5"/>
<circle cx="311.8" cy="739.8" r="3.2" fill="url(#sg)" stroke="#b8a818" stroke-width="0.5"/>
<circle cx="311.8" cy="764.2" r="3.2" fill="url(#sg)" stroke="#b8a818" stroke-width="0.5"/>
<circle cx="311.9" cy="739.8" r="3.2" fill="url(#sg)" stroke="#b8a818" stroke-width="0.5"/>
<circle cx="311.9" cy="764.2" r="3.2" fill="url(#sg)" stroke="#b8a818" stroke-width="0.5"/>
<circle cx="334.7" cy="739.8" r="3.2" fill="url(#sg)" stroke="#b8a818" stroke-width="0.5"/>
<circle cx="334.7" cy="764.2" r="3.2" fill="url(#sg)" stroke="#b8a818" stroke-width="0.5"/>
<circle cx="334.8" cy="739.8" r="3.2" fill="url(#sg)" stroke="#b8a818" stroke-width="0.5"/>
<circle cx="334.8" cy="764.2" r="3.2" fill="url(#sg)" stroke="#b8a818" stroke-width="0.5"/>
<circle cx="357.6" cy="739.8" r="3.2" fill="url(#sg)" stroke="#b8a818" stroke-width="0.5"/>
<circle cx="357.6" cy="764.2" r="3.2" fill="url(#sg)" stroke="#b8a818" stroke-width="0.5"/>
<circle cx="357.7" cy="739.8" r="3.2" fill="url(#sg)" stroke="#b8a818" stroke-width="0.5"/>
<circle cx="357.7" cy="764.2" r="3.2" fill="url(#sg)" stroke="#b8a818" stroke-width="0.5"/>
<circle cx="380.5" cy="739.8" r="3.2" fill="url(#sg)" stroke="#b8a818" stroke-width="0.5"/>
<circle cx="380.5" cy="764.2" r="3.2" fill="url(#sg)" stroke="#b8a818" stroke-width="0.5"/>
<circle cx="380.6" cy="739.8" r="3.2" fill="url(#sg)" stroke="#b8a818" stroke-width="0.5"/>
<circle cx="380.6" cy="764.2" r="3.2" fill="url(#sg)" stroke="#b8a818" stroke-width="0.5"/>
<circle cx="403.4" cy="739.8" r="3.2" fill="url(#sg)" stroke="#b8a818" stroke-width="0.5"/>
<circle cx="403.4" cy="764.2" r="3.2" fill="url(#sg)" stroke="#b8a818" stroke-width="0.5"/>
<circle cx="403.5" cy="739.8" r="3.2" fill="url(#sg)" stroke="#b8a818" stroke-width="0.5"/>
<circle cx="403.5" cy="764.2" r="3.2" fill="url(#sg)" stroke="#b8a818" stroke-width="0.5"/>
<circle cx="426.3" cy="739.8" r="3.2" fill="url(#sg)" stroke="#b8a818" stroke-width="0.5"/>
<circle cx="426.3" cy="764.2" r="3.2" fill="url(#sg)" stroke="#b8a818" stroke-width="0.5"/>
<circle cx="426.4" cy="739.8" r="3.2" fill="url(#sg)" stroke="#b8a818" stroke-width="0.5"/>
<circle cx="426.4" cy="764.2" r="3.2" fill="url(#sg)" stroke="#b8a818" stroke-width="0.5"/>
<circle cx="449.2" cy="739.8" r="3.2" fill="url(#sg)" stroke="#b8a818" stroke-width="0.5"/>
<circle cx="449.2" cy="764.2" r="3.2" fill="url(#sg)" stroke="#b8a818" stroke-width="0.5"/>
<circle cx="449.3" cy="739.8" r="3.2" fill="url(#sg)" stroke="#b8a818" stroke-width="0.5"/>
<circle cx="449.3" cy="764.2" r="3.2" fill="url(#sg)" stroke="#b8a818" stroke-width="0.5"/>
<circle cx="472.0" cy="739.8" r="3.2" fill="url(#sg)" stroke="#b8a818" stroke-width="0.5"/>
<circle cx="472.0" cy="764.2" r="3.2" fill="url(#sg)" stroke="#b8a818" stroke-width="0.5"/>
<circle cx="472.2" cy="739.8" r="3.2" fill="url(#sg)" stroke="#b8a818" stroke-width="0.5"/>
<circle cx="472.2" cy="764.2" r="3.2" fill="url(#sg)" stroke="#b8a818" stroke-width="0.5"/>
<circle cx="495.0" cy="739.8" r="3.2" fill="url(#sg)" stroke="#b8a818" stroke-width="0.5"/>
<circle cx="495.0" cy="764.2" r="3.2" fill="url(#sg)" stroke="#b8a818" stroke-width="0.5"/>
<circle cx="121.1" cy="752.0" r="4.8" fill="url(#nbg)" stroke="#2a6ab0" stroke-width="0.5"/>
<circle cx="144.0" cy="752.0" r="4.8" fill="url(#nbg)" stroke="#2a6ab0" stroke-width="0.5"/>
<circle cx="166.9" cy="752.0" r="4.8" fill="url(#nbg)" stroke="#2a6ab0" stroke-width="0.5"/>
<circle cx="189.8" cy="752.0" r="4.8" fill="url(#nbg)" stroke="#2a6ab0" stroke-width="0.5"/>
<circle cx="212.7" cy="752.0" r="4.8" fill="url(#nbg)" stroke="#2a6ab0" stroke-width="0.5"/>
<circle cx="235.6" cy="752.0" r="4.8" fill="url(#nbg)" stroke="#2a6ab0" stroke-width="0.5"/>
<circle cx="258.4" cy="752.0" r="4.8" fill="url(#nbg)" stroke="#2a6ab0" stroke-width="0.5"/>
<circle cx="281.3" cy="752.0" r="4.8" fill="url(#nbg)" stroke="#2a6ab0" stroke-width="0.5"/>
<circle cx="304.2" cy="752.0" r="4.8" fill="url(#nbg)" stroke="#2a6ab0" stroke-width="0.5"/>
<circle cx="327.1" cy="752.0" r="4.8" fill="url(#nbg)" stroke="#2a6ab0" stroke-width="0.5"/>
<circle cx="350.0" cy="752.0" r="4.8" fill="url(#nbg)" stroke="#2a6ab0" stroke-width="0.5"/>
<circle cx="372.9" cy="752.0" r="4.8" fill="url(#nbg)" stroke="#2a6ab0" stroke-width="0.5"/>
<circle cx="395.8" cy="752.0" r="4.8" fill="url(#nbg)" stroke="#2a6ab0" stroke-width="0.5"/>
<circle cx="418.7" cy="752.0" r="4.8" fill="url(#nbg)" stroke="#2a6ab0" stroke-width="0.5"/>
<circle cx="441.6" cy="752.0" r="4.8" fill="url(#nbg)" stroke="#2a6ab0" stroke-width="0.5"/>
<circle cx="464.5" cy="752.0" r="4.8" fill="url(#nbg)" stroke="#2a6ab0" stroke-width="0.5"/>
<circle cx="487.3" cy="752.0" r="4.8" fill="url(#nbg)" stroke="#2a6ab0" stroke-width="0.5"/>
<line x1="127.8" y1="716.2" x2="123.9" y2="710.1" stroke="#6aaae4" stroke-width="1.9"/>
<line x1="123.9" y1="710.1" x2="120.0" y2="704.0" stroke="#ece470" stroke-width="1.9"/>
<line x1="127.8" y1="716.2" x2="123.9" y2="722.3" stroke="#6aaae4" stroke-width="1.9"/>
<line x1="123.9" y1="722.3" x2="120.0" y2="728.4" stroke="#ece470" stroke-width="1.9"/>
<line x1="127.8" y1="716.2" x2="135.3" y2="710.1" stroke="#6aaae4" stroke-width="1.9"/>
<line x1="135.3" y1="710.1" x2="142.8" y2="704.0" stroke="#ece470" stroke-width="1.9"/>
<line x1="127.8" y1="716.2" x2="135.3" y2="722.3" stroke="#6aaae4" stroke-width="1.9"/>
<line x1="135.3" y1="722.3" x2="142.8" y2="728.4" stroke="#ece470" stroke-width="1.9"/>
<line x1="150.7" y1="716.2" x2="146.8" y2="710.1" stroke="#6aaae4" stroke-width="1.9"/>
<line x1="146.8" y1="710.1" x2="142.9" y2="704.0" stroke="#ece470" stroke-width="1.9"/>
<line x1="150.7" y1="716.2" x2="146.8" y2="722.3" stroke="#6aaae4" stroke-width="1.9"/>
<line x1="146.8" y1="722.3" x2="142.9" y2="728.4" stroke="#ece470" stroke-width="1.9"/>
<line x1="150.7" y1="716.2" x2="158.2" y2="710.1" stroke="#6aaae4" stroke-width="1.9"/>
<line x1="158.2" y1="710.1" x2="165.7" y2="704.0" stroke="#ece470" stroke-width="1.9"/>
<line x1="150.7" y1="716.2" x2="158.2" y2="722.3" stroke="#6aaae4" stroke-width="1.9"/>
<line x1="158.2" y1="722.3" x2="165.7" y2="728.4" stroke="#ece470" stroke-width="1.9"/>
<line x1="173.6" y1="716.2" x2="169.7" y2="710.1" stroke="#6aaae4" stroke-width="1.9"/>
<line x1="169.7" y1="710.1" x2="165.8" y2="704.0" stroke="#ece470" stroke-width="1.9"/>
<line x1="173.6" y1="716.2" x2="169.7" y2="722.3" stroke="#6aaae4" stroke-width="1.9"/>
<line x1="169.7" y1="722.3" x2="165.8" y2="728.4" stroke="#ece470" stroke-width="1.9"/>
<line x1="173.6" y1="716.2" x2="181.1" y2="710.1" stroke="#6aaae4" stroke-width="1.9"/>
<line x1="181.1" y1="710.1" x2="188.6" y2="704.0" stroke="#ece470" stroke-width="1.9"/>
<line x1="173.6" y1="716.2" x2="181.1" y2="722.3" stroke="#6aaae4" stroke-width="1.9"/>
<line x1="181.1" y1="722.3" x2="188.6" y2="728.4" stroke="#ece470" stroke-width="1.9"/>
<line x1="196.5" y1="716.2" x2="192.6" y2="710.1" stroke="#6aaae4" stroke-width="1.9"/>
<line x1="192.6" y1="710.1" x2="188.7" y2="704.0" stroke="#ece470" stroke-width="1.9"/>
<line x1="196.5" y1="716.2" x2="192.6" y2="722.3" stroke="#6aaae4" stroke-width="1.9"/>
<line x1="192.6" y1="722.3" x2="188.7" y2="728.4" stroke="#ece470" stroke-width="1.9"/>
<line x1="196.5" y1="716.2" x2="204.0" y2="710.1" stroke="#6aaae4" stroke-width="1.9"/>
<line x1="204.0" y1="710.1" x2="211.5" y2="704.0" stroke="#ece470" stroke-width="1.9"/>
<line x1="196.5" y1="716.2" x2="204.0" y2="722.3" stroke="#6aaae4" stroke-width="1.9"/>
<line x1="204.0" y1="722.3" x2="211.5" y2="728.4" stroke="#ece470" stroke-width="1.9"/>
<line x1="219.4" y1="716.2" x2="215.5" y2="710.1" stroke="#6aaae4" stroke-width="1.9"/>
<line x1="215.5" y1="710.1" x2="211.6" y2="704.0" stroke="#ece470" stroke-width="1.9"/>
<line x1="219.4" y1="716.2" x2="215.5" y2="722.3" stroke="#6aaae4" stroke-width="1.9"/>
<line x1="215.5" y1="722.3" x2="211.6" y2="728.4" stroke="#ece470" stroke-width="1.9"/>
<line x1="219.4" y1="716.2" x2="226.9" y2="710.1" stroke="#6aaae4" stroke-width="1.9"/>
<line x1="226.9" y1="710.1" x2="234.4" y2="704.0" stroke="#ece470" stroke-width="1.9"/>
<line x1="219.4" y1="716.2" x2="226.9" y2="722.3" stroke="#6aaae4" stroke-width="1.9"/>
<line x1="226.9" y1="722.3" x2="234.4" y2="728.4" stroke="#ece470" stroke-width="1.9"/>
<line x1="242.2" y1="716.2" x2="238.3" y2="710.1" stroke="#6aaae4" stroke-width="1.9"/>
<line x1="238.3" y1="710.1" x2="234.4" y2="704.0" stroke="#ece470" stroke-width="1.9"/>
<line x1="242.2" y1="716.2" x2="238.3" y2="722.3" stroke="#6aaae4" stroke-width="1.9"/>
<line x1="238.3" y1="722.3" x2="234.4" y2="728.4" stroke="#ece470" stroke-width="1.9"/>
<line x1="242.2" y1="716.2" x2="249.8" y2="710.1" stroke="#6aaae4" stroke-width="1.9"/>
<line x1="249.8" y1="710.1" x2="257.2" y2="704.0" stroke="#ece470" stroke-width="1.9"/>
<line x1="242.2" y1="716.2" x2="249.8" y2="722.3" stroke="#6aaae4" stroke-width="1.9"/>
<line x1="249.8" y1="722.3" x2="257.2" y2="728.4" stroke="#ece470" stroke-width="1.9"/>
<line x1="265.1" y1="716.2" x2="261.2" y2="710.1" stroke="#6aaae4" stroke-width="1.9"/>
<line x1="261.2" y1="710.1" x2="257.3" y2="704.0" stroke="#ece470" stroke-width="1.9"/>
<line x1="265.1" y1="716.2" x2="261.2" y2="722.3" stroke="#6aaae4" stroke-width="1.9"/>
<line x1="261.2" y1="722.3" x2="257.3" y2="728.4" stroke="#ece470" stroke-width="1.9"/>
<line x1="265.1" y1="716.2" x2="272.6" y2="710.1" stroke="#6aaae4" stroke-width="1.9"/>
<line x1="272.6" y1="710.1" x2="280.1" y2="704.0" stroke="#ece470" stroke-width="1.9"/>
<line x1="265.1" y1="716.2" x2="272.6" y2="722.3" stroke="#6aaae4" stroke-width="1.9"/>
<line x1="272.6" y1="722.3" x2="280.1" y2="728.4" stroke="#ece470" stroke-width="1.9"/>
<line x1="288.0" y1="716.2" x2="284.1" y2="710.1" stroke="#6aaae4" stroke-width="1.9"/>
<line x1="284.1" y1="710.1" x2="280.2" y2="704.0" stroke="#ece470" stroke-width="1.9"/>
<line x1="288.0" y1="716.2" x2="284.1" y2="722.3" stroke="#6aaae4" stroke-width="1.9"/>
<line x1="284.1" y1="722.3" x2="280.2" y2="728.4" stroke="#ece470" stroke-width="1.9"/>
<line x1="288.0" y1="716.2" x2="295.5" y2="710.1" stroke="#6aaae4" stroke-width="1.9"/>
<line x1="295.5" y1="710.1" x2="303.0" y2="704.0" stroke="#ece470" stroke-width="1.9"/>
<line x1="288.0" y1="716.2" x2="295.5" y2="722.3" stroke="#6aaae4" stroke-width="1.9"/>
<line x1="295.5" y1="722.3" x2="303.0" y2="728.4" stroke="#ece470" stroke-width="1.9"/>
<line x1="310.9" y1="716.2" x2="307.0" y2="710.1" stroke="#6aaae4" stroke-width="1.9"/>
<line x1="307.0" y1="710.1" x2="303.1" y2="704.0" stroke="#ece470" stroke-width="1.9"/>
<line x1="310.9" y1="716.2" x2="307.0" y2="722.3" stroke="#6aaae4" stroke-width="1.9"/>
<line x1="307.0" y1="722.3" x2="303.1" y2="728.4" stroke="#ece470" stroke-width="1.9"/>
<line x1="310.9" y1="716.2" x2="318.4" y2="710.1" stroke="#6aaae4" stroke-width="1.9"/>
<line x1="318.4" y1="710.1" x2="325.9" y2="704.0" stroke="#ece470" stroke-width="1.9"/>
<line x1="310.9" y1="716.2" x2="318.4" y2="722.3" stroke="#6aaae4" stroke-width="1.9"/>
<line x1="318.4" y1="722.3" x2="325.9" y2="728.4" stroke="#ece470" stroke-width="1.9"/>
<line x1="333.8" y1="716.2" x2="329.9" y2="710.1" stroke="#6aaae4" stroke-width="1.9"/>
<line x1="329.9" y1="710.1" x2="326.0" y2="704.0" stroke="#ece470" stroke-width="1.9"/>
<line x1="333.8" y1="716.2" x2="329.9" y2="722.3" stroke="#6aaae4" stroke-width="1.9"/>
<line x1="329.9" y1="722.3" x2="326.0" y2="728.4" stroke="#ece470" stroke-width="1.9"/>
<line x1="333.8" y1="716.2" x2="341.3" y2="710.1" stroke="#6aaae4" stroke-width="1.9"/>
<line x1="341.3" y1="710.1" x2="348.8" y2="704.0" stroke="#ece470" stroke-width="1.9"/>
<line x1="333.8" y1="716.2" x2="341.3" y2="722.3" stroke="#6aaae4" stroke-width="1.9"/>
<line x1="341.3" y1="722.3" x2="348.8" y2="728.4" stroke="#ece470" stroke-width="1.9"/>
<line x1="356.7" y1="716.2" x2="352.8" y2="710.1" stroke="#6aaae4" stroke-width="1.9"/>
<line x1="352.8" y1="710.1" x2="348.9" y2="704.0" stroke="#ece470" stroke-width="1.9"/>
<line x1="356.7" y1="716.2" x2="352.8" y2="722.3" stroke="#6aaae4" stroke-width="1.9"/>
<line x1="352.8" y1="722.3" x2="348.9" y2="728.4" stroke="#ece470" stroke-width="1.9"/>
<line x1="356.7" y1="716.2" x2="364.2" y2="710.1" stroke="#6aaae4" stroke-width="1.9"/>
<line x1="364.2" y1="710.1" x2="371.7" y2="704.0" stroke="#ece470" stroke-width="1.9"/>
<line x1="356.7" y1="716.2" x2="364.2" y2="722.3" stroke="#6aaae4" stroke-width="1.9"/>
<line x1="364.2" y1="722.3" x2="371.7" y2="728.4" stroke="#ece470" stroke-width="1.9"/>
<line x1="379.6" y1="716.2" x2="375.7" y2="710.1" stroke="#6aaae4" stroke-width="1.9"/>
<line x1="375.7" y1="710.1" x2="371.8" y2="704.0" stroke="#ece470" stroke-width="1.9"/>
<line x1="379.6" y1="716.2" x2="375.7" y2="722.3" stroke="#6aaae4" stroke-width="1.9"/>
<line x1="375.7" y1="722.3" x2="371.8" y2="728.4" stroke="#ece470" stroke-width="1.9"/>
<line x1="379.6" y1="716.2" x2="387.1" y2="710.1" stroke="#6aaae4" stroke-width="1.9"/>
<line x1="387.1" y1="710.1" x2="394.6" y2="704.0" stroke="#ece470" stroke-width="1.9"/>
<line x1="379.6" y1="716.2" x2="387.1" y2="722.3" stroke="#6aaae4" stroke-width="1.9"/>
<line x1="387.1" y1="722.3" x2="394.6" y2="728.4" stroke="#ece470" stroke-width="1.9"/>
<line x1="402.5" y1="716.2" x2="398.6" y2="710.1" stroke="#6aaae4" stroke-width="1.9"/>
<line x1="398.6" y1="710.1" x2="394.7" y2="704.0" stroke="#ece470" stroke-width="1.9"/>
<line x1="402.5" y1="716.2" x2="398.6" y2="722.3" stroke="#6aaae4" stroke-width="1.9"/>
<line x1="398.6" y1="722.3" x2="394.7" y2="728.4" stroke="#ece470" stroke-width="1.9"/>
<line x1="402.5" y1="716.2" x2="410.0" y2="710.1" stroke="#6aaae4" stroke-width="1.9"/>
<line x1="410.0" y1="710.1" x2="417.5" y2="704.0" stroke="#ece470" stroke-width="1.9"/>
<line x1="402.5" y1="716.2" x2="410.0" y2="722.3" stroke="#6aaae4" stroke-width="1.9"/>
<line x1="410.0" y1="722.3" x2="417.5" y2="728.4" stroke="#ece470" stroke-width="1.9"/>
<line x1="425.4" y1="716.2" x2="421.5" y2="710.1" stroke="#6aaae4" stroke-width="1.9"/>
<line x1="421.5" y1="710.1" x2="417.6" y2="704.0" stroke="#ece470" stroke-width="1.9"/>
<line x1="425.4" y1="716.2" x2="421.5" y2="722.3" stroke="#6aaae4" stroke-width="1.9"/>
<line x1="421.5" y1="722.3" x2="417.6" y2="728.4" stroke="#ece470" stroke-width="1.9"/>
<line x1="425.4" y1="716.2" x2="432.9" y2="710.1" stroke="#6aaae4" stroke-width="1.9"/>
<line x1="432.9" y1="710.1" x2="440.4" y2="704.0" stroke="#ece470" stroke-width="1.9"/>
<line x1="425.4" y1="716.2" x2="432.9" y2="722.3" stroke="#6aaae4" stroke-width="1.9"/>
<line x1="432.9" y1="722.3" x2="440.4" y2="728.4" stroke="#ece470" stroke-width="1.9"/>
<line x1="448.3" y1="716.2" x2="444.4" y2="710.1" stroke="#6aaae4" stroke-width="1.9"/>
<line x1="444.4" y1="710.1" x2="440.5" y2="704.0" stroke="#ece470" stroke-width="1.9"/>
<line x1="448.3" y1="716.2" x2="444.4" y2="722.3" stroke="#6aaae4" stroke-width="1.9"/>
<line x1="444.4" y1="722.3" x2="440.5" y2="728.4" stroke="#ece470" stroke-width="1.9"/>
<line x1="448.3" y1="716.2" x2="455.8" y2="710.1" stroke="#6aaae4" stroke-width="1.9"/>
<line x1="455.8" y1="710.1" x2="463.3" y2="704.0" stroke="#ece470" stroke-width="1.9"/>
<line x1="448.3" y1="716.2" x2="455.8" y2="722.3" stroke="#6aaae4" stroke-width="1.9"/>
<line x1="455.8" y1="722.3" x2="463.3" y2="728.4" stroke="#ece470" stroke-width="1.9"/>
<line x1="471.2" y1="716.2" x2="467.2" y2="710.1" stroke="#6aaae4" stroke-width="1.9"/>
<line x1="467.2" y1="710.1" x2="463.4" y2="704.0" stroke="#ece470" stroke-width="1.9"/>
<line x1="471.2" y1="716.2" x2="467.2" y2="722.3" stroke="#6aaae4" stroke-width="1.9"/>
<line x1="467.2" y1="722.3" x2="463.4" y2="728.4" stroke="#ece470" stroke-width="1.9"/>
<line x1="471.2" y1="716.2" x2="478.7" y2="710.1" stroke="#6aaae4" stroke-width="1.9"/>
<line x1="478.7" y1="710.1" x2="486.2" y2="704.0" stroke="#ece470" stroke-width="1.9"/>
<line x1="471.2" y1="716.2" x2="478.7" y2="722.3" stroke="#6aaae4" stroke-width="1.9"/>
<line x1="478.7" y1="722.3" x2="486.2" y2="728.4" stroke="#ece470" stroke-width="1.9"/>
<line x1="494.0" y1="716.2" x2="490.1" y2="710.1" stroke="#6aaae4" stroke-width="1.9"/>
<line x1="490.1" y1="710.1" x2="486.2" y2="704.0" stroke="#ece470" stroke-width="1.9"/>
<line x1="494.0" y1="716.2" x2="490.1" y2="722.3" stroke="#6aaae4" stroke-width="1.9"/>
<line x1="490.1" y1="722.3" x2="486.2" y2="728.4" stroke="#ece470" stroke-width="1.9"/>
<line x1="494.0" y1="716.2" x2="501.5" y2="710.1" stroke="#6aaae4" stroke-width="1.9"/>
<line x1="501.5" y1="710.1" x2="509.0" y2="704.0" stroke="#ece470" stroke-width="1.9"/>
<line x1="494.0" y1="716.2" x2="501.5" y2="722.3" stroke="#6aaae4" stroke-width="1.9"/>
<line x1="501.5" y1="722.3" x2="509.0" y2="728.4" stroke="#ece470" stroke-width="1.9"/>
<circle cx="120.0" cy="704.0" r="3.2" fill="url(#sg)" stroke="#b8a818" stroke-width="0.5"/>
<circle cx="120.0" cy="728.4" r="3.2" fill="url(#sg)" stroke="#b8a818" stroke-width="0.5"/>
<circle cx="142.8" cy="704.0" r="3.2" fill="url(#sg)" stroke="#b8a818" stroke-width="0.5"/>
<circle cx="142.8" cy="728.4" r="3.2" fill="url(#sg)" stroke="#b8a818" stroke-width="0.5"/>
<circle cx="142.9" cy="704.0" r="3.2" fill="url(#sg)" stroke="#b8a818" stroke-width="0.5"/>
<circle cx="142.9" cy="728.4" r="3.2" fill="url(#sg)" stroke="#b8a818" stroke-width="0.5"/>
<circle cx="165.7" cy="704.0" r="3.2" fill="url(#sg)" stroke="#b8a818" stroke-width="0.5"/>
<circle cx="165.7" cy="728.4" r="3.2" fill="url(#sg)" stroke="#b8a818" stroke-width="0.5"/>
<circle cx="165.8" cy="704.0" r="3.2" fill="url(#sg)" stroke="#b8a818" stroke-width="0.5"/>
<circle cx="165.8" cy="728.4" r="3.2" fill="url(#sg)" stroke="#b8a818" stroke-width="0.5"/>
<circle cx="188.6" cy="704.0" r="3.2" fill="url(#sg)" stroke="#b8a818" stroke-width="0.5"/>
<circle cx="188.6" cy="728.4" r="3.2" fill="url(#sg)" stroke="#b8a818" stroke-width="0.5"/>
<circle cx="188.7" cy="704.0" r="3.2" fill="url(#sg)" stroke="#b8a818" stroke-width="0.5"/>
<circle cx="188.7" cy="728.4" r="3.2" fill="url(#sg)" stroke="#b8a818" stroke-width="0.5"/>
<circle cx="211.5" cy="704.0" r="3.2" fill="url(#sg)" stroke="#b8a818" stroke-width="0.5"/>
<circle cx="211.5" cy="728.4" r="3.2" fill="url(#sg)" stroke="#b8a818" stroke-width="0.5"/>
<circle cx="211.6" cy="704.0" r="3.2" fill="url(#sg)" stroke="#b8a818" stroke-width="0.5"/>
<circle cx="211.6" cy="728.4" r="3.2" fill="url(#sg)" stroke="#b8a818" stroke-width="0.5"/>
<circle cx="234.4" cy="704.0" r="3.2" fill="url(#sg)" stroke="#b8a818" stroke-width="0.5"/>
<circle cx="234.4" cy="728.4" r="3.2" fill="url(#sg)" stroke="#b8a818" stroke-width="0.5"/>
<circle cx="257.2" cy="704.0" r="3.2" fill="url(#sg)" stroke="#b8a818" stroke-width="0.5"/>
<circle cx="257.2" cy="728.4" r="3.2" fill="url(#sg)" stroke="#b8a818" stroke-width="0.5"/>
<circle cx="257.3" cy="704.0" r="3.2" fill="url(#sg)" stroke="#b8a818" stroke-width="0.5"/>
<circle cx="257.3" cy="728.4" r="3.2" fill="url(#sg)" stroke="#b8a818" stroke-width="0.5"/>
<circle cx="280.1" cy="704.0" r="3.2" fill="url(#sg)" stroke="#b8a818" stroke-width="0.5"/>
<circle cx="280.1" cy="728.4" r="3.2" fill="url(#sg)" stroke="#b8a818" stroke-width="0.5"/>
<circle cx="280.2" cy="704.0" r="3.2" fill="url(#sg)" stroke="#b8a818" stroke-width="0.5"/>
<circle cx="280.2" cy="728.4" r="3.2" fill="url(#sg)" stroke="#b8a818" stroke-width="0.5"/>
<circle cx="303.0" cy="704.0" r="3.2" fill="url(#sg)" stroke="#b8a818" stroke-width="0.5"/>
<circle cx="303.0" cy="728.4" r="3.2" fill="url(#sg)" stroke="#b8a818" stroke-width="0.5"/>
<circle cx="303.1" cy="704.0" r="3.2" fill="url(#sg)" stroke="#b8a818" stroke-width="0.5"/>
<circle cx="303.1" cy="728.4" r="3.2" fill="url(#sg)" stroke="#b8a818" stroke-width="0.5"/>
<circle cx="325.9" cy="704.0" r="3.2" fill="url(#sg)" stroke="#b8a818" stroke-width="0.5"/>
<circle cx="325.9" cy="728.4" r="3.2" fill="url(#sg)" stroke="#b8a818" stroke-width="0.5"/>
<circle cx="326.0" cy="704.0" r="3.2" fill="url(#sg)" stroke="#b8a818" stroke-width="0.5"/>
<circle cx="326.0" cy="728.4" r="3.2" fill="url(#sg)" stroke="#b8a818" stroke-width="0.5"/>
<circle cx="348.8" cy="704.0" r="3.2" fill="url(#sg)" stroke="#b8a818" stroke-width="0.5"/>
<circle cx="348.8" cy="728.4" r="3.2" fill="url(#sg)" stroke="#b8a818" stroke-width="0.5"/>
<circle cx="348.9" cy="704.0" r="3.2" fill="url(#sg)" stroke="#b8a818" stroke-width="0.5"/>
<circle cx="348.9" cy="728.4" r="3.2" fill="url(#sg)" stroke="#b8a818" stroke-width="0.5"/>
<circle cx="371.7" cy="704.0" r="3.2" fill="url(#sg)" stroke="#b8a818" stroke-width="0.5"/>
<circle cx="371.7" cy="728.4" r="3.2" fill="url(#sg)" stroke="#b8a818" stroke-width="0.5"/>
<circle cx="371.8" cy="704.0" r="3.2" fill="url(#sg)" stroke="#b8a818" stroke-width="0.5"/>
<circle cx="371.8" cy="728.4" r="3.2" fill="url(#sg)" stroke="#b8a818" stroke-width="0.5"/>
<circle cx="394.6" cy="704.0" r="3.2" fill="url(#sg)" stroke="#b8a818" stroke-width="0.5"/>
<circle cx="394.6" cy="728.4" r="3.2" fill="url(#sg)" stroke="#b8a818" stroke-width="0.5"/>
<circle cx="394.7" cy="704.0" r="3.2" fill="url(#sg)" stroke="#b8a818" stroke-width="0.5"/>
<circle cx="394.7" cy="728.4" r="3.2" fill="url(#sg)" stroke="#b8a818" stroke-width="0.5"/>
<circle cx="417.5" cy="704.0" r="3.2" fill="url(#sg)" stroke="#b8a818" stroke-width="0.5"/>
<circle cx="417.5" cy="728.4" r="3.2" fill="url(#sg)" stroke="#b8a818" stroke-width="0.5"/>
<circle cx="417.6" cy="704.0" r="3.2" fill="url(#sg)" stroke="#b8a818" stroke-width="0.5"/>
<circle cx="417.6" cy="728.4" r="3.2" fill="url(#sg)" stroke="#b8a818" stroke-width="0.5"/>
<circle cx="440.4" cy="704.0" r="3.2" fill="url(#sg)" stroke="#b8a818" stroke-width="0.5"/>
<circle cx="440.4" cy="728.4" r="3.2" fill="url(#sg)" stroke="#b8a818" stroke-width="0.5"/>
<circle cx="440.5" cy="704.0" r="3.2" fill="url(#sg)" stroke="#b8a818" stroke-width="0.5"/>
<circle cx="440.5" cy="728.4" r="3.2" fill="url(#sg)" stroke="#b8a818" stroke-width="0.5"/>
<circle cx="463.3" cy="704.0" r="3.2" fill="url(#sg)" stroke="#b8a818" stroke-width="0.5"/>
<circle cx="463.3" cy="728.4" r="3.2" fill="url(#sg)" stroke="#b8a818" stroke-width="0.5"/>
<circle cx="463.4" cy="704.0" r="3.2" fill="url(#sg)" stroke="#b8a818" stroke-width="0.5"/>
<circle cx="463.4" cy="728.4" r="3.2" fill="url(#sg)" stroke="#b8a818" stroke-width="0.5"/>
<circle cx="486.2" cy="704.0" r="3.2" fill="url(#sg)" stroke="#b8a818" stroke-width="0.5"/>
<circle cx="486.2" cy="728.4" r="3.2" fill="url(#sg)" stroke="#b8a818" stroke-width="0.5"/>
<circle cx="509.0" cy="704.0" r="3.2" fill="url(#sg)" stroke="#b8a818" stroke-width="0.5"/>
<circle cx="509.0" cy="728.4" r="3.2" fill="url(#sg)" stroke="#b8a818" stroke-width="0.5"/>
<circle cx="127.8" cy="716.2" r="4.8" fill="url(#nbg)" stroke="#2a6ab0" stroke-width="0.5"/>
<circle cx="150.7" cy="716.2" r="4.8" fill="url(#nbg)" stroke="#2a6ab0" stroke-width="0.5"/>
<circle cx="173.6" cy="716.2" r="4.8" fill="url(#nbg)" stroke="#2a6ab0" stroke-width="0.5"/>
<circle cx="196.5" cy="716.2" r="4.8" fill="url(#nbg)" stroke="#2a6ab0" stroke-width="0.5"/>
<circle cx="219.4" cy="716.2" r="4.8" fill="url(#nbg)" stroke="#2a6ab0" stroke-width="0.5"/>
<circle cx="242.2" cy="716.2" r="4.8" fill="url(#nbg)" stroke="#2a6ab0" stroke-width="0.5"/>
<circle cx="265.1" cy="716.2" r="4.8" fill="url(#nbg)" stroke="#2a6ab0" stroke-width="0.5"/>
<circle cx="288.0" cy="716.2" r="4.8" fill="url(#nbg)" stroke="#2a6ab0" stroke-width="0.5"/>
<circle cx="310.9" cy="716.2" r="4.8" fill="url(#nbg)" stroke="#2a6ab0" stroke-width="0.5"/>
<circle cx="333.8" cy="716.2" r="4.8" fill="url(#nbg)" stroke="#2a6ab0" stroke-width="0.5"/>
<circle cx="356.7" cy="716.2" r="4.8" fill="url(#nbg)" stroke="#2a6ab0" stroke-width="0.5"/>
<circle cx="379.6" cy="716.2" r="4.8" fill="url(#nbg)" stroke="#2a6ab0" stroke-width="0.5"/>
<circle cx="402.5" cy="716.2" r="4.8" fill="url(#nbg)" stroke="#2a6ab0" stroke-width="0.5"/>
<circle cx="425.4" cy="716.2" r="4.8" fill="url(#nbg)" stroke="#2a6ab0" stroke-width="0.5"/>
<circle cx="448.3" cy="716.2" r="4.8" fill="url(#nbg)" stroke="#2a6ab0" stroke-width="0.5"/>
<circle cx="471.2" cy="716.2" r="4.8" fill="url(#nbg)" stroke="#2a6ab0" stroke-width="0.5"/>
<circle cx="494.0" cy="716.2" r="4.8" fill="url(#nbg)" stroke="#2a6ab0" stroke-width="0.5"/>
<line x1="169.0" y1="680.0" x2="161.3" y2="673.9" stroke="#6aaae4" stroke-width="1.9"/>
<line x1="161.3" y1="673.9" x2="153.7" y2="667.8" stroke="#ece470" stroke-width="1.9"/>
<line x1="169.0" y1="680.0" x2="161.3" y2="686.1" stroke="#6aaae4" stroke-width="1.9"/>
<line x1="161.3" y1="686.1" x2="153.7" y2="692.2" stroke="#ece470" stroke-width="1.9"/>
<line x1="169.0" y1="680.0" x2="172.7" y2="673.9" stroke="#6aaae4" stroke-width="1.9"/>
<line x1="172.7" y1="673.9" x2="176.3" y2="667.8" stroke="#ece470" stroke-width="1.9"/>
<line x1="169.0" y1="680.0" x2="172.7" y2="686.1" stroke="#6aaae4" stroke-width="1.9"/>
<line x1="172.7" y1="686.1" x2="176.3" y2="692.2" stroke="#ece470" stroke-width="1.9"/>
<line x1="191.4" y1="680.0" x2="183.8" y2="673.9" stroke="#6aaae4" stroke-width="1.9"/>
<line x1="183.8" y1="673.9" x2="176.1" y2="667.8" stroke="#ece470" stroke-width="1.9"/>
<line x1="191.4" y1="680.0" x2="183.8" y2="686.1" stroke="#6aaae4" stroke-width="1.9"/>
<line x1="183.8" y1="686.1" x2="176.1" y2="692.2" stroke="#ece470" stroke-width="1.9"/>
<line x1="191.4" y1="680.0" x2="195.1" y2="673.9" stroke="#6aaae4" stroke-width="1.9"/>
<line x1="195.1" y1="673.9" x2="198.7" y2="667.8" stroke="#ece470" stroke-width="1.9"/>
<line x1="191.4" y1="680.0" x2="195.1" y2="686.1" stroke="#6aaae4" stroke-width="1.9"/>
<line x1="195.1" y1="686.1" x2="198.7" y2="692.2" stroke="#ece470" stroke-width="1.9"/>
<line x1="213.9" y1="680.0" x2="206.2" y2="673.9" stroke="#6aaae4" stroke-width="1.9"/>
<line x1="206.2" y1="673.9" x2="198.6" y2="667.8" stroke="#ece470" stroke-width="1.9"/>
<line x1="213.9" y1="680.0" x2="206.2" y2="686.1" stroke="#6aaae4" stroke-width="1.9"/>
<line x1="206.2" y1="686.1" x2="198.6" y2="692.2" stroke="#ece470" stroke-width="1.9"/>
<line x1="213.9" y1="680.0" x2="217.5" y2="673.9" stroke="#6aaae4" stroke-width="1.9"/>
<line x1="217.5" y1="673.9" x2="221.2" y2="667.8" stroke="#ece470" stroke-width="1.9"/>
<line x1="213.9" y1="680.0" x2="217.5" y2="686.1" stroke="#6aaae4" stroke-width="1.9"/>
<line x1="217.5" y1="686.1" x2="221.2" y2="692.2" stroke="#ece470" stroke-width="1.9"/>
<line x1="236.3" y1="680.0" x2="228.7" y2="673.9" stroke="#6aaae4" stroke-width="1.9"/>
<line x1="228.7" y1="673.9" x2="221.0" y2="667.8" stroke="#ece470" stroke-width="1.9"/>
<line x1="236.3" y1="680.0" x2="228.7" y2="686.1" stroke="#6aaae4" stroke-width="1.9"/>
<line x1="228.7" y1="686.1" x2="221.0" y2="692.2" stroke="#ece470" stroke-width="1.9"/>
<line x1="236.3" y1="680.0" x2="240.0" y2="673.9" stroke="#6aaae4" stroke-width="1.9"/>
<line x1="240.0" y1="673.9" x2="243.6" y2="667.8" stroke="#ece470" stroke-width="1.9"/>
<line x1="236.3" y1="680.0" x2="240.0" y2="686.1" stroke="#6aaae4" stroke-width="1.9"/>
<line x1="240.0" y1="686.1" x2="243.6" y2="692.2" stroke="#ece470" stroke-width="1.9"/>
<line x1="258.8" y1="680.0" x2="251.1" y2="673.9" stroke="#6aaae4" stroke-width="1.9"/>
<line x1="251.1" y1="673.9" x2="243.5" y2="667.8" stroke="#ece470" stroke-width="1.9"/>
<line x1="258.8" y1="680.0" x2="251.1" y2="686.1" stroke="#6aaae4" stroke-width="1.9"/>
<line x1="251.1" y1="686.1" x2="243.5" y2="692.2" stroke="#ece470" stroke-width="1.9"/>
<line x1="258.8" y1="680.0" x2="262.4" y2="673.9" stroke="#6aaae4" stroke-width="1.9"/>
<line x1="262.4" y1="673.9" x2="266.1" y2="667.8" stroke="#ece470" stroke-width="1.9"/>
<line x1="258.8" y1="680.0" x2="262.4" y2="686.1" stroke="#6aaae4" stroke-width="1.9"/>
<line x1="262.4" y1="686.1" x2="266.1" y2="692.2" stroke="#ece470" stroke-width="1.9"/>
<line x1="281.2" y1="680.0" x2="273.5" y2="673.9" stroke="#6aaae4" stroke-width="1.9"/>
<line x1="273.5" y1="673.9" x2="265.9" y2="667.8" stroke="#ece470" stroke-width="1.9"/>
<line x1="281.2" y1="680.0" x2="273.5" y2="686.1" stroke="#6aaae4" stroke-width="1.9"/>
<line x1="273.5" y1="686.1" x2="265.9" y2="692.2" stroke="#ece470" stroke-width="1.9"/>
<line x1="281.2" y1="680.0" x2="284.9" y2="673.9" stroke="#6aaae4" stroke-width="1.9"/>
<line x1="284.9" y1="673.9" x2="288.5" y2="667.8" stroke="#ece470" stroke-width="1.9"/>
<line x1="281.2" y1="680.0" x2="284.9" y2="686.1" stroke="#6aaae4" stroke-width="1.9"/>
<line x1="284.9" y1="686.1" x2="288.5" y2="692.2" stroke="#ece470" stroke-width="1.9"/>
<circle cx="153.7" cy="667.8" r="3.2" fill="url(#sg)" stroke="#b8a818" stroke-width="0.5"/>
<circle cx="153.7" cy="692.2" r="3.2" fill="url(#sg)" stroke="#b8a818" stroke-width="0.5"/>
<circle cx="176.1" cy="667.8" r="3.2" fill="url(#sg)" stroke="#b8a818" stroke-width="0.5"/>
<circle cx="176.1" cy="692.2" r="3.2" fill="url(#sg)" stroke="#b8a818" stroke-width="0.5"/>
<circle cx="176.3" cy="667.8" r="3.2" fill="url(#sg)" stroke="#b8a818" stroke-width="0.5"/>
<circle cx="176.3" cy="692.2" r="3.2" fill="url(#sg)" stroke="#b8a818" stroke-width="0.5"/>
<circle cx="198.6" cy="667.8" r="3.2" fill="url(#sg)" stroke="#b8a818" stroke-width="0.5"/>
<circle cx="198.6" cy="692.2" r="3.2" fill="url(#sg)" stroke="#b8a818" stroke-width="0.5"/>
<circle cx="198.7" cy="667.8" r="3.2" fill="url(#sg)" stroke="#b8a818" stroke-width="0.5"/>
<circle cx="198.7" cy="692.2" r="3.2" fill="url(#sg)" stroke="#b8a818" stroke-width="0.5"/>
<circle cx="221.0" cy="667.8" r="3.2" fill="url(#sg)" stroke="#b8a818" stroke-width="0.5"/>
<circle cx="221.0" cy="692.2" r="3.2" fill="url(#sg)" stroke="#b8a818" stroke-width="0.5"/>
<circle cx="221.2" cy="667.8" r="3.2" fill="url(#sg)" stroke="#b8a818" stroke-width="0.5"/>
<circle cx="221.2" cy="692.2" r="3.2" fill="url(#sg)" stroke="#b8a818" stroke-width="0.5"/>
<circle cx="243.5" cy="667.8" r="3.2" fill="url(#sg)" stroke="#b8a818" stroke-width="0.5"/>
<circle cx="243.5" cy="692.2" r="3.2" fill="url(#sg)" stroke="#b8a818" stroke-width="0.5"/>
<circle cx="243.6" cy="667.8" r="3.2" fill="url(#sg)" stroke="#b8a818" stroke-width="0.5"/>
<circle cx="243.6" cy="692.2" r="3.2" fill="url(#sg)" stroke="#b8a818" stroke-width="0.5"/>
<circle cx="265.9" cy="667.8" r="3.2" fill="url(#sg)" stroke="#b8a818" stroke-width="0.5"/>
<circle cx="265.9" cy="692.2" r="3.2" fill="url(#sg)" stroke="#b8a818" stroke-width="0.5"/>
<circle cx="266.1" cy="667.8" r="3.2" fill="url(#sg)" stroke="#b8a818" stroke-width="0.5"/>
<circle cx="266.1" cy="692.2" r="3.2" fill="url(#sg)" stroke="#b8a818" stroke-width="0.5"/>
<circle cx="288.5" cy="667.8" r="3.2" fill="url(#sg)" stroke="#b8a818" stroke-width="0.5"/>
<circle cx="288.5" cy="692.2" r="3.2" fill="url(#sg)" stroke="#b8a818" stroke-width="0.5"/>
<circle cx="169.0" cy="680.0" r="4.8" fill="url(#nbg)" stroke="#2a6ab0" stroke-width="0.5"/>
<circle cx="191.4" cy="680.0" r="4.8" fill="url(#nbg)" stroke="#2a6ab0" stroke-width="0.5"/>
<circle cx="213.9" cy="680.0" r="4.8" fill="url(#nbg)" stroke="#2a6ab0" stroke-width="0.5"/>
<circle cx="236.3" cy="680.0" r="4.8" fill="url(#nbg)" stroke="#2a6ab0" stroke-width="0.5"/>
<circle cx="258.8" cy="680.0" r="4.8" fill="url(#nbg)" stroke="#2a6ab0" stroke-width="0.5"/>
<circle cx="281.2" cy="680.0" r="4.8" fill="url(#nbg)" stroke="#2a6ab0" stroke-width="0.5"/>
<line x1="353.6" y1="678.8" x2="346.0" y2="672.7" stroke="#6aaae4" stroke-width="1.9"/>
<line x1="346.0" y1="672.7" x2="338.3" y2="666.6" stroke="#ece470" stroke-width="1.9"/>
<line x1="353.6" y1="678.8" x2="346.0" y2="684.9" stroke="#6aaae4" stroke-width="1.9"/>
<line x1="346.0" y1="684.9" x2="338.3" y2="691.0" stroke="#ece470" stroke-width="1.9"/>
<line x1="353.6" y1="678.8" x2="357.2" y2="672.7" stroke="#6aaae4" stroke-width="1.9"/>
<line x1="357.2" y1="672.7" x2="360.9" y2="666.6" stroke="#ece470" stroke-width="1.9"/>
<line x1="353.6" y1="678.8" x2="357.2" y2="684.9" stroke="#6aaae4" stroke-width="1.9"/>
<line x1="357.2" y1="684.9" x2="360.9" y2="691.0" stroke="#ece470" stroke-width="1.9"/>
<line x1="376.0" y1="678.8" x2="368.3" y2="672.7" stroke="#6aaae4" stroke-width="1.9"/>
<line x1="368.3" y1="672.7" x2="360.7" y2="666.6" stroke="#ece470" stroke-width="1.9"/>
<line x1="376.0" y1="678.8" x2="368.3" y2="684.9" stroke="#6aaae4" stroke-width="1.9"/>
<line x1="368.3" y1="684.9" x2="360.7" y2="691.0" stroke="#ece470" stroke-width="1.9"/>
<line x1="376.0" y1="678.8" x2="379.6" y2="672.7" stroke="#6aaae4" stroke-width="1.9"/>
<line x1="379.6" y1="672.7" x2="383.3" y2="666.6" stroke="#ece470" stroke-width="1.9"/>
<line x1="376.0" y1="678.8" x2="379.6" y2="684.9" stroke="#6aaae4" stroke-width="1.9"/>
<line x1="379.6" y1="684.9" x2="383.3" y2="691.0" stroke="#ece470" stroke-width="1.9"/>
<line x1="398.4" y1="678.8" x2="390.7" y2="672.7" stroke="#6aaae4" stroke-width="1.9"/>
<line x1="390.7" y1="672.7" x2="383.1" y2="666.6" stroke="#ece470" stroke-width="1.9"/>
<line x1="398.4" y1="678.8" x2="390.7" y2="684.9" stroke="#6aaae4" stroke-width="1.9"/>
<line x1="390.7" y1="684.9" x2="383.1" y2="691.0" stroke="#ece470" stroke-width="1.9"/>
<line x1="398.4" y1="678.8" x2="402.0" y2="672.7" stroke="#6aaae4" stroke-width="1.9"/>
<line x1="402.0" y1="672.7" x2="405.7" y2="666.6" stroke="#ece470" stroke-width="1.9"/>
<line x1="398.4" y1="678.8" x2="402.0" y2="684.9" stroke="#6aaae4" stroke-width="1.9"/>
<line x1="402.0" y1="684.9" x2="405.7" y2="691.0" stroke="#ece470" stroke-width="1.9"/>
<line x1="420.7" y1="678.8" x2="413.1" y2="672.7" stroke="#6aaae4" stroke-width="1.9"/>
<line x1="413.1" y1="672.7" x2="405.4" y2="666.6" stroke="#ece470" stroke-width="1.9"/>
<line x1="420.7" y1="678.8" x2="413.1" y2="684.9" stroke="#6aaae4" stroke-width="1.9"/>
<line x1="413.1" y1="684.9" x2="405.4" y2="691.0" stroke="#ece470" stroke-width="1.9"/>
<line x1="420.7" y1="678.8" x2="424.4" y2="672.7" stroke="#6aaae4" stroke-width="1.9"/>
<line x1="424.4" y1="672.7" x2="428.0" y2="666.6" stroke="#ece470" stroke-width="1.9"/>
<line x1="420.7" y1="678.8" x2="424.4" y2="684.9" stroke="#6aaae4" stroke-width="1.9"/>
<line x1="424.4" y1="684.9" x2="428.0" y2="691.0" stroke="#ece470" stroke-width="1.9"/>
<line x1="443.1" y1="678.8" x2="435.5" y2="672.7" stroke="#6aaae4" stroke-width="1.9"/>
<line x1="435.5" y1="672.7" x2="427.8" y2="666.6" stroke="#ece470" stroke-width="1.9"/>
<line x1="443.1" y1="678.8" x2="435.5" y2="684.9" stroke="#6aaae4" stroke-width="1.9"/>
<line x1="435.5" y1="684.9" x2="427.8" y2="691.0" stroke="#ece470" stroke-width="1.9"/>
<line x1="443.1" y1="678.8" x2="446.8" y2="672.7" stroke="#6aaae4" stroke-width="1.9"/>
<line x1="446.8" y1="672.7" x2="450.4" y2="666.6" stroke="#ece470" stroke-width="1.9"/>
<line x1="443.1" y1="678.8" x2="446.8" y2="684.9" stroke="#6aaae4" stroke-width="1.9"/>
<line x1="446.8" y1="684.9" x2="450.4" y2="691.0" stroke="#ece470" stroke-width="1.9"/>
<line x1="465.5" y1="678.8" x2="457.9" y2="672.7" stroke="#6aaae4" stroke-width="1.9"/>
<line x1="457.9" y1="672.7" x2="450.2" y2="666.6" stroke="#ece470" stroke-width="1.9"/>
<line x1="465.5" y1="678.8" x2="457.9" y2="684.9" stroke="#6aaae4" stroke-width="1.9"/>
<line x1="457.9" y1="684.9" x2="450.2" y2="691.0" stroke="#ece470" stroke-width="1.9"/>
<line x1="465.5" y1="678.8" x2="469.1" y2="672.7" stroke="#6aaae4" stroke-width="1.9"/>
<line x1="469.1" y1="672.7" x2="472.8" y2="666.6" stroke="#ece470" stroke-width="1.9"/>
<line x1="465.5" y1="678.8" x2="469.1" y2="684.9" stroke="#6aaae4" stroke-width="1.9"/>
<line x1="469.1" y1="684.9" x2="472.8" y2="691.0" stroke="#ece470" stroke-width="1.9"/>
<circle cx="338.3" cy="666.6" r="3.2" fill="url(#sg)" stroke="#b8a818" stroke-width="0.5"/>
<circle cx="338.3" cy="691.0" r="3.2" fill="url(#sg)" stroke="#b8a818" stroke-width="0.5"/>
<circle cx="360.7" cy="666.6" r="3.2" fill="url(#sg)" stroke="#b8a818" stroke-width="0.5"/>
<circle cx="360.7" cy="691.0" r="3.2" fill="url(#sg)" stroke="#b8a818" stroke-width="0.5"/>
<circle cx="360.9" cy="666.6" r="3.2" fill="url(#sg)" stroke="#b8a818" stroke-width="0.5"/>
<circle cx="360.9" cy="691.0" r="3.2" fill="url(#sg)" stroke="#b8a818" stroke-width="0.5"/>
<circle cx="383.1" cy="666.6" r="3.2" fill="url(#sg)" stroke="#b8a818" stroke-width="0.5"/>
<circle cx="383.1" cy="691.0" r="3.2" fill="url(#sg)" stroke="#b8a818" stroke-width="0.5"/>
<circle cx="383.3" cy="666.6" r="3.2" fill="url(#sg)" stroke="#b8a818" stroke-width="0.5"/>
<circle cx="383.3" cy="691.0" r="3.2" fill="url(#sg)" stroke="#b8a818" stroke-width="0.5"/>
<circle cx="405.4" cy="666.6" r="3.2" fill="url(#sg)" stroke="#b8a818" stroke-width="0.5"/>
<circle cx="405.4" cy="691.0" r="3.2" fill="url(#sg)" stroke="#b8a818" stroke-width="0.5"/>
<circle cx="405.7" cy="666.6" r="3.2" fill="url(#sg)" stroke="#b8a818" stroke-width="0.5"/>
<circle cx="405.7" cy="691.0" r="3.2" fill="url(#sg)" stroke="#b8a818" stroke-width="0.5"/>
<circle cx="427.8" cy="666.6" r="3.2" fill="url(#sg)" stroke="#b8a818" stroke-width="0.5"/>
<circle cx="427.8" cy="691.0" r="3.2" fill="url(#sg)" stroke="#b8a818" stroke-width="0.5"/>
<circle cx="428.0" cy="666.6" r="3.2" fill="url(#sg)" stroke="#b8a818" stroke-width="0.5"/>
<circle cx="428.0" cy="691.0" r="3.2" fill="url(#sg)" stroke="#b8a818" stroke-width="0.5"/>
<circle cx="450.2" cy="666.6" r="3.2" fill="url(#sg)" stroke="#b8a818" stroke-width="0.5"/>
<circle cx="450.2" cy="691.0" r="3.2" fill="url(#sg)" stroke="#b8a818" stroke-width="0.5"/>
<circle cx="450.4" cy="666.6" r="3.2" fill="url(#sg)" stroke="#b8a818" stroke-width="0.5"/>
<circle cx="450.4" cy="691.0" r="3.2" fill="url(#sg)" stroke="#b8a818" stroke-width="0.5"/>
<circle cx="472.8" cy="666.6" r="3.2" fill="url(#sg)" stroke="#b8a818" stroke-width="0.5"/>
<circle cx="472.8" cy="691.0" r="3.2" fill="url(#sg)" stroke="#b8a818" stroke-width="0.5"/>
<circle cx="353.6" cy="678.8" r="4.8" fill="url(#nbg)" stroke="#2a6ab0" stroke-width="0.5"/>
<circle cx="376.0" cy="678.8" r="4.8" fill="url(#nbg)" stroke="#2a6ab0" stroke-width="0.5"/>
<circle cx="398.4" cy="678.8" r="4.8" fill="url(#nbg)" stroke="#2a6ab0" stroke-width="0.5"/>
<circle cx="420.7" cy="678.8" r="4.8" fill="url(#nbg)" stroke="#2a6ab0" stroke-width="0.5"/>
<circle cx="443.1" cy="678.8" r="4.8" fill="url(#nbg)" stroke="#2a6ab0" stroke-width="0.5"/>
<circle cx="465.5" cy="678.8" r="4.8" fill="url(#nbg)" stroke="#2a6ab0" stroke-width="0.5"/>
<line x1="198.2" y1="645.0" x2="194.4" y2="638.9" stroke="#6aaae4" stroke-width="1.9"/>
<line x1="194.4" y1="638.9" x2="190.7" y2="632.8" stroke="#ece470" stroke-width="1.9"/>
<line x1="198.2" y1="645.0" x2="194.4" y2="651.1" stroke="#6aaae4" stroke-width="1.9"/>
<line x1="194.4" y1="651.1" x2="190.7" y2="657.2" stroke="#ece470" stroke-width="1.9"/>
<line x1="198.2" y1="645.0" x2="206.0" y2="638.9" stroke="#6aaae4" stroke-width="1.9"/>
<line x1="206.0" y1="638.9" x2="213.8" y2="632.8" stroke="#ece470" stroke-width="1.9"/>
<line x1="198.2" y1="645.0" x2="206.0" y2="651.1" stroke="#6aaae4" stroke-width="1.9"/>
<line x1="206.0" y1="651.1" x2="213.8" y2="657.2" stroke="#ece470" stroke-width="1.9"/>
<line x1="221.0" y1="645.0" x2="217.2" y2="638.9" stroke="#6aaae4" stroke-width="1.9"/>
<line x1="217.2" y1="638.9" x2="213.5" y2="632.8" stroke="#ece470" stroke-width="1.9"/>
<line x1="221.0" y1="645.0" x2="217.2" y2="651.1" stroke="#6aaae4" stroke-width="1.9"/>
<line x1="217.2" y1="651.1" x2="213.5" y2="657.2" stroke="#ece470" stroke-width="1.9"/>
<line x1="221.0" y1="645.0" x2="228.8" y2="638.9" stroke="#6aaae4" stroke-width="1.9"/>
<line x1="228.8" y1="638.9" x2="236.6" y2="632.8" stroke="#ece470" stroke-width="1.9"/>
<line x1="221.0" y1="645.0" x2="228.8" y2="651.1" stroke="#6aaae4" stroke-width="1.9"/>
<line x1="228.8" y1="651.1" x2="236.6" y2="657.2" stroke="#ece470" stroke-width="1.9"/>
<line x1="244.0" y1="645.0" x2="240.2" y2="638.9" stroke="#6aaae4" stroke-width="1.9"/>
<line x1="240.2" y1="638.9" x2="236.5" y2="632.8" stroke="#ece470" stroke-width="1.9"/>
<line x1="244.0" y1="645.0" x2="240.2" y2="651.1" stroke="#6aaae4" stroke-width="1.9"/>
<line x1="240.2" y1="651.1" x2="236.5" y2="657.2" stroke="#ece470" stroke-width="1.9"/>
<line x1="244.0" y1="645.0" x2="251.8" y2="638.9" stroke="#6aaae4" stroke-width="1.9"/>
<line x1="251.8" y1="638.9" x2="259.6" y2="632.8" stroke="#ece470" stroke-width="1.9"/>
<line x1="244.0" y1="645.0" x2="251.8" y2="651.1" stroke="#6aaae4" stroke-width="1.9"/>
<line x1="251.8" y1="651.1" x2="259.6" y2="657.2" stroke="#ece470" stroke-width="1.9"/>
<circle cx="190.7" cy="632.8" r="3.2" fill="url(#sg)" stroke="#b8a818" stroke-width="0.5"/>
<circle cx="190.7" cy="657.2" r="3.2" fill="url(#sg)" stroke="#b8a818" stroke-width="0.5"/>
<circle cx="213.5" cy="632.8" r="3.2" fill="url(#sg)" stroke="#b8a818" stroke-width="0.5"/>
<circle cx="213.5" cy="657.2" r="3.2" fill="url(#sg)" stroke="#b8a818" stroke-width="0.5"/>
<circle cx="213.8" cy="632.8" r="3.2" fill="url(#sg)" stroke="#b8a818" stroke-width="0.5"/>
<circle cx="213.8" cy="657.2" r="3.2" fill="url(#sg)" stroke="#b8a818" stroke-width="0.5"/>
<circle cx="236.5" cy="632.8" r="3.2" fill="url(#sg)" stroke="#b8a818" stroke-width="0.5"/>
<circle cx="236.5" cy="657.2" r="3.2" fill="url(#sg)" stroke="#b8a818" stroke-width="0.5"/>
<circle cx="236.6" cy="632.8" r="3.2" fill="url(#sg)" stroke="#b8a818" stroke-width="0.5"/>
<circle cx="236.6" cy="657.2" r="3.2" fill="url(#sg)" stroke="#b8a818" stroke-width="0.5"/>
<circle cx="259.6" cy="632.8" r="3.2" fill="url(#sg)" stroke="#b8a818" stroke-width="0.5"/>
<circle cx="259.6" cy="657.2" r="3.2" fill="url(#sg)" stroke="#b8a818" stroke-width="0.5"/>
<circle cx="198.2" cy="645.0" r="4.8" fill="url(#nbg)" stroke="#2a6ab0" stroke-width="0.5"/>
<circle cx="221.0" cy="645.0" r="4.8" fill="url(#nbg)" stroke="#2a6ab0" stroke-width="0.5"/>
<circle cx="244.0" cy="645.0" r="4.8" fill="url(#nbg)" stroke="#2a6ab0" stroke-width="0.5"/>
<line x1="382.7" y1="644.9" x2="379.0" y2="638.8" stroke="#6aaae4" stroke-width="1.9"/>
<line x1="379.0" y1="638.8" x2="375.3" y2="632.7" stroke="#ece470" stroke-width="1.9"/>
<line x1="382.7" y1="644.9" x2="379.0" y2="651.0" stroke="#6aaae4" stroke-width="1.9"/>
<line x1="379.0" y1="651.0" x2="375.3" y2="657.1" stroke="#ece470" stroke-width="1.9"/>
<line x1="382.7" y1="644.9" x2="390.3" y2="638.8" stroke="#6aaae4" stroke-width="1.9"/>
<line x1="390.3" y1="638.8" x2="397.9" y2="632.7" stroke="#ece470" stroke-width="1.9"/>
<line x1="382.7" y1="644.9" x2="390.3" y2="651.0" stroke="#6aaae4" stroke-width="1.9"/>
<line x1="390.3" y1="651.0" x2="397.9" y2="657.1" stroke="#ece470" stroke-width="1.9"/>
<line x1="406.0" y1="644.9" x2="402.3" y2="638.8" stroke="#6aaae4" stroke-width="1.9"/>
<line x1="402.3" y1="638.8" x2="398.6" y2="632.7" stroke="#ece470" stroke-width="1.9"/>
<line x1="406.0" y1="644.9" x2="402.3" y2="651.0" stroke="#6aaae4" stroke-width="1.9"/>
<line x1="402.3" y1="651.0" x2="398.6" y2="657.1" stroke="#ece470" stroke-width="1.9"/>
<line x1="406.0" y1="644.9" x2="413.6" y2="638.8" stroke="#6aaae4" stroke-width="1.9"/>
<line x1="413.6" y1="638.8" x2="421.2" y2="632.7" stroke="#ece470" stroke-width="1.9"/>
<line x1="406.0" y1="644.9" x2="413.6" y2="651.0" stroke="#6aaae4" stroke-width="1.9"/>
<line x1="413.6" y1="651.0" x2="421.2" y2="657.1" stroke="#ece470" stroke-width="1.9"/>
<line x1="429.0" y1="644.9" x2="425.3" y2="638.8" stroke="#6aaae4" stroke-width="1.9"/>
<line x1="425.3" y1="638.8" x2="421.6" y2="632.7" stroke="#ece470" stroke-width="1.9"/>
<line x1="429.0" y1="644.9" x2="425.3" y2="651.0" stroke="#6aaae4" stroke-width="1.9"/>
<line x1="425.3" y1="651.0" x2="421.6" y2="657.1" stroke="#ece470" stroke-width="1.9"/>
<line x1="429.0" y1="644.9" x2="436.6" y2="638.8" stroke="#6aaae4" stroke-width="1.9"/>
<line x1="436.6" y1="638.8" x2="444.2" y2="632.7" stroke="#ece470" stroke-width="1.9"/>
<line x1="429.0" y1="644.9" x2="436.6" y2="651.0" stroke="#6aaae4" stroke-width="1.9"/>
<line x1="436.6" y1="651.0" x2="444.2" y2="657.1" stroke="#ece470" stroke-width="1.9"/>
<circle cx="375.3" cy="632.7" r="3.2" fill="url(#sg)" stroke="#b8a818" stroke-width="0.5"/>
<circle cx="375.3" cy="657.1" r="3.2" fill="url(#sg)" stroke="#b8a818" stroke-width="0.5"/>
<circle cx="397.9" cy="632.7" r="3.2" fill="url(#sg)" stroke="#b8a818" stroke-width="0.5"/>
<circle cx="397.9" cy="657.1" r="3.2" fill="url(#sg)" stroke="#b8a818" stroke-width="0.5"/>
<circle cx="398.6" cy="632.7" r="3.2" fill="url(#sg)" stroke="#b8a818" stroke-width="0.5"/>
<circle cx="398.6" cy="657.1" r="3.2" fill="url(#sg)" stroke="#b8a818" stroke-width="0.5"/>
<circle cx="421.2" cy="632.7" r="3.2" fill="url(#sg)" stroke="#b8a818" stroke-width="0.5"/>
<circle cx="421.2" cy="657.1" r="3.2" fill="url(#sg)" stroke="#b8a818" stroke-width="0.5"/>
<circle cx="421.6" cy="632.7" r="3.2" fill="url(#sg)" stroke="#b8a818" stroke-width="0.5"/>
<circle cx="421.6" cy="657.1" r="3.2" fill="url(#sg)" stroke="#b8a818" stroke-width="0.5"/>
<circle cx="444.2" cy="632.7" r="3.2" fill="url(#sg)" stroke="#b8a818" stroke-width="0.5"/>
<circle cx="444.2" cy="657.1" r="3.2" fill="url(#sg)" stroke="#b8a818" stroke-width="0.5"/>
<circle cx="382.7" cy="644.9" r="4.8" fill="url(#nbg)" stroke="#2a6ab0" stroke-width="0.5"/>
<circle cx="406.0" cy="644.9" r="4.8" fill="url(#nbg)" stroke="#2a6ab0" stroke-width="0.5"/>
<circle cx="429.0" cy="644.9" r="4.8" fill="url(#nbg)" stroke="#2a6ab0" stroke-width="0.5"/>
<rect x="187.2" y="620.6" width="30.9" height="152.4" fill="#c4b8b0" opacity="0.34"/>
<rect x="232.1" y="620.6" width="30.9" height="152.4" fill="#c4b8b0" opacity="0.34"/>
<rect x="371.3" y="620.6" width="30.9" height="152.4" fill="#c4b8b0" opacity="0.34"/>
<rect x="416" y="620.6" width="31.4" height="152.4" fill="#c4b8b0" opacity="0.34"/>
<line x1="131.4" y1="696" x2="131.4" y2="660" stroke="#a3a3a3" stroke-width="3"/>
<path d="M126,662 L131.4,650 L136.8,662Z" fill="#a3a3a3"/>
<line x1="488.8" y1="696" x2="488.8" y2="660" stroke="#a3a3a3" stroke-width="3"/>
<path d="M483.4,662 L488.8,650 L494.2,662Z" fill="#a3a3a3"/>
<line x1="104.8" y1="752" x2="68" y2="752" stroke="#a3a3a3" stroke-width="3"/>
<path d="M70,746.6 L58.4,752 L70,757.4Z" fill="#a3a3a3"/>
<line x1="496.9" y1="752" x2="534" y2="752" stroke="#a3a3a3" stroke-width="3"/>
<path d="M532,746.6 L544.8,752 L532,757.4Z" fill="#a3a3a3"/>
<circle cx="508.0" cy="631.5" r="5.2" fill="url(#nbg)" stroke="#2a6ab0" stroke-width="0.5"/>
<circle cx="507.4" cy="660.1" r="3.4" fill="url(#sg)" stroke="#b8a818" stroke-width="0.5"/>
<circle cx="1244.0" cy="65.5" r="5.2" fill="url(#nbg)" stroke="#2a6ab0" stroke-width="0.5"/>
<circle cx="1243.0" cy="94.5" r="3.4" fill="url(#sg)" stroke="#b8a818" stroke-width="0.5"/>
<g clip-path="url(#clipg)">
<rect x="585" y="580" width="286" height="286" fill="#4a0c6c"/>
<g filter="url(#soft2)">
<path d="M590.2 585.1h0M591.7 623.7h0M592.0 634.5h0M591.1 660.1h0M591.2 672.6h0M591.6 710.3h0M591.7 747.6h0M591.4 758.0h0M592.2 770.6h0M591.3 784.6h0M593.9 821.8h0M591.6 832.1h0M606.1 645.7h0M603.8 658.5h0M607.9 696.2h0M605.3 709.4h0M605.2 733.6h0M607.1 795.7h0M604.8 808.8h0M605.3 819.3h0M606.6 832.3h0M607.0 844.9h0M604.6 857.4h0M618.8 584.6h0M619.5 597.6h0M618.8 609.0h0M620.1 621.3h0M620.0 633.4h0M620.4 648.0h0M620.5 658.4h0M621.4 673.0h0M618.6 683.1h0M620.0 697.5h0M618.5 708.3h0M621.3 722.3h0M618.3 733.2h0M620.2 745.7h0M620.5 784.9h0M620.1 809.2h0M621.0 820.0h0M618.6 831.7h0M634.8 586.2h0M633.0 610.3h0M634.8 623.5h0M635.0 647.8h0M632.7 659.5h0M632.9 708.3h0M634.9 721.3h0M634.7 757.4h0M634.5 770.4h0M634.0 783.7h0M633.8 808.8h0M633.8 819.6h0M633.9 833.8h0M636.0 845.8h0M633.2 857.8h0M647.6 585.6h0M648.5 597.5h0M646.5 609.6h0M650.4 623.5h0M649.2 645.9h0M648.3 660.6h0M649.8 672.5h0M648.3 720.0h0M646.7 734.8h0M650.3 747.6h0M648.7 757.2h0M648.8 796.0h0M649.6 821.4h0M647.4 832.7h0M649.1 844.1h0M649.2 857.5h0M661.0 585.6h0M664.0 597.5h0M662.1 634.4h0M660.6 708.9h0M662.5 721.0h0M663.4 746.5h0M663.0 759.6h0M661.3 832.1h0M663.1 857.2h0M678.7 596.8h0M677.2 622.0h0M677.5 683.8h0M678.5 696.0h0M678.5 722.8h0M676.3 732.6h0M677.3 746.9h0M676.4 757.6h0M676.6 795.3h0M676.5 808.4h0M674.9 833.6h0M677.8 846.1h0M692.7 597.0h0M690.1 609.9h0M689.5 659.1h0M692.8 672.5h0M690.0 734.0h0M692.3 747.6h0M689.8 759.7h0M691.2 783.9h0M690.5 806.8h0M692.3 820.4h0M704.7 586.3h0M706.7 622.9h0M705.9 647.8h0M705.2 670.8h0M705.2 684.3h0M706.5 696.0h0M707.3 722.1h0M704.2 733.9h0M705.4 757.5h0M704.9 794.8h0M703.3 806.8h0M704.5 856.8h0M721.0 596.7h0M718.7 611.1h0M719.5 621.5h0M720.8 648.4h0M721.7 696.5h0M717.6 733.2h0M719.1 745.9h0M721.0 771.7h0M719.0 784.7h0M720.0 795.0h0M721.0 820.9h0M720.9 844.0h0M732.2 586.0h0M732.8 611.0h0M733.5 672.2h0M733.7 696.8h0M733.8 709.3h0M734.2 757.4h0M733.7 772.0h0M734.0 796.1h0M731.8 809.2h0M733.1 832.9h0M733.2 844.9h0M731.7 858.0h0" stroke="#c8701e" stroke-width="4.2" stroke-linecap="round" opacity="0.85" fill="none"/>
<path d="M592.8 597.8h0M589.5 610.8h0M592.1 732.6h0M592.7 844.8h0M592.1 859.3h0M606.1 584.7h0M603.8 610.1h0M607.0 670.8h0M605.3 758.7h0M606.4 771.2h0M605.5 783.8h0M622.3 797.1h0M620.3 846.3h0M633.6 598.1h0M634.5 685.2h0M635.5 697.7h0M632.1 732.5h0M634.2 795.3h0M649.0 635.5h0M646.6 684.5h0M648.2 697.4h0M649.3 771.6h0M648.5 784.7h0M647.0 807.2h0M662.4 611.0h0M662.6 646.3h0M662.3 658.8h0M664.1 673.2h0M663.8 695.9h0M663.4 795.0h0M664.6 819.8h0M664.6 846.6h0M676.9 583.8h0M676.4 610.3h0M677.4 647.1h0M675.5 659.9h0M678.9 673.0h0M676.7 709.9h0M677.6 820.0h0M689.0 585.0h0M691.5 623.2h0M689.7 633.4h0M692.7 647.7h0M689.3 683.9h0M692.0 696.8h0M689.7 709.8h0M692.2 771.7h0M692.0 795.7h0M691.8 834.2h0M692.8 845.8h0M690.0 857.0h0M707.2 598.0h0M703.4 658.0h0M705.4 708.7h0M705.3 744.7h0M705.2 770.1h0M704.3 782.4h0M705.8 821.2h0M704.3 832.7h0M707.5 844.6h0M718.3 583.9h0M719.2 634.1h0M717.3 658.0h0M719.3 670.4h0M719.3 685.4h0M720.1 710.3h0M719.3 759.9h0M718.7 807.5h0M718.5 833.0h0M719.6 858.3h0M734.0 621.8h0M732.7 636.0h0M734.7 645.8h0M733.4 658.6h0M734.6 720.5h0M731.7 734.8h0M733.1 747.6h0" stroke="#8a3070" stroke-width="3.6" stroke-linecap="round" opacity="0.6" fill="none"/>
<path d="M591.5 647.4h0M590.4 682.8h0M592.4 697.3h0M593.4 721.2h0M593.8 796.9h0M591.5 807.2h0M606.1 598.2h0M607.4 621.7h0M606.6 634.6h0M606.3 683.6h0M606.9 721.8h0M605.9 745.6h0M619.2 758.3h0M619.9 769.5h0M620.6 858.4h0M633.1 633.9h0M634.1 672.7h0M634.0 744.9h0M646.6 707.8h0M662.3 622.9h0M662.6 683.9h0M662.8 732.7h0M663.4 771.7h0M661.7 784.1h0M662.7 808.7h0M675.3 634.9h0M678.1 770.0h0M676.7 782.3h0M675.5 857.5h0M692.8 722.6h0M705.7 610.1h0M705.5 635.9h0M719.7 721.7h0M731.5 683.4h0M733.4 784.2h0" stroke="#e8a020" stroke-width="4.8" stroke-linecap="round" opacity="0.95" fill="none"/>
</g>
<circle cx="615.8" cy="611.8" r="3" fill="#f0e040" filter="url(#soft)"/>
<path d="M648.4 765.4h0M675.9 641.3h0M637.6 864.8h0M635.3 703.2h0M597.6 642.3h0M609.8 846.2h0M694.0 830.2h0M733.0 755.1h0M724.7 733.2h0M647.8 851.1h0M720.5 851.6h0M657.6 801.2h0M646.0 865.2h0M723.0 663.5h0M725.1 632.8h0M599.4 786.6h0M629.1 728.6h0M680.9 591.6h0M696.8 658.9h0M649.9 678.6h0M696.3 793.6h0M628.1 609.6h0M629.9 697.6h0M596.6 623.8h0M699.4 780.3h0M731.5 860.2h0M716.4 686.6h0M609.2 669.2h0M654.5 730.4h0M666.3 682.9h0M712.9 661.6h0M654.5 833.6h0M706.1 665.1h0M621.4 810.7h0M586.5 617.6h0M664.6 733.2h0M609.9 594.4h0M615.6 800.2h0M654.9 860.1h0M702.8 860.1h0M590.3 632.9h0M587.0 703.7h0M635.7 594.7h0M666.9 606.8h0M631.7 650.7h0M705.3 699.6h0M624.1 592.6h0M649.4 759.5h0M686.3 841.0h0M706.3 650.7h0M605.3 796.9h0M703.4 725.5h0M709.6 737.8h0M626.9 628.3h0M587.6 763.9h0M719.5 839.2h0M655.1 770.3h0M724.3 812.8h0M675.4 698.5h0M662.8 628.8h0M612.4 775.6h0M733.8 736.5h0M646.2 680.6h0M653.2 809.6h0M652.9 854.3h0M608.3 670.1h0M663.3 697.8h0M712.7 816.7h0M724.7 755.2h0M589.6 744.3h0M667.5 719.4h0M627.0 782.9h0M721.7 609.3h0M685.3 686.2h0M662.2 836.2h0M729.0 764.1h0M614.3 843.3h0M612.2 689.6h0M709.2 670.4h0M625.6 851.7h0M726.6 670.8h0M643.9 660.6h0M604.7 651.6h0M732.0 602.7h0M619.5 637.2h0M596.9 730.5h0M696.5 819.7h0M679.7 813.9h0M585.8 660.7h0M729.2 599.8h0M625.1 718.1h0M625.2 736.2h0M592.1 647.5h0M728.6 621.2h0M720.8 630.9h0M733.9 772.9h0M682.0 620.7h0M593.2 797.2h0M611.4 634.2h0M708.4 830.2h0M592.3 854.8h0M665.2 689.4h0M601.1 691.5h0M733.1 660.3h0M604.7 621.5h0M604.0 680.8h0M722.2 602.0h0M613.8 848.6h0M734.5 860.3h0M621.9 681.4h0M727.6 718.7h0M690.5 669.6h0M588.2 678.8h0M697.2 803.6h0M670.3 712.7h0M665.7 706.5h0M665.2 818.2h0M615.1 750.0h0M724.9 822.6h0M611.9 855.5h0M711.0 628.0h0M624.9 637.9h0M593.0 859.8h0M646.4 829.6h0M602.2 584.0h0M715.5 807.1h0M733.7 776.0h0M663.8 799.1h0M598.9 734.5h0M651.2 621.9h0M675.1 672.4h0M661.0 686.8h0M632.7 682.5h0M675.2 860.4h0M725.4 826.6h0M710.3 662.0h0M731.5 657.1h0M603.5 723.2h0M694.8 677.5h0M681.8 660.8h0M730.0 709.5h0M656.7 732.0h0M716.2 862.1h0M664.3 706.3h0M677.7 599.8h0M648.8 822.4h0M701.6 597.0h0M713.2 689.8h0M732.2 684.9h0M617.2 736.9h0M717.6 703.3h0M715.1 783.5h0M639.2 666.0h0M660.8 694.1h0M640.9 766.4h0M716.3 747.1h0M606.9 642.9h0M640.6 755.8h0M605.9 603.3h0M633.1 660.9h0M589.4 734.1h0M723.2 732.8h0M695.6 816.9h0M710.7 841.1h0M651.2 775.2h0M603.1 831.7h0M641.7 716.0h0M718.5 662.0h0M613.5 815.5h0M674.8 604.3h0M589.2 680.5h0M586.1 818.1h0M612.5 658.4h0M643.3 726.4h0M649.9 759.8h0M684.0 704.8h0M599.6 860.0h0M688.7 603.9h0M651.3 795.5h0M733.8 598.9h0M586.4 717.3h0M648.3 835.8h0M709.0 674.8h0M647.8 746.7h0M717.6 637.8h0M643.8 605.3h0M681.2 587.6h0M725.3 729.8h0M671.1 604.4h0M619.8 714.1h0M713.6 734.2h0M627.7 860.9h0M684.2 731.1h0M615.4 665.4h0M720.0 618.0h0M664.7 757.3h0M638.2 799.8h0M721.5 825.3h0M695.7 638.2h0M594.0 703.8h0M631.8 635.5h0M715.7 641.8h0M708.4 848.2h0M603.0 841.3h0M644.6 640.6h0M613.0 590.8h0M659.8 689.9h0M712.7 818.2h0M593.5 694.8h0M643.4 630.8h0M622.6 655.3h0M689.1 677.3h0M601.7 643.0h0M651.3 741.5h0M621.8 780.1h0M617.3 771.9h0M676.4 630.3h0M697.7 692.8h0M665.9 751.0h0M679.2 706.5h0M593.4 805.0h0M713.9 720.2h0M671.8 656.8h0M719.8 776.1h0M618.3 813.8h0M732.9 678.9h0M734.3 718.2h0M611.8 785.0h0M635.8 789.4h0M672.5 610.8h0M664.2 823.3h0M656.7 734.2h0M714.5 707.7h0M658.9 746.7h0M708.6 638.1h0M599.0 797.7h0M667.9 666.6h0M718.8 833.0h0M666.2 862.7h0M710.4 793.9h0M628.7 583.1h0M686.8 790.2h0M637.6 716.9h0M670.1 651.5h0M689.6 740.9h0M642.8 611.3h0M668.1 671.4h0M693.7 629.3h0M644.2 636.1h0M646.2 744.8h0M601.0 595.7h0M657.3 637.6h0M660.8 627.8h0M600.1 733.7h0M723.5 828.4h0M662.3 693.6h0M594.9 659.0h0M632.1 849.3h0M602.6 851.1h0M656.5 704.1h0M624.3 855.3h0M612.9 743.4h0M661.6 637.1h0M618.4 861.8h0M703.6 789.8h0M720.4 608.2h0M690.5 794.6h0M618.8 710.7h0M731.2 673.5h0M699.4 627.3h0M685.1 657.1h0M661.3 686.5h0M715.5 793.0h0M660.6 776.6h0M649.1 810.0h0M623.6 735.6h0M672.8 691.0h0M592.0 628.6h0M681.1 640.4h0M698.7 724.4h0M728.0 822.5h0M694.1 686.5h0M591.5 739.2h0M696.9 843.4h0M615.4 625.3h0M732.1 791.5h0M657.7 791.2h0M607.4 735.6h0M685.3 752.7h0M609.2 619.1h0M678.7 832.9h0M605.7 582.0h0M597.4 804.6h0M643.6 710.4h0M734.1 754.8h0M624.5 780.5h0M585.3 660.5h0M689.8 628.9h0M589.9 728.2h0M634.2 857.8h0M600.2 809.4h0M643.3 810.3h0M651.8 770.9h0M634.0 644.2h0M652.9 808.9h0M636.8 645.8h0M647.4 607.4h0M632.4 743.8h0M666.8 750.9h0M628.5 587.1h0M589.0 677.0h0M614.5 742.7h0M624.8 797.9h0M675.2 769.4h0M695.3 729.2h0M649.0 668.2h0M594.4 807.2h0M660.0 608.5h0M724.0 746.5h0M678.5 705.5h0M603.9 865.9h0M610.2 684.7h0M734.9 614.9h0M659.9 717.2h0M622.1 844.4h0M647.1 583.3h0M656.0 581.3h0M691.3 828.5h0M720.9 593.7h0M686.3 667.2h0M655.9 665.9h0M630.8 618.0h0M678.9 605.3h0M729.6 592.5h0M729.6 634.8h0M597.5 793.0h0M664.6 799.9h0M661.3 760.3h0M597.4 772.7h0M661.9 855.2h0M585.9 599.5h0M686.4 844.9h0M648.3 783.3h0M669.1 691.8h0M654.8 752.1h0M589.3 667.4h0M695.7 653.8h0M656.0 653.4h0M638.6 766.1h0M696.6 853.7h0M656.5 638.0h0M635.5 596.7h0M620.9 747.2h0M676.7 649.1h0M612.2 608.0h0M611.8 723.4h0M623.3 832.7h0M669.7 677.3h0M649.7 591.4h0M694.9 794.8h0M639.5 787.5h0M625.9 642.8h0M619.2 636.3h0M675.9 763.6h0M694.2 609.7h0M699.9 716.8h0M641.8 723.9h0M649.9 637.2h0M644.3 764.8h0M692.3 841.7h0M614.2 834.8h0M705.1 783.9h0M731.9 619.4h0M701.5 837.2h0M603.3 750.1h0M727.1 663.8h0M713.3 839.2h0M650.3 621.5h0M617.3 817.3h0M648.3 670.3h0M651.4 845.5h0M623.1 585.2h0M727.4 670.6h0M642.8 859.1h0M627.3 604.5h0M718.2 649.7h0M618.2 848.2h0M619.4 837.7h0M635.0 666.7h0M617.4 735.1h0M669.0 693.9h0M661.1 665.3h0M710.6 847.1h0M698.0 814.5h0M595.6 651.6h0M615.6 624.3h0M730.3 838.9h0M722.1 739.5h0M602.5 702.1h0M593.4 838.7h0M624.8 662.4h0M726.9 637.3h0M723.4 669.0h0M684.7 610.5h0M719.8 694.0h0M636.8 767.2h0M674.0 651.8h0M603.6 744.6h0M588.7 829.2h0M636.6 628.5h0M634.2 612.5h0M632.5 735.4h0M646.0 675.6h0M628.6 719.1h0M701.8 705.2h0M700.2 718.0h0M603.1 628.7h0M712.1 717.1h0M642.4 727.5h0M711.9 687.3h0M639.2 684.7h0M586.6 735.8h0M656.9 721.8h0M652.7 715.1h0M692.3 633.2h0M732.2 612.8h0M715.0 630.1h0M704.3 654.5h0M596.7 734.6h0M710.8 821.8h0M716.5 860.2h0M593.0 688.4h0M601.0 796.0h0M652.7 792.8h0M704.4 865.7h0M686.5 830.3h0M667.3 603.1h0M718.7 606.0h0M597.9 817.5h0M627.1 769.4h0M589.3 640.3h0M692.4 590.8h0M661.6 848.1h0M617.1 781.6h0M696.6 757.3h0M699.9 779.7h0M587.1 634.9h0M665.5 857.4h0M617.5 747.8h0M604.2 822.2h0M651.8 729.3h0M685.4 619.0h0M694.3 808.8h0M713.9 660.5h0M620.1 627.2h0M719.9 705.3h0M643.5 728.9h0M689.8 671.0h0M635.4 799.1h0M701.5 664.6h0M596.0 845.4h0M694.5 749.9h0M645.7 854.2h0M649.6 641.9h0M600.1 680.4h0M675.1 684.3h0M727.1 765.8h0M653.7 768.8h0M675.3 756.6h0M659.3 729.6h0M658.7 817.8h0M613.8 804.6h0M629.7 822.7h0M595.9 718.7h0M651.4 783.5h0M615.4 655.1h0M604.9 740.6h0M671.5 580.1h0M611.7 637.1h0M728.6 710.1h0M669.8 662.8h0M684.0 812.5h0M685.7 580.4h0M650.9 719.8h0M591.7 805.9h0M632.8 663.9h0M678.8 747.3h0M659.5 825.8h0M662.8 678.1h0M594.7 738.1h0M639.5 733.5h0M637.1 582.0h0M590.7 625.2h0M599.1 823.5h0M672.1 648.2h0M691.6 761.5h0M594.3 794.9h0M619.3 865.2h0M606.3 661.8h0M622.4 826.6h0" stroke="#6a1c78" stroke-width="2.5" stroke-linecap="round" opacity="0.5" fill="none" filter="url(#soft)"/>
<path d="M722,578 L723.5,640 L720.5,690 L723,720 L729,745 L735,762 L735.5,868 L873,868 L873,578Z" fill="#b8641e"/>
<g filter="url(#soft2)">
<path d="M846.8 748.0h0M788.3 783.6h0M742.5 632.3h0M801.0 857.5h0M750.5 817.6h0M819.4 749.9h0M825.0 825.9h0M751.6 779.9h0M814.3 613.0h0M854.0 627.8h0M806.0 762.1h0M762.4 779.7h0M795.4 830.0h0M858.8 843.1h0M817.5 783.0h0M842.3 756.3h0M800.3 717.0h0M873.5 795.7h0M853.8 785.9h0M782.3 811.9h0M850.4 591.5h0M797.1 844.7h0M833.3 728.7h0M750.9 668.1h0M809.3 755.0h0M744.1 829.3h0M805.9 672.0h0M835.9 857.6h0M826.1 645.3h0M835.9 780.1h0M760.7 668.7h0M866.4 789.2h0M823.1 649.9h0M751.2 785.1h0M788.6 760.5h0M741.9 803.2h0M847.9 800.9h0M798.9 671.7h0M857.7 591.7h0M806.0 857.1h0M770.1 854.5h0" stroke="#cc9020" stroke-width="3" stroke-linecap="round" opacity="0.8" fill="none"/>
<path d="M862.1 824.0h0M839.7 613.4h0M746.1 761.2h0M820.7 660.5h0M844.1 684.2h0M747.0 778.5h0M817.8 669.8h0M836.7 639.3h0M817.7 730.9h0M749.6 761.5h0M824.1 630.3h0M855.4 703.1h0M842.6 647.6h0M766.4 662.8h0M814.2 767.5h0M744.0 691.9h0M805.0 613.5h0M831.4 722.8h0M794.7 833.2h0M842.6 716.4h0M780.5 590.7h0M834.4 784.1h0M820.4 605.6h0M844.0 778.9h0M804.6 626.9h0M800.4 815.4h0M728.3 752.0h0M804.2 603.9h0M839.1 650.7h0M832.8 673.0h0M866.8 625.2h0M825.7 641.5h0M841.3 858.7h0M812.1 628.6h0M774.5 745.1h0M776.3 704.5h0M772.7 815.9h0M738.9 591.0h0M774.8 649.6h0" stroke="#c4801a" stroke-width="6" stroke-linecap="round" opacity="0.8" fill="none"/>
<path d="M870.3 657.4h0M869.3 647.5h0M856.5 627.9h0M801.5 662.8h0M817.6 671.2h0M852.9 751.1h0M856.6 646.9h0M754.6 794.6h0M824.7 859.9h0M760.2 726.8h0M821.4 750.2h0M857.8 818.4h0M738.0 857.8h0M779.9 868.8h0M825.6 867.6h0M801.3 721.5h0M851.7 711.4h0M799.3 802.0h0M780.1 685.1h0M758.8 812.8h0M815.0 762.2h0M784.6 796.2h0M851.6 768.5h0M802.6 714.9h0M741.0 824.2h0M792.2 711.2h0M774.1 630.9h0M762.8 630.1h0M749.1 816.0h0M785.8 628.6h0M785.6 587.2h0M792.5 719.3h0M753.6 649.1h0M827.5 618.4h0M755.3 702.0h0M824.2 690.9h0M778.7 751.2h0M801.4 851.0h0M741.4 845.8h0M849.1 806.4h0M741.2 756.8h0M823.1 823.0h0M857.2 582.4h0M864.6 686.3h0M752.4 658.9h0" stroke="#bc7418" stroke-width="4.5" stroke-linecap="round" opacity="0.8" fill="none"/>
<path d="M835.6 694.9h0M847.0 640.1h0M793.5 771.4h0M750.1 822.5h0M750.7 822.8h0M795.4 613.9h0M812.5 682.4h0M840.5 638.3h0M821.9 783.1h0M753.6 643.3h0M778.9 761.6h0M771.2 663.6h0M766.8 850.5h0M781.9 587.7h0M837.4 825.4h0M793.3 839.9h0M873.7 601.6h0M745.3 800.5h0M819.3 652.3h0M746.8 647.6h0M769.3 775.9h0M758.2 864.5h0M764.0 679.2h0M791.2 607.5h0M799.0 582.1h0M854.3 590.6h0M781.6 814.6h0M750.8 745.1h0M777.1 615.4h0M850.9 654.6h0M796.5 767.8h0M765.0 672.4h0M771.7 703.6h0M742.8 804.9h0M845.6 789.2h0M728.4 623.7h0M859.9 842.4h0" stroke="#c88a1c" stroke-width="4.5" stroke-linecap="round" opacity="0.8" fill="none"/>
<path d="M827.0 825.1h0M855.9 794.6h0M755.0 769.3h0M820.8 804.3h0M740.3 605.6h0M742.5 861.2h0M755.7 706.9h0M829.5 830.3h0M809.1 841.2h0M849.0 659.4h0M766.4 856.0h0M749.1 677.9h0M770.9 752.2h0M745.5 854.0h0M747.1 649.5h0M847.6 681.3h0M738.7 822.5h0M822.5 816.0h0M829.4 830.6h0M742.7 768.1h0M816.3 821.4h0M800.3 716.7h0M750.2 761.6h0M776.7 773.3h0M827.7 806.7h0M752.4 643.3h0M844.2 861.9h0M757.3 735.9h0M863.8 704.3h0M752.1 653.4h0M788.3 587.0h0M735.8 696.0h0M776.3 625.3h0M783.4 769.6h0M778.1 753.3h0M835.5 823.0h0M861.5 652.5h0M870.0 580.4h0M815.3 749.8h0M851.1 822.1h0M852.3 703.4h0M776.7 812.1h0M855.2 675.0h0M767.9 621.2h0M847.6 777.2h0M825.3 737.1h0M821.0 649.5h0M770.1 795.5h0M826.0 738.0h0M737.8 613.0h0" stroke="#bc7418" stroke-width="3" stroke-linecap="round" opacity="0.8" fill="none"/>
<path d="M865.3 633.3h0M802.5 688.3h0M851.9 589.1h0M837.7 819.4h0M852.4 822.9h0M757.9 837.0h0M731.5 679.6h0M868.2 758.1h0M842.5 668.0h0M820.6 612.7h0M860.3 844.0h0M830.0 636.5h0M813.3 729.6h0M760.0 689.2h0M760.0 674.9h0M835.8 724.4h0M765.6 645.1h0M814.0 605.8h0M769.6 640.3h0M803.5 750.4h0M873.8 599.4h0M864.1 777.3h0M859.5 676.4h0M779.9 751.8h0M805.5 806.9h0M825.0 712.3h0M828.1 650.3h0M858.6 826.0h0M809.1 677.4h0M838.1 799.1h0M767.3 663.6h0M869.6 623.9h0M830.6 773.0h0M837.5 860.2h0M735.9 693.3h0M762.9 662.1h0M872.4 717.1h0M813.4 627.2h0M742.0 649.9h0M814.8 681.8h0M769.0 735.6h0M791.0 829.1h0M793.0 851.6h0M737.6 681.7h0M823.5 635.1h0M788.5 706.0h0M793.9 847.9h0M839.7 688.9h0M865.5 760.7h0M740.1 826.9h0M841.0 852.1h0M771.0 792.2h0M771.9 593.2h0" stroke="#bc7418" stroke-width="6" stroke-linecap="round" opacity="0.8" fill="none"/>
<path d="M828.1 663.5h0M778.5 793.6h0M754.1 629.1h0M799.0 624.5h0M763.0 714.7h0M825.8 664.6h0M783.6 635.6h0M761.8 844.6h0M762.4 869.2h0M740.7 794.4h0M799.3 633.2h0M848.5 705.5h0M811.0 615.9h0M851.9 725.8h0M844.2 668.0h0M841.0 679.1h0M870.8 606.1h0M862.5 642.3h0M779.3 593.7h0M764.7 761.2h0M769.9 626.1h0M799.9 778.3h0M724.3 707.3h0M766.5 726.1h0M730.8 744.3h0M824.3 737.4h0M734.7 631.5h0M857.8 815.4h0M826.6 847.1h0M733.2 730.6h0M829.5 633.1h0M738.1 827.6h0M843.7 869.5h0M845.2 734.4h0M752.2 659.6h0M770.7 797.3h0M858.0 817.3h0M754.0 685.1h0M809.4 744.2h0M738.8 760.2h0M866.4 668.3h0" stroke="#c88a1c" stroke-width="3" stroke-linecap="round" opacity="0.8" fill="none"/>
<path d="M796.8 636.6h0M871.0 800.2h0M833.1 636.0h0M763.2 649.6h0M768.2 707.0h0M826.4 636.6h0M792.1 745.3h0M804.6 677.6h0M810.8 720.0h0M779.5 655.5h0M725.3 698.7h0M808.0 815.8h0M847.6 652.9h0M733.4 584.4h0M813.7 661.8h0M830.6 751.0h0M807.3 776.0h0M788.3 707.5h0M811.0 711.6h0M762.3 602.3h0M765.6 652.4h0M727.5 604.9h0M874.0 639.6h0M759.7 792.5h0M870.9 813.5h0M725.4 634.6h0M859.3 656.5h0M764.7 768.5h0M824.2 613.7h0M805.2 601.7h0M852.0 651.3h0M824.6 808.4h0M744.5 866.5h0M831.3 673.1h0M744.3 834.6h0M741.5 649.7h0M800.3 784.3h0M832.2 662.8h0M840.0 787.6h0M762.5 836.4h0M774.7 645.2h0M795.2 622.7h0M809.8 786.0h0M782.0 856.8h0M754.8 634.9h0M856.5 599.1h0M816.3 714.5h0" stroke="#cc9020" stroke-width="6" stroke-linecap="round" opacity="0.8" fill="none"/>
<path d="M872.6 800.3h0M854.7 742.0h0M828.6 741.6h0M738.7 715.9h0M815.9 688.8h0M761.4 673.3h0M795.8 695.5h0M824.0 651.8h0M761.1 673.7h0M786.0 854.7h0M760.9 661.5h0M769.8 637.4h0M774.9 623.2h0M859.0 614.4h0M790.7 665.2h0M777.5 848.2h0M730.7 606.3h0M837.8 687.9h0M798.4 759.0h0M829.6 594.9h0M860.8 744.7h0M776.4 580.9h0M792.1 750.2h0M819.4 851.3h0M803.8 721.8h0M776.9 779.8h0M807.7 583.2h0M870.7 832.1h0M741.5 643.5h0M751.9 626.6h0M822.2 622.0h0M792.9 847.3h0M847.5 835.0h0M754.3 640.9h0M728.6 602.7h0M871.9 785.8h0M821.5 862.2h0M807.2 660.0h0M753.8 766.8h0M849.1 781.9h0M809.8 713.4h0M847.4 836.0h0M834.7 666.2h0" stroke="#c4801a" stroke-width="4.5" stroke-linecap="round" opacity="0.8" fill="none"/>
<path d="M847.9 683.4h0M762.7 850.2h0M869.8 600.6h0M846.8 817.2h0M750.9 614.6h0M818.7 827.7h0M834.7 700.2h0M801.0 667.5h0M855.9 603.1h0M748.4 611.4h0M832.4 592.2h0M747.1 581.4h0M801.1 665.9h0M828.8 689.2h0M834.0 701.4h0M750.9 826.0h0M847.0 786.2h0M749.2 856.9h0M806.6 681.2h0M868.5 688.9h0M745.7 852.7h0M845.7 830.4h0M801.1 734.4h0M858.5 799.7h0M780.6 788.2h0M843.2 716.3h0M730.3 753.8h0M838.5 735.3h0M788.1 694.5h0M808.6 707.2h0M799.8 610.1h0M730.9 590.6h0M794.5 634.0h0M814.0 667.0h0M793.6 850.1h0M845.2 659.5h0M811.0 762.7h0M858.2 809.9h0M777.0 632.3h0M784.9 756.8h0M798.2 821.3h0M873.3 811.4h0M762.8 747.2h0M819.7 715.4h0" stroke="#cc9020" stroke-width="4.5" stroke-linecap="round" opacity="0.8" fill="none"/>
<path d="M821.9 641.9h0M770.8 683.5h0M759.5 697.7h0M739.7 631.5h0M769.4 847.9h0M842.3 854.9h0M801.2 587.5h0M855.3 843.4h0M834.0 712.5h0M740.8 728.0h0M845.3 591.6h0M857.8 657.0h0M840.0 866.1h0M809.2 794.5h0M866.4 848.4h0M783.9 635.8h0M856.4 801.6h0M800.4 597.2h0M852.0 827.5h0M850.9 831.8h0M844.8 765.7h0M829.1 861.0h0M849.0 584.2h0M800.7 641.9h0M760.9 812.5h0M799.9 809.1h0M751.6 803.9h0M810.2 726.2h0M783.7 786.5h0M821.5 833.0h0M814.4 695.6h0M771.0 738.0h0M869.5 669.2h0" stroke="#c88a1c" stroke-width="6" stroke-linecap="round" opacity="0.8" fill="none"/>
<path d="M791.3 768.1h0M853.7 594.2h0M783.2 726.0h0M856.0 765.8h0M791.3 803.3h0M861.2 713.2h0M727.1 684.0h0M856.0 853.2h0M748.2 831.3h0M819.3 673.5h0M866.7 784.2h0M856.1 713.1h0M836.1 626.1h0M773.8 753.4h0M734.9 738.1h0M839.4 658.9h0M853.9 737.9h0M748.8 764.1h0M852.2 687.0h0M764.4 799.5h0M833.1 614.0h0M765.6 668.5h0M841.6 840.5h0M770.1 810.5h0M823.7 678.9h0M768.4 834.6h0M852.4 736.3h0M780.0 776.5h0M806.9 755.5h0M750.4 617.7h0M774.0 684.9h0M762.4 738.1h0M769.4 595.1h0M807.5 783.7h0M777.6 596.4h0M847.4 822.5h0M787.3 711.5h0M851.2 725.6h0M785.0 713.5h0M750.6 587.5h0M860.4 805.9h0M757.2 687.9h0M781.0 733.6h0M813.2 655.4h0M833.0 823.8h0M828.3 627.2h0M726.0 729.3h0" stroke="#c4801a" stroke-width="3" stroke-linecap="round" opacity="0.8" fill="none"/>
</g>
</g>
<line x1="695.4" y1="628" x2="695.4" y2="750.5" stroke="#fff" stroke-width="2.8" stroke-dasharray="9 5"/>
<line x1="709.4" y1="616.5" x2="709.4" y2="738" stroke="#fff" stroke-width="2.8" stroke-dasharray="9 5"/>
<line x1="721.8" y1="605.2" x2="721.8" y2="727.5" stroke="#fff" stroke-width="2.8" stroke-dasharray="9 5"/>
<path d="M698,792.3 L703,791.5 L707,793 L711,790.5 L715,792.5 L720,792 L724,790 L727,788.5 L730,792.5 L734.6,793 L734.6,769.7 L740,769 L745,771.5 L752,769.5 L758,770.5 L764,769.3 L772.3,770" fill="none" stroke="#f2ea00" stroke-width="1.6"/>
<rect x="1015" y="584" width="270" height="264" fill="#fdeee6"/>
<path d="M1015,584 L1143.3,584 L1015,706.1Z" fill="#e4e4fa"/>
<path d="M1015,818.9 L1285,784.9 L1285,848 L1015,848Z" fill="#def0f8"/>
<line x1="1015" y1="706.1" x2="1143.3" y2="584" stroke="#5a5a6a" stroke-width="0.9"/>
<line x1="1015" y1="818.9" x2="1285" y2="784.9" stroke="#4a5a6a" stroke-width="0.9"/>
<rect x="1015" y="584" width="270" height="264" fill="none" stroke="#6a6a6a" stroke-width="1.1"/>
<line x1="1015" y1="811.2" x2="1020" y2="811.2" stroke="#6a6a6a" stroke-width="1"/>
<line x1="1015" y1="765.9" x2="1020" y2="765.9" stroke="#6a6a6a" stroke-width="1"/>
<line x1="1015" y1="720.6" x2="1020" y2="720.6" stroke="#6a6a6a" stroke-width="1"/>
<line x1="1015" y1="675.2" x2="1020" y2="675.2" stroke="#6a6a6a" stroke-width="1"/>
<line x1="1015" y1="629.9" x2="1020" y2="629.9" stroke="#6a6a6a" stroke-width="1"/>
<line x1="1072.3" y1="848" x2="1072.3" y2="843" stroke="#6a6a6a" stroke-width="1"/>
<line x1="1143.3" y1="848" x2="1143.3" y2="843" stroke="#6a6a6a" stroke-width="1"/>
<line x1="1214.3" y1="848" x2="1214.3" y2="843" stroke="#6a6a6a" stroke-width="1"/>
<line x1="1101.4" y1="640" x2="1068" y2="628" stroke="#9a9a9a" stroke-width="2.4"/>
<path d="M1071.5,621.8 L1060.8,625.5 L1068.6,633.2Z" fill="#9a9a9a"/>
<text x="22.0" y="79.0" font-size="35" fill="#000" font-weight="bold" text-anchor="start" >a</text>
<text x="22.0" y="329.0" font-size="35" fill="#000" font-weight="bold" text-anchor="start" >b</text>
<text x="346.5" y="329.5" font-size="35" fill="#000" font-weight="bold" text-anchor="start" >c</text>
<text x="662.0" y="329.0" font-size="35" fill="#000" font-weight="bold" text-anchor="start" >d</text>
<text x="986.0" y="329.0" font-size="35" fill="#000" font-weight="bold" text-anchor="start" >e</text>
<text x="26.0" y="588.0" font-size="35" fill="#000" font-weight="bold" text-anchor="start" >f</text>
<text x="544.0" y="588.5" font-size="35" fill="#000" font-weight="bold" text-anchor="start" >g</text>
<text x="944.0" y="589.0" font-size="35" fill="#000" font-weight="bold" text-anchor="start" >h</text>
<text x="58.5" y="113.5" font-size="28" fill="#000" font-weight="bold" text-anchor="start" >(i)</text>
<text x="390.0" y="113.0" font-size="28" fill="#000" font-weight="bold" text-anchor="start" >(ii)</text>
<text x="691.0" y="113.0" font-size="28" fill="#000" font-weight="bold" text-anchor="start" >(iii)</text>
<text x="1006.0" y="113.5" font-size="28" fill="#000" font-weight="bold" text-anchor="start" >(iv)</text>
<text x="194.8" y="266.6" font-size="17.9" fill="#111" font-weight="normal" text-anchor="middle" >Initial crystallization</text>
<text x="194.8" y="288.0" font-size="17.9" fill="#111" font-weight="normal" text-anchor="middle" >at terrace step edges</text>
<text x="342.4" y="241.0" font-size="17.9" fill="#111" font-weight="normal" text-anchor="middle" >sapphire substrate</text>
<text x="515.0" y="265.8" font-size="17.9" fill="#111" font-weight="normal" text-anchor="middle" >Self-templated epitaxial</text>
<text x="515.5" y="287.0" font-size="17.9" fill="#111" font-weight="normal" text-anchor="middle" >multilayer growth</text>
<text x="829.6" y="266.0" font-size="17.9" fill="#111" font-weight="normal" text-anchor="middle" >Inter-domain stitching</text>
<text x="829.2" y="287.5" font-size="17.9" fill="#111" font-weight="normal" text-anchor="middle" >and grain merging</text>
<text x="1148.0" y="266.0" font-size="17.9" fill="#111" font-weight="normal" text-anchor="middle" >Wafer-scale epitaxial</text>
<text x="1148.0" y="287.5" font-size="17.9" fill="#111" font-weight="normal" text-anchor="middle" >NbS<tspan baseline-shift="-25%" font-size="70%">2</tspan> multilayer film</text>
<text x="72.1" y="338.0" font-size="17.9" fill="#fff" font-weight="normal" text-anchor="start" >Initial crystallization</text>
<text x="71.5" y="358.9" font-size="17.9" fill="#fff" font-weight="normal" text-anchor="start" >at terrace step edges</text>
<text x="141.4" y="482.0" font-size="17.9" fill="#fff" font-weight="normal" text-anchor="start" >Terrace step edges</text>
<text x="143.5" y="510.6" font-size="17.9" fill="#fff" font-weight="normal" text-anchor="start" >NbS<tspan baseline-shift="-25%" font-size="70%">2</tspan> nuclei</text>
<text x="259.5" y="521.0" font-size="17.5" fill="#fff" font-weight="bold" text-anchor="start" >500 nm</text>
<rect x="264.9" y="527" width="47.4" height="5.2" fill="#fff"/>
<text x="384.8" y="337.7" font-size="17.9" fill="#fff" font-weight="normal" text-anchor="start" >Self-templated epitaxial</text>
<text x="385.3" y="358.9" font-size="17.9" fill="#fff" font-weight="normal" text-anchor="start" >multilayer growth</text>
<text x="460.2" y="410.0" font-size="17.9" fill="#fff" font-weight="normal" text-anchor="start" >NbS<tspan baseline-shift="-25%" font-size="70%">2</tspan></text>
<text x="452.5" y="445.5" font-size="17.9" fill="#fff" font-weight="normal" text-anchor="start" >Sapphire</text>
<text x="451.5" y="466.1" font-size="17.9" fill="#fff" font-weight="normal" text-anchor="start" >substrate</text>
<text x="416.8" y="513.9" font-size="17.9" fill="#fff" font-weight="normal" text-anchor="start" >Terrace step edges</text>
<rect x="592.7" y="528" width="43.1" height="6" fill="#fff"/>
<text x="704.0" y="337.7" font-size="17.9" fill="#fff" font-weight="normal" text-anchor="start" >Inter-domain stitching</text>
<text x="704.0" y="359.0" font-size="17.9" fill="#fff" font-weight="normal" text-anchor="start" >and grain merging</text>
<text x="721.6" y="409.3" font-size="17.9" fill="#fff" font-weight="normal" text-anchor="start" >Sapphire substrate</text>
<text x="799.1" y="480.3" font-size="17.9" fill="#fff" font-weight="normal" text-anchor="start" >NbS<tspan baseline-shift="-25%" font-size="70%">2</tspan></text>
<rect x="912.1" y="528.4" width="43.2" height="5.6" fill="#fff"/>
<text x="1025.7" y="338.0" font-size="17.9" fill="#fff" font-weight="normal" text-anchor="start" >Continuous NbS<tspan baseline-shift="-25%" font-size="70%">2</tspan> film</text>
<rect x="1231" y="527.5" width="42.5" height="6" fill="#fff"/>
<text x="311.5" y="616.5" font-size="17.9" fill="#111" font-weight="normal" text-anchor="middle" >Side View</text>
<text x="57.6" y="639.0" font-size="17.9" fill="#111" font-weight="normal" text-anchor="start" >Vertical growth</text>
<text x="57.8" y="734.7" font-size="17.9" fill="#111" font-weight="normal" text-anchor="start" >Lateral growth</text>
<text x="304.0" y="842.0" font-size="17.9" fill="#111" font-weight="normal" text-anchor="middle" >sapphire substrate</text>
<text x="520.8" y="636.0" font-size="17.9" fill="#111" font-weight="normal" text-anchor="start" >Nb</text>
<text x="520.8" y="667.3" font-size="17.9" fill="#111" font-weight="normal" text-anchor="start" >S</text>
<text x="1256.5" y="72.0" font-size="17.9" fill="#111" font-weight="normal" text-anchor="start" >Nb</text>
<text x="1256.5" y="102.0" font-size="17.9" fill="#111" font-weight="normal" text-anchor="start" >S</text>
<text x="615.8" y="694.3" font-size="17.9" fill="#fff" font-weight="normal" text-anchor="start" >Terrace</text>
<text x="607.9" y="715.4" font-size="17.9" fill="#fff" font-weight="normal" text-anchor="start" >step edge</text>
<text x="744.8" y="675.9" font-size="17.9" fill="#fff" font-weight="normal" text-anchor="start" >NbS<tspan baseline-shift="-25%" font-size="70%">2</tspan> crystal</text>
<text x="744.6" y="793.0" font-size="17.9" fill="#f0e800" font-weight="normal" text-anchor="start" >~3 nm</text>
<text x="626.5" y="834.6" font-size="17.9" fill="#fff" font-weight="normal" text-anchor="start" >Sapphire</text>
<text x="625.3" y="854.9" font-size="17.9" fill="#fff" font-weight="normal" text-anchor="start" >substrate</text>
<text x="794.5" y="856.4" font-size="17.5" fill="#fff" font-weight="bold" text-anchor="start" >600 nm</text>
<rect x="801.5" y="829.7" width="46.2" height="4" fill="#fff"/>
<text x="900.0" y="614.0" font-size="12" fill="#222" font-weight="normal" text-anchor="middle" >nm</text>
<text x="899.0" y="630.0" font-size="12" fill="#222" font-weight="normal" text-anchor="middle" >4.00</text>
<text x="899.0" y="744.0" font-size="12" fill="#f0d8d0" font-weight="normal" text-anchor="middle" >0.00</text>
<text x="898.5" y="858.0" font-size="12" fill="#ddd" font-weight="normal" text-anchor="middle" >-4.00</text>
<text x="1111.2" y="651.5" font-size="17.9" fill="#111" font-weight="normal" text-anchor="start" >Lateral dominated</text>
<text x="1104.6" y="724.6" font-size="17.9" fill="#111" font-weight="normal" text-anchor="start" >Simultaneous</text>
<text x="1090.0" y="829.2" font-size="17.9" fill="#111" font-weight="normal" text-anchor="start" >Vertical dominated</text>
<text x="1009.8" y="589.6" font-size="14" fill="#222" font-weight="normal" text-anchor="end" >3.0</text>
<text x="1009.8" y="634.9" font-size="14" fill="#222" font-weight="normal" text-anchor="end" >2.5</text>
<text x="1009.8" y="680.2" font-size="14" fill="#222" font-weight="normal" text-anchor="end" >2.0</text>
<text x="1009.8" y="725.6" font-size="14" fill="#222" font-weight="normal" text-anchor="end" >1.5</text>
<text x="1009.8" y="770.9" font-size="14" fill="#222" font-weight="normal" text-anchor="end" >1.0</text>
<text x="1009.8" y="816.2" font-size="14" fill="#222" font-weight="normal" text-anchor="end" >0.5</text>
<text x="1072.3" y="866.0" font-size="14" fill="#222" font-weight="normal" text-anchor="middle" >0.25</text>
<text x="1143.3" y="866.0" font-size="14" fill="#222" font-weight="normal" text-anchor="middle" >0.50</text>
<text x="1214.3" y="866.0" font-size="14" fill="#222" font-weight="normal" text-anchor="middle" >0.75</text>
<text x="1285.3" y="866.0" font-size="14" fill="#222" font-weight="normal" text-anchor="middle" >1.00</text>
<text x="1081.5" y="887" font-size="15.2" fill="#222" font-style="italic">Γ = F<tspan font-size="10.5" font-style="normal" dy="2">seed</tspan><tspan dy="-2">/(F</tspan><tspan font-size="10.5" font-style="normal" dy="2">gas</tspan><tspan dy="-2" font-style="normal">+</tspan><tspan>F</tspan><tspan font-size="10.5" font-style="normal" dy="2">seed</tspan><tspan dy="-2">)</tspan></text>
<text transform="translate(983,743) rotate(-90)" font-size="16" fill="#222" font-style="italic">Λ = ℓ/L<tspan font-size="11" font-style="normal" dy="2">0</tspan></text></svg>
</body></html>
